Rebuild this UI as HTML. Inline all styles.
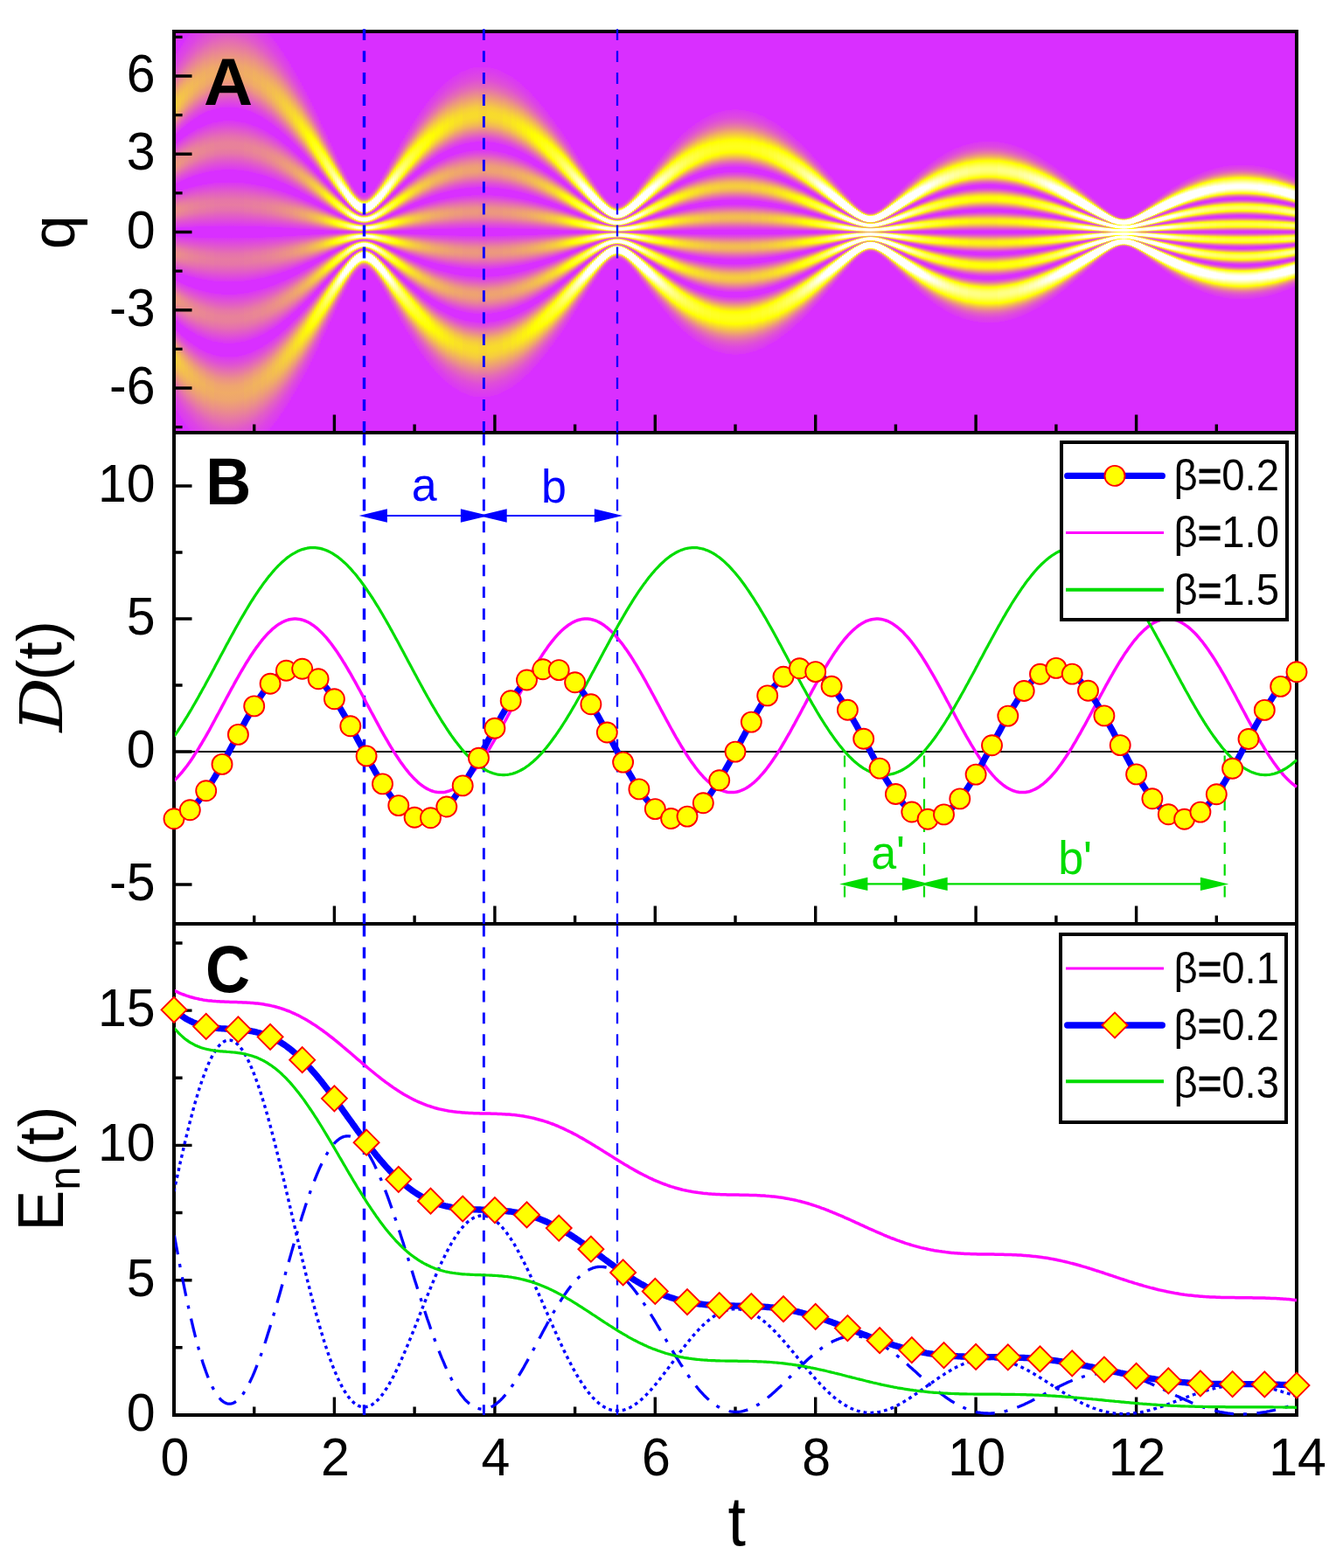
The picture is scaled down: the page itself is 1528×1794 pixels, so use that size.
<!DOCTYPE html>
<html lang="en"><head><meta charset="utf-8"><title>Damped quantum oscillator: q, D(t), En(t) versus t</title>
<style>html,body{margin:0;padding:0;background:#fff}body{width:1528px;height:1794px;overflow:hidden}svg{display:block}text{font-family:"Liberation Sans",Arial,Helvetica,sans-serif;fill:#000}.tk{font-size:59px}.ti{font-size:70px}.pl{font-size:72px;font-weight:bold}.lg{font-size:48px}.an{font-size:52px}.e{text-anchor:end}.m{text-anchor:middle}.eq{stroke:#000;stroke-width:1.1px}.sd{font-family:'DejaVu Serif','Liberation Serif',serif;font-style:italic;font-size:68px}</style></head><body>
<svg width="1528" height="1794" viewBox="0 0 1528 1794">
<defs>
<clipPath id="cA"><rect x="199" y="36" width="1284" height="459"/></clipPath>
<clipPath id="cB"><rect x="200" y="495" width="1284" height="562"/></clipPath>
<clipPath id="cC"><rect x="200" y="1057" width="1284" height="563"/></clipPath>
<linearGradient id="h0" gradientUnits="userSpaceOnUse" x1="0" y1="0" x2="0" y2="4.7" spreadMethod="reflect"><stop offset="0" stop-color="#d92fff"/><stop offset=".0218" stop-color="#d92fff"/><stop offset=".0223" stop-color="#db37f5"/><stop offset=".0516" stop-color="#e056cf"/><stop offset=".0793" stop-color="#e572ad"/><stop offset=".0989" stop-color="#e77ba2"/><stop offset=".1181" stop-color="#e676a8"/><stop offset=".142" stop-color="#e261c2"/><stop offset=".1787" stop-color="#db39f2"/><stop offset=".1809" stop-color="#db38f5"/><stop offset=".1814" stop-color="#d92fff"/><stop offset=".2266" stop-color="#d92fff"/><stop offset=".2271" stop-color="#db38f4"/><stop offset=".2553" stop-color="#e055d1"/><stop offset=".2867" stop-color="#e677a7"/><stop offset=".3074" stop-color="#e88299"/><stop offset=".3271" stop-color="#e8809c"/><stop offset=".35" stop-color="#e56fb0"/><stop offset=".3995" stop-color="#db3bf0"/><stop offset=".4048" stop-color="#db37f5"/><stop offset=".4053" stop-color="#d92fff"/><stop offset=".4543" stop-color="#d92fff"/><stop offset=".4548" stop-color="#db37f5"/><stop offset=".4814" stop-color="#df51d5"/><stop offset=".534" stop-color="#eb9088"/><stop offset=".5606" stop-color="#efa56f"/><stop offset=".5862" stop-color="#f0ab67"/><stop offset=".6144" stop-color="#eea56f"/><stop offset=".6543" stop-color="#ea8b8e"/><stop offset=".7229" stop-color="#e158cc"/><stop offset=".7713" stop-color="#dc41e9"/><stop offset=".809" stop-color="#db37f5"/><stop offset=".8096" stop-color="#d92fff"/><stop offset="1" stop-color="#d92fff"/></linearGradient>
<linearGradient id="h1" gradientUnits="userSpaceOnUse" x1="0" y1="0" x2="0" y2="4.7" spreadMethod="reflect"><stop offset="0" stop-color="#d92fff"/><stop offset=".0218" stop-color="#d92fff"/><stop offset=".0223" stop-color="#db38f4"/><stop offset=".0505" stop-color="#e056cf"/><stop offset=".0787" stop-color="#e674ab"/><stop offset=".0979" stop-color="#e77da0"/><stop offset=".1165" stop-color="#e779a4"/><stop offset=".1388" stop-color="#e366bc"/><stop offset=".1782" stop-color="#db3af2"/><stop offset=".1814" stop-color="#db37f5"/><stop offset=".1819" stop-color="#d92fff"/><stop offset=".2261" stop-color="#d92fff"/><stop offset=".2266" stop-color="#db37f5"/><stop offset=".2537" stop-color="#e054d2"/><stop offset=".2862" stop-color="#e679a5"/><stop offset=".3064" stop-color="#e98497"/><stop offset=".3261" stop-color="#e88398"/><stop offset=".3484" stop-color="#e573ac"/><stop offset=".3995" stop-color="#db3cef"/><stop offset=".4053" stop-color="#db37f5"/><stop offset=".4059" stop-color="#d92fff"/><stop offset=".4543" stop-color="#d92fff"/><stop offset=".4548" stop-color="#db38f4"/><stop offset=".4809" stop-color="#df51d5"/><stop offset=".534" stop-color="#eb9384"/><stop offset=".5601" stop-color="#efa86b"/><stop offset=".5851" stop-color="#f0af62"/><stop offset=".6128" stop-color="#efa969"/><stop offset=".6505" stop-color="#eb9187"/><stop offset=".7218" stop-color="#e15aca"/><stop offset=".7691" stop-color="#dd43e7"/><stop offset=".8106" stop-color="#db37f5"/><stop offset=".8112" stop-color="#d92fff"/><stop offset="1" stop-color="#d92fff"/></linearGradient>
<linearGradient id="h2" gradientUnits="userSpaceOnUse" x1="0" y1="0" x2="0" y2="4.7" spreadMethod="reflect"><stop offset="0" stop-color="#d92fff"/><stop offset=".0213" stop-color="#d92fff"/><stop offset=".0218" stop-color="#db37f5"/><stop offset=".0484" stop-color="#e054d1"/><stop offset=".0777" stop-color="#e675a9"/><stop offset=".0968" stop-color="#e87f9d"/><stop offset=".1149" stop-color="#e77ca1"/><stop offset=".1362" stop-color="#e46ab6"/><stop offset=".1782" stop-color="#db3af1"/><stop offset=".1814" stop-color="#db38f4"/><stop offset=".1819" stop-color="#d92fff"/><stop offset=".2255" stop-color="#d92fff"/><stop offset=".2261" stop-color="#db37f5"/><stop offset=".2521" stop-color="#e053d3"/><stop offset=".2856" stop-color="#e77aa3"/><stop offset=".3059" stop-color="#e98794"/><stop offset=".325" stop-color="#e98695"/><stop offset=".3468" stop-color="#e676a7"/><stop offset=".3995" stop-color="#db3cef"/><stop offset=".4053" stop-color="#db38f4"/><stop offset=".4059" stop-color="#d92fff"/><stop offset=".4537" stop-color="#d92fff"/><stop offset=".4543" stop-color="#db38f4"/><stop offset=".4798" stop-color="#df51d5"/><stop offset=".5335" stop-color="#ec9681"/><stop offset=".559" stop-color="#f0ab67"/><stop offset=".5835" stop-color="#f1b35d"/><stop offset=".6101" stop-color="#f0ae63"/><stop offset=".6457" stop-color="#ec987f"/><stop offset=".7207" stop-color="#e15cc8"/><stop offset=".7676" stop-color="#dd44e5"/><stop offset=".8117" stop-color="#db37f5"/><stop offset=".8122" stop-color="#d92fff"/><stop offset="1" stop-color="#d92fff"/></linearGradient>
<linearGradient id="h3" gradientUnits="userSpaceOnUse" x1="0" y1="0" x2="0" y2="4.7" spreadMethod="reflect"><stop offset="0" stop-color="#d92fff"/><stop offset=".0207" stop-color="#d92fff"/><stop offset=".0213" stop-color="#db37f5"/><stop offset=".0468" stop-color="#e053d2"/><stop offset=".0766" stop-color="#e676a7"/><stop offset=".0957" stop-color="#e8819a"/><stop offset=".1138" stop-color="#e87f9d"/><stop offset=".1346" stop-color="#e56eb2"/><stop offset=".1782" stop-color="#db3bf1"/><stop offset=".1819" stop-color="#db38f4"/><stop offset=".1824" stop-color="#d92fff"/><stop offset=".2255" stop-color="#d92fff"/><stop offset=".2261" stop-color="#db38f4"/><stop offset=".2516" stop-color="#e054d2"/><stop offset=".2851" stop-color="#e77ca0"/><stop offset=".3053" stop-color="#e98990"/><stop offset=".3245" stop-color="#e98991"/><stop offset=".3457" stop-color="#e77aa3"/><stop offset=".3995" stop-color="#db3dee"/><stop offset=".4059" stop-color="#db38f5"/><stop offset=".4064" stop-color="#d92fff"/><stop offset=".4532" stop-color="#d92fff"/><stop offset=".4537" stop-color="#db37f5"/><stop offset=".4782" stop-color="#df50d6"/><stop offset=".5335" stop-color="#ec997d"/><stop offset=".559" stop-color="#f0af62"/><stop offset=".583" stop-color="#f2b758"/><stop offset=".609" stop-color="#f1b25e"/><stop offset=".6431" stop-color="#ed9d78"/><stop offset=".7207" stop-color="#e25ec6"/><stop offset=".7665" stop-color="#dd45e4"/><stop offset=".8133" stop-color="#db37f5"/><stop offset=".8138" stop-color="#d92fff"/><stop offset="1" stop-color="#d92fff"/></linearGradient>
<linearGradient id="h4" gradientUnits="userSpaceOnUse" x1="0" y1="0" x2="0" y2="4.7" spreadMethod="reflect"><stop offset="0" stop-color="#d92fff"/><stop offset=".0207" stop-color="#d92fff"/><stop offset=".0213" stop-color="#db38f4"/><stop offset=".0463" stop-color="#e054d2"/><stop offset=".0766" stop-color="#e679a5"/><stop offset=".0952" stop-color="#e88497"/><stop offset=".1128" stop-color="#e88299"/><stop offset=".133" stop-color="#e572ad"/><stop offset=".1782" stop-color="#db3bf0"/><stop offset=".1824" stop-color="#db37f5"/><stop offset=".183" stop-color="#d92fff"/><stop offset=".225" stop-color="#d92fff"/><stop offset=".2255" stop-color="#db37f5"/><stop offset=".25" stop-color="#e053d3"/><stop offset=".2846" stop-color="#e77e9e"/><stop offset=".3043" stop-color="#ea8c8d"/><stop offset=".3229" stop-color="#ea8c8d"/><stop offset=".3431" stop-color="#e87f9d"/><stop offset=".4" stop-color="#db3dee"/><stop offset=".4064" stop-color="#db37f5"/><stop offset=".4069" stop-color="#d92fff"/><stop offset=".4527" stop-color="#d92fff"/><stop offset=".4532" stop-color="#db37f5"/><stop offset=".4771" stop-color="#df50d7"/><stop offset=".5335" stop-color="#ed9c79"/><stop offset=".5585" stop-color="#f1b35e"/><stop offset=".5824" stop-color="#f3bb53"/><stop offset=".608" stop-color="#f2b759"/><stop offset=".641" stop-color="#eea272"/><stop offset=".7202" stop-color="#e25fc4"/><stop offset=".7654" stop-color="#dd46e3"/><stop offset=".8149" stop-color="#db37f5"/><stop offset=".8154" stop-color="#d92fff"/><stop offset="1" stop-color="#d92fff"/></linearGradient>
<linearGradient id="h5" gradientUnits="userSpaceOnUse" x1="0" y1="0" x2="0" y2="4.7" spreadMethod="reflect"><stop offset="0" stop-color="#d92fff"/><stop offset=".0202" stop-color="#d92fff"/><stop offset=".0207" stop-color="#db37f5"/><stop offset=".0447" stop-color="#e053d3"/><stop offset=".0755" stop-color="#e77aa3"/><stop offset=".0941" stop-color="#e98694"/><stop offset=".1117" stop-color="#e98596"/><stop offset=".1309" stop-color="#e676a8"/><stop offset=".1782" stop-color="#db3bf0"/><stop offset=".1824" stop-color="#db38f4"/><stop offset=".183" stop-color="#d92fff"/><stop offset=".2245" stop-color="#d92fff"/><stop offset=".225" stop-color="#db37f5"/><stop offset=".2484" stop-color="#df52d5"/><stop offset=".284" stop-color="#e8809c"/><stop offset=".3037" stop-color="#ea8e8a"/><stop offset=".3218" stop-color="#eb8f89"/><stop offset=".3415" stop-color="#e88399"/><stop offset=".3734" stop-color="#e15cc8"/><stop offset=".4016" stop-color="#db3cf0"/><stop offset=".4064" stop-color="#db38f4"/><stop offset=".4069" stop-color="#d92fff"/><stop offset=".4527" stop-color="#d92fff"/><stop offset=".4532" stop-color="#db38f4"/><stop offset=".4766" stop-color="#df50d6"/><stop offset=".533" stop-color="#ed9f76"/><stop offset=".5574" stop-color="#f2b65a"/><stop offset=".5809" stop-color="#f3bf4e"/><stop offset=".6059" stop-color="#f3bc52"/><stop offset=".6372" stop-color="#efa96a"/><stop offset=".7202" stop-color="#e261c2"/><stop offset=".7649" stop-color="#dd47e2"/><stop offset=".816" stop-color="#db37f5"/><stop offset=".8165" stop-color="#d92fff"/><stop offset="1" stop-color="#d92fff"/></linearGradient>
<linearGradient id="h6" gradientUnits="userSpaceOnUse" x1="0" y1="0" x2="0" y2="4.7" spreadMethod="reflect"><stop offset="0" stop-color="#d92fff"/><stop offset=".0202" stop-color="#d92fff"/><stop offset=".0207" stop-color="#db38f4"/><stop offset=".0441" stop-color="#e053d3"/><stop offset=".0755" stop-color="#e77ca0"/><stop offset=".0936" stop-color="#e98991"/><stop offset=".1106" stop-color="#e98892"/><stop offset=".1293" stop-color="#e77aa3"/><stop offset=".1782" stop-color="#db3cef"/><stop offset=".183" stop-color="#db38f5"/><stop offset=".1835" stop-color="#d92fff"/><stop offset=".2245" stop-color="#d92fff"/><stop offset=".225" stop-color="#db38f4"/><stop offset=".2479" stop-color="#df52d4"/><stop offset=".2835" stop-color="#e88299"/><stop offset=".3027" stop-color="#eb9187"/><stop offset=".3207" stop-color="#eb9285"/><stop offset=".3399" stop-color="#e98794"/><stop offset=".3681" stop-color="#e365bd"/><stop offset=".3995" stop-color="#dc3eed"/><stop offset=".4069" stop-color="#db38f5"/><stop offset=".4074" stop-color="#d92fff"/><stop offset=".4521" stop-color="#d92fff"/><stop offset=".4527" stop-color="#db38f5"/><stop offset=".4755" stop-color="#df50d7"/><stop offset=".533" stop-color="#eea371"/><stop offset=".5574" stop-color="#f2ba54"/><stop offset=".5803" stop-color="#f4c449"/><stop offset=".6048" stop-color="#f4c04d"/><stop offset=".6351" stop-color="#f0ae63"/><stop offset=".7202" stop-color="#e263c0"/><stop offset=".7638" stop-color="#de48e0"/><stop offset=".8144" stop-color="#db38f4"/><stop offset=".8176" stop-color="#db37f5"/><stop offset=".8181" stop-color="#d92fff"/><stop offset="1" stop-color="#d92fff"/></linearGradient>
<linearGradient id="h7" gradientUnits="userSpaceOnUse" x1="0" y1="0" x2="0" y2="4.7" spreadMethod="reflect"><stop offset="0" stop-color="#d92fff"/><stop offset=".0197" stop-color="#d92fff"/><stop offset=".0202" stop-color="#db38f5"/><stop offset=".0426" stop-color="#df52d4"/><stop offset=".075" stop-color="#e77e9e"/><stop offset=".0931" stop-color="#ea8b8e"/><stop offset=".1101" stop-color="#ea8b8e"/><stop offset=".1287" stop-color="#e77d9f"/><stop offset=".1782" stop-color="#db3cef"/><stop offset=".1835" stop-color="#db37f5"/><stop offset=".184" stop-color="#d92fff"/><stop offset=".2239" stop-color="#d92fff"/><stop offset=".2245" stop-color="#db37f5"/><stop offset=".2468" stop-color="#df52d5"/><stop offset=".2835" stop-color="#e98496"/><stop offset=".3027" stop-color="#eb9483"/><stop offset=".3202" stop-color="#ec9581"/><stop offset=".3394" stop-color="#ea8a90"/><stop offset=".3665" stop-color="#e469b8"/><stop offset=".3984" stop-color="#dc40eb"/><stop offset=".4074" stop-color="#db37f5"/><stop offset=".408" stop-color="#d92fff"/><stop offset=".4516" stop-color="#d92fff"/><stop offset=".4521" stop-color="#db37f5"/><stop offset=".4745" stop-color="#df50d7"/><stop offset=".533" stop-color="#efa66d"/><stop offset=".5569" stop-color="#f3be50"/><stop offset=".5798" stop-color="#f5c843"/><stop offset=".6037" stop-color="#f4c547"/><stop offset=".633" stop-color="#f1b45c"/><stop offset=".7207" stop-color="#e364be"/><stop offset=".7638" stop-color="#de49df"/><stop offset=".8133" stop-color="#db39f3"/><stop offset=".8186" stop-color="#db37f5"/><stop offset=".8191" stop-color="#d92fff"/><stop offset="1" stop-color="#d92fff"/></linearGradient>
<linearGradient id="h8" gradientUnits="userSpaceOnUse" x1="0" y1="0" x2="0" y2="4.7" spreadMethod="reflect"><stop offset="0" stop-color="#d92fff"/><stop offset=".0191" stop-color="#d92fff"/><stop offset=".0197" stop-color="#db37f5"/><stop offset=".0415" stop-color="#df52d5"/><stop offset=".0745" stop-color="#e8809c"/><stop offset=".0926" stop-color="#ea8e8b"/><stop offset=".109" stop-color="#ea8e8a"/><stop offset=".1271" stop-color="#e8819a"/><stop offset=".1569" stop-color="#e158cc"/><stop offset=".1809" stop-color="#db3af1"/><stop offset=".1835" stop-color="#db38f4"/><stop offset=".184" stop-color="#d92fff"/><stop offset=".2239" stop-color="#d92fff"/><stop offset=".2245" stop-color="#db38f4"/><stop offset=".2463" stop-color="#df52d4"/><stop offset=".283" stop-color="#e98794"/><stop offset=".3021" stop-color="#ec9780"/><stop offset=".3197" stop-color="#ec997d"/><stop offset=".3383" stop-color="#ea8e8b"/><stop offset=".3633" stop-color="#e56fb0"/><stop offset=".3973" stop-color="#dc41e9"/><stop offset=".4074" stop-color="#db38f4"/><stop offset=".408" stop-color="#d92fff"/><stop offset=".4516" stop-color="#d92fff"/><stop offset=".4521" stop-color="#db38f4"/><stop offset=".4739" stop-color="#df50d7"/><stop offset=".5324" stop-color="#efa969"/><stop offset=".5564" stop-color="#f4c24b"/><stop offset=".5787" stop-color="#f6cd3e"/><stop offset=".6021" stop-color="#f5cb40"/><stop offset=".6303" stop-color="#f2ba55"/><stop offset=".7207" stop-color="#e365bc"/><stop offset=".7633" stop-color="#de4ade"/><stop offset=".8122" stop-color="#db39f3"/><stop offset=".8202" stop-color="#db37f5"/><stop offset=".8207" stop-color="#d92fff"/><stop offset="1" stop-color="#d92fff"/></linearGradient>
<linearGradient id="h9" gradientUnits="userSpaceOnUse" x1="0" y1="0" x2="0" y2="4.7" spreadMethod="reflect"><stop offset="0" stop-color="#d92fff"/><stop offset=".0191" stop-color="#d92fff"/><stop offset=".0197" stop-color="#db38f4"/><stop offset=".041" stop-color="#df52d4"/><stop offset=".0739" stop-color="#e8829a"/><stop offset=".0915" stop-color="#eb9088"/><stop offset=".108" stop-color="#eb9286"/><stop offset=".1255" stop-color="#e98595"/><stop offset=".1511" stop-color="#e263c0"/><stop offset=".1782" stop-color="#dc3dee"/><stop offset=".184" stop-color="#db37f5"/><stop offset=".1846" stop-color="#d92fff"/><stop offset=".2234" stop-color="#d92fff"/><stop offset=".2239" stop-color="#db38f5"/><stop offset=".2452" stop-color="#df51d5"/><stop offset=".283" stop-color="#e98990"/><stop offset=".3016" stop-color="#ec9a7c"/><stop offset=".3186" stop-color="#ed9c79"/><stop offset=".3367" stop-color="#eb9286"/><stop offset=".3601" stop-color="#e676a8"/><stop offset=".3968" stop-color="#dd42e7"/><stop offset=".408" stop-color="#db38f4"/><stop offset=".4085" stop-color="#d92fff"/><stop offset=".4511" stop-color="#d92fff"/><stop offset=".4516" stop-color="#db38f5"/><stop offset=".4729" stop-color="#df4fd7"/><stop offset=".5324" stop-color="#f0ad65"/><stop offset=".5559" stop-color="#f5c646"/><stop offset=".5777" stop-color="#f7d138"/><stop offset=".6005" stop-color="#f6d03a"/><stop offset=".6277" stop-color="#f4c04d"/><stop offset=".6803" stop-color="#ea8d8c"/><stop offset=".7277" stop-color="#e262c1"/><stop offset=".7697" stop-color="#de48e1"/><stop offset=".8191" stop-color="#db38f4"/><stop offset=".8218" stop-color="#db37f5"/><stop offset=".8223" stop-color="#d92fff"/><stop offset="1" stop-color="#d92fff"/></linearGradient>
<linearGradient id="h10" gradientUnits="userSpaceOnUse" x1="0" y1="0" x2="0" y2="4.7" spreadMethod="reflect"><stop offset="0" stop-color="#d92fff"/><stop offset=".0186" stop-color="#d92fff"/><stop offset=".0191" stop-color="#db37f5"/><stop offset=".0399" stop-color="#df51d5"/><stop offset=".0739" stop-color="#e98496"/><stop offset=".0915" stop-color="#eb9384"/><stop offset=".1074" stop-color="#ec9582"/><stop offset=".1245" stop-color="#e98991"/><stop offset=".1484" stop-color="#e468b9"/><stop offset=".1771" stop-color="#dc3fec"/><stop offset=".184" stop-color="#db38f4"/><stop offset=".1846" stop-color="#d92fff"/><stop offset=".2229" stop-color="#d92fff"/><stop offset=".2234" stop-color="#db37f5"/><stop offset=".2441" stop-color="#df51d6"/><stop offset=".2824" stop-color="#ea8b8e"/><stop offset=".3011" stop-color="#ed9d79"/><stop offset=".3181" stop-color="#eea075"/><stop offset=".3356" stop-color="#ec9681"/><stop offset=".358" stop-color="#e77ba2"/><stop offset=".3963" stop-color="#dd44e6"/><stop offset=".4085" stop-color="#db37f5"/><stop offset=".409" stop-color="#d92fff"/><stop offset=".4505" stop-color="#d92fff"/><stop offset=".4511" stop-color="#db37f5"/><stop offset=".4718" stop-color="#df4fd8"/><stop offset=".5324" stop-color="#f1b160"/><stop offset=".5553" stop-color="#f5ca41"/><stop offset=".5771" stop-color="#f8d632"/><stop offset=".6" stop-color="#f7d533"/><stop offset=".6266" stop-color="#f5c646"/><stop offset=".6734" stop-color="#ec977f"/><stop offset=".7234" stop-color="#e367bb"/><stop offset=".7649" stop-color="#de4bdd"/><stop offset=".8122" stop-color="#db3af2"/><stop offset=".8229" stop-color="#db37f5"/><stop offset=".8234" stop-color="#d92fff"/><stop offset="1" stop-color="#d92fff"/></linearGradient>
<linearGradient id="h11" gradientUnits="userSpaceOnUse" x1="0" y1="0" x2="0" y2="4.7" spreadMethod="reflect"><stop offset="0" stop-color="#d92fff"/><stop offset=".0186" stop-color="#d92fff"/><stop offset=".0191" stop-color="#db38f4"/><stop offset=".0394" stop-color="#df52d5"/><stop offset=".0734" stop-color="#e98694"/><stop offset=".091" stop-color="#ec9681"/><stop offset=".1069" stop-color="#ec987e"/><stop offset=".1234" stop-color="#ea8d8c"/><stop offset=".1457" stop-color="#e56fb1"/><stop offset=".1761" stop-color="#dc41e9"/><stop offset=".1846" stop-color="#db38f4"/><stop offset=".1851" stop-color="#d92fff"/><stop offset=".2229" stop-color="#d92fff"/><stop offset=".2234" stop-color="#db38f4"/><stop offset=".2436" stop-color="#df51d5"/><stop offset=".2824" stop-color="#ea8e8a"/><stop offset=".3005" stop-color="#eea075"/><stop offset=".317" stop-color="#eea370"/><stop offset=".3346" stop-color="#ed9a7c"/><stop offset=".3559" stop-color="#e8819b"/><stop offset=".3963" stop-color="#dd44e5"/><stop offset=".4085" stop-color="#db38f4"/><stop offset=".409" stop-color="#d92fff"/><stop offset=".4505" stop-color="#d92fff"/><stop offset=".4511" stop-color="#db38f4"/><stop offset=".4718" stop-color="#df50d7"/><stop offset=".5324" stop-color="#f1b55b"/><stop offset=".5553" stop-color="#f6cf3b"/><stop offset=".5766" stop-color="#f8db2c"/><stop offset=".5989" stop-color="#f8da2d"/><stop offset=".625" stop-color="#f6cc3f"/><stop offset=".667" stop-color="#eea173"/><stop offset=".7197" stop-color="#e46cb5"/><stop offset=".7601" stop-color="#df4ed8"/><stop offset=".8053" stop-color="#db3cef"/><stop offset=".8245" stop-color="#db37f5"/><stop offset=".825" stop-color="#d92fff"/><stop offset="1" stop-color="#d92fff"/></linearGradient>
<linearGradient id="h12" gradientUnits="userSpaceOnUse" x1="0" y1="0" x2="0" y2="4.7" spreadMethod="reflect"><stop offset="0" stop-color="#d92fff"/><stop offset=".0181" stop-color="#d92fff"/><stop offset=".0186" stop-color="#db38f5"/><stop offset=".0383" stop-color="#df51d5"/><stop offset=".0734" stop-color="#e98991"/><stop offset=".0904" stop-color="#ec997d"/><stop offset=".1059" stop-color="#ed9c7a"/><stop offset=".1223" stop-color="#eb9187"/><stop offset=".1436" stop-color="#e674aa"/><stop offset=".1755" stop-color="#dc42e8"/><stop offset=".1851" stop-color="#db37f5"/><stop offset=".1856" stop-color="#d92fff"/><stop offset=".2223" stop-color="#d92fff"/><stop offset=".2229" stop-color="#db37f5"/><stop offset=".2426" stop-color="#df50d6"/><stop offset=".2819" stop-color="#eb9088"/><stop offset=".3" stop-color="#eea371"/><stop offset=".3165" stop-color="#efa76c"/><stop offset=".3335" stop-color="#ed9e76"/><stop offset=".3543" stop-color="#e98595"/><stop offset=".3963" stop-color="#dd45e4"/><stop offset=".409" stop-color="#db38f5"/><stop offset=".4096" stop-color="#d92fff"/><stop offset=".45" stop-color="#d92fff"/><stop offset=".4505" stop-color="#db37f5"/><stop offset=".4707" stop-color="#df4fd7"/><stop offset=".5059" stop-color="#ea8c8d"/><stop offset=".5356" stop-color="#f3bd50"/><stop offset=".5574" stop-color="#f7d632"/><stop offset=".5782" stop-color="#f9e125"/><stop offset=".6" stop-color="#f9df27"/><stop offset=".6261" stop-color="#f6cf3a"/><stop offset=".6691" stop-color="#eea371"/><stop offset=".7197" stop-color="#e46db2"/><stop offset=".7596" stop-color="#df50d7"/><stop offset=".8043" stop-color="#db3dee"/><stop offset=".8255" stop-color="#db37f5"/><stop offset=".8261" stop-color="#d92fff"/><stop offset="1" stop-color="#d92fff"/></linearGradient>
<linearGradient id="h13" gradientUnits="userSpaceOnUse" x1="0" y1="0" x2="0" y2="4.7" spreadMethod="reflect"><stop offset="0" stop-color="#d92fff"/><stop offset=".0176" stop-color="#d92fff"/><stop offset=".0181" stop-color="#db37f5"/><stop offset=".0372" stop-color="#df50d6"/><stop offset=".0734" stop-color="#ea8c8d"/><stop offset=".0904" stop-color="#ed9c79"/><stop offset=".1059" stop-color="#ed9f76"/><stop offset=".1218" stop-color="#ec9583"/><stop offset=".142" stop-color="#e679a5"/><stop offset=".1755" stop-color="#dd42e7"/><stop offset=".1851" stop-color="#db38f4"/><stop offset=".1856" stop-color="#d92fff"/><stop offset=".2223" stop-color="#d92fff"/><stop offset=".2229" stop-color="#db38f4"/><stop offset=".242" stop-color="#df51d6"/><stop offset=".2819" stop-color="#eb9384"/><stop offset=".3" stop-color="#efa66d"/><stop offset=".316" stop-color="#f0ab67"/><stop offset=".3324" stop-color="#eea371"/><stop offset=".3521" stop-color="#ea8b8e"/><stop offset=".3963" stop-color="#dd46e3"/><stop offset=".4096" stop-color="#db37f5"/><stop offset=".4101" stop-color="#d92fff"/><stop offset=".45" stop-color="#d92fff"/><stop offset=".4505" stop-color="#db38f4"/><stop offset=".4702" stop-color="#df50d7"/><stop offset=".5027" stop-color="#e98991"/><stop offset=".5335" stop-color="#f3bf4f"/><stop offset=".5553" stop-color="#f8d92e"/><stop offset=".5761" stop-color="#fae61f"/><stop offset=".5973" stop-color="#fae61f"/><stop offset=".6218" stop-color="#f8d830"/><stop offset=".658" stop-color="#f1b35d"/><stop offset=".716" stop-color="#e573ac"/><stop offset=".7553" stop-color="#e053d2"/><stop offset=".7984" stop-color="#dc3feb"/><stop offset=".8271" stop-color="#db37f5"/><stop offset=".8277" stop-color="#d92fff"/><stop offset="1" stop-color="#d92fff"/></linearGradient>
<linearGradient id="h14" gradientUnits="userSpaceOnUse" x1="0" y1="0" x2="0" y2="4.7" spreadMethod="reflect"><stop offset="0" stop-color="#d92fff"/><stop offset=".0176" stop-color="#d92fff"/><stop offset=".0181" stop-color="#db38f4"/><stop offset=".0367" stop-color="#df51d6"/><stop offset=".0729" stop-color="#ea8e8b"/><stop offset=".0894" stop-color="#ed9f76"/><stop offset=".1048" stop-color="#eea371"/><stop offset=".1202" stop-color="#ec997d"/><stop offset=".1394" stop-color="#e87f9c"/><stop offset=".175" stop-color="#dd44e5"/><stop offset=".1856" stop-color="#db37f5"/><stop offset=".1862" stop-color="#d92fff"/><stop offset=".2218" stop-color="#d92fff"/><stop offset=".2223" stop-color="#db38f5"/><stop offset=".241" stop-color="#df50d7"/><stop offset=".2819" stop-color="#ec9680"/><stop offset=".2995" stop-color="#efaa69"/><stop offset=".3154" stop-color="#f0af63"/><stop offset=".3319" stop-color="#efa76c"/><stop offset=".3511" stop-color="#eb9088"/><stop offset=".3957" stop-color="#dd47e1"/><stop offset=".4096" stop-color="#db38f4"/><stop offset=".4101" stop-color="#d92fff"/><stop offset=".4495" stop-color="#d92fff"/><stop offset=".45" stop-color="#db38f4"/><stop offset=".4691" stop-color="#df4fd8"/><stop offset=".4989" stop-color="#e98496"/><stop offset=".5314" stop-color="#f3c04d"/><stop offset=".5532" stop-color="#f9dc2b"/><stop offset=".5734" stop-color="#fbea19"/><stop offset=".5941" stop-color="#fcec17"/><stop offset=".6176" stop-color="#f9e125"/><stop offset=".6495" stop-color="#f4c14c"/><stop offset=".7144" stop-color="#e677a7"/><stop offset=".7532" stop-color="#e056cf"/><stop offset=".7952" stop-color="#dc41e9"/><stop offset=".8287" stop-color="#db37f5"/><stop offset=".8293" stop-color="#d92fff"/><stop offset="1" stop-color="#d92fff"/></linearGradient>
<linearGradient id="h15" gradientUnits="userSpaceOnUse" x1="0" y1="0" x2="0" y2="4.7" spreadMethod="reflect"><stop offset="0" stop-color="#d92fff"/><stop offset=".017" stop-color="#d92fff"/><stop offset=".0176" stop-color="#db37f5"/><stop offset=".0356" stop-color="#df50d7"/><stop offset=".0729" stop-color="#eb9187"/><stop offset=".0894" stop-color="#eea272"/><stop offset=".1043" stop-color="#efa66d"/><stop offset=".1197" stop-color="#ed9d78"/><stop offset=".1383" stop-color="#e88497"/><stop offset=".175" stop-color="#dd44e5"/><stop offset=".1856" stop-color="#db38f4"/><stop offset=".1862" stop-color="#d92fff"/><stop offset=".2213" stop-color="#d92fff"/><stop offset=".2218" stop-color="#db37f5"/><stop offset=".2399" stop-color="#df4fd7"/><stop offset=".2819" stop-color="#ec9a7c"/><stop offset=".2995" stop-color="#f0ad64"/><stop offset=".3154" stop-color="#f1b35e"/><stop offset=".3314" stop-color="#f0ab67"/><stop offset=".35" stop-color="#ec9483"/><stop offset=".3957" stop-color="#de48e0"/><stop offset=".4101" stop-color="#db37f5"/><stop offset=".4106" stop-color="#d92fff"/><stop offset=".4489" stop-color="#d92fff"/><stop offset=".4495" stop-color="#db37f5"/><stop offset=".4686" stop-color="#df4fd8"/><stop offset=".4968" stop-color="#e88398"/><stop offset=".5309" stop-color="#f4c349"/><stop offset=".5527" stop-color="#fae125"/><stop offset=".5729" stop-color="#fcf012"/><stop offset=".5936" stop-color="#fdf210"/><stop offset=".6165" stop-color="#fbe71e"/><stop offset=".6473" stop-color="#f5c843"/><stop offset=".7138" stop-color="#e779a4"/><stop offset=".7521" stop-color="#e058cd"/><stop offset=".7931" stop-color="#dc42e8"/><stop offset=".8298" stop-color="#db37f5"/><stop offset=".8303" stop-color="#d92fff"/><stop offset="1" stop-color="#d92fff"/></linearGradient>
<linearGradient id="h16" gradientUnits="userSpaceOnUse" x1="0" y1="0" x2="0" y2="4.7" spreadMethod="reflect"><stop offset="0" stop-color="#d92fff"/><stop offset=".017" stop-color="#d92fff"/><stop offset=".0176" stop-color="#db38f4"/><stop offset=".0351" stop-color="#df50d7"/><stop offset=".0729" stop-color="#eb9484"/><stop offset=".0894" stop-color="#efa66d"/><stop offset=".1043" stop-color="#efaa68"/><stop offset=".1191" stop-color="#eea173"/><stop offset=".1372" stop-color="#e98892"/><stop offset=".175" stop-color="#dd45e4"/><stop offset=".1862" stop-color="#db38f5"/><stop offset=".1867" stop-color="#d92fff"/><stop offset=".2213" stop-color="#d92fff"/><stop offset=".2218" stop-color="#db38f4"/><stop offset=".2399" stop-color="#df50d6"/><stop offset=".2814" stop-color="#ed9c79"/><stop offset=".2984" stop-color="#f1b060"/><stop offset=".3138" stop-color="#f2b759"/><stop offset=".3298" stop-color="#f1b061"/><stop offset=".3479" stop-color="#ed9b7b"/><stop offset=".3963" stop-color="#de48e0"/><stop offset=".4101" stop-color="#db38f4"/><stop offset=".4106" stop-color="#d92fff"/><stop offset=".4489" stop-color="#d92fff"/><stop offset=".4495" stop-color="#db38f4"/><stop offset=".4681" stop-color="#df4fd7"/><stop offset=".4947" stop-color="#e8819a"/><stop offset=".5298" stop-color="#f5c646"/><stop offset=".5511" stop-color="#fae520"/><stop offset=".5707" stop-color="#fdf50c"/><stop offset=".591" stop-color="#fef908"/><stop offset=".6133" stop-color="#fcef14"/><stop offset=".642" stop-color="#f7d336"/><stop offset=".7144" stop-color="#e77ba2"/><stop offset=".7521" stop-color="#e159cb"/><stop offset=".7926" stop-color="#dd43e7"/><stop offset=".8314" stop-color="#db37f5"/><stop offset=".8319" stop-color="#d92fff"/><stop offset="1" stop-color="#d92fff"/></linearGradient>
<linearGradient id="h17" gradientUnits="userSpaceOnUse" x1="0" y1="0" x2="0" y2="4.7" spreadMethod="reflect"><stop offset="0" stop-color="#d92fff"/><stop offset=".0165" stop-color="#d92fff"/><stop offset=".017" stop-color="#db37f5"/><stop offset=".034" stop-color="#df4fd8"/><stop offset=".0729" stop-color="#ec9780"/><stop offset=".0888" stop-color="#efa969"/><stop offset=".1032" stop-color="#f0ae64"/><stop offset=".1181" stop-color="#efa66e"/><stop offset=".1356" stop-color="#ea8e8b"/><stop offset=".175" stop-color="#dd46e3"/><stop offset=".1862" stop-color="#db38f4"/><stop offset=".1867" stop-color="#d92fff"/><stop offset=".2207" stop-color="#d92fff"/><stop offset=".2213" stop-color="#db37f5"/><stop offset=".2388" stop-color="#df4fd7"/><stop offset=".2814" stop-color="#ee9f75"/><stop offset=".2984" stop-color="#f1b45c"/><stop offset=".3138" stop-color="#f3bb54"/><stop offset=".3293" stop-color="#f1b55b"/><stop offset=".3468" stop-color="#eea075"/><stop offset=".3963" stop-color="#de49df"/><stop offset=".4106" stop-color="#db38f4"/><stop offset=".4112" stop-color="#d92fff"/><stop offset=".4484" stop-color="#d92fff"/><stop offset=".4489" stop-color="#db38f5"/><stop offset=".467" stop-color="#df4fd8"/><stop offset=".492" stop-color="#e77e9e"/><stop offset=".5287" stop-color="#f5c942"/><stop offset=".55" stop-color="#fbe91b"/><stop offset=".5697" stop-color="#fefa06"/><stop offset=".5894" stop-color="#ff0"/><stop offset=".6112" stop-color="#fdf60b"/><stop offset=".6383" stop-color="#f9dd2a"/><stop offset=".7144" stop-color="#e77d9f"/><stop offset=".7516" stop-color="#e15bc9"/><stop offset=".791" stop-color="#dd44e5"/><stop offset=".8324" stop-color="#db37f5"/><stop offset=".833" stop-color="#d92fff"/><stop offset="1" stop-color="#d92fff"/></linearGradient>
<linearGradient id="h18" gradientUnits="userSpaceOnUse" x1="0" y1="0" x2="0" y2="4.7" spreadMethod="reflect"><stop offset="0" stop-color="#d92fff"/><stop offset=".0165" stop-color="#d92fff"/><stop offset=".017" stop-color="#db38f4"/><stop offset=".034" stop-color="#df50d6"/><stop offset=".0723" stop-color="#ec997d"/><stop offset=".0883" stop-color="#f0ad65"/><stop offset=".1027" stop-color="#f1b25f"/><stop offset=".117" stop-color="#f0aa68"/><stop offset=".1335" stop-color="#eb9483"/><stop offset=".175" stop-color="#dd47e2"/><stop offset=".1867" stop-color="#db38f4"/><stop offset=".1872" stop-color="#d92fff"/><stop offset=".2207" stop-color="#d92fff"/><stop offset=".2213" stop-color="#db38f4"/><stop offset=".2383" stop-color="#df50d7"/><stop offset=".2814" stop-color="#eea371"/><stop offset=".2979" stop-color="#f2b857"/><stop offset=".3128" stop-color="#f3bf4e"/><stop offset=".3282" stop-color="#f2b955"/><stop offset=".3452" stop-color="#efa66e"/><stop offset=".3734" stop-color="#e572ad"/><stop offset=".3979" stop-color="#dd47e1"/><stop offset=".4112" stop-color="#db37f5"/><stop offset=".4117" stop-color="#d92fff"/><stop offset=".4484" stop-color="#d92fff"/><stop offset=".4489" stop-color="#db38f4"/><stop offset=".467" stop-color="#df50d7"/><stop offset=".4915" stop-color="#e87f9d"/><stop offset=".5287" stop-color="#f6ce3d"/><stop offset=".55" stop-color="#fcef14"/><stop offset=".567" stop-color="#ff0"/><stop offset=".5872" stop-color="#ffff07"/><stop offset=".609" stop-color="#fffe02"/><stop offset=".6351" stop-color="#fae61f"/><stop offset=".7149" stop-color="#e87f9d"/><stop offset=".7516" stop-color="#e15cc7"/><stop offset=".7904" stop-color="#dd45e4"/><stop offset=".834" stop-color="#db37f5"/><stop offset=".8346" stop-color="#d92fff"/><stop offset="1" stop-color="#d92fff"/></linearGradient>
<linearGradient id="h19" gradientUnits="userSpaceOnUse" x1="0" y1="0" x2="0" y2="4.7" spreadMethod="reflect"><stop offset="0" stop-color="#d92fff"/><stop offset=".016" stop-color="#d92fff"/><stop offset=".0165" stop-color="#db37f5"/><stop offset=".033" stop-color="#df4fd7"/><stop offset=".0723" stop-color="#ed9c79"/><stop offset=".0878" stop-color="#f1b061"/><stop offset=".1021" stop-color="#f2b65a"/><stop offset=".1165" stop-color="#f0af63"/><stop offset=".133" stop-color="#ec987e"/><stop offset=".175" stop-color="#dd47e1"/><stop offset=".1872" stop-color="#db37f5"/><stop offset=".1878" stop-color="#d92fff"/><stop offset=".2202" stop-color="#d92fff"/><stop offset=".2207" stop-color="#db37f5"/><stop offset=".2372" stop-color="#df4fd8"/><stop offset=".2814" stop-color="#efa76c"/><stop offset=".2979" stop-color="#f3bc52"/><stop offset=".3128" stop-color="#f4c449"/><stop offset=".3277" stop-color="#f3be50"/><stop offset=".3441" stop-color="#f0ab67"/><stop offset=".3697" stop-color="#e77ca1"/><stop offset=".3963" stop-color="#de4add"/><stop offset=".4112" stop-color="#db38f4"/><stop offset=".4117" stop-color="#d92fff"/><stop offset=".4479" stop-color="#d92fff"/><stop offset=".4484" stop-color="#db38f4"/><stop offset=".466" stop-color="#df4fd8"/><stop offset=".4894" stop-color="#e77d9f"/><stop offset=".5282" stop-color="#f7d138"/><stop offset=".5489" stop-color="#fdf30e"/><stop offset=".5596" stop-color="#ff0"/><stop offset=".5793" stop-color="#ffff0e"/><stop offset=".6" stop-color="#ffff0b"/><stop offset=".617" stop-color="#fffe01"/><stop offset=".6457" stop-color="#f9de28"/><stop offset=".7122" stop-color="#e98596"/><stop offset=".7484" stop-color="#e260c3"/><stop offset=".7862" stop-color="#de48e1"/><stop offset=".833" stop-color="#db38f4"/><stop offset=".8351" stop-color="#db37f5"/><stop offset=".8356" stop-color="#d92fff"/><stop offset="1" stop-color="#d92fff"/></linearGradient>
<linearGradient id="h20" gradientUnits="userSpaceOnUse" x1="0" y1="0" x2="0" y2="4.7" spreadMethod="reflect"><stop offset="0" stop-color="#d92fff"/><stop offset=".016" stop-color="#d92fff"/><stop offset=".0165" stop-color="#db38f4"/><stop offset=".033" stop-color="#df50d6"/><stop offset=".0723" stop-color="#eea075"/><stop offset=".0878" stop-color="#f1b45c"/><stop offset=".1016" stop-color="#f2ba55"/><stop offset=".1154" stop-color="#f1b35d"/><stop offset=".1314" stop-color="#ed9e77"/><stop offset=".175" stop-color="#de48e0"/><stop offset=".1872" stop-color="#db38f4"/><stop offset=".1878" stop-color="#d92fff"/><stop offset=".2202" stop-color="#d92fff"/><stop offset=".2207" stop-color="#db38f4"/><stop offset=".2372" stop-color="#df50d7"/><stop offset=".2814" stop-color="#f0aa68"/><stop offset=".2979" stop-color="#f4c04d"/><stop offset=".3128" stop-color="#f5c843"/><stop offset=".3277" stop-color="#f4c34a"/><stop offset=".3441" stop-color="#f0af62"/><stop offset=".3686" stop-color="#e8809b"/><stop offset=".3957" stop-color="#de4cdb"/><stop offset=".4117" stop-color="#db37f5"/><stop offset=".4122" stop-color="#d92fff"/><stop offset=".4473" stop-color="#d92fff"/><stop offset=".4479" stop-color="#db37f5"/><stop offset=".4649" stop-color="#df4ed9"/><stop offset=".4872" stop-color="#e77ba2"/><stop offset=".5277" stop-color="#f7d533"/><stop offset=".5484" stop-color="#fef908"/><stop offset=".5537" stop-color="#ffff01"/><stop offset=".5729" stop-color="#ffff13"/><stop offset=".5926" stop-color="#ffff16"/><stop offset=".6149" stop-color="#ffff08"/><stop offset=".6234" stop-color="#fffe01"/><stop offset=".6559" stop-color="#f7d533"/><stop offset=".7117" stop-color="#e98892"/><stop offset=".7473" stop-color="#e263c0"/><stop offset=".7846" stop-color="#de49df"/><stop offset=".8298" stop-color="#db39f3"/><stop offset=".8367" stop-color="#db37f5"/><stop offset=".8372" stop-color="#d92fff"/><stop offset="1" stop-color="#d92fff"/></linearGradient>
<linearGradient id="h21" gradientUnits="userSpaceOnUse" x1="0" y1="0" x2="0" y2="4.7" spreadMethod="reflect"><stop offset="0" stop-color="#d92fff"/><stop offset=".0154" stop-color="#d92fff"/><stop offset=".016" stop-color="#db38f5"/><stop offset=".0319" stop-color="#df4fd7"/><stop offset=".0723" stop-color="#eea370"/><stop offset=".0878" stop-color="#f2b857"/><stop offset=".1016" stop-color="#f3be50"/><stop offset=".1154" stop-color="#f2b758"/><stop offset=".1309" stop-color="#eea371"/><stop offset=".1606" stop-color="#e365bd"/><stop offset=".1798" stop-color="#dc41e8"/><stop offset=".1878" stop-color="#db37f5"/><stop offset=".1883" stop-color="#d92fff"/><stop offset=".2197" stop-color="#d92fff"/><stop offset=".2202" stop-color="#db37f5"/><stop offset=".2362" stop-color="#df4fd8"/><stop offset=".2814" stop-color="#f0ae63"/><stop offset=".2973" stop-color="#f4c448"/><stop offset=".3117" stop-color="#f6cd3e"/><stop offset=".3261" stop-color="#f5c843"/><stop offset=".342" stop-color="#f2b65a"/><stop offset=".3638" stop-color="#ea8d8c"/><stop offset=".3941" stop-color="#df50d7"/><stop offset=".4112" stop-color="#db38f4"/><stop offset=".4117" stop-color="#db38f4"/><stop offset=".4122" stop-color="#d92fff"/><stop offset=".4473" stop-color="#d92fff"/><stop offset=".4479" stop-color="#db38f4"/><stop offset=".4649" stop-color="#df4fd8"/><stop offset=".4867" stop-color="#e77ca1"/><stop offset=".5271" stop-color="#f8d92e"/><stop offset=".5473" stop-color="#fffd02"/><stop offset=".55" stop-color="#ffff02"/><stop offset=".5691" stop-color="#ffff18"/><stop offset=".5883" stop-color="#ffff1e"/><stop offset=".6096" stop-color="#ffff14"/><stop offset=".6293" stop-color="#fffe01"/><stop offset=".6681" stop-color="#f5c843"/><stop offset=".7144" stop-color="#e98892"/><stop offset=".7495" stop-color="#e263c0"/><stop offset=".7862" stop-color="#de49df"/><stop offset=".8314" stop-color="#db39f3"/><stop offset=".8378" stop-color="#db37f5"/><stop offset=".8383" stop-color="#d92fff"/><stop offset="1" stop-color="#d92fff"/></linearGradient>
<linearGradient id="h22" gradientUnits="userSpaceOnUse" x1="0" y1="0" x2="0" y2="4.7" spreadMethod="reflect"><stop offset="0" stop-color="#d92fff"/><stop offset=".0154" stop-color="#d92fff"/><stop offset=".016" stop-color="#db38f4"/><stop offset=".0314" stop-color="#df4fd7"/><stop offset=".0723" stop-color="#efa76c"/><stop offset=".0872" stop-color="#f3bc53"/><stop offset=".1005" stop-color="#f4c24a"/><stop offset=".1138" stop-color="#f3bd51"/><stop offset=".1287" stop-color="#efaa68"/><stop offset=".1511" stop-color="#e77ca1"/><stop offset=".175" stop-color="#de4ade"/><stop offset=".1878" stop-color="#db38f4"/><stop offset=".1883" stop-color="#d92fff"/><stop offset=".2197" stop-color="#d92fff"/><stop offset=".2202" stop-color="#db38f4"/><stop offset=".2356" stop-color="#df4fd8"/><stop offset=".2628" stop-color="#ea8a8f"/><stop offset=".284" stop-color="#f2b759"/><stop offset=".2995" stop-color="#f6cb40"/><stop offset=".3138" stop-color="#f7d238"/><stop offset=".3282" stop-color="#f6cb3f"/><stop offset=".3441" stop-color="#f2b759"/><stop offset=".3676" stop-color="#e98892"/><stop offset=".3947" stop-color="#df50d7"/><stop offset=".4117" stop-color="#db38f4"/><stop offset=".4122" stop-color="#db38f5"/><stop offset=".4128" stop-color="#d92fff"/><stop offset=".4468" stop-color="#d92fff"/><stop offset=".4473" stop-color="#db37f5"/><stop offset=".4638" stop-color="#df4ed9"/><stop offset=".4846" stop-color="#e779a4"/><stop offset=".5271" stop-color="#f9df28"/><stop offset=".5441" stop-color="#ff0"/><stop offset=".5649" stop-color="#ffff1c"/><stop offset=".584" stop-color="#ffff26"/><stop offset=".6043" stop-color="#ffff20"/><stop offset=".6282" stop-color="#ffff08"/><stop offset=".634" stop-color="#ff0"/><stop offset=".7138" stop-color="#ea8b8e"/><stop offset=".7484" stop-color="#e365bd"/><stop offset=".7846" stop-color="#de4bdd"/><stop offset=".8282" stop-color="#db3af2"/><stop offset=".8394" stop-color="#db37f5"/><stop offset=".8399" stop-color="#d92fff"/><stop offset="1" stop-color="#d92fff"/></linearGradient>
<linearGradient id="h23" gradientUnits="userSpaceOnUse" x1="0" y1="0" x2="0" y2="4.7" spreadMethod="reflect"><stop offset="0" stop-color="#d92fff"/><stop offset=".0149" stop-color="#d92fff"/><stop offset=".0154" stop-color="#db38f5"/><stop offset=".0303" stop-color="#df4ed9"/><stop offset=".0723" stop-color="#f0aa68"/><stop offset=".0872" stop-color="#f3c04d"/><stop offset=".1005" stop-color="#f5c745"/><stop offset=".1138" stop-color="#f4c14b"/><stop offset=".1287" stop-color="#f0ae64"/><stop offset=".1505" stop-color="#e87f9c"/><stop offset=".1745" stop-color="#de4cdc"/><stop offset=".1883" stop-color="#db37f5"/><stop offset=".1888" stop-color="#d92fff"/><stop offset=".2191" stop-color="#d92fff"/><stop offset=".2197" stop-color="#db38f5"/><stop offset=".2351" stop-color="#df4fd8"/><stop offset=".2601" stop-color="#e98793"/><stop offset=".2824" stop-color="#f2b857"/><stop offset=".2979" stop-color="#f6ce3c"/><stop offset=".3117" stop-color="#f8d632"/><stop offset=".3255" stop-color="#f7d237"/><stop offset=".341" stop-color="#f4c04d"/><stop offset=".3612" stop-color="#ec997d"/><stop offset=".3931" stop-color="#e054d2"/><stop offset=".4101" stop-color="#db3af1"/><stop offset=".4122" stop-color="#db38f4"/><stop offset=".4128" stop-color="#d92fff"/><stop offset=".4468" stop-color="#d92fff"/><stop offset=".4473" stop-color="#db38f4"/><stop offset=".4638" stop-color="#df4fd8"/><stop offset=".4846" stop-color="#e77ba1"/><stop offset=".5271" stop-color="#fae421"/><stop offset=".541" stop-color="#ffff01"/><stop offset=".5601" stop-color="#ffff1f"/><stop offset=".5787" stop-color="#ffff2d"/><stop offset=".5979" stop-color="#ffff2c"/><stop offset=".6197" stop-color="#ffff1a"/><stop offset=".6388" stop-color="#ffff01"/><stop offset=".7122" stop-color="#eb9088"/><stop offset=".7463" stop-color="#e469b8"/><stop offset=".7814" stop-color="#df4ed9"/><stop offset=".8234" stop-color="#db3cf0"/><stop offset=".8404" stop-color="#db37f5"/><stop offset=".841" stop-color="#d92fff"/><stop offset="1" stop-color="#d92fff"/></linearGradient>
<linearGradient id="h24" gradientUnits="userSpaceOnUse" x1="0" y1="0" x2="0" y2="4.7" spreadMethod="reflect"><stop offset="0" stop-color="#d92fff"/><stop offset=".0149" stop-color="#d92fff"/><stop offset=".0154" stop-color="#db38f4"/><stop offset=".0303" stop-color="#df4fd7"/><stop offset=".0723" stop-color="#f0ae63"/><stop offset=".0867" stop-color="#f4c449"/><stop offset=".1" stop-color="#f6cc3f"/><stop offset=".1133" stop-color="#f5c645"/><stop offset=".1277" stop-color="#f1b35d"/><stop offset=".1479" stop-color="#e98892"/><stop offset=".1734" stop-color="#df4fd8"/><stop offset=".1883" stop-color="#db38f4"/><stop offset=".1888" stop-color="#d92fff"/><stop offset=".2191" stop-color="#d92fff"/><stop offset=".2197" stop-color="#db38f4"/><stop offset=".2346" stop-color="#df4fd8"/><stop offset=".2574" stop-color="#e88398"/><stop offset=".2809" stop-color="#f2b956"/><stop offset=".2963" stop-color="#f7d138"/><stop offset=".3101" stop-color="#f8db2c"/><stop offset=".3239" stop-color="#f8d82f"/><stop offset=".3388" stop-color="#f5c844"/><stop offset=".3574" stop-color="#eea46f"/><stop offset=".3931" stop-color="#e055d0"/><stop offset=".4096" stop-color="#db3bf0"/><stop offset=".4128" stop-color="#db38f4"/><stop offset=".4133" stop-color="#d92fff"/><stop offset=".4463" stop-color="#d92fff"/><stop offset=".4468" stop-color="#db38f5"/><stop offset=".4628" stop-color="#df4ed9"/><stop offset=".4824" stop-color="#e679a5"/><stop offset=".5271" stop-color="#fbea1a"/><stop offset=".5372" stop-color="#ff0"/><stop offset=".5564" stop-color="#ffff23"/><stop offset=".5745" stop-color="#ffff34"/><stop offset=".5931" stop-color="#ffff36"/><stop offset=".6138" stop-color="#ffff28"/><stop offset=".6399" stop-color="#ffff05"/><stop offset=".6436" stop-color="#fffe01"/><stop offset=".7106" stop-color="#ec9582"/><stop offset=".7441" stop-color="#e46db3"/><stop offset=".7787" stop-color="#df50d6"/><stop offset=".8191" stop-color="#dc3ded"/><stop offset=".8415" stop-color="#db37f5"/><stop offset=".842" stop-color="#d92fff"/><stop offset="1" stop-color="#d92fff"/></linearGradient>
<linearGradient id="h25" gradientUnits="userSpaceOnUse" x1="0" y1="0" x2="0" y2="4.7" spreadMethod="reflect"><stop offset="0" stop-color="#d92fff"/><stop offset=".0144" stop-color="#d92fff"/><stop offset=".0149" stop-color="#db38f4"/><stop offset=".0293" stop-color="#df4ed9"/><stop offset=".0532" stop-color="#e98694"/><stop offset=".0734" stop-color="#f1b45c"/><stop offset=".0878" stop-color="#f5c942"/><stop offset=".1005" stop-color="#f6d039"/><stop offset=".1133" stop-color="#f6cb40"/><stop offset=".1277" stop-color="#f2b758"/><stop offset=".1473" stop-color="#ea8c8d"/><stop offset=".1729" stop-color="#df51d6"/><stop offset=".1878" stop-color="#db39f3"/><stop offset=".1888" stop-color="#db37f5"/><stop offset=".1894" stop-color="#d92fff"/><stop offset=".2186" stop-color="#d92fff"/><stop offset=".2191" stop-color="#db38f5"/><stop offset=".234" stop-color="#df4fd8"/><stop offset=".2559" stop-color="#e8829a"/><stop offset=".2803" stop-color="#f3bc52"/><stop offset=".2957" stop-color="#f7d633"/><stop offset=".3096" stop-color="#f9e026"/><stop offset=".3229" stop-color="#f9de28"/><stop offset=".3372" stop-color="#f6cf3b"/><stop offset=".3548" stop-color="#f0ae63"/><stop offset=".3931" stop-color="#e056cf"/><stop offset=".4096" stop-color="#db3cf0"/><stop offset=".4133" stop-color="#db37f5"/><stop offset=".4138" stop-color="#d92fff"/><stop offset=".4463" stop-color="#d92fff"/><stop offset=".4468" stop-color="#db38f4"/><stop offset=".4622" stop-color="#df4ed9"/><stop offset=".4814" stop-color="#e678a5"/><stop offset=".5266" stop-color="#fcee15"/><stop offset=".5346" stop-color="#ffff01"/><stop offset=".5537" stop-color="#ffff27"/><stop offset=".5718" stop-color="#ffff3b"/><stop offset=".5899" stop-color="#ffff40"/><stop offset=".6101" stop-color="#ffff35"/><stop offset=".6346" stop-color="#ffff15"/><stop offset=".6473" stop-color="#fffe01"/><stop offset=".7096" stop-color="#ed9a7c"/><stop offset=".7426" stop-color="#e570af"/><stop offset=".7761" stop-color="#e053d3"/><stop offset=".8154" stop-color="#dc3feb"/><stop offset=".8431" stop-color="#db37f5"/><stop offset=".8436" stop-color="#d92fff"/><stop offset="1" stop-color="#d92fff"/></linearGradient>
<linearGradient id="h26" gradientUnits="userSpaceOnUse" x1="0" y1="0" x2="0" y2="4.7" spreadMethod="reflect"><stop offset="0" stop-color="#d92fff"/><stop offset=".0144" stop-color="#d92fff"/><stop offset=".0149" stop-color="#db38f4"/><stop offset=".0293" stop-color="#df4fd8"/><stop offset=".0521" stop-color="#e98694"/><stop offset=".0729" stop-color="#f2b758"/><stop offset=".0872" stop-color="#f6ce3c"/><stop offset=".1" stop-color="#f7d533"/><stop offset=".1128" stop-color="#f6d039"/><stop offset=".1266" stop-color="#f3bd50"/><stop offset=".1447" stop-color="#ec9681"/><stop offset=".1723" stop-color="#e053d3"/><stop offset=".1872" stop-color="#db3af2"/><stop offset=".1888" stop-color="#db38f4"/><stop offset=".1894" stop-color="#d92fff"/><stop offset=".2186" stop-color="#d92fff"/><stop offset=".2191" stop-color="#db38f4"/><stop offset=".2335" stop-color="#df4fd8"/><stop offset=".2543" stop-color="#e8809c"/><stop offset=".2798" stop-color="#f3bf4e"/><stop offset=".2952" stop-color="#f8da2d"/><stop offset=".3085" stop-color="#fae51f"/><stop offset=".3218" stop-color="#fae421"/><stop offset=".3356" stop-color="#f8d632"/><stop offset=".3521" stop-color="#f2b857"/><stop offset=".3931" stop-color="#e057cd"/><stop offset=".4096" stop-color="#db3cef"/><stop offset=".4133" stop-color="#db38f4"/><stop offset=".4138" stop-color="#d92fff"/><stop offset=".4457" stop-color="#d92fff"/><stop offset=".4463" stop-color="#db38f4"/><stop offset=".4617" stop-color="#df4ed9"/><stop offset=".4803" stop-color="#e678a6"/><stop offset=".5266" stop-color="#fdf40d"/><stop offset=".5314" stop-color="#ff0"/><stop offset=".5505" stop-color="#ffff2a"/><stop offset=".5681" stop-color="#ffff41"/><stop offset=".5862" stop-color="#ffff49"/><stop offset=".6053" stop-color="#ffff42"/><stop offset=".6277" stop-color="#ffff28"/><stop offset=".6511" stop-color="#ff0"/><stop offset=".709" stop-color="#ed9e77"/><stop offset=".742" stop-color="#e573ac"/><stop offset=".775" stop-color="#e055d0"/><stop offset=".8133" stop-color="#dc40ea"/><stop offset=".8441" stop-color="#db37f5"/><stop offset=".8447" stop-color="#d92fff"/><stop offset="1" stop-color="#d92fff"/></linearGradient>
<linearGradient id="h27" gradientUnits="userSpaceOnUse" x1="0" y1="0" x2="0" y2="4.7" spreadMethod="reflect"><stop offset="0" stop-color="#d92fff"/><stop offset=".0138" stop-color="#d92fff"/><stop offset=".0144" stop-color="#db38f4"/><stop offset=".0282" stop-color="#df4ed9"/><stop offset=".0489" stop-color="#e8809b"/><stop offset=".0713" stop-color="#f2b857"/><stop offset=".0856" stop-color="#f7d139"/><stop offset=".0984" stop-color="#f8da2d"/><stop offset=".1106" stop-color="#f8d731"/><stop offset=".1239" stop-color="#f5c745"/><stop offset=".1404" stop-color="#eea470"/><stop offset=".1723" stop-color="#e054d2"/><stop offset=".1867" stop-color="#db3bf1"/><stop offset=".1894" stop-color="#db37f5"/><stop offset=".1899" stop-color="#d92fff"/><stop offset=".2181" stop-color="#d92fff"/><stop offset=".2186" stop-color="#db38f4"/><stop offset=".233" stop-color="#df4fd8"/><stop offset=".2527" stop-color="#e77e9e"/><stop offset=".2793" stop-color="#f4c34a"/><stop offset=".2941" stop-color="#f9de29"/><stop offset=".3074" stop-color="#fbeb19"/><stop offset=".3207" stop-color="#fbea19"/><stop offset=".3346" stop-color="#f9dd2a"/><stop offset=".3505" stop-color="#f3c04e"/><stop offset=".3931" stop-color="#e159cc"/><stop offset=".409" stop-color="#dc3dee"/><stop offset=".4138" stop-color="#db37f5"/><stop offset=".4144" stop-color="#d92fff"/><stop offset=".4452" stop-color="#d92fff"/><stop offset=".4457" stop-color="#db37f5"/><stop offset=".4606" stop-color="#df4dda"/><stop offset=".4787" stop-color="#e676a8"/><stop offset=".5266" stop-color="#fefa06"/><stop offset=".5287" stop-color="#ff0"/><stop offset=".5479" stop-color="#ffff2d"/><stop offset=".5654" stop-color="#ffff48"/><stop offset=".583" stop-color="#ffff52"/><stop offset=".6016" stop-color="#ffff4e"/><stop offset=".6229" stop-color="#ffff37"/><stop offset=".6521" stop-color="#ffff05"/><stop offset=".6553" stop-color="#fffe02"/><stop offset=".7085" stop-color="#eea272"/><stop offset=".741" stop-color="#e676a8"/><stop offset=".7734" stop-color="#e057cd"/><stop offset=".8106" stop-color="#dc42e8"/><stop offset=".8457" stop-color="#db37f5"/><stop offset=".8463" stop-color="#d92fff"/><stop offset="1" stop-color="#d92fff"/></linearGradient>
<linearGradient id="h28" gradientUnits="userSpaceOnUse" x1="0" y1="0" x2="0" y2="4.7" spreadMethod="reflect"><stop offset="0" stop-color="#d92fff"/><stop offset=".0138" stop-color="#d92fff"/><stop offset=".0144" stop-color="#db38f4"/><stop offset=".0282" stop-color="#df4fd8"/><stop offset=".0484" stop-color="#e8829a"/><stop offset=".0713" stop-color="#f3bc52"/><stop offset=".0851" stop-color="#f7d534"/><stop offset=".0973" stop-color="#f9df27"/><stop offset=".1096" stop-color="#f9dd2a"/><stop offset=".1223" stop-color="#f6ce3c"/><stop offset=".1378" stop-color="#f0ae63"/><stop offset=".1723" stop-color="#e055d0"/><stop offset=".1867" stop-color="#db3bf0"/><stop offset=".1894" stop-color="#db38f4"/><stop offset=".1899" stop-color="#d92fff"/><stop offset=".2181" stop-color="#d92fff"/><stop offset=".2186" stop-color="#db38f4"/><stop offset=".2324" stop-color="#df4ed8"/><stop offset=".2511" stop-color="#e77ca0"/><stop offset=".2787" stop-color="#f5c646"/><stop offset=".2936" stop-color="#fae323"/><stop offset=".3069" stop-color="#fcf012"/><stop offset=".3197" stop-color="#fcf112"/><stop offset=".333" stop-color="#fae421"/><stop offset=".3484" stop-color="#f5c942"/><stop offset=".3771" stop-color="#e8819b"/><stop offset=".3973" stop-color="#df51d5"/><stop offset=".4122" stop-color="#db3af2"/><stop offset=".4138" stop-color="#db38f4"/><stop offset=".4144" stop-color="#d92fff"/><stop offset=".4452" stop-color="#d92fff"/><stop offset=".4457" stop-color="#db38f4"/><stop offset=".4606" stop-color="#df4ed9"/><stop offset=".4782" stop-color="#e677a7"/><stop offset=".5261" stop-color="#ff0"/><stop offset=".5457" stop-color="#ffff32"/><stop offset=".5633" stop-color="#ffff4f"/><stop offset=".5803" stop-color="#ffff5c"/><stop offset=".5984" stop-color="#ffff59"/><stop offset=".6186" stop-color="#ffff46"/><stop offset=".6452" stop-color="#ffff1a"/><stop offset=".6585" stop-color="#fffe01"/><stop offset=".7085" stop-color="#efa66d"/><stop offset=".7404" stop-color="#e779a4"/><stop offset=".7723" stop-color="#e15acb"/><stop offset=".809" stop-color="#dd43e6"/><stop offset=".8468" stop-color="#db37f5"/><stop offset=".8473" stop-color="#d92fff"/><stop offset="1" stop-color="#d92fff"/></linearGradient>
<linearGradient id="h29" gradientUnits="userSpaceOnUse" x1="0" y1="0" x2="0" y2="4.7" spreadMethod="reflect"><stop offset="0" stop-color="#d92fff"/><stop offset=".0133" stop-color="#d92fff"/><stop offset=".0138" stop-color="#db38f4"/><stop offset=".0271" stop-color="#df4ed9"/><stop offset=".0457" stop-color="#e77da0"/><stop offset=".0702" stop-color="#f3be4f"/><stop offset=".084" stop-color="#f8d82f"/><stop offset=".0963" stop-color="#fae421"/><stop offset=".1085" stop-color="#fae322"/><stop offset=".1213" stop-color="#f7d434"/><stop offset=".1362" stop-color="#f2b65a"/><stop offset=".1723" stop-color="#e056cf"/><stop offset=".1867" stop-color="#db3cf0"/><stop offset=".1899" stop-color="#db38f5"/><stop offset=".1904" stop-color="#d92fff"/><stop offset=".2176" stop-color="#d92fff"/><stop offset=".2181" stop-color="#db38f4"/><stop offset=".2319" stop-color="#df4ed9"/><stop offset=".25" stop-color="#e77ca1"/><stop offset=".2782" stop-color="#f5c942"/><stop offset=".2931" stop-color="#fbe71d"/><stop offset=".3064" stop-color="#fdf60c"/><stop offset=".3191" stop-color="#fdf70a"/><stop offset=".3324" stop-color="#fbeb19"/><stop offset=".3473" stop-color="#f6d03a"/><stop offset=".3713" stop-color="#eb9385"/><stop offset=".3941" stop-color="#e159cb"/><stop offset=".4096" stop-color="#dc3ded"/><stop offset=".4144" stop-color="#db37f5"/><stop offset=".4149" stop-color="#d92fff"/><stop offset=".4447" stop-color="#d92fff"/><stop offset=".4452" stop-color="#db37f5"/><stop offset=".4596" stop-color="#de4dda"/><stop offset=".4766" stop-color="#e675aa"/><stop offset=".5234" stop-color="#fffe01"/><stop offset=".5468" stop-color="#ffff3d"/><stop offset=".5638" stop-color="#ffff59"/><stop offset=".5809" stop-color="#ff6"/><stop offset=".5984" stop-color="#ffff63"/><stop offset=".6186" stop-color="#ffff4f"/><stop offset=".6447" stop-color="#ffff23"/><stop offset=".6617" stop-color="#ff0"/><stop offset=".7085" stop-color="#efa969"/><stop offset=".7399" stop-color="#e77ca1"/><stop offset=".7713" stop-color="#e15cc8"/><stop offset=".8069" stop-color="#dd45e4"/><stop offset=".8484" stop-color="#db37f5"/><stop offset=".8489" stop-color="#d92fff"/><stop offset="1" stop-color="#d92fff"/></linearGradient>
<linearGradient id="h30" gradientUnits="userSpaceOnUse" x1="0" y1="0" x2="0" y2="4.7" spreadMethod="reflect"><stop offset="0" stop-color="#d92fff"/><stop offset=".0128" stop-color="#d92fff"/><stop offset=".0133" stop-color="#db37f5"/><stop offset=".0266" stop-color="#df4ed9"/><stop offset=".0441" stop-color="#e77ba2"/><stop offset=".0697" stop-color="#f4c14c"/><stop offset=".0835" stop-color="#f9dd2a"/><stop offset=".0957" stop-color="#fbe91b"/><stop offset=".1074" stop-color="#fbe91b"/><stop offset=".1197" stop-color="#f9dc2b"/><stop offset=".134" stop-color="#f3bf4e"/><stop offset=".1729" stop-color="#e056cf"/><stop offset=".1867" stop-color="#db3cef"/><stop offset=".1899" stop-color="#db38f4"/><stop offset=".1904" stop-color="#d92fff"/><stop offset=".2176" stop-color="#d92fff"/><stop offset=".2181" stop-color="#db38f4"/><stop offset=".2314" stop-color="#df4ed9"/><stop offset=".2489" stop-color="#e77ba2"/><stop offset=".2782" stop-color="#f6ce3c"/><stop offset=".2931" stop-color="#fced16"/><stop offset=".3059" stop-color="#fefb05"/><stop offset=".3181" stop-color="#fffd02"/><stop offset=".3309" stop-color="#fdf30f"/><stop offset=".3452" stop-color="#f8d92e"/><stop offset=".366" stop-color="#efa56f"/><stop offset=".392" stop-color="#e25fc4"/><stop offset=".4074" stop-color="#dc41e9"/><stop offset=".4144" stop-color="#db38f4"/><stop offset=".4149" stop-color="#d92fff"/><stop offset=".4447" stop-color="#d92fff"/><stop offset=".4452" stop-color="#db38f4"/><stop offset=".4596" stop-color="#df4ed9"/><stop offset=".4761" stop-color="#e675a9"/><stop offset=".5069" stop-color="#f7d336"/><stop offset=".5213" stop-color="#fffe01"/><stop offset=".5436" stop-color="#ffff3e"/><stop offset=".5606" stop-color="#ffff5f"/><stop offset=".5771" stop-color="#ffff6f"/><stop offset=".5941" stop-color="#ffff6f"/><stop offset=".6133" stop-color="#ffff60"/><stop offset=".6367" stop-color="#ffff3b"/><stop offset=".6649" stop-color="#ff0"/><stop offset=".709" stop-color="#f0ac65"/><stop offset=".7399" stop-color="#e87e9e"/><stop offset=".7707" stop-color="#e25ec6"/><stop offset=".8059" stop-color="#dd46e3"/><stop offset=".8495" stop-color="#db37f5"/><stop offset=".85" stop-color="#d92fff"/><stop offset="1" stop-color="#d92fff"/></linearGradient>
<linearGradient id="h31" gradientUnits="userSpaceOnUse" x1="0" y1="0" x2="0" y2="4.7" spreadMethod="reflect"><stop offset="0" stop-color="#d92fff"/><stop offset=".0128" stop-color="#d92fff"/><stop offset=".0133" stop-color="#db38f4"/><stop offset=".0261" stop-color="#df4dda"/><stop offset=".0431" stop-color="#e77aa3"/><stop offset=".0691" stop-color="#f4c448"/><stop offset=".083" stop-color="#fae124"/><stop offset=".0952" stop-color="#fcef14"/><stop offset=".1069" stop-color="#fcef14"/><stop offset=".1191" stop-color="#fae223"/><stop offset=".133" stop-color="#f5c646"/><stop offset=".1729" stop-color="#e058cd"/><stop offset=".1867" stop-color="#db3cee"/><stop offset=".1904" stop-color="#db38f5"/><stop offset=".191" stop-color="#d92fff"/><stop offset=".217" stop-color="#d92fff"/><stop offset=".2176" stop-color="#db38f4"/><stop offset=".2309" stop-color="#df4ed9"/><stop offset=".2473" stop-color="#e679a5"/><stop offset=".2777" stop-color="#f7d138"/><stop offset=".292" stop-color="#fcf111"/><stop offset=".3027" stop-color="#ff0"/><stop offset=".3154" stop-color="#ffff06"/><stop offset=".3261" stop-color="#fffe01"/><stop offset=".3394" stop-color="#fbeb19"/><stop offset=".3559" stop-color="#f4c448"/><stop offset=".3915" stop-color="#e262c0"/><stop offset=".4069" stop-color="#dd42e7"/><stop offset=".4149" stop-color="#db38f4"/><stop offset=".4154" stop-color="#d92fff"/><stop offset=".4441" stop-color="#d92fff"/><stop offset=".4447" stop-color="#db37f5"/><stop offset=".4585" stop-color="#de4dda"/><stop offset=".4745" stop-color="#e573ac"/><stop offset=".5" stop-color="#f4c24b"/><stop offset=".5191" stop-color="#fffe01"/><stop offset=".5415" stop-color="#ffff42"/><stop offset=".5585" stop-color="#ffff65"/><stop offset=".575" stop-color="#ffff78"/><stop offset=".592" stop-color="#ffff7b"/><stop offset=".6106" stop-color="#ffff6d"/><stop offset=".6324" stop-color="#ffff4c"/><stop offset=".6681" stop-color="#ff0"/><stop offset=".7101" stop-color="#f0ae63"/><stop offset=".7404" stop-color="#e8809b"/><stop offset=".7707" stop-color="#e25fc4"/><stop offset=".8053" stop-color="#dd47e1"/><stop offset=".8495" stop-color="#db38f4"/><stop offset=".8505" stop-color="#db37f5"/><stop offset=".8511" stop-color="#d92fff"/><stop offset="1" stop-color="#d92fff"/></linearGradient>
<linearGradient id="h32" gradientUnits="userSpaceOnUse" x1="0" y1="0" x2="0" y2="4.7" spreadMethod="reflect"><stop offset="0" stop-color="#d92fff"/><stop offset=".0122" stop-color="#d92fff"/><stop offset=".0128" stop-color="#db37f5"/><stop offset=".0255" stop-color="#df4dda"/><stop offset=".042" stop-color="#e779a4"/><stop offset=".0691" stop-color="#f5c942"/><stop offset=".083" stop-color="#fbe71e"/><stop offset=".0947" stop-color="#fdf40d"/><stop offset=".1064" stop-color="#fdf50c"/><stop offset=".1181" stop-color="#fbe91b"/><stop offset=".1314" stop-color="#f6cf3b"/><stop offset=".1521" stop-color="#eb9483"/><stop offset=".1729" stop-color="#e159cc"/><stop offset=".1862" stop-color="#dc3eed"/><stop offset=".1904" stop-color="#db38f4"/><stop offset=".191" stop-color="#d92fff"/><stop offset=".2165" stop-color="#d92fff"/><stop offset=".217" stop-color="#db37f5"/><stop offset=".2298" stop-color="#de4dda"/><stop offset=".2457" stop-color="#e676a8"/><stop offset=".2777" stop-color="#f8d632"/><stop offset=".292" stop-color="#fdf70a"/><stop offset=".2979" stop-color="#ffff01"/><stop offset=".3106" stop-color="#ffff0d"/><stop offset=".3234" stop-color="#ffff09"/><stop offset=".3314" stop-color="#fffe01"/><stop offset=".3452" stop-color="#fae421"/><stop offset=".3649" stop-color="#f0af62"/><stop offset=".3915" stop-color="#e364be"/><stop offset=".4069" stop-color="#dd43e6"/><stop offset=".4149" stop-color="#db38f4"/><stop offset=".4154" stop-color="#d92fff"/><stop offset=".4441" stop-color="#d92fff"/><stop offset=".4447" stop-color="#db38f4"/><stop offset=".4585" stop-color="#df4ed9"/><stop offset=".4745" stop-color="#e675a9"/><stop offset=".4995" stop-color="#f4c448"/><stop offset=".517" stop-color="#fffe01"/><stop offset=".541" stop-color="#ffff4a"/><stop offset=".5574" stop-color="#ffff6e"/><stop offset=".5734" stop-color="#ffff82"/><stop offset=".5899" stop-color="#ffff86"/><stop offset=".608" stop-color="#ffff7b"/><stop offset=".6287" stop-color="#ffff5c"/><stop offset=".6596" stop-color="#ffff1b"/><stop offset=".6713" stop-color="#ff0"/><stop offset=".7106" stop-color="#f1b15f"/><stop offset=".7404" stop-color="#e88398"/><stop offset=".7702" stop-color="#e261c2"/><stop offset=".8037" stop-color="#de49df"/><stop offset=".8463" stop-color="#db39f3"/><stop offset=".8521" stop-color="#db37f5"/><stop offset=".8527" stop-color="#d92fff"/><stop offset="1" stop-color="#d92fff"/></linearGradient>
<linearGradient id="h33" gradientUnits="userSpaceOnUse" x1="0" y1="0" x2="0" y2="4.7" spreadMethod="reflect"><stop offset="0" stop-color="#d92fff"/><stop offset=".0122" stop-color="#d92fff"/><stop offset=".0128" stop-color="#db38f4"/><stop offset=".025" stop-color="#de4dda"/><stop offset=".041" stop-color="#e678a6"/><stop offset=".0691" stop-color="#f6ce3c"/><stop offset=".0824" stop-color="#fbeb18"/><stop offset=".0941" stop-color="#fefa06"/><stop offset=".1053" stop-color="#fefc04"/><stop offset=".117" stop-color="#fcf112"/><stop offset=".1298" stop-color="#f8d830"/><stop offset=".1479" stop-color="#eea46f"/><stop offset=".1713" stop-color="#e25ec5"/><stop offset=".1851" stop-color="#dc40ea"/><stop offset=".191" stop-color="#db38f4"/><stop offset=".1915" stop-color="#d92fff"/><stop offset=".2165" stop-color="#d92fff"/><stop offset=".217" stop-color="#db38f4"/><stop offset=".2298" stop-color="#df4ed9"/><stop offset=".2452" stop-color="#e677a7"/><stop offset=".2777" stop-color="#f9dc2b"/><stop offset=".292" stop-color="#fffd03"/><stop offset=".2941" stop-color="#ffff02"/><stop offset=".3069" stop-color="#ffff12"/><stop offset=".3191" stop-color="#ffff13"/><stop offset=".3319" stop-color="#ffff05"/><stop offset=".3351" stop-color="#fffe01"/><stop offset=".35" stop-color="#f9de29"/><stop offset=".3926" stop-color="#e263c0"/><stop offset=".4074" stop-color="#dd43e7"/><stop offset=".4154" stop-color="#db38f4"/><stop offset=".416" stop-color="#d92fff"/><stop offset=".4436" stop-color="#d92fff"/><stop offset=".4441" stop-color="#db38f5"/><stop offset=".4574" stop-color="#de4ddb"/><stop offset=".4729" stop-color="#e573ac"/><stop offset=".4952" stop-color="#f2ba54"/><stop offset=".5154" stop-color="#ff0"/><stop offset=".5356" stop-color="#ff4"/><stop offset=".5527" stop-color="#ffff6f"/><stop offset=".5686" stop-color="#ff8"/><stop offset=".5846" stop-color="#ffff92"/><stop offset=".6016" stop-color="#ffff8c"/><stop offset=".6207" stop-color="#ffff74"/><stop offset=".6457" stop-color="#ffff43"/><stop offset=".6745" stop-color="#fffe01"/><stop offset=".7122" stop-color="#f1b25e"/><stop offset=".7415" stop-color="#e88497"/><stop offset=".7713" stop-color="#e262c1"/><stop offset=".8048" stop-color="#de49df"/><stop offset=".8468" stop-color="#db39f3"/><stop offset=".8532" stop-color="#db37f5"/><stop offset=".8537" stop-color="#d92fff"/><stop offset="1" stop-color="#d92fff"/></linearGradient>
<linearGradient id="h34" gradientUnits="userSpaceOnUse" x1="0" y1="0" x2="0" y2="4.7" spreadMethod="reflect"><stop offset="0" stop-color="#d92fff"/><stop offset=".0117" stop-color="#d92fff"/><stop offset=".0122" stop-color="#db37f5"/><stop offset=".0245" stop-color="#de4dda"/><stop offset=".0399" stop-color="#e677a7"/><stop offset=".0686" stop-color="#f7d138"/><stop offset=".0819" stop-color="#fcf012"/><stop offset=".0931" stop-color="#ff0"/><stop offset=".1048" stop-color="#ffff03"/><stop offset=".1112" stop-color="#fffe02"/><stop offset=".1229" stop-color="#fcec17"/><stop offset=".1372" stop-color="#f5c943"/><stop offset=".1713" stop-color="#e260c3"/><stop offset=".1846" stop-color="#dc42e8"/><stop offset=".191" stop-color="#db38f4"/><stop offset=".1915" stop-color="#d92fff"/><stop offset=".216" stop-color="#d92fff"/><stop offset=".2165" stop-color="#db37f5"/><stop offset=".2287" stop-color="#de4cdb"/><stop offset=".2436" stop-color="#e674aa"/><stop offset=".2777" stop-color="#f9e125"/><stop offset=".2899" stop-color="#ff0"/><stop offset=".3032" stop-color="#ffff17"/><stop offset=".3154" stop-color="#ffff1c"/><stop offset=".3277" stop-color="#ffff13"/><stop offset=".3383" stop-color="#ff0"/><stop offset=".3537" stop-color="#f8d92f"/><stop offset=".3915" stop-color="#e367ba"/><stop offset=".4064" stop-color="#dd45e4"/><stop offset=".416" stop-color="#db37f5"/><stop offset=".4165" stop-color="#d92fff"/><stop offset=".4436" stop-color="#d92fff"/><stop offset=".4441" stop-color="#db38f4"/><stop offset=".4574" stop-color="#df4ed9"/><stop offset=".4723" stop-color="#e573ab"/><stop offset=".4936" stop-color="#f2b956"/><stop offset=".5133" stop-color="#fffe01"/><stop offset=".5367" stop-color="#ffff51"/><stop offset=".5532" stop-color="#ffff7b"/><stop offset=".5691" stop-color="#ffff94"/><stop offset=".5851" stop-color="#ffff9d"/><stop offset=".6021" stop-color="#ffff97"/><stop offset=".6213" stop-color="#ffff7e"/><stop offset=".6463" stop-color="#ffff4b"/><stop offset=".6771" stop-color="#ff0"/><stop offset=".7128" stop-color="#f2b55a"/><stop offset=".7415" stop-color="#e98694"/><stop offset=".7707" stop-color="#e364be"/><stop offset=".8032" stop-color="#de4bdd"/><stop offset=".8441" stop-color="#db3af2"/><stop offset=".8548" stop-color="#db37f5"/><stop offset=".8553" stop-color="#d92fff"/><stop offset="1" stop-color="#d92fff"/></linearGradient>
<linearGradient id="h35" gradientUnits="userSpaceOnUse" x1="0" y1="0" x2="0" y2="4.7" spreadMethod="reflect"><stop offset="0" stop-color="#d92fff"/><stop offset=".0117" stop-color="#d92fff"/><stop offset=".0122" stop-color="#db38f4"/><stop offset=".0239" stop-color="#de4ddb"/><stop offset=".0388" stop-color="#e676a8"/><stop offset=".0686" stop-color="#f8d632"/><stop offset=".0819" stop-color="#fdf60b"/><stop offset=".0878" stop-color="#ffff01"/><stop offset=".0995" stop-color="#ffff0b"/><stop offset=".1112" stop-color="#ffff06"/><stop offset=".116" stop-color="#fffe01"/><stop offset=".1282" stop-color="#fae61f"/><stop offset=".1447" stop-color="#f2b659"/><stop offset=".1707" stop-color="#e263bf"/><stop offset=".184" stop-color="#dd43e6"/><stop offset=".1915" stop-color="#db38f4"/><stop offset=".192" stop-color="#d92fff"/><stop offset=".216" stop-color="#d92fff"/><stop offset=".2165" stop-color="#db38f4"/><stop offset=".2287" stop-color="#df4dda"/><stop offset=".2436" stop-color="#e676a7"/><stop offset=".2771" stop-color="#fae520"/><stop offset=".2872" stop-color="#ff0"/><stop offset=".3" stop-color="#ffff1a"/><stop offset=".3122" stop-color="#ffff24"/><stop offset=".3245" stop-color="#ffff1f"/><stop offset=".3372" stop-color="#ffff09"/><stop offset=".3415" stop-color="#fffe01"/><stop offset=".358" stop-color="#f7d138"/><stop offset=".3904" stop-color="#e46cb4"/><stop offset=".4053" stop-color="#de48e0"/><stop offset=".416" stop-color="#db38f4"/><stop offset=".4165" stop-color="#d92fff"/><stop offset=".4431" stop-color="#d92fff"/><stop offset=".4436" stop-color="#db38f4"/><stop offset=".4564" stop-color="#de4cdb"/><stop offset=".4713" stop-color="#e572ac"/><stop offset=".4915" stop-color="#f2b65a"/><stop offset=".5117" stop-color="#ff0"/><stop offset=".533" stop-color="#ffff4f"/><stop offset=".5495" stop-color="#ffff7e"/><stop offset=".5649" stop-color="#ffff9b"/><stop offset=".5803" stop-color="#ffffa8"/><stop offset=".5963" stop-color="#ffffa7"/><stop offset=".6138" stop-color="#ffff95"/><stop offset=".6351" stop-color="#ffff6e"/><stop offset=".6734" stop-color="#ffff10"/><stop offset=".6798" stop-color="#ff0"/><stop offset=".7149" stop-color="#f2b65a"/><stop offset=".7431" stop-color="#e98793"/><stop offset=".7718" stop-color="#e364be"/><stop offset=".8043" stop-color="#de4bdd"/><stop offset=".8447" stop-color="#db3af1"/><stop offset=".8559" stop-color="#db37f5"/><stop offset=".8564" stop-color="#d92fff"/><stop offset="1" stop-color="#d92fff"/></linearGradient>
<linearGradient id="h36" gradientUnits="userSpaceOnUse" x1="0" y1="0" x2="0" y2="4.7" spreadMethod="reflect"><stop offset="0" stop-color="#d92fff"/><stop offset=".0112" stop-color="#d92fff"/><stop offset=".0117" stop-color="#db37f5"/><stop offset=".0234" stop-color="#de4cdb"/><stop offset=".0378" stop-color="#e675aa"/><stop offset=".0686" stop-color="#f8db2c"/><stop offset=".0814" stop-color="#fefb05"/><stop offset=".084" stop-color="#ffff01"/><stop offset=".0957" stop-color="#ff1"/><stop offset=".1069" stop-color="#ff1"/><stop offset=".1197" stop-color="#fffe01"/><stop offset=".1324" stop-color="#f9e026"/><stop offset=".1527" stop-color="#ed9f76"/><stop offset=".1723" stop-color="#e260c3"/><stop offset=".1851" stop-color="#dc42e8"/><stop offset=".192" stop-color="#db37f5"/><stop offset=".1926" stop-color="#d92fff"/><stop offset=".2154" stop-color="#d92fff"/><stop offset=".216" stop-color="#db37f5"/><stop offset=".2277" stop-color="#de4cdb"/><stop offset=".2415" stop-color="#e572ad"/><stop offset=".2777" stop-color="#fbec18"/><stop offset=".2846" stop-color="#ff0"/><stop offset=".2979" stop-color="#ffff1f"/><stop offset=".3101" stop-color="#ffff2c"/><stop offset=".3218" stop-color="#ffff29"/><stop offset=".3346" stop-color="#ffff16"/><stop offset=".3436" stop-color="#ff0"/><stop offset=".359" stop-color="#f7d336"/><stop offset=".3904" stop-color="#e46eb2"/><stop offset=".4048" stop-color="#de4ade"/><stop offset=".4165" stop-color="#db37f5"/><stop offset=".417" stop-color="#d92fff"/><stop offset=".4426" stop-color="#d92fff"/><stop offset=".4431" stop-color="#db37f5"/><stop offset=".4559" stop-color="#de4cdb"/><stop offset=".4702" stop-color="#e571ae"/><stop offset=".4894" stop-color="#f1b25e"/><stop offset=".5101" stop-color="#ffff01"/><stop offset=".5314" stop-color="#ffff53"/><stop offset=".5479" stop-color="#ffff85"/><stop offset=".5633" stop-color="#ffffa4"/><stop offset=".5787" stop-color="#ffffb4"/><stop offset=".5947" stop-color="#ffffb4"/><stop offset=".6117" stop-color="#ffffa4"/><stop offset=".6324" stop-color="#ffff7e"/><stop offset=".6644" stop-color="#ffff30"/><stop offset=".683" stop-color="#fffe01"/><stop offset=".716" stop-color="#f2b857"/><stop offset=".7436" stop-color="#e98991"/><stop offset=".7718" stop-color="#e366bc"/><stop offset=".8037" stop-color="#de4cdb"/><stop offset=".8436" stop-color="#db3bf1"/><stop offset=".8569" stop-color="#db37f5"/><stop offset=".8574" stop-color="#d92fff"/><stop offset="1" stop-color="#d92fff"/></linearGradient>
<linearGradient id="h37" gradientUnits="userSpaceOnUse" x1="0" y1="0" x2="0" y2="4.7" spreadMethod="reflect"><stop offset="0" stop-color="#d92fff"/><stop offset=".0112" stop-color="#d92fff"/><stop offset=".0117" stop-color="#db38f4"/><stop offset=".0234" stop-color="#df4dda"/><stop offset=".0372" stop-color="#e675a9"/><stop offset=".0686" stop-color="#f9e026"/><stop offset=".0803" stop-color="#ff0"/><stop offset=".092" stop-color="#ffff15"/><stop offset=".1032" stop-color="#ffff1a"/><stop offset=".1144" stop-color="#ffff10"/><stop offset=".1223" stop-color="#ff0"/><stop offset=".1351" stop-color="#f9de29"/><stop offset=".1713" stop-color="#e365bd"/><stop offset=".184" stop-color="#dd45e4"/><stop offset=".192" stop-color="#db38f4"/><stop offset=".1926" stop-color="#d92fff"/><stop offset=".2154" stop-color="#d92fff"/><stop offset=".216" stop-color="#db38f4"/><stop offset=".2277" stop-color="#de4dda"/><stop offset=".2415" stop-color="#e674aa"/><stop offset=".2771" stop-color="#fcf012"/><stop offset=".2824" stop-color="#ffff01"/><stop offset=".2957" stop-color="#ffff23"/><stop offset=".308" stop-color="#ff3"/><stop offset=".3197" stop-color="#ff3"/><stop offset=".3319" stop-color="#ffff24"/><stop offset=".3463" stop-color="#ffff01"/><stop offset=".3649" stop-color="#f4c448"/><stop offset=".3904" stop-color="#e570b0"/><stop offset=".4048" stop-color="#de4bdd"/><stop offset=".4165" stop-color="#db38f4"/><stop offset=".417" stop-color="#d92fff"/><stop offset=".4426" stop-color="#d92fff"/><stop offset=".4431" stop-color="#db38f4"/><stop offset=".4559" stop-color="#df4dda"/><stop offset=".4702" stop-color="#e573ab"/><stop offset=".4888" stop-color="#f1b45c"/><stop offset=".508" stop-color="#fffe01"/><stop offset=".5101" stop-color="#ffff08"/><stop offset=".5314" stop-color="#ffff5d"/><stop offset=".5479" stop-color="#ffff90"/><stop offset=".5633" stop-color="#ffffb0"/><stop offset=".5782" stop-color="#ffffc0"/><stop offset=".5936" stop-color="#ffffc1"/><stop offset=".6106" stop-color="#ffffb1"/><stop offset=".6303" stop-color="#ffff8e"/><stop offset=".6596" stop-color="#ffff46"/><stop offset=".6856" stop-color="#fffe01"/><stop offset=".7176" stop-color="#f2b956"/><stop offset=".7452" stop-color="#e98990"/><stop offset=".7734" stop-color="#e366bc"/><stop offset=".8048" stop-color="#de4cdb"/><stop offset=".8441" stop-color="#db3bf0"/><stop offset=".8585" stop-color="#db37f5"/><stop offset=".859" stop-color="#d92fff"/><stop offset="1" stop-color="#d92fff"/></linearGradient>
<linearGradient id="h38" gradientUnits="userSpaceOnUse" x1="0" y1="0" x2="0" y2="4.7" spreadMethod="reflect"><stop offset="0" stop-color="#d92fff"/><stop offset=".0106" stop-color="#d92fff"/><stop offset=".0112" stop-color="#db38f4"/><stop offset=".0223" stop-color="#de4cdc"/><stop offset=".0356" stop-color="#e572ad"/><stop offset=".0686" stop-color="#fae61f"/><stop offset=".0777" stop-color="#ff0"/><stop offset=".0894" stop-color="#ffff19"/><stop offset=".1005" stop-color="#ff2"/><stop offset=".1117" stop-color="#ffff1b"/><stop offset=".1234" stop-color="#ffff05"/><stop offset=".1255" stop-color="#fffe01"/><stop offset=".1399" stop-color="#f7d335"/><stop offset=".1702" stop-color="#e46ab7"/><stop offset=".183" stop-color="#de48e1"/><stop offset=".1926" stop-color="#db37f5"/><stop offset=".1931" stop-color="#d92fff"/><stop offset=".2149" stop-color="#d92fff"/><stop offset=".2154" stop-color="#db38f4"/><stop offset=".2266" stop-color="#de4cdc"/><stop offset=".2399" stop-color="#e571ae"/><stop offset=".2777" stop-color="#fef809"/><stop offset=".2803" stop-color="#ffff01"/><stop offset=".2936" stop-color="#ffff27"/><stop offset=".3053" stop-color="#ffff3a"/><stop offset=".317" stop-color="#ffff3d"/><stop offset=".3287" stop-color="#ffff32"/><stop offset=".3415" stop-color="#ffff15"/><stop offset=".3484" stop-color="#ff0"/><stop offset=".3686" stop-color="#f3bc53"/><stop offset=".391" stop-color="#e570af"/><stop offset=".4053" stop-color="#de4bdd"/><stop offset=".417" stop-color="#db38f4"/><stop offset=".4176" stop-color="#d92fff"/><stop offset=".442" stop-color="#d92fff"/><stop offset=".4426" stop-color="#db37f5"/><stop offset=".4548" stop-color="#de4cdc"/><stop offset=".4686" stop-color="#e571af"/><stop offset=".4862" stop-color="#f0ae63"/><stop offset=".5064" stop-color="#fffe01"/><stop offset=".509" stop-color="#ffff0b"/><stop offset=".5303" stop-color="#ffff63"/><stop offset=".5468" stop-color="#ff9"/><stop offset=".5617" stop-color="#ffffba"/><stop offset=".5766" stop-color="#ffc"/><stop offset=".592" stop-color="#ffffcf"/><stop offset=".6085" stop-color="#ffffc1"/><stop offset=".6277" stop-color="#ffff9f"/><stop offset=".6543" stop-color="#ffff5e"/><stop offset=".6883" stop-color="#fffe01"/><stop offset=".7191" stop-color="#f2ba55"/><stop offset=".7463" stop-color="#ea8a8f"/><stop offset=".7739" stop-color="#e367ba"/><stop offset=".8053" stop-color="#de4dda"/><stop offset=".8441" stop-color="#db3bf0"/><stop offset=".8596" stop-color="#db37f5"/><stop offset=".8601" stop-color="#d92fff"/><stop offset="1" stop-color="#d92fff"/></linearGradient>
<linearGradient id="h39" gradientUnits="userSpaceOnUse" x1="0" y1="0" x2="0" y2="4.7" spreadMethod="reflect"><stop offset="0" stop-color="#d92fff"/><stop offset=".0106" stop-color="#d92fff"/><stop offset=".0112" stop-color="#db38f4"/><stop offset=".0223" stop-color="#de4dda"/><stop offset=".0356" stop-color="#e674aa"/><stop offset=".0686" stop-color="#fbeb18"/><stop offset=".0755" stop-color="#ffff01"/><stop offset=".0872" stop-color="#ffff1e"/><stop offset=".0984" stop-color="#ffff2a"/><stop offset=".109" stop-color="#ffff26"/><stop offset=".1202" stop-color="#ffff14"/><stop offset=".1277" stop-color="#ff0"/><stop offset=".1426" stop-color="#f6cf3b"/><stop offset=".1697" stop-color="#e46db3"/><stop offset=".1824" stop-color="#de4ade"/><stop offset=".1926" stop-color="#db38f4"/><stop offset=".1931" stop-color="#d92fff"/><stop offset=".2149" stop-color="#d92fff"/><stop offset=".2154" stop-color="#db38f4"/><stop offset=".2266" stop-color="#de4ddb"/><stop offset=".2399" stop-color="#e573ac"/><stop offset=".2777" stop-color="#fffe02"/><stop offset=".2787" stop-color="#ffff02"/><stop offset=".292" stop-color="#ffff2b"/><stop offset=".3037" stop-color="#ffff41"/><stop offset=".3149" stop-color="#ffff47"/><stop offset=".3266" stop-color="#ffff3e"/><stop offset=".3388" stop-color="#ffff24"/><stop offset=".3505" stop-color="#ffff01"/><stop offset=".3755" stop-color="#efa76c"/><stop offset=".3941" stop-color="#e469b8"/><stop offset=".4074" stop-color="#dd47e1"/><stop offset=".4176" stop-color="#db37f5"/><stop offset=".4181" stop-color="#d92fff"/><stop offset=".442" stop-color="#d92fff"/><stop offset=".4426" stop-color="#db38f4"/><stop offset=".4548" stop-color="#de4dda"/><stop offset=".4681" stop-color="#e571ae"/><stop offset=".4851" stop-color="#f0ae64"/><stop offset=".5048" stop-color="#fffe02"/><stop offset=".5064" stop-color="#ffff06"/><stop offset=".5287" stop-color="#ffff67"/><stop offset=".5452" stop-color="#ffffa0"/><stop offset=".5601" stop-color="#ffffc4"/><stop offset=".5745" stop-color="#ffffd8"/><stop offset=".5894" stop-color="#ffd"/><stop offset=".6053" stop-color="#ffffd2"/><stop offset=".6234" stop-color="#ffffb4"/><stop offset=".6468" stop-color="#ffff7c"/><stop offset=".6904" stop-color="#ff0"/><stop offset=".7223" stop-color="#f2b857"/><stop offset=".7489" stop-color="#e98990"/><stop offset=".7766" stop-color="#e366bb"/><stop offset=".8074" stop-color="#de4ddb"/><stop offset=".8463" stop-color="#db3bf0"/><stop offset=".8612" stop-color="#db37f5"/><stop offset=".8617" stop-color="#d92fff"/><stop offset="1" stop-color="#d92fff"/></linearGradient>
<linearGradient id="h40" gradientUnits="userSpaceOnUse" x1="0" y1="0" x2="0" y2="4.7" spreadMethod="reflect"><stop offset="0" stop-color="#d92fff"/><stop offset=".0101" stop-color="#d92fff"/><stop offset=".0106" stop-color="#db38f4"/><stop offset=".0213" stop-color="#de4bdc"/><stop offset=".034" stop-color="#e571ae"/><stop offset=".0686" stop-color="#fcf111"/><stop offset=".0729" stop-color="#fffe01"/><stop offset=".0867" stop-color="#ffff24"/><stop offset=".0973" stop-color="#ffff32"/><stop offset=".108" stop-color="#ffff30"/><stop offset=".1191" stop-color="#ffff1e"/><stop offset=".1298" stop-color="#ff0"/><stop offset=".1457" stop-color="#f5c843"/><stop offset=".1697" stop-color="#e56fb0"/><stop offset=".1824" stop-color="#de4bdd"/><stop offset=".1931" stop-color="#db38f4"/><stop offset=".1936" stop-color="#d92fff"/><stop offset=".2144" stop-color="#d92fff"/><stop offset=".2149" stop-color="#db38f4"/><stop offset=".2261" stop-color="#de4cdb"/><stop offset=".2388" stop-color="#e572ad"/><stop offset=".2601" stop-color="#f4c24a"/><stop offset=".2761" stop-color="#fffe01"/><stop offset=".2915" stop-color="#ffff32"/><stop offset=".3032" stop-color="#ffff49"/><stop offset=".3144" stop-color="#ffff50"/><stop offset=".3255" stop-color="#ffff48"/><stop offset=".3378" stop-color="#ffff2f"/><stop offset=".3521" stop-color="#ffff01"/><stop offset=".366" stop-color="#f6ce3c"/><stop offset=".3899" stop-color="#e678a6"/><stop offset=".4037" stop-color="#df51d6"/><stop offset=".416" stop-color="#db3af2"/><stop offset=".4176" stop-color="#db38f4"/><stop offset=".4181" stop-color="#d92fff"/><stop offset=".4415" stop-color="#d92fff"/><stop offset=".442" stop-color="#db38f4"/><stop offset=".4537" stop-color="#de4cdc"/><stop offset=".467" stop-color="#e570b0"/><stop offset=".483" stop-color="#efa969"/><stop offset=".5037" stop-color="#ffff01"/><stop offset=".5266" stop-color="#ffff68"/><stop offset=".5431" stop-color="#ffffa5"/><stop offset=".558" stop-color="#ffffcd"/><stop offset=".5723" stop-color="#ffffe4"/><stop offset=".5867" stop-color="#ffffeb"/><stop offset=".6021" stop-color="#ffffe3"/><stop offset=".6191" stop-color="#ffffca"/><stop offset=".6404" stop-color="#ffff98"/><stop offset=".6931" stop-color="#ff0"/><stop offset=".7223" stop-color="#f3bc52"/><stop offset=".7484" stop-color="#ea8d8c"/><stop offset=".7755" stop-color="#e469b8"/><stop offset=".8059" stop-color="#df4fd8"/><stop offset=".8436" stop-color="#db3cef"/><stop offset=".8622" stop-color="#db37f5"/><stop offset=".8628" stop-color="#d92fff"/><stop offset="1" stop-color="#d92fff"/></linearGradient>
<linearGradient id="h41" gradientUnits="userSpaceOnUse" x1="0" y1="0" x2="0" y2="4.7" spreadMethod="reflect"><stop offset="0" stop-color="#d92fff"/><stop offset=".0096" stop-color="#d92fff"/><stop offset=".0101" stop-color="#db37f5"/><stop offset=".0207" stop-color="#de4bdd"/><stop offset=".033" stop-color="#e56fb0"/><stop offset=".0686" stop-color="#fef70a"/><stop offset=".0713" stop-color="#ffff01"/><stop offset=".0835" stop-color="#ffff26"/><stop offset=".0941" stop-color="#ffff38"/><stop offset=".1048" stop-color="#ffff3a"/><stop offset=".1154" stop-color="#ffff2e"/><stop offset=".1271" stop-color="#ffff10"/><stop offset=".1319" stop-color="#fffe01"/><stop offset=".1489" stop-color="#f4c04d"/><stop offset=".1702" stop-color="#e570b0"/><stop offset=".1824" stop-color="#de4cdc"/><stop offset=".1931" stop-color="#db38f4"/><stop offset=".1936" stop-color="#db37f5"/><stop offset=".1941" stop-color="#d92fff"/><stop offset=".2138" stop-color="#d92fff"/><stop offset=".2144" stop-color="#db37f5"/><stop offset=".225" stop-color="#de4bdd"/><stop offset=".2372" stop-color="#e56eb1"/><stop offset=".2553" stop-color="#f1b35d"/><stop offset=".2745" stop-color="#ff0"/><stop offset=".2883" stop-color="#ffff32"/><stop offset=".3" stop-color="#ffff4e"/><stop offset=".3112" stop-color="#ffff59"/><stop offset=".3223" stop-color="#ff5"/><stop offset=".334" stop-color="#ffff41"/><stop offset=".3473" stop-color="#ffff1a"/><stop offset=".3543" stop-color="#ff0"/><stop offset=".3899" stop-color="#e77aa3"/><stop offset=".4037" stop-color="#df52d5"/><stop offset=".4154" stop-color="#db3bf0"/><stop offset=".4181" stop-color="#db37f5"/><stop offset=".4186" stop-color="#d92fff"/><stop offset=".441" stop-color="#d92fff"/><stop offset=".4415" stop-color="#db37f5"/><stop offset=".4532" stop-color="#de4bdc"/><stop offset=".466" stop-color="#e56eb1"/><stop offset=".4814" stop-color="#efa76c"/><stop offset=".5021" stop-color="#ff0"/><stop offset=".5261" stop-color="#ffff70"/><stop offset=".5426" stop-color="#ffffb0"/><stop offset=".5569" stop-color="#ffffd8"/><stop offset=".5707" stop-color="#fffff0"/><stop offset=".5851" stop-color="#fffff9"/><stop offset=".6" stop-color="#fffff3"/><stop offset=".6165" stop-color="#ffffdc"/><stop offset=".6367" stop-color="#ffffae"/><stop offset=".6713" stop-color="#ffff49"/><stop offset=".6957" stop-color="#ff0"/><stop offset=".7234" stop-color="#f3be50"/><stop offset=".7489" stop-color="#eb8f89"/><stop offset=".7755" stop-color="#e46bb6"/><stop offset=".8053" stop-color="#df50d7"/><stop offset=".842" stop-color="#dc3ded"/><stop offset=".8633" stop-color="#db37f5"/><stop offset=".8638" stop-color="#d92fff"/><stop offset="1" stop-color="#d92fff"/></linearGradient>
<linearGradient id="h42" gradientUnits="userSpaceOnUse" x1="0" y1="0" x2="0" y2="4.7" spreadMethod="reflect"><stop offset="0" stop-color="#d92fff"/><stop offset=".0096" stop-color="#d92fff"/><stop offset=".0101" stop-color="#db38f4"/><stop offset=".0207" stop-color="#de4cdb"/><stop offset=".033" stop-color="#e571ae"/><stop offset=".0686" stop-color="#fffd02"/><stop offset=".0697" stop-color="#ffff02"/><stop offset=".0819" stop-color="#ffff2a"/><stop offset=".0926" stop-color="#ffff3f"/><stop offset=".1027" stop-color="#ff4"/><stop offset=".1133" stop-color="#ffff3a"/><stop offset=".1245" stop-color="#ffff20"/><stop offset=".1335" stop-color="#ff0"/><stop offset=".1479" stop-color="#f5c942"/><stop offset=".1697" stop-color="#e673ab"/><stop offset=".1819" stop-color="#df4ed9"/><stop offset=".1926" stop-color="#db39f2"/><stop offset=".1936" stop-color="#db38f4"/><stop offset=".1941" stop-color="#d92fff"/><stop offset=".2138" stop-color="#d92fff"/><stop offset=".2144" stop-color="#db38f4"/><stop offset=".225" stop-color="#de4cdc"/><stop offset=".2372" stop-color="#e570af"/><stop offset=".2548" stop-color="#f1b55b"/><stop offset=".2729" stop-color="#ff0"/><stop offset=".2867" stop-color="#ffff35"/><stop offset=".2984" stop-color="#ffff54"/><stop offset=".3096" stop-color="#ffff62"/><stop offset=".3202" stop-color="#ffff61"/><stop offset=".3314" stop-color="#ffff50"/><stop offset=".3441" stop-color="#ffff2d"/><stop offset=".3559" stop-color="#ff0"/><stop offset=".3899" stop-color="#e77da0"/><stop offset=".4032" stop-color="#e054d1"/><stop offset=".4149" stop-color="#db3cef"/><stop offset=".4181" stop-color="#db38f4"/><stop offset=".4186" stop-color="#d92fff"/><stop offset=".441" stop-color="#d92fff"/><stop offset=".4415" stop-color="#db38f4"/><stop offset=".4532" stop-color="#de4cdb"/><stop offset=".466" stop-color="#e570af"/><stop offset=".4814" stop-color="#f0aa68"/><stop offset=".5005" stop-color="#fffe01"/><stop offset=".5277" stop-color="#ffff82"/><stop offset=".5436" stop-color="#ffffc0"/><stop offset=".558" stop-color="#ffffe8"/><stop offset=".5713" stop-color="#fff"/><stop offset=".6043" stop-color="#fffffd"/><stop offset=".6213" stop-color="#ffffe0"/><stop offset=".6426" stop-color="#ffffab"/><stop offset=".6979" stop-color="#ffff01"/><stop offset=".7287" stop-color="#f2b758"/><stop offset=".7543" stop-color="#ea8990"/><stop offset=".7809" stop-color="#e367bb"/><stop offset=".8112" stop-color="#de4dda"/><stop offset=".8495" stop-color="#db3bf0"/><stop offset=".8649" stop-color="#db37f5"/><stop offset=".8654" stop-color="#d92fff"/><stop offset="1" stop-color="#d92fff"/></linearGradient>
<linearGradient id="h43" gradientUnits="userSpaceOnUse" x1="0" y1="0" x2="0" y2="4.7" spreadMethod="reflect"><stop offset="0" stop-color="#d92fff"/><stop offset=".009" stop-color="#d92fff"/><stop offset=".0096" stop-color="#db38f4"/><stop offset=".0197" stop-color="#de4add"/><stop offset=".0314" stop-color="#e46eb2"/><stop offset=".0489" stop-color="#f1b45c"/><stop offset=".067" stop-color="#fffd02"/><stop offset=".0681" stop-color="#ffff03"/><stop offset=".0803" stop-color="#ffff2e"/><stop offset=".091" stop-color="#ffff45"/><stop offset=".1011" stop-color="#ffff4d"/><stop offset=".1112" stop-color="#ffff46"/><stop offset=".1218" stop-color="#ffff30"/><stop offset=".1356" stop-color="#fffe01"/><stop offset=".1702" stop-color="#e674ab"/><stop offset=".1824" stop-color="#df4ed9"/><stop offset=".1931" stop-color="#db39f3"/><stop offset=".1941" stop-color="#db38f4"/><stop offset=".1947" stop-color="#d92fff"/><stop offset=".2133" stop-color="#d92fff"/><stop offset=".2138" stop-color="#db38f4"/><stop offset=".2245" stop-color="#de4bdc"/><stop offset=".2362" stop-color="#e56fb1"/><stop offset=".2527" stop-color="#f1b061"/><stop offset=".2713" stop-color="#ff0"/><stop offset=".2856" stop-color="#ffff3a"/><stop offset=".2973" stop-color="#ffff5b"/><stop offset=".308" stop-color="#ffff6b"/><stop offset=".3186" stop-color="#ffff6c"/><stop offset=".3298" stop-color="#ffff5d"/><stop offset=".342" stop-color="#ffff3c"/><stop offset=".3569" stop-color="#ffff03"/><stop offset=".358" stop-color="#fffd02"/><stop offset=".3894" stop-color="#e8819b"/><stop offset=".4027" stop-color="#e057ce"/><stop offset=".4144" stop-color="#dc3eed"/><stop offset=".4186" stop-color="#db38f4"/><stop offset=".4191" stop-color="#d92fff"/><stop offset=".4404" stop-color="#d92fff"/><stop offset=".441" stop-color="#db38f4"/><stop offset=".4521" stop-color="#de4bdd"/><stop offset=".4644" stop-color="#e46db3"/><stop offset=".4787" stop-color="#eea371"/><stop offset=".4995" stop-color="#ffff01"/><stop offset=".5245" stop-color="#ffff7f"/><stop offset=".5404" stop-color="#ffffc1"/><stop offset=".5548" stop-color="#ffe"/><stop offset=".5628" stop-color="#fff"/><stop offset=".6138" stop-color="#fffffd"/><stop offset=".6324" stop-color="#ffffd3"/><stop offset=".6596" stop-color="#ffff82"/><stop offset=".7005" stop-color="#ff0"/><stop offset=".7271" stop-color="#f3bf4e"/><stop offset=".7521" stop-color="#eb9089"/><stop offset=".7782" stop-color="#e46bb5"/><stop offset=".8074" stop-color="#df51d6"/><stop offset=".8436" stop-color="#dc3eed"/><stop offset=".866" stop-color="#db37f5"/><stop offset=".8665" stop-color="#d92fff"/><stop offset="1" stop-color="#d92fff"/></linearGradient>
<linearGradient id="h44" gradientUnits="userSpaceOnUse" x1="0" y1="0" x2="0" y2="4.7" spreadMethod="reflect"><stop offset="0" stop-color="#d92fff"/><stop offset=".0085" stop-color="#d92fff"/><stop offset=".009" stop-color="#db38f5"/><stop offset=".0191" stop-color="#de4ade"/><stop offset=".0303" stop-color="#e46cb4"/><stop offset=".0463" stop-color="#f0ac66"/><stop offset=".0654" stop-color="#fffe02"/><stop offset=".0665" stop-color="#ffff03"/><stop offset=".0793" stop-color="#ff3"/><stop offset=".0899" stop-color="#ffff4d"/><stop offset=".1" stop-color="#ffff56"/><stop offset=".1101" stop-color="#ffff51"/><stop offset=".1207" stop-color="#ffff3b"/><stop offset=".133" stop-color="#ff1"/><stop offset=".1372" stop-color="#fffe01"/><stop offset=".1697" stop-color="#e678a6"/><stop offset=".1819" stop-color="#df50d6"/><stop offset=".1926" stop-color="#db3af1"/><stop offset=".1947" stop-color="#db37f5"/><stop offset=".1952" stop-color="#d92fff"/><stop offset=".2128" stop-color="#d92fff"/><stop offset=".2133" stop-color="#db38f5"/><stop offset=".2234" stop-color="#de4ade"/><stop offset=".2346" stop-color="#e46bb5"/><stop offset=".2495" stop-color="#efa66d"/><stop offset=".2697" stop-color="#ff0"/><stop offset=".2846" stop-color="#ffff3f"/><stop offset=".2963" stop-color="#ffff63"/><stop offset=".3069" stop-color="#ffff75"/><stop offset=".3176" stop-color="#ff7"/><stop offset=".3282" stop-color="#ffff6a"/><stop offset=".3399" stop-color="#ffff4c"/><stop offset=".3537" stop-color="#ffff18"/><stop offset=".359" stop-color="#ff0"/><stop offset=".3899" stop-color="#e8829a"/><stop offset=".4032" stop-color="#e057ce"/><stop offset=".4149" stop-color="#dc3ded"/><stop offset=".4191" stop-color="#db38f5"/><stop offset=".4197" stop-color="#d92fff"/><stop offset=".4399" stop-color="#d92fff"/><stop offset=".4404" stop-color="#db37f5"/><stop offset=".4516" stop-color="#de4bdd"/><stop offset=".4638" stop-color="#e46db2"/><stop offset=".4782" stop-color="#eea46f"/><stop offset=".4979" stop-color="#ffff01"/><stop offset=".5255" stop-color="#ffff8f"/><stop offset=".541" stop-color="#ffffd0"/><stop offset=".5548" stop-color="#fffffd"/><stop offset=".5676" stop-color="#fff"/><stop offset=".6207" stop-color="#fffffe"/><stop offset=".641" stop-color="#ffffc9"/><stop offset=".7027" stop-color="#ffff01"/><stop offset=".7324" stop-color="#f2b857"/><stop offset=".7569" stop-color="#ea8b8e"/><stop offset=".783" stop-color="#e368b9"/><stop offset=".8128" stop-color="#df4ed9"/><stop offset=".85" stop-color="#db3cef"/><stop offset=".867" stop-color="#db37f5"/><stop offset=".8676" stop-color="#d92fff"/><stop offset="1" stop-color="#d92fff"/></linearGradient>
<linearGradient id="h45" gradientUnits="userSpaceOnUse" x1="0" y1="0" x2="0" y2="4.7" spreadMethod="reflect"><stop offset="0" stop-color="#d92fff"/><stop offset=".008" stop-color="#d92fff"/><stop offset=".0085" stop-color="#db37f5"/><stop offset=".0186" stop-color="#de4ade"/><stop offset=".0298" stop-color="#e46cb4"/><stop offset=".0447" stop-color="#efa969"/><stop offset=".0644" stop-color="#ffff01"/><stop offset=".0771" stop-color="#ffff35"/><stop offset=".0878" stop-color="#ffff52"/><stop offset=".0979" stop-color="#ffff5f"/><stop offset=".108" stop-color="#ffff5d"/><stop offset=".1181" stop-color="#ffff4b"/><stop offset=".1293" stop-color="#ffff27"/><stop offset=".1388" stop-color="#fffe01"/><stop offset=".1691" stop-color="#e77ca0"/><stop offset=".1814" stop-color="#e053d3"/><stop offset=".1915" stop-color="#db3cee"/><stop offset=".1947" stop-color="#db38f4"/><stop offset=".1952" stop-color="#d92fff"/><stop offset=".2122" stop-color="#d92fff"/><stop offset=".2128" stop-color="#db37f5"/><stop offset=".2229" stop-color="#de4ade"/><stop offset=".234" stop-color="#e46bb5"/><stop offset=".2484" stop-color="#efa56e"/><stop offset=".2681" stop-color="#fffe01"/><stop offset=".2851" stop-color="#ffff4a"/><stop offset=".2968" stop-color="#ffff6e"/><stop offset=".3074" stop-color="#ffff80"/><stop offset=".3181" stop-color="#ffff81"/><stop offset=".3287" stop-color="#ffff74"/><stop offset=".3404" stop-color="#ffff54"/><stop offset=".3543" stop-color="#ffff1d"/><stop offset=".3606" stop-color="#ff0"/><stop offset=".3888" stop-color="#e98892"/><stop offset=".4021" stop-color="#e15bc9"/><stop offset=".4133" stop-color="#dc41e9"/><stop offset=".4197" stop-color="#db37f5"/><stop offset=".4202" stop-color="#d92fff"/><stop offset=".4399" stop-color="#d92fff"/><stop offset=".4404" stop-color="#db38f4"/><stop offset=".4516" stop-color="#de4cdc"/><stop offset=".4633" stop-color="#e46eb2"/><stop offset=".4771" stop-color="#eea370"/><stop offset=".4968" stop-color="#ffff01"/><stop offset=".5229" stop-color="#ffff8d"/><stop offset=".5388" stop-color="#ffffd5"/><stop offset=".5505" stop-color="#fff"/><stop offset=".6271" stop-color="#fffffd"/><stop offset=".65" stop-color="#ffffb9"/><stop offset=".7032" stop-color="#ffff06"/><stop offset=".7053" stop-color="#ff0"/><stop offset=".7303" stop-color="#f4c14c"/><stop offset=".7543" stop-color="#eb9286"/><stop offset=".7798" stop-color="#e46db3"/><stop offset=".8085" stop-color="#df52d4"/><stop offset=".8436" stop-color="#dc3fec"/><stop offset=".8686" stop-color="#db37f5"/><stop offset=".8691" stop-color="#d92fff"/><stop offset="1" stop-color="#d92fff"/></linearGradient>
<linearGradient id="h46" gradientUnits="userSpaceOnUse" x1="0" y1="0" x2="0" y2="4.7" spreadMethod="reflect"><stop offset="0" stop-color="#d92fff"/><stop offset=".008" stop-color="#d92fff"/><stop offset=".0085" stop-color="#db38f4"/><stop offset=".0181" stop-color="#de4ade"/><stop offset=".0287" stop-color="#e46ab6"/><stop offset=".0431" stop-color="#efa66e"/><stop offset=".0628" stop-color="#ff0"/><stop offset=".0761" stop-color="#ffff39"/><stop offset=".0867" stop-color="#ffff59"/><stop offset=".0968" stop-color="#ffff68"/><stop offset=".1064" stop-color="#ffff68"/><stop offset=".1165" stop-color="#ffff58"/><stop offset=".1277" stop-color="#ffff36"/><stop offset=".1399" stop-color="#ffff01"/><stop offset=".1447" stop-color="#fbeb18"/><stop offset=".1686" stop-color="#e8819a"/><stop offset=".1803" stop-color="#e058cd"/><stop offset=".1904" stop-color="#dc3feb"/><stop offset=".1952" stop-color="#db38f4"/><stop offset=".1957" stop-color="#d92fff"/><stop offset=".2122" stop-color="#d92fff"/><stop offset=".2128" stop-color="#db38f4"/><stop offset=".2229" stop-color="#de4bdd"/><stop offset=".234" stop-color="#e46db3"/><stop offset=".2479" stop-color="#efa66d"/><stop offset=".267" stop-color="#ffff01"/><stop offset=".2819" stop-color="#ffff47"/><stop offset=".2936" stop-color="#ffff70"/><stop offset=".3043" stop-color="#ffff87"/><stop offset=".3144" stop-color="#ffff8e"/><stop offset=".3245" stop-color="#ffff86"/><stop offset=".3356" stop-color="#ffff6d"/><stop offset=".3484" stop-color="#ffff3f"/><stop offset=".3622" stop-color="#ffff01"/><stop offset=".3883" stop-color="#ea8d8c"/><stop offset=".4016" stop-color="#e25ec5"/><stop offset=".4128" stop-color="#dd43e7"/><stop offset=".4197" stop-color="#db38f4"/><stop offset=".4202" stop-color="#d92fff"/><stop offset=".4394" stop-color="#d92fff"/><stop offset=".4399" stop-color="#db38f4"/><stop offset=".4505" stop-color="#de4ade"/><stop offset=".4622" stop-color="#e46cb4"/><stop offset=".4755" stop-color="#eea074"/><stop offset=".4941" stop-color="#fef908"/><stop offset=".4952" stop-color="#fffe01"/><stop offset=".5005" stop-color="#ffff1d"/><stop offset=".5239" stop-color="#ffff9e"/><stop offset=".5394" stop-color="#ffffe5"/><stop offset=".5463" stop-color="#fff"/><stop offset=".6324" stop-color="#fffffd"/><stop offset=".658" stop-color="#ffa"/><stop offset=".7027" stop-color="#ffff0f"/><stop offset=".7074" stop-color="#ff0"/><stop offset=".734" stop-color="#f3bd51"/><stop offset=".758" stop-color="#eb8f8a"/><stop offset=".7835" stop-color="#e46bb6"/><stop offset=".8122" stop-color="#df50d6"/><stop offset=".8479" stop-color="#dc3eed"/><stop offset=".8697" stop-color="#db37f5"/><stop offset=".8702" stop-color="#d92fff"/><stop offset="1" stop-color="#d92fff"/></linearGradient>
<linearGradient id="h47" gradientUnits="userSpaceOnUse" x1="0" y1="0" x2="0" y2="4.7" spreadMethod="reflect"><stop offset="0" stop-color="#d92fff"/><stop offset=".0074" stop-color="#d92fff"/><stop offset=".008" stop-color="#db38f4"/><stop offset=".0176" stop-color="#de49df"/><stop offset=".0282" stop-color="#e46ab6"/><stop offset=".042" stop-color="#eea46f"/><stop offset=".0612" stop-color="#fffe01"/><stop offset=".0766" stop-color="#ff4"/><stop offset=".0872" stop-color="#ffff64"/><stop offset=".0968" stop-color="#ffff73"/><stop offset=".1064" stop-color="#ffff72"/><stop offset=".1165" stop-color="#ffff62"/><stop offset=".1271" stop-color="#ffff41"/><stop offset=".1404" stop-color="#ffff06"/><stop offset=".1415" stop-color="#ff0"/><stop offset=".1691" stop-color="#e8829a"/><stop offset=".1809" stop-color="#e057ce"/><stop offset=".191" stop-color="#dc3fec"/><stop offset=".1957" stop-color="#db38f4"/><stop offset=".1963" stop-color="#d92fff"/><stop offset=".2117" stop-color="#d92fff"/><stop offset=".2122" stop-color="#db38f4"/><stop offset=".2218" stop-color="#de49df"/><stop offset=".2324" stop-color="#e469b7"/><stop offset=".2457" stop-color="#eea074"/><stop offset=".2654" stop-color="#ff0"/><stop offset=".2819" stop-color="#ffff50"/><stop offset=".2936" stop-color="#ffff7b"/><stop offset=".3043" stop-color="#ffff92"/><stop offset=".3144" stop-color="#ff9"/><stop offset=".3245" stop-color="#ffff91"/><stop offset=".3351" stop-color="#ffff79"/><stop offset=".3473" stop-color="#ffff4d"/><stop offset=".3633" stop-color="#ffff01"/><stop offset=".3654" stop-color="#fdf60b"/><stop offset=".3888" stop-color="#ea8e8a"/><stop offset=".4016" stop-color="#e260c3"/><stop offset=".4128" stop-color="#dd43e6"/><stop offset=".4202" stop-color="#db38f4"/><stop offset=".4207" stop-color="#d92fff"/><stop offset=".4388" stop-color="#d92fff"/><stop offset=".4394" stop-color="#db38f4"/><stop offset=".45" stop-color="#de4ade"/><stop offset=".4612" stop-color="#e46ab6"/><stop offset=".4739" stop-color="#ed9d79"/><stop offset=".4915" stop-color="#fcf111"/><stop offset=".4941" stop-color="#ff0"/><stop offset=".5223" stop-color="#ffffa2"/><stop offset=".5378" stop-color="#ffffed"/><stop offset=".5426" stop-color="#fff"/><stop offset=".6372" stop-color="#fffffe"/><stop offset=".6676" stop-color="#ffff94"/><stop offset=".7043" stop-color="#ffff12"/><stop offset=".7101" stop-color="#fffe01"/><stop offset=".734" stop-color="#f4c14b"/><stop offset=".7574" stop-color="#eb9385"/><stop offset=".7824" stop-color="#e56eb2"/><stop offset=".8106" stop-color="#df53d3"/><stop offset=".8452" stop-color="#dc3feb"/><stop offset=".8707" stop-color="#db37f5"/><stop offset=".8713" stop-color="#d92fff"/><stop offset="1" stop-color="#d92fff"/></linearGradient>
<linearGradient id="h48" gradientUnits="userSpaceOnUse" x1="0" y1="0" x2="0" y2="4.7" spreadMethod="reflect"><stop offset="0" stop-color="#d92fff"/><stop offset=".0069" stop-color="#d92fff"/><stop offset=".0074" stop-color="#db38f4"/><stop offset=".017" stop-color="#de49df"/><stop offset=".0271" stop-color="#e368b9"/><stop offset=".0399" stop-color="#ed9e77"/><stop offset=".0601" stop-color="#ffff01"/><stop offset=".0734" stop-color="#ffff40"/><stop offset=".084" stop-color="#ff6"/><stop offset=".0936" stop-color="#ffff7a"/><stop offset=".1032" stop-color="#ffff7e"/><stop offset=".1128" stop-color="#ffff74"/><stop offset=".1229" stop-color="#ffff59"/><stop offset=".1346" stop-color="#ffff29"/><stop offset=".1431" stop-color="#fffe01"/><stop offset=".1686" stop-color="#e98694"/><stop offset=".1803" stop-color="#e15bca"/><stop offset=".1904" stop-color="#dc41ea"/><stop offset=".1963" stop-color="#db38f4"/><stop offset=".1968" stop-color="#d92fff"/><stop offset=".2112" stop-color="#d92fff"/><stop offset=".2117" stop-color="#db38f4"/><stop offset=".2213" stop-color="#de49df"/><stop offset=".2319" stop-color="#e469b7"/><stop offset=".2447" stop-color="#ed9f76"/><stop offset=".2644" stop-color="#ffff01"/><stop offset=".2798" stop-color="#ffff50"/><stop offset=".2915" stop-color="#ffff7f"/><stop offset=".3021" stop-color="#ffff9a"/><stop offset=".3122" stop-color="#ffffa4"/><stop offset=".3223" stop-color="#ffff9f"/><stop offset=".333" stop-color="#ffff8a"/><stop offset=".3447" stop-color="#ffff61"/><stop offset=".3596" stop-color="#ffff1c"/><stop offset=".3649" stop-color="#ff0"/><stop offset=".3883" stop-color="#eb9384"/><stop offset=".4011" stop-color="#e363bf"/><stop offset=".4122" stop-color="#dd45e4"/><stop offset=".4207" stop-color="#db38f4"/><stop offset=".4213" stop-color="#d92fff"/><stop offset=".4383" stop-color="#d92fff"/><stop offset=".4388" stop-color="#db38f5"/><stop offset=".4489" stop-color="#de49e0"/><stop offset=".4601" stop-color="#e469b8"/><stop offset=".4723" stop-color="#ec997d"/><stop offset=".4883" stop-color="#fbe71e"/><stop offset=".4931" stop-color="#ffff01"/><stop offset=".5218" stop-color="#ffffab"/><stop offset=".5372" stop-color="#fffff8"/><stop offset=".5394" stop-color="#fff"/><stop offset=".6415" stop-color="#fffffe"/><stop offset=".7043" stop-color="#ffff1a"/><stop offset=".7122" stop-color="#ffff01"/><stop offset=".7356" stop-color="#f4c24a"/><stop offset=".759" stop-color="#eb9384"/><stop offset=".7835" stop-color="#e56fb1"/><stop offset=".8112" stop-color="#e053d3"/><stop offset=".8452" stop-color="#dc40eb"/><stop offset=".8723" stop-color="#db37f5"/><stop offset=".8729" stop-color="#d92fff"/><stop offset="1" stop-color="#d92fff"/></linearGradient>
<linearGradient id="h49" gradientUnits="userSpaceOnUse" x1="0" y1="0" x2="0" y2="4.7" spreadMethod="reflect"><stop offset="0" stop-color="#d92fff"/><stop offset=".0064" stop-color="#d92fff"/><stop offset=".0069" stop-color="#db38f4"/><stop offset=".016" stop-color="#dd48e1"/><stop offset=".0261" stop-color="#e366bb"/><stop offset=".0383" stop-color="#ed9a7c"/><stop offset=".0585" stop-color="#fffe01"/><stop offset=".075" stop-color="#ffff50"/><stop offset=".0856" stop-color="#ffff74"/><stop offset=".0952" stop-color="#ffff86"/><stop offset=".1048" stop-color="#ff8"/><stop offset=".1144" stop-color="#ffff7b"/><stop offset=".1245" stop-color="#ffff5d"/><stop offset=".1367" stop-color="#ffff27"/><stop offset=".1441" stop-color="#ff0"/><stop offset=".1691" stop-color="#e98793"/><stop offset=".1803" stop-color="#e15cc8"/><stop offset=".1904" stop-color="#dc41e9"/><stop offset=".1968" stop-color="#db38f4"/><stop offset=".1973" stop-color="#d92fff"/><stop offset=".2106" stop-color="#d92fff"/><stop offset=".2112" stop-color="#db38f4"/><stop offset=".2207" stop-color="#de49e0"/><stop offset=".2309" stop-color="#e368ba"/><stop offset=".2431" stop-color="#ed9b7b"/><stop offset=".2628" stop-color="#fffe01"/><stop offset=".2654" stop-color="#ffff0e"/><stop offset=".2803" stop-color="#ffff5c"/><stop offset=".2915" stop-color="#ffff89"/><stop offset=".3016" stop-color="#ffffa4"/><stop offset=".3117" stop-color="#ffffb0"/><stop offset=".3218" stop-color="#ffffac"/><stop offset=".3319" stop-color="#ffff98"/><stop offset=".3431" stop-color="#ffff72"/><stop offset=".3569" stop-color="#ffff32"/><stop offset=".366" stop-color="#ffff01"/><stop offset=".3676" stop-color="#fef808"/><stop offset=".3888" stop-color="#eb9483"/><stop offset=".4016" stop-color="#e363bf"/><stop offset=".4122" stop-color="#dd46e3"/><stop offset=".4213" stop-color="#db38f5"/><stop offset=".4218" stop-color="#d92fff"/><stop offset=".4378" stop-color="#d92fff"/><stop offset=".4383" stop-color="#db37f5"/><stop offset=".4484" stop-color="#de48e0"/><stop offset=".459" stop-color="#e367ba"/><stop offset=".4713" stop-color="#ec987f"/><stop offset=".4867" stop-color="#fae421"/><stop offset=".4915" stop-color="#fffd02"/><stop offset=".4926" stop-color="#ffff05"/><stop offset=".5213" stop-color="#ffffb4"/><stop offset=".5351" stop-color="#fffffd"/><stop offset=".6457" stop-color="#fffffe"/><stop offset=".7027" stop-color="#ffff27"/><stop offset=".7144" stop-color="#ff0"/><stop offset=".7372" stop-color="#f4c349"/><stop offset=".7601" stop-color="#ec9483"/><stop offset=".7846" stop-color="#e56fb0"/><stop offset=".8122" stop-color="#e054d2"/><stop offset=".8463" stop-color="#dc40ea"/><stop offset=".8734" stop-color="#db37f5"/><stop offset=".8739" stop-color="#d92fff"/><stop offset="1" stop-color="#d92fff"/></linearGradient>
<linearGradient id="h50" gradientUnits="userSpaceOnUse" x1="0" y1="0" x2="0" y2="4.7" spreadMethod="reflect"><stop offset="0" stop-color="#d92fff"/><stop offset=".0059" stop-color="#d92fff"/><stop offset=".0064" stop-color="#db38f4"/><stop offset=".0154" stop-color="#dd47e1"/><stop offset=".025" stop-color="#e364bd"/><stop offset=".0367" stop-color="#ec9681"/><stop offset=".0574" stop-color="#ff0"/><stop offset=".0718" stop-color="#ffff4b"/><stop offset=".0824" stop-color="#ffff75"/><stop offset=".092" stop-color="#ffff8d"/><stop offset=".1011" stop-color="#ffff95"/><stop offset=".1101" stop-color="#ffff8e"/><stop offset=".1197" stop-color="#ff7"/><stop offset=".1303" stop-color="#ffff4e"/><stop offset=".1441" stop-color="#ffff08"/><stop offset=".1452" stop-color="#ffff02"/><stop offset=".1463" stop-color="#fefb05"/><stop offset=".1681" stop-color="#ea8f8a"/><stop offset=".1798" stop-color="#e260c3"/><stop offset=".1894" stop-color="#dd44e5"/><stop offset=".1973" stop-color="#db38f4"/><stop offset=".1979" stop-color="#d92fff"/><stop offset=".2101" stop-color="#d92fff"/><stop offset=".2106" stop-color="#db38f4"/><stop offset=".2197" stop-color="#dd47e1"/><stop offset=".2298" stop-color="#e366bc"/><stop offset=".2415" stop-color="#ec9780"/><stop offset=".2617" stop-color="#ff0"/><stop offset=".2793" stop-color="#ffff61"/><stop offset=".2904" stop-color="#ffff91"/><stop offset=".3005" stop-color="#ffffae"/><stop offset=".3101" stop-color="#ffffbc"/><stop offset=".3197" stop-color="#ffffba"/><stop offset=".3298" stop-color="#ffffa9"/><stop offset=".3404" stop-color="#ffff87"/><stop offset=".3532" stop-color="#ffff4d"/><stop offset=".3676" stop-color="#ff0"/><stop offset=".3883" stop-color="#ed9a7c"/><stop offset=".4005" stop-color="#e469b8"/><stop offset=".4112" stop-color="#de4ade"/><stop offset=".4213" stop-color="#db38f4"/><stop offset=".4218" stop-color="#db38f5"/><stop offset=".4223" stop-color="#d92fff"/><stop offset=".4372" stop-color="#d92fff"/><stop offset=".4378" stop-color="#db37f5"/><stop offset=".4479" stop-color="#de48e0"/><stop offset=".4585" stop-color="#e367ba"/><stop offset=".4702" stop-color="#ec9681"/><stop offset=".4846" stop-color="#f9de29"/><stop offset=".4904" stop-color="#fffe01"/><stop offset=".4926" stop-color="#ffff0c"/><stop offset=".5213" stop-color="#ffffc1"/><stop offset=".5324" stop-color="#fffffe"/><stop offset=".65" stop-color="#fffffd"/><stop offset=".7016" stop-color="#ffff34"/><stop offset=".7165" stop-color="#ff0"/><stop offset=".7394" stop-color="#f4c34a"/><stop offset=".7622" stop-color="#eb9484"/><stop offset=".7867" stop-color="#e56fb1"/><stop offset=".8144" stop-color="#e053d3"/><stop offset=".8484" stop-color="#dc3feb"/><stop offset=".8745" stop-color="#db37f5"/><stop offset=".875" stop-color="#d92fff"/><stop offset="1" stop-color="#d92fff"/></linearGradient>
<linearGradient id="h51" gradientUnits="userSpaceOnUse" x1="0" y1="0" x2="0" y2="4.7" spreadMethod="reflect"><stop offset="0" stop-color="#d92fff"/><stop offset=".0048" stop-color="#d92fff"/><stop offset=".0053" stop-color="#db37f5"/><stop offset=".0144" stop-color="#dd46e3"/><stop offset=".0239" stop-color="#e262c0"/><stop offset=".0351" stop-color="#eb9286"/><stop offset=".0564" stop-color="#ffff01"/><stop offset=".0707" stop-color="#ffff4f"/><stop offset=".0814" stop-color="#ffff7c"/><stop offset=".091" stop-color="#ffff96"/><stop offset=".1" stop-color="#ffffa0"/><stop offset=".109" stop-color="#ffff9a"/><stop offset=".1186" stop-color="#ffff85"/><stop offset=".1293" stop-color="#ffff5d"/><stop offset=".1426" stop-color="#ffff18"/><stop offset=".1468" stop-color="#fffe01"/><stop offset=".1681" stop-color="#eb9286"/><stop offset=".1793" stop-color="#e363bf"/><stop offset=".1888" stop-color="#dd47e2"/><stop offset=".1979" stop-color="#db38f4"/><stop offset=".1984" stop-color="#d92fff"/><stop offset=".2096" stop-color="#d92fff"/><stop offset=".2101" stop-color="#db38f4"/><stop offset=".2191" stop-color="#dd47e2"/><stop offset=".2287" stop-color="#e364be"/><stop offset=".2399" stop-color="#eb9385"/><stop offset=".2569" stop-color="#fbeb19"/><stop offset=".2606" stop-color="#ff0"/><stop offset=".2771" stop-color="#ffff60"/><stop offset=".2888" stop-color="#ffff96"/><stop offset=".2989" stop-color="#ffffb7"/><stop offset=".3085" stop-color="#ffffc7"/><stop offset=".3181" stop-color="#ffffc8"/><stop offset=".3277" stop-color="#ffffba"/><stop offset=".3383" stop-color="#ffff9a"/><stop offset=".3505" stop-color="#ffff64"/><stop offset=".3686" stop-color="#ffff01"/><stop offset=".3899" stop-color="#ec9681"/><stop offset=".4021" stop-color="#e365bc"/><stop offset=".4128" stop-color="#dd47e2"/><stop offset=".4223" stop-color="#db38f5"/><stop offset=".4229" stop-color="#d92fff"/><stop offset=".4367" stop-color="#d92fff"/><stop offset=".4372" stop-color="#db37f5"/><stop offset=".4468" stop-color="#dd47e2"/><stop offset=".4569" stop-color="#e364bf"/><stop offset=".4681" stop-color="#eb9088"/><stop offset=".4819" stop-color="#f7d534"/><stop offset=".4894" stop-color="#fffe01"/><stop offset=".5229" stop-color="#ffffd7"/><stop offset=".5298" stop-color="#fff"/><stop offset=".6537" stop-color="#fffffe"/><stop offset=".7011" stop-color="#ffff3f"/><stop offset=".7186" stop-color="#ff0"/><stop offset=".7415" stop-color="#f4c24a"/><stop offset=".7638" stop-color="#eb9483"/><stop offset=".7878" stop-color="#e56fb0"/><stop offset=".8149" stop-color="#e054d2"/><stop offset=".8484" stop-color="#dc40ea"/><stop offset=".8761" stop-color="#db37f5"/><stop offset=".8766" stop-color="#d92fff"/><stop offset="1" stop-color="#d92fff"/></linearGradient>
<linearGradient id="h52" gradientUnits="userSpaceOnUse" x1="0" y1="0" x2="0" y2="4.7" spreadMethod="reflect"><stop offset="0" stop-color="#d92fff"/><stop offset=".0043" stop-color="#d92fff"/><stop offset=".0048" stop-color="#db38f4"/><stop offset=".0133" stop-color="#dd45e5"/><stop offset=".0223" stop-color="#e25fc5"/><stop offset=".033" stop-color="#ea8b8f"/><stop offset=".0489" stop-color="#f9dd29"/><stop offset=".0548" stop-color="#fffd02"/><stop offset=".0559" stop-color="#ffff05"/><stop offset=".0702" stop-color="#ffff56"/><stop offset=".0809" stop-color="#ffff85"/><stop offset=".0904" stop-color="#ffffa0"/><stop offset=".0995" stop-color="#ffffab"/><stop offset=".1085" stop-color="#ffffa7"/><stop offset=".1176" stop-color="#ffff93"/><stop offset=".1277" stop-color="#ffff6e"/><stop offset=".1399" stop-color="#ffff2f"/><stop offset=".1479" stop-color="#ff0"/><stop offset=".1686" stop-color="#eb9285"/><stop offset=".1798" stop-color="#e363bf"/><stop offset=".1894" stop-color="#dd47e2"/><stop offset=".1984" stop-color="#db38f4"/><stop offset=".1989" stop-color="#db37f5"/><stop offset=".1995" stop-color="#d92fff"/><stop offset=".2085" stop-color="#d92fff"/><stop offset=".209" stop-color="#db38f5"/><stop offset=".2181" stop-color="#dd46e3"/><stop offset=".2277" stop-color="#e262c1"/><stop offset=".2383" stop-color="#ea8e8a"/><stop offset=".2532" stop-color="#f9dc2b"/><stop offset=".2596" stop-color="#ffff01"/><stop offset=".2766" stop-color="#ffff67"/><stop offset=".2883" stop-color="#ffff9f"/><stop offset=".2984" stop-color="#ffffc2"/><stop offset=".308" stop-color="#ffffd3"/><stop offset=".3176" stop-color="#ffffd5"/><stop offset=".3271" stop-color="#ffffc8"/><stop offset=".3372" stop-color="#ffa"/><stop offset=".3489" stop-color="#ff7"/><stop offset=".3654" stop-color="#ffff1b"/><stop offset=".3697" stop-color="#ffff01"/><stop offset=".3713" stop-color="#fef809"/><stop offset=".3894" stop-color="#ed9c7a"/><stop offset=".4011" stop-color="#e46bb5"/><stop offset=".4117" stop-color="#de4bdd"/><stop offset=".4213" stop-color="#db39f2"/><stop offset=".4229" stop-color="#db38f4"/><stop offset=".4234" stop-color="#d92fff"/><stop offset=".4362" stop-color="#d92fff"/><stop offset=".4367" stop-color="#db38f5"/><stop offset=".4463" stop-color="#dd47e2"/><stop offset=".4564" stop-color="#e364bf"/><stop offset=".4676" stop-color="#eb9187"/><stop offset=".4809" stop-color="#f7d435"/><stop offset=".4883" stop-color="#fffe01"/><stop offset=".5218" stop-color="#ffffde"/><stop offset=".5271" stop-color="#fffffe"/><stop offset=".6574" stop-color="#fffffd"/><stop offset=".7011" stop-color="#ffff48"/><stop offset=".7207" stop-color="#ff0"/><stop offset=".7436" stop-color="#f4c24b"/><stop offset=".766" stop-color="#eb9384"/><stop offset=".7899" stop-color="#e56fb1"/><stop offset=".817" stop-color="#e053d3"/><stop offset=".8505" stop-color="#dc40eb"/><stop offset=".8771" stop-color="#db37f5"/><stop offset=".8777" stop-color="#d92fff"/><stop offset="1" stop-color="#d92fff"/></linearGradient>
<linearGradient id="h53" gradientUnits="userSpaceOnUse" x1="0" y1="0" x2="0" y2="4.7" spreadMethod="reflect"><stop offset="0" stop-color="#d92fff"/><stop offset=".0032" stop-color="#d92fff"/><stop offset=".0037" stop-color="#db38f4"/><stop offset=".0122" stop-color="#dd43e6"/><stop offset=".0213" stop-color="#e15dc7"/><stop offset=".0314" stop-color="#e98694"/><stop offset=".0452" stop-color="#f6ce3c"/><stop offset=".0537" stop-color="#fffe01"/><stop offset=".0553" stop-color="#ffff09"/><stop offset=".0697" stop-color="#ffff5d"/><stop offset=".0803" stop-color="#ffff8e"/><stop offset=".0899" stop-color="#ffffab"/><stop offset=".0989" stop-color="#ffffb7"/><stop offset=".108" stop-color="#ffffb3"/><stop offset=".117" stop-color="#ffffa0"/><stop offset=".1271" stop-color="#ffff7a"/><stop offset=".1394" stop-color="#ffff3b"/><stop offset=".1489" stop-color="#ffff01"/><stop offset=".1697" stop-color="#eb9187"/><stop offset=".1803" stop-color="#e363bf"/><stop offset=".1899" stop-color="#dd46e2"/><stop offset=".1984" stop-color="#db39f3"/><stop offset=".2" stop-color="#db37f5"/><stop offset=".2005" stop-color="#d92fff"/><stop offset=".2074" stop-color="#d92fff"/><stop offset=".208" stop-color="#db37f5"/><stop offset=".2165" stop-color="#dd43e6"/><stop offset=".2255" stop-color="#e15cc8"/><stop offset=".2356" stop-color="#e98596"/><stop offset=".2489" stop-color="#f5c942"/><stop offset=".258" stop-color="#fffd03"/><stop offset=".2585" stop-color="#ffff01"/><stop offset=".2761" stop-color="#ffff6e"/><stop offset=".2878" stop-color="#ffffa9"/><stop offset=".2979" stop-color="#ffffcd"/><stop offset=".3074" stop-color="#ffffe0"/><stop offset=".3165" stop-color="#ffffe3"/><stop offset=".3261" stop-color="#ffffd7"/><stop offset=".3362" stop-color="#ffffba"/><stop offset=".3473" stop-color="#ffff89"/><stop offset=".3622" stop-color="#ffff36"/><stop offset=".3707" stop-color="#ffff02"/><stop offset=".3713" stop-color="#fffe01"/><stop offset=".3894" stop-color="#ee9f75"/><stop offset=".4011" stop-color="#e46db3"/><stop offset=".4112" stop-color="#df4dda"/><stop offset=".4207" stop-color="#db3bf1"/><stop offset=".4234" stop-color="#db38f4"/><stop offset=".4239" stop-color="#d92fff"/><stop offset=".4356" stop-color="#d92fff"/><stop offset=".4362" stop-color="#db38f4"/><stop offset=".4457" stop-color="#dd47e2"/><stop offset=".4559" stop-color="#e364be"/><stop offset=".4665" stop-color="#eb8f89"/><stop offset=".4793" stop-color="#f6d039"/><stop offset=".4872" stop-color="#ff0"/><stop offset=".5218" stop-color="#ffffec"/><stop offset=".525" stop-color="#fff"/><stop offset=".6606" stop-color="#fffffe"/><stop offset=".7005" stop-color="#ffff53"/><stop offset=".7229" stop-color="#ff0"/><stop offset=".7452" stop-color="#f4c24a"/><stop offset=".767" stop-color="#ec9483"/><stop offset=".7904" stop-color="#e570af"/><stop offset=".817" stop-color="#e054d1"/><stop offset=".85" stop-color="#dc40ea"/><stop offset=".8782" stop-color="#db37f5"/><stop offset=".8787" stop-color="#d92fff"/><stop offset="1" stop-color="#d92fff"/></linearGradient>
<linearGradient id="h54" gradientUnits="userSpaceOnUse" x1="0" y1="0" x2="0" y2="4.7" spreadMethod="reflect"><stop offset="0" stop-color="#d92fff"/><stop offset=".0011" stop-color="#d92fff"/><stop offset=".0016" stop-color="#db37f5"/><stop offset=".0101" stop-color="#dc40ea"/><stop offset=".0186" stop-color="#e055d0"/><stop offset=".0282" stop-color="#e77aa3"/><stop offset=".0404" stop-color="#f2b857"/><stop offset=".0527" stop-color="#fffe01"/><stop offset=".0553" stop-color="#ffff10"/><stop offset=".0697" stop-color="#ffff67"/><stop offset=".0803" stop-color="#ff9"/><stop offset=".0894" stop-color="#ffffb6"/><stop offset=".0984" stop-color="#ffffc3"/><stop offset=".1069" stop-color="#ffffc1"/><stop offset=".116" stop-color="#ffffaf"/><stop offset=".1255" stop-color="#ffff8c"/><stop offset=".1367" stop-color="#ffff53"/><stop offset=".15" stop-color="#ffff01"/><stop offset=".1702" stop-color="#eb9187"/><stop offset=".1809" stop-color="#e363bf"/><stop offset=".1899" stop-color="#de48e1"/><stop offset=".1984" stop-color="#db39f2"/><stop offset=".2011" stop-color="#db37f5"/><stop offset=".2016" stop-color="#d92fff"/><stop offset=".2064" stop-color="#d92fff"/><stop offset=".2069" stop-color="#db38f5"/><stop offset=".2154" stop-color="#dc42e8"/><stop offset=".2245" stop-color="#e15aca"/><stop offset=".2346" stop-color="#e88398"/><stop offset=".2468" stop-color="#f4c24b"/><stop offset=".2569" stop-color="#fffd03"/><stop offset=".2574" stop-color="#ffff01"/><stop offset=".2755" stop-color="#ffff75"/><stop offset=".2872" stop-color="#ffffb2"/><stop offset=".2973" stop-color="#ffffd8"/><stop offset=".3064" stop-color="#ffffec"/><stop offset=".3154" stop-color="#fffff1"/><stop offset=".3245" stop-color="#ffffe7"/><stop offset=".334" stop-color="#ffffce"/><stop offset=".3447" stop-color="#ffffa2"/><stop offset=".358" stop-color="#ffff59"/><stop offset=".3723" stop-color="#fffe01"/><stop offset=".3894" stop-color="#eea371"/><stop offset=".4011" stop-color="#e56fb0"/><stop offset=".4112" stop-color="#df4ed8"/><stop offset=".4207" stop-color="#db3bf0"/><stop offset=".4245" stop-color="#db38f5"/><stop offset=".425" stop-color="#d92fff"/><stop offset=".4346" stop-color="#d92fff"/><stop offset=".4351" stop-color="#db37f5"/><stop offset=".4441" stop-color="#dd44e5"/><stop offset=".4537" stop-color="#e25ec5"/><stop offset=".4644" stop-color="#e98892"/><stop offset=".4766" stop-color="#f5c645"/><stop offset=".4862" stop-color="#ffff01"/><stop offset=".5218" stop-color="#fffffb"/><stop offset=".5234" stop-color="#fff"/><stop offset=".6638" stop-color="#fff"/><stop offset=".7011" stop-color="#ffff5b"/><stop offset=".7245" stop-color="#ffff02"/><stop offset=".7255" stop-color="#fffd02"/><stop offset=".7468" stop-color="#f4c349"/><stop offset=".7686" stop-color="#ec9582"/><stop offset=".792" stop-color="#e570af"/><stop offset=".8186" stop-color="#e054d1"/><stop offset=".8516" stop-color="#dc40ea"/><stop offset=".8798" stop-color="#db37f5"/><stop offset=".8803" stop-color="#d92fff"/><stop offset="1" stop-color="#d92fff"/></linearGradient>
<linearGradient id="h55" gradientUnits="userSpaceOnUse" x1="0" y1="0" x2="0" y2="4.7" spreadMethod="reflect"><stop offset="0" stop-color="#db38f4"/><stop offset=".008" stop-color="#dc3eed"/><stop offset=".0165" stop-color="#df51d6"/><stop offset=".0255" stop-color="#e571ae"/><stop offset=".0362" stop-color="#efa56e"/><stop offset=".0516" stop-color="#fffe01"/><stop offset=".0543" stop-color="#ff1"/><stop offset=".0691" stop-color="#ffff6e"/><stop offset=".0798" stop-color="#ffffa2"/><stop offset=".0888" stop-color="#ffffc0"/><stop offset=".0973" stop-color="#ffffcf"/><stop offset=".1059" stop-color="#ffffce"/><stop offset=".1144" stop-color="#ffffbf"/><stop offset=".1239" stop-color="#ffff9e"/><stop offset=".1346" stop-color="#ffff69"/><stop offset=".1505" stop-color="#ffff05"/><stop offset=".1511" stop-color="#ffff01"/><stop offset=".1543" stop-color="#fced16"/><stop offset=".1697" stop-color="#ec977f"/><stop offset=".1803" stop-color="#e367ba"/><stop offset=".1894" stop-color="#de4ade"/><stop offset=".1979" stop-color="#db3bf1"/><stop offset=".2064" stop-color="#db38f4"/><stop offset=".2149" stop-color="#dc42e8"/><stop offset=".2234" stop-color="#e158cc"/><stop offset=".233" stop-color="#e77e9e"/><stop offset=".2447" stop-color="#f3bb54"/><stop offset=".2559" stop-color="#fffd03"/><stop offset=".2564" stop-color="#ffff01"/><stop offset=".275" stop-color="#ffff7d"/><stop offset=".2862" stop-color="#ffffba"/><stop offset=".2963" stop-color="#ffffe2"/><stop offset=".3053" stop-color="#fffff8"/><stop offset=".3138" stop-color="#fff"/><stop offset=".3223" stop-color="#fffff9"/><stop offset=".3319" stop-color="#ffffe2"/><stop offset=".342" stop-color="#ffffba"/><stop offset=".3543" stop-color="#ffff79"/><stop offset=".3734" stop-color="#ff0"/><stop offset=".3899" stop-color="#eea46f"/><stop offset=".4011" stop-color="#e572ad"/><stop offset=".4112" stop-color="#df50d7"/><stop offset=".4207" stop-color="#db3cef"/><stop offset=".4255" stop-color="#db37f5"/><stop offset=".4261" stop-color="#d92fff"/><stop offset=".4335" stop-color="#d92fff"/><stop offset=".434" stop-color="#db37f5"/><stop offset=".4431" stop-color="#dd43e6"/><stop offset=".4527" stop-color="#e15dc7"/><stop offset=".4628" stop-color="#e98497"/><stop offset=".4745" stop-color="#f3bf4e"/><stop offset=".4851" stop-color="#fffe01"/><stop offset=".5202" stop-color="#fffffe"/><stop offset=".667" stop-color="#fff"/><stop offset=".7016" stop-color="#ffff63"/><stop offset=".725" stop-color="#ffff07"/><stop offset=".7271" stop-color="#ff0"/><stop offset=".7479" stop-color="#f4c547"/><stop offset=".7691" stop-color="#ec9780"/><stop offset=".792" stop-color="#e572ad"/><stop offset=".8181" stop-color="#e056cf"/><stop offset=".8505" stop-color="#dc41e8"/><stop offset=".8809" stop-color="#db37f5"/><stop offset=".8814" stop-color="#d92fff"/><stop offset="1" stop-color="#d92fff"/></linearGradient>
<linearGradient id="h56" gradientUnits="userSpaceOnUse" x1="0" y1="0" x2="0" y2="4.7" spreadMethod="reflect"><stop offset="0" stop-color="#db39f3"/><stop offset=".008" stop-color="#dc3fec"/><stop offset=".0165" stop-color="#df52d4"/><stop offset=".0255" stop-color="#e674ab"/><stop offset=".0362" stop-color="#efa96a"/><stop offset=".0505" stop-color="#fffe01"/><stop offset=".0521" stop-color="#ffff0a"/><stop offset=".0676" stop-color="#ffff6f"/><stop offset=".0782" stop-color="#ffffa7"/><stop offset=".0872" stop-color="#ffffc9"/><stop offset=".0957" stop-color="#ffffda"/><stop offset=".1043" stop-color="#ffffdc"/><stop offset=".1128" stop-color="#ffffd0"/><stop offset=".1218" stop-color="#ffffb3"/><stop offset=".1319" stop-color="#ffff82"/><stop offset=".1452" stop-color="#ffff30"/><stop offset=".1521" stop-color="#ffff01"/><stop offset=".1553" stop-color="#fced16"/><stop offset=".1702" stop-color="#ec987e"/><stop offset=".1803" stop-color="#e469b7"/><stop offset=".1894" stop-color="#de4cdc"/><stop offset=".1979" stop-color="#db3cef"/><stop offset=".2059" stop-color="#db39f3"/><stop offset=".2144" stop-color="#dd42e7"/><stop offset=".2229" stop-color="#e158cc"/><stop offset=".2324" stop-color="#e87f9d"/><stop offset=".2436" stop-color="#f2b956"/><stop offset=".2553" stop-color="#ffff01"/><stop offset=".2745" stop-color="#ffff84"/><stop offset=".2856" stop-color="#ffffc4"/><stop offset=".2952" stop-color="#ffffec"/><stop offset=".3021" stop-color="#fff"/><stop offset=".3271" stop-color="#fffffd"/><stop offset=".3367" stop-color="#ffffde"/><stop offset=".3473" stop-color="#ffffac"/><stop offset=".3617" stop-color="#ff5"/><stop offset=".3745" stop-color="#ff0"/><stop offset=".3904" stop-color="#efa56e"/><stop offset=".4016" stop-color="#e572ad"/><stop offset=".4112" stop-color="#df51d5"/><stop offset=".4202" stop-color="#dc3eed"/><stop offset=".4271" stop-color="#db37f5"/><stop offset=".4277" stop-color="#d92fff"/><stop offset=".4319" stop-color="#d92fff"/><stop offset=".4324" stop-color="#db37f5"/><stop offset=".4415" stop-color="#dc41e9"/><stop offset=".4505" stop-color="#e057cd"/><stop offset=".4606" stop-color="#e77d9f"/><stop offset=".4718" stop-color="#f1b55b"/><stop offset=".484" stop-color="#fffe01"/><stop offset=".4931" stop-color="#ffff42"/><stop offset=".5181" stop-color="#fffffe"/><stop offset=".6702" stop-color="#fff"/><stop offset=".7027" stop-color="#ffff68"/><stop offset=".7255" stop-color="#ffff0d"/><stop offset=".7293" stop-color="#ff0"/><stop offset=".75" stop-color="#f4c448"/><stop offset=".7713" stop-color="#ec9681"/><stop offset=".7941" stop-color="#e571ae"/><stop offset=".8202" stop-color="#e055d0"/><stop offset=".8527" stop-color="#dc41e9"/><stop offset=".8819" stop-color="#db37f5"/><stop offset=".8824" stop-color="#d92fff"/><stop offset="1" stop-color="#d92fff"/></linearGradient>
<linearGradient id="h57" gradientUnits="userSpaceOnUse" x1="0" y1="0" x2="0" y2="4.7" spreadMethod="reflect"><stop offset="0" stop-color="#db3af2"/><stop offset=".008" stop-color="#dc40ea"/><stop offset=".016" stop-color="#df52d4"/><stop offset=".025" stop-color="#e674ab"/><stop offset=".0356" stop-color="#efaa68"/><stop offset=".0495" stop-color="#fffd02"/><stop offset=".0505" stop-color="#ffff06"/><stop offset=".067" stop-color="#ffff76"/><stop offset=".0777" stop-color="#ffffb0"/><stop offset=".0867" stop-color="#ffffd4"/><stop offset=".0952" stop-color="#ffffe7"/><stop offset=".1037" stop-color="#ffffea"/><stop offset=".1122" stop-color="#ffffde"/><stop offset=".1213" stop-color="#ffffc1"/><stop offset=".1314" stop-color="#ffff90"/><stop offset=".1441" stop-color="#ffff40"/><stop offset=".1532" stop-color="#ffff01"/><stop offset=".1707" stop-color="#ec997d"/><stop offset=".1809" stop-color="#e46ab7"/><stop offset=".1899" stop-color="#de4cdc"/><stop offset=".1984" stop-color="#db3cef"/><stop offset=".2064" stop-color="#db3af2"/><stop offset=".2144" stop-color="#dd43e6"/><stop offset=".2229" stop-color="#e15aca"/><stop offset=".2319" stop-color="#e87f9d"/><stop offset=".2431" stop-color="#f2ba54"/><stop offset=".2543" stop-color="#ffff01"/><stop offset=".2739" stop-color="#ffff8b"/><stop offset=".2851" stop-color="#ffffce"/><stop offset=".2947" stop-color="#fffff8"/><stop offset=".2973" stop-color="#fff"/><stop offset=".3319" stop-color="#fffffe"/><stop offset=".342" stop-color="#ffffd4"/><stop offset=".3537" stop-color="#ffff92"/><stop offset=".3755" stop-color="#ff0"/><stop offset=".3904" stop-color="#efa969"/><stop offset=".4016" stop-color="#e674aa"/><stop offset=".4112" stop-color="#e053d3"/><stop offset=".4202" stop-color="#dc3feb"/><stop offset=".4293" stop-color="#db38f4"/><stop offset=".4383" stop-color="#dc3ded"/><stop offset=".4473" stop-color="#df50d7"/><stop offset=".4569" stop-color="#e570af"/><stop offset=".467" stop-color="#ee9f75"/><stop offset=".4793" stop-color="#fae61f"/><stop offset=".483" stop-color="#fffe02"/><stop offset=".4846" stop-color="#ffff0a"/><stop offset=".516" stop-color="#fffffd"/><stop offset=".6734" stop-color="#fffffe"/><stop offset=".7037" stop-color="#ffff6e"/><stop offset=".7261" stop-color="#ffff13"/><stop offset=".7314" stop-color="#fffe01"/><stop offset=".7516" stop-color="#f4c547"/><stop offset=".7723" stop-color="#ec977f"/><stop offset=".7952" stop-color="#e572ad"/><stop offset=".8213" stop-color="#e056d0"/><stop offset=".8532" stop-color="#dc41e8"/><stop offset=".8835" stop-color="#db37f5"/><stop offset=".884" stop-color="#d92fff"/><stop offset="1" stop-color="#d92fff"/></linearGradient>
<linearGradient id="h58" gradientUnits="userSpaceOnUse" x1="0" y1="0" x2="0" y2="4.7" spreadMethod="reflect"><stop offset="0" stop-color="#db3bf1"/><stop offset=".008" stop-color="#dc41e9"/><stop offset=".016" stop-color="#e054d2"/><stop offset=".0245" stop-color="#e674aa"/><stop offset=".0346" stop-color="#efa86b"/><stop offset=".0484" stop-color="#fffd02"/><stop offset=".0489" stop-color="#ffff02"/><stop offset=".0665" stop-color="#ffff7d"/><stop offset=".0771" stop-color="#ffffba"/><stop offset=".0862" stop-color="#ffffdf"/><stop offset=".0947" stop-color="#fffff3"/><stop offset=".1027" stop-color="#fffff8"/><stop offset=".1112" stop-color="#ffe"/><stop offset=".1197" stop-color="#ffffd4"/><stop offset=".1293" stop-color="#ffffa7"/><stop offset=".141" stop-color="#ffff5f"/><stop offset=".1543" stop-color="#ffff01"/><stop offset=".1702" stop-color="#ee9f75"/><stop offset=".1803" stop-color="#e56eb2"/><stop offset=".1888" stop-color="#df50d6"/><stop offset=".1968" stop-color="#dc3feb"/><stop offset=".2048" stop-color="#db3af1"/><stop offset=".2128" stop-color="#dc42e8"/><stop offset=".2213" stop-color="#e057ce"/><stop offset=".2303" stop-color="#e77aa3"/><stop offset=".2404" stop-color="#f0af62"/><stop offset=".2532" stop-color="#ff0"/><stop offset=".2739" stop-color="#ffff97"/><stop offset=".2851" stop-color="#ffffdb"/><stop offset=".2926" stop-color="#fffffe"/><stop offset=".3356" stop-color="#fffffe"/><stop offset=".3457" stop-color="#ffffcd"/><stop offset=".3585" stop-color="#ffff7e"/><stop offset=".3766" stop-color="#ff0"/><stop offset=".391" stop-color="#f0aa68"/><stop offset=".4016" stop-color="#e677a7"/><stop offset=".4112" stop-color="#e054d1"/><stop offset=".4202" stop-color="#dc40ea"/><stop offset=".4287" stop-color="#db39f3"/><stop offset=".4372" stop-color="#dc3dee"/><stop offset=".4463" stop-color="#df4ed8"/><stop offset=".4553" stop-color="#e46cb4"/><stop offset=".4654" stop-color="#ed9b7b"/><stop offset=".4771" stop-color="#f9de28"/><stop offset=".4819" stop-color="#fffd02"/><stop offset=".4824" stop-color="#ffff02"/><stop offset=".5144" stop-color="#fff"/><stop offset=".6761" stop-color="#fff"/><stop offset=".7059" stop-color="#ffff6f"/><stop offset=".7277" stop-color="#ffff15"/><stop offset=".7335" stop-color="#fffe01"/><stop offset=".7532" stop-color="#f5c646"/><stop offset=".7739" stop-color="#ec977f"/><stop offset=".7963" stop-color="#e573ac"/><stop offset=".8218" stop-color="#e056cf"/><stop offset=".8532" stop-color="#dc42e8"/><stop offset=".8846" stop-color="#db37f5"/><stop offset=".8851" stop-color="#d92fff"/><stop offset="1" stop-color="#d92fff"/></linearGradient>
<linearGradient id="h59" gradientUnits="userSpaceOnUse" x1="0" y1="0" x2="0" y2="4.7" spreadMethod="reflect"><stop offset="0" stop-color="#db3cef"/><stop offset=".008" stop-color="#dd42e7"/><stop offset=".016" stop-color="#e056d0"/><stop offset=".0245" stop-color="#e677a7"/><stop offset=".0346" stop-color="#f0ac66"/><stop offset=".0479" stop-color="#ffff01"/><stop offset=".066" stop-color="#ffff84"/><stop offset=".0766" stop-color="#ffffc3"/><stop offset=".0856" stop-color="#ffffea"/><stop offset=".0936" stop-color="#fff"/><stop offset=".1101" stop-color="#fffffe"/><stop offset=".1186" stop-color="#ffffe5"/><stop offset=".1277" stop-color="#ffb"/><stop offset=".1388" stop-color="#ff7"/><stop offset=".1553" stop-color="#ff0"/><stop offset=".1697" stop-color="#efa66d"/><stop offset=".1798" stop-color="#e573ac"/><stop offset=".1883" stop-color="#e053d2"/><stop offset=".1963" stop-color="#dc41e9"/><stop offset=".2043" stop-color="#db3bf0"/><stop offset=".2122" stop-color="#dd42e7"/><stop offset=".2202" stop-color="#e055d0"/><stop offset=".2287" stop-color="#e676a8"/><stop offset=".2388" stop-color="#f0aa68"/><stop offset=".2521" stop-color="#fffe01"/><stop offset=".275" stop-color="#ffffa9"/><stop offset=".2856" stop-color="#ffffeb"/><stop offset=".2899" stop-color="#fff"/><stop offset=".3388" stop-color="#fffffe"/><stop offset=".3495" stop-color="#ffffc4"/><stop offset=".3638" stop-color="#ffff63"/><stop offset=".3777" stop-color="#fffe01"/><stop offset=".3915" stop-color="#f0ac66"/><stop offset=".4021" stop-color="#e677a6"/><stop offset=".4117" stop-color="#e055d1"/><stop offset=".4207" stop-color="#dc40ea"/><stop offset=".4293" stop-color="#db39f2"/><stop offset=".4378" stop-color="#dc3fec"/><stop offset=".4463" stop-color="#df50d7"/><stop offset=".4553" stop-color="#e56fb1"/><stop offset=".4654" stop-color="#ed9e76"/><stop offset=".4766" stop-color="#f9e125"/><stop offset=".4809" stop-color="#fffd03"/><stop offset=".4814" stop-color="#ffff01"/><stop offset=".5032" stop-color="#ffffb3"/><stop offset=".5122" stop-color="#fffffd"/><stop offset=".6793" stop-color="#fffffe"/><stop offset=".7064" stop-color="#ffff78"/><stop offset=".7277" stop-color="#ffff1d"/><stop offset=".7351" stop-color="#ff0"/><stop offset=".7569" stop-color="#f4c14c"/><stop offset=".7777" stop-color="#eb9484"/><stop offset=".8" stop-color="#e570b0"/><stop offset=".8261" stop-color="#e054d2"/><stop offset=".8585" stop-color="#dc40ea"/><stop offset=".8856" stop-color="#db37f5"/><stop offset=".8862" stop-color="#d92fff"/><stop offset="1" stop-color="#d92fff"/></linearGradient>
<linearGradient id="h60" gradientUnits="userSpaceOnUse" x1="0" y1="0" x2="0" y2="4.7" spreadMethod="reflect"><stop offset="0" stop-color="#dc3dee"/><stop offset=".0074" stop-color="#dd43e6"/><stop offset=".0154" stop-color="#e056cf"/><stop offset=".0239" stop-color="#e677a7"/><stop offset=".0335" stop-color="#efaa68"/><stop offset=".0468" stop-color="#ff0"/><stop offset=".0654" stop-color="#ffff8b"/><stop offset=".0761" stop-color="#ffffcd"/><stop offset=".0851" stop-color="#fffff6"/><stop offset=".0883" stop-color="#fff"/><stop offset=".1154" stop-color="#fffffe"/><stop offset=".1239" stop-color="#ffffdb"/><stop offset=".134" stop-color="#ffffa2"/><stop offset=".1479" stop-color="#ffff40"/><stop offset=".1564" stop-color="#fffe01"/><stop offset=".1702" stop-color="#efa76c"/><stop offset=".1798" stop-color="#e676a8"/><stop offset=".1883" stop-color="#e055d0"/><stop offset=".1963" stop-color="#dd43e7"/><stop offset=".2043" stop-color="#db3dee"/><stop offset=".2122" stop-color="#dd44e6"/><stop offset=".2202" stop-color="#e057ce"/><stop offset=".2287" stop-color="#e679a5"/><stop offset=".2383" stop-color="#f0ab67"/><stop offset=".2511" stop-color="#fffe02"/><stop offset=".2521" stop-color="#ffff07"/><stop offset=".2734" stop-color="#ffa"/><stop offset=".2846" stop-color="#fffff3"/><stop offset=".2872" stop-color="#fff"/><stop offset=".3415" stop-color="#fff"/><stop offset=".3521" stop-color="#ffffc0"/><stop offset=".3691" stop-color="#ffff46"/><stop offset=".3782" stop-color="#ffff03"/><stop offset=".3787" stop-color="#fffe01"/><stop offset=".392" stop-color="#f0ad65"/><stop offset=".4021" stop-color="#e77aa3"/><stop offset=".4112" stop-color="#e058cd"/><stop offset=".4197" stop-color="#dd43e6"/><stop offset=".4282" stop-color="#db3bf1"/><stop offset=".4367" stop-color="#dc3fec"/><stop offset=".4452" stop-color="#df4fd8"/><stop offset=".4543" stop-color="#e46db3"/><stop offset=".4638" stop-color="#ec9a7c"/><stop offset=".4745" stop-color="#f8d82f"/><stop offset=".4803" stop-color="#ffff01"/><stop offset=".4995" stop-color="#ffff9f"/><stop offset=".5106" stop-color="#fff"/><stop offset=".6819" stop-color="#fff"/><stop offset=".7074" stop-color="#ffff7e"/><stop offset=".7287" stop-color="#ffff21"/><stop offset=".7372" stop-color="#ff0"/><stop offset=".7564" stop-color="#f5c745"/><stop offset=".7766" stop-color="#ec997d"/><stop offset=".7984" stop-color="#e674aa"/><stop offset=".8234" stop-color="#e058cd"/><stop offset=".8543" stop-color="#dd43e7"/><stop offset=".8872" stop-color="#db37f5"/><stop offset=".8878" stop-color="#d92fff"/><stop offset="1" stop-color="#d92fff"/></linearGradient>
<linearGradient id="h61" gradientUnits="userSpaceOnUse" x1="0" y1="0" x2="0" y2="4.7" spreadMethod="reflect"><stop offset="0" stop-color="#dc3fec"/><stop offset=".0074" stop-color="#dd45e5"/><stop offset=".0154" stop-color="#e058cd"/><stop offset=".0239" stop-color="#e77aa3"/><stop offset=".0335" stop-color="#f0ae63"/><stop offset=".0457" stop-color="#fffe01"/><stop offset=".0665" stop-color="#ffff9d"/><stop offset=".0766" stop-color="#ffffdc"/><stop offset=".084" stop-color="#fff"/><stop offset=".1191" stop-color="#fffffe"/><stop offset=".1282" stop-color="#ffffd1"/><stop offset=".1388" stop-color="#ffff8c"/><stop offset=".1569" stop-color="#ffff02"/><stop offset=".1574" stop-color="#fffe02"/><stop offset=".1702" stop-color="#f0ab67"/><stop offset=".1798" stop-color="#e678a5"/><stop offset=".1883" stop-color="#e057ce"/><stop offset=".1963" stop-color="#dd44e5"/><stop offset=".2037" stop-color="#dc3eed"/><stop offset=".2112" stop-color="#dd43e6"/><stop offset=".2191" stop-color="#e056cf"/><stop offset=".2277" stop-color="#e677a7"/><stop offset=".2372" stop-color="#efa969"/><stop offset=".2495" stop-color="#fef907"/><stop offset=".2505" stop-color="#ffff01"/><stop offset=".2734" stop-color="#ffffb6"/><stop offset=".284" stop-color="#fffffd"/><stop offset=".3441" stop-color="#fff"/><stop offset=".3559" stop-color="#ffffb3"/><stop offset=".3793" stop-color="#ffff02"/><stop offset=".3798" stop-color="#fffd02"/><stop offset=".3926" stop-color="#f0ae63"/><stop offset=".4027" stop-color="#e77ba2"/><stop offset=".4117" stop-color="#e158cc"/><stop offset=".4202" stop-color="#dd44e6"/><stop offset=".4287" stop-color="#db3cf0"/><stop offset=".4372" stop-color="#dc40ea"/><stop offset=".4457" stop-color="#df52d4"/><stop offset=".4548" stop-color="#e572ad"/><stop offset=".4644" stop-color="#eea074"/><stop offset=".475" stop-color="#fae224"/><stop offset=".4793" stop-color="#ff0"/><stop offset=".4947" stop-color="#ffff81"/><stop offset=".509" stop-color="#fff"/><stop offset=".6846" stop-color="#fff"/><stop offset=".7101" stop-color="#ffff7c"/><stop offset=".7309" stop-color="#ffff20"/><stop offset=".7394" stop-color="#fffe01"/><stop offset=".7585" stop-color="#f5c646"/><stop offset=".7787" stop-color="#ec987e"/><stop offset=".8005" stop-color="#e573ab"/><stop offset=".8255" stop-color="#e057ce"/><stop offset=".8564" stop-color="#dd42e7"/><stop offset=".8883" stop-color="#db37f5"/><stop offset=".8888" stop-color="#d92fff"/><stop offset="1" stop-color="#d92fff"/></linearGradient>
<linearGradient id="h62" gradientUnits="userSpaceOnUse" x1="0" y1="0" x2="0" y2="4.7" spreadMethod="reflect"><stop offset="0" stop-color="#dc40ea"/><stop offset=".0074" stop-color="#dd46e3"/><stop offset=".0149" stop-color="#e158cc"/><stop offset=".0229" stop-color="#e678a5"/><stop offset=".0319" stop-color="#efa96a"/><stop offset=".0441" stop-color="#fefa07"/><stop offset=".0447" stop-color="#fffd02"/><stop offset=".0452" stop-color="#ffff02"/><stop offset=".0649" stop-color="#ffff9d"/><stop offset=".075" stop-color="#ffffe1"/><stop offset=".0809" stop-color="#fff"/><stop offset=".1223" stop-color="#fffffe"/><stop offset=".1319" stop-color="#ffffc7"/><stop offset=".1441" stop-color="#ffff6f"/><stop offset=".158" stop-color="#ffff02"/><stop offset=".159" stop-color="#fef907"/><stop offset=".1713" stop-color="#efa969"/><stop offset=".1803" stop-color="#e779a4"/><stop offset=".1888" stop-color="#e058cd"/><stop offset=".1968" stop-color="#dd45e4"/><stop offset=".2043" stop-color="#dc3feb"/><stop offset=".2117" stop-color="#dd46e3"/><stop offset=".2197" stop-color="#e15acb"/><stop offset=".2282" stop-color="#e77ca1"/><stop offset=".2378" stop-color="#f1b160"/><stop offset=".2495" stop-color="#ff0"/><stop offset=".2729" stop-color="#ffffbf"/><stop offset=".2819" stop-color="#fffffe"/><stop offset=".3463" stop-color="#fff"/><stop offset=".3559" stop-color="#ffffbf"/><stop offset=".3803" stop-color="#ffff02"/><stop offset=".3814" stop-color="#fef907"/><stop offset=".3936" stop-color="#f0ac65"/><stop offset=".4037" stop-color="#e679a4"/><stop offset=".4128" stop-color="#e057ce"/><stop offset=".4213" stop-color="#dd43e6"/><stop offset=".4293" stop-color="#dc3dee"/><stop offset=".4372" stop-color="#dc42e8"/><stop offset=".4457" stop-color="#e054d2"/><stop offset=".4543" stop-color="#e572ad"/><stop offset=".4638" stop-color="#eea273"/><stop offset=".4745" stop-color="#fae421"/><stop offset=".4782" stop-color="#fffe01"/><stop offset=".4798" stop-color="#ffff0c"/><stop offset=".4973" stop-color="#ffffa5"/><stop offset=".5074" stop-color="#fff"/><stop offset=".6872" stop-color="#fff"/><stop offset=".7128" stop-color="#ffff7a"/><stop offset=".733" stop-color="#ffff20"/><stop offset=".741" stop-color="#ffff01"/><stop offset=".7633" stop-color="#f3be4f"/><stop offset=".7835" stop-color="#eb9286"/><stop offset=".8059" stop-color="#e56eb1"/><stop offset=".8314" stop-color="#e053d3"/><stop offset=".8633" stop-color="#dc40ea"/><stop offset=".8894" stop-color="#db37f5"/><stop offset=".8899" stop-color="#d92fff"/><stop offset="1" stop-color="#d92fff"/></linearGradient>
<linearGradient id="h63" gradientUnits="userSpaceOnUse" x1="0" y1="0" x2="0" y2="4.7" spreadMethod="reflect"><stop offset="0" stop-color="#dc42e8"/><stop offset=".0074" stop-color="#de48e0"/><stop offset=".0149" stop-color="#e15bc9"/><stop offset=".0229" stop-color="#e77ba2"/><stop offset=".0319" stop-color="#f0ad64"/><stop offset=".0441" stop-color="#ffff01"/><stop offset=".0649" stop-color="#ffffa9"/><stop offset=".075" stop-color="#ffe"/><stop offset=".0782" stop-color="#fff"/><stop offset=".125" stop-color="#fffffe"/><stop offset=".1346" stop-color="#ffffc2"/><stop offset=".1484" stop-color="#ffff57"/><stop offset=".159" stop-color="#ff0"/><stop offset=".1718" stop-color="#f0aa68"/><stop offset=".1809" stop-color="#e77aa4"/><stop offset=".1888" stop-color="#e15acb"/><stop offset=".1963" stop-color="#dd47e1"/><stop offset=".2037" stop-color="#dc41e9"/><stop offset=".2112" stop-color="#dd47e2"/><stop offset=".2186" stop-color="#e158cc"/><stop offset=".2266" stop-color="#e678a6"/><stop offset=".2356" stop-color="#efa86a"/><stop offset=".2468" stop-color="#fdf30f"/><stop offset=".2484" stop-color="#fffe01"/><stop offset=".2745" stop-color="#ffffd7"/><stop offset=".2798" stop-color="#fffffe"/><stop offset=".3489" stop-color="#fffffd"/><stop offset=".3622" stop-color="#ffff9a"/><stop offset=".3814" stop-color="#ffff01"/><stop offset=".3952" stop-color="#efa86b"/><stop offset=".4048" stop-color="#e677a7"/><stop offset=".4133" stop-color="#e057cd"/><stop offset=".4218" stop-color="#dd44e5"/><stop offset=".4298" stop-color="#dc3eed"/><stop offset=".4378" stop-color="#dd44e5"/><stop offset=".4457" stop-color="#e056cf"/><stop offset=".4543" stop-color="#e675a9"/><stop offset=".4633" stop-color="#eea371"/><stop offset=".4734" stop-color="#fae323"/><stop offset=".4771" stop-color="#fffd03"/><stop offset=".4777" stop-color="#ffff02"/><stop offset=".4931" stop-color="#ffff8a"/><stop offset=".5059" stop-color="#fff"/><stop offset=".6899" stop-color="#fff"/><stop offset=".7144" stop-color="#ffff7d"/><stop offset=".734" stop-color="#ffff24"/><stop offset=".7431" stop-color="#ff0"/><stop offset=".7622" stop-color="#f5c646"/><stop offset=".7819" stop-color="#ec987e"/><stop offset=".8037" stop-color="#e573ab"/><stop offset=".8287" stop-color="#e057ce"/><stop offset=".8596" stop-color="#dc42e8"/><stop offset=".891" stop-color="#db37f5"/><stop offset=".8915" stop-color="#d92fff"/><stop offset="1" stop-color="#d92fff"/></linearGradient>
<linearGradient id="h64" gradientUnits="userSpaceOnUse" x1="0" y1="0" x2="0" y2="4.7" spreadMethod="reflect"><stop offset="0" stop-color="#dd43e6"/><stop offset=".0074" stop-color="#de4ade"/><stop offset=".0149" stop-color="#e15dc7"/><stop offset=".0229" stop-color="#e87e9e"/><stop offset=".0319" stop-color="#f1b25f"/><stop offset=".0431" stop-color="#ff0"/><stop offset=".0649" stop-color="#ffffb5"/><stop offset=".075" stop-color="#fffffb"/><stop offset=".0761" stop-color="#fff"/><stop offset=".1271" stop-color="#fff"/><stop offset=".1362" stop-color="#ffffc2"/><stop offset=".1516" stop-color="#ffff46"/><stop offset=".1601" stop-color="#fffe01"/><stop offset=".1718" stop-color="#f0af62"/><stop offset=".1809" stop-color="#e77da0"/><stop offset=".1888" stop-color="#e15cc8"/><stop offset=".1963" stop-color="#de49df"/><stop offset=".2037" stop-color="#dd43e7"/><stop offset=".2112" stop-color="#de49e0"/><stop offset=".2186" stop-color="#e15bc9"/><stop offset=".2266" stop-color="#e77ba2"/><stop offset=".2356" stop-color="#f0ad65"/><stop offset=".2463" stop-color="#fdf50c"/><stop offset=".2473" stop-color="#fffd02"/><stop offset=".2479" stop-color="#ffff02"/><stop offset=".2729" stop-color="#ffffd8"/><stop offset=".2782" stop-color="#fff"/><stop offset=".3505" stop-color="#fff"/><stop offset=".3612" stop-color="#ffffaf"/><stop offset=".3824" stop-color="#ff0"/><stop offset=".3941" stop-color="#f1b25e"/><stop offset=".4037" stop-color="#e87f9d"/><stop offset=".4122" stop-color="#e15dc7"/><stop offset=".4202" stop-color="#de48e0"/><stop offset=".4282" stop-color="#dc40ea"/><stop offset=".4362" stop-color="#dd43e6"/><stop offset=".4441" stop-color="#e053d2"/><stop offset=".4527" stop-color="#e571ae"/><stop offset=".4617" stop-color="#ed9e77"/><stop offset=".4718" stop-color="#f9dd29"/><stop offset=".4766" stop-color="#ffff01"/><stop offset=".491" stop-color="#ffff81"/><stop offset=".5043" stop-color="#fff"/><stop offset=".6926" stop-color="#fff"/><stop offset=".7154" stop-color="#ffff83"/><stop offset=".7346" stop-color="#ffff2a"/><stop offset=".7452" stop-color="#fffe01"/><stop offset=".7638" stop-color="#f5c645"/><stop offset=".7835" stop-color="#ec987e"/><stop offset=".8048" stop-color="#e674aa"/><stop offset=".8293" stop-color="#e058cd"/><stop offset=".8596" stop-color="#dd43e7"/><stop offset=".892" stop-color="#db37f5"/><stop offset=".8926" stop-color="#d92fff"/><stop offset="1" stop-color="#d92fff"/></linearGradient>
<linearGradient id="h65" gradientUnits="userSpaceOnUse" x1="0" y1="0" x2="0" y2="4.7" spreadMethod="reflect"><stop offset="0" stop-color="#dd45e4"/><stop offset=".0069" stop-color="#de4bdc"/><stop offset=".0144" stop-color="#e25ec6"/><stop offset=".0223" stop-color="#e87f9d"/><stop offset=".0309" stop-color="#f0b061"/><stop offset=".042" stop-color="#fffd02"/><stop offset=".0431" stop-color="#ffff07"/><stop offset=".0644" stop-color="#ffffbd"/><stop offset=".0734" stop-color="#fff"/><stop offset=".1293" stop-color="#fff"/><stop offset=".1378" stop-color="#ffffc3"/><stop offset=".1569" stop-color="#ff2"/><stop offset=".1606" stop-color="#ffff02"/><stop offset=".1612" stop-color="#fffd02"/><stop offset=".1723" stop-color="#f1b061"/><stop offset=".1814" stop-color="#e77d9f"/><stop offset=".1894" stop-color="#e15dc7"/><stop offset=".1968" stop-color="#de4add"/><stop offset=".2043" stop-color="#dd45e5"/><stop offset=".2117" stop-color="#de4cdc"/><stop offset=".2191" stop-color="#e25fc4"/><stop offset=".2271" stop-color="#e8819b"/><stop offset=".2356" stop-color="#f1b15f"/><stop offset=".2468" stop-color="#ffff01"/><stop offset=".2729" stop-color="#ffffe5"/><stop offset=".2761" stop-color="#fff"/><stop offset=".3527" stop-color="#fff"/><stop offset=".3681" stop-color="#ffff81"/><stop offset=".383" stop-color="#ffff03"/><stop offset=".3835" stop-color="#fffe01"/><stop offset=".3947" stop-color="#f1b45c"/><stop offset=".4043" stop-color="#e8809c"/><stop offset=".4128" stop-color="#e25ec6"/><stop offset=".4207" stop-color="#de49df"/><stop offset=".4287" stop-color="#dc41e9"/><stop offset=".4367" stop-color="#dd46e3"/><stop offset=".4447" stop-color="#e057ce"/><stop offset=".4532" stop-color="#e676a8"/><stop offset=".4622" stop-color="#efa56e"/><stop offset=".4718" stop-color="#fae322"/><stop offset=".4755" stop-color="#ff0"/><stop offset=".4867" stop-color="#ffff64"/><stop offset=".5027" stop-color="#fff"/><stop offset=".6952" stop-color="#fff"/><stop offset=".7165" stop-color="#ffff89"/><stop offset=".7356" stop-color="#ffff2e"/><stop offset=".7468" stop-color="#ffff01"/><stop offset=".7681" stop-color="#f3c04d"/><stop offset=".7878" stop-color="#eb9384"/><stop offset=".8096" stop-color="#e56fb0"/><stop offset=".8346" stop-color="#e054d1"/><stop offset=".866" stop-color="#dc40ea"/><stop offset=".8936" stop-color="#db37f5"/><stop offset=".8941" stop-color="#d92fff"/><stop offset="1" stop-color="#d92fff"/></linearGradient>
<linearGradient id="h66" gradientUnits="userSpaceOnUse" x1="0" y1="0" x2="0" y2="4.7" spreadMethod="reflect"><stop offset="0" stop-color="#dd48e1"/><stop offset=".0069" stop-color="#df4dda"/><stop offset=".0144" stop-color="#e261c2"/><stop offset=".0218" stop-color="#e8809c"/><stop offset=".0303" stop-color="#f1b160"/><stop offset=".041" stop-color="#fefc04"/><stop offset=".0415" stop-color="#ffff01"/><stop offset=".0644" stop-color="#ffffc9"/><stop offset=".0713" stop-color="#fffffe"/><stop offset=".1314" stop-color="#fff"/><stop offset=".1415" stop-color="#ffffb1"/><stop offset=".1617" stop-color="#ffff01"/><stop offset=".1739" stop-color="#f0ab67"/><stop offset=".1824" stop-color="#e77ca1"/><stop offset=".1904" stop-color="#e15cc8"/><stop offset=".1979" stop-color="#de4bdd"/><stop offset=".2048" stop-color="#dd47e2"/><stop offset=".2117" stop-color="#df4ed9"/><stop offset=".2191" stop-color="#e262c1"/><stop offset=".2271" stop-color="#e98496"/><stop offset=".2356" stop-color="#f2b659"/><stop offset=".2457" stop-color="#fffe01"/><stop offset=".2585" stop-color="#ffff73"/><stop offset=".2739" stop-color="#fffffc"/><stop offset=".275" stop-color="#fff"/><stop offset=".3543" stop-color="#fff"/><stop offset=".3644" stop-color="#ffffac"/><stop offset=".384" stop-color="#ffff02"/><stop offset=".3846" stop-color="#fffd02"/><stop offset=".3957" stop-color="#f1b25e"/><stop offset=".4048" stop-color="#e8819b"/><stop offset=".4133" stop-color="#e25ec5"/><stop offset=".4213" stop-color="#de4ade"/><stop offset=".4293" stop-color="#dd43e7"/><stop offset=".4372" stop-color="#de49e0"/><stop offset=".4452" stop-color="#e15bc9"/><stop offset=".4532" stop-color="#e77aa4"/><stop offset=".4617" stop-color="#efa66d"/><stop offset=".4713" stop-color="#fae61f"/><stop offset=".4745" stop-color="#fffd02"/><stop offset=".4755" stop-color="#ffff07"/><stop offset=".4888" stop-color="#ffff83"/><stop offset=".5011" stop-color="#fffffe"/><stop offset=".6979" stop-color="#fffffe"/><stop offset=".7186" stop-color="#ffff8a"/><stop offset=".7372" stop-color="#ffff30"/><stop offset=".7489" stop-color="#ff0"/><stop offset=".767" stop-color="#f5c744"/><stop offset=".7862" stop-color="#ed9a7c"/><stop offset=".8074" stop-color="#e675aa"/><stop offset=".8319" stop-color="#e058cd"/><stop offset=".8622" stop-color="#dd43e7"/><stop offset=".8947" stop-color="#db37f5"/><stop offset=".8952" stop-color="#d92fff"/><stop offset="1" stop-color="#d92fff"/></linearGradient>
<linearGradient id="h67" gradientUnits="userSpaceOnUse" x1="0" y1="0" x2="0" y2="4.7" spreadMethod="reflect"><stop offset="0" stop-color="#de4ade"/><stop offset=".0069" stop-color="#df50d7"/><stop offset=".0138" stop-color="#e262c1"/><stop offset=".0213" stop-color="#e8819a"/><stop offset=".0298" stop-color="#f1b25e"/><stop offset=".0399" stop-color="#fefb05"/><stop offset=".0404" stop-color="#ff0"/><stop offset=".0649" stop-color="#ffffda"/><stop offset=".0697" stop-color="#fff"/><stop offset=".1335" stop-color="#fffffe"/><stop offset=".1457" stop-color="#ffff98"/><stop offset=".1628" stop-color="#fffe01"/><stop offset=".1734" stop-color="#f1b35d"/><stop offset=".1819" stop-color="#e88299"/><stop offset=".1894" stop-color="#e262c0"/><stop offset=".1968" stop-color="#df4fd8"/><stop offset=".2037" stop-color="#de49df"/><stop offset=".2106" stop-color="#df4ed9"/><stop offset=".2181" stop-color="#e261c2"/><stop offset=".2255" stop-color="#e8809c"/><stop offset=".234" stop-color="#f1b160"/><stop offset=".2441" stop-color="#fef908"/><stop offset=".2447" stop-color="#fffd03"/><stop offset=".2452" stop-color="#ffff02"/><stop offset=".2723" stop-color="#fffffc"/><stop offset=".2745" stop-color="#fff"/><stop offset=".3564" stop-color="#fffffe"/><stop offset=".3851" stop-color="#ffff01"/><stop offset=".3979" stop-color="#efaa68"/><stop offset=".4069" stop-color="#e77aa3"/><stop offset=".4149" stop-color="#e15cc8"/><stop offset=".4229" stop-color="#de4ade"/><stop offset=".4303" stop-color="#dd45e4"/><stop offset=".4378" stop-color="#de4bdc"/><stop offset=".4457" stop-color="#e25fc4"/><stop offset=".4537" stop-color="#e87f9c"/><stop offset=".4622" stop-color="#f0ae63"/><stop offset=".4718" stop-color="#fcf012"/><stop offset=".4734" stop-color="#fefc03"/><stop offset=".4739" stop-color="#ffff01"/><stop offset=".4867" stop-color="#ffff7a"/><stop offset=".4995" stop-color="#fffffd"/><stop offset=".5027" stop-color="#fff"/><stop offset=".7005" stop-color="#fffffd"/><stop offset=".7202" stop-color="#ffff8d"/><stop offset=".7388" stop-color="#ffff32"/><stop offset=".7505" stop-color="#ffff01"/><stop offset=".7723" stop-color="#f3be50"/><stop offset=".7915" stop-color="#eb9285"/><stop offset=".8128" stop-color="#e56fb0"/><stop offset=".8378" stop-color="#e054d2"/><stop offset=".8691" stop-color="#dc40ea"/><stop offset=".8957" stop-color="#db37f5"/><stop offset=".8963" stop-color="#d92fff"/><stop offset="1" stop-color="#d92fff"/></linearGradient>
<linearGradient id="h68" gradientUnits="userSpaceOnUse" x1="0" y1="0" x2="0" y2="4.7" spreadMethod="reflect"><stop offset="0" stop-color="#de4cdb"/><stop offset=".0069" stop-color="#df53d3"/><stop offset=".0138" stop-color="#e365bd"/><stop offset=".0213" stop-color="#e98596"/><stop offset=".0293" stop-color="#f1b45c"/><stop offset=".0394" stop-color="#fffd02"/><stop offset=".0399" stop-color="#ffff03"/><stop offset=".0644" stop-color="#ffffe3"/><stop offset=".0676" stop-color="#fffffd"/><stop offset=".1351" stop-color="#fff"/><stop offset=".1479" stop-color="#ffff90"/><stop offset=".1633" stop-color="#ffff02"/><stop offset=".1638" stop-color="#fffd02"/><stop offset=".1739" stop-color="#f1b45b"/><stop offset=".1824" stop-color="#e88398"/><stop offset=".1899" stop-color="#e364bf"/><stop offset=".1968" stop-color="#df52d5"/><stop offset=".2037" stop-color="#de4bdc"/><stop offset=".2106" stop-color="#df51d6"/><stop offset=".2176" stop-color="#e262c0"/><stop offset=".225" stop-color="#e8819a"/><stop offset=".233" stop-color="#f0af62"/><stop offset=".2426" stop-color="#fdf30f"/><stop offset=".2441" stop-color="#ffff01"/><stop offset=".2707" stop-color="#fffffc"/><stop offset=".2723" stop-color="#fff"/><stop offset=".358" stop-color="#fffffe"/><stop offset=".3856" stop-color="#ffff04"/><stop offset=".3862" stop-color="#ff0"/><stop offset=".3963" stop-color="#f2b857"/><stop offset=".4053" stop-color="#e98595"/><stop offset=".4133" stop-color="#e364be"/><stop offset=".4213" stop-color="#df4fd8"/><stop offset=".4287" stop-color="#dd47e2"/><stop offset=".4362" stop-color="#de4bdc"/><stop offset=".4436" stop-color="#e15bc9"/><stop offset=".4516" stop-color="#e779a4"/><stop offset=".4601" stop-color="#efa66d"/><stop offset=".4691" stop-color="#fae323"/><stop offset=".4729" stop-color="#ff0"/><stop offset=".4851" stop-color="#ffff75"/><stop offset=".4984" stop-color="#fff"/><stop offset=".7027" stop-color="#fff"/><stop offset=".7218" stop-color="#ffff90"/><stop offset=".7399" stop-color="#ffff36"/><stop offset=".7527" stop-color="#ff0"/><stop offset=".7707" stop-color="#f5c745"/><stop offset=".7899" stop-color="#ec997d"/><stop offset=".8106" stop-color="#e675aa"/><stop offset=".8346" stop-color="#e158cd"/><stop offset=".8644" stop-color="#dd43e6"/><stop offset=".8973" stop-color="#db37f5"/><stop offset=".8979" stop-color="#d92fff"/><stop offset="1" stop-color="#d92fff"/></linearGradient>
<linearGradient id="h69" gradientUnits="userSpaceOnUse" x1="0" y1="0" x2="0" y2="4.7" spreadMethod="reflect"><stop offset="0" stop-color="#df4fd8"/><stop offset=".0069" stop-color="#e055d0"/><stop offset=".0138" stop-color="#e368b9"/><stop offset=".0213" stop-color="#e98991"/><stop offset=".0293" stop-color="#f2b956"/><stop offset=".0388" stop-color="#ffff01"/><stop offset=".0644" stop-color="#fffff0"/><stop offset=".066" stop-color="#fffffe"/><stop offset=".1367" stop-color="#fff"/><stop offset=".1484" stop-color="#ffff96"/><stop offset=".1644" stop-color="#ffff01"/><stop offset=".1755" stop-color="#f0af62"/><stop offset=".1835" stop-color="#e8829a"/><stop offset=".191" stop-color="#e363bf"/><stop offset=".1979" stop-color="#df53d3"/><stop offset=".2048" stop-color="#df4ed9"/><stop offset=".2117" stop-color="#e056d0"/><stop offset=".2186" stop-color="#e469b8"/><stop offset=".2261" stop-color="#ea8b8f"/><stop offset=".234" stop-color="#f3bb53"/><stop offset=".2431" stop-color="#fffe01"/><stop offset=".2489" stop-color="#ffff36"/><stop offset=".2691" stop-color="#fffffc"/><stop offset=".2702" stop-color="#fff"/><stop offset=".3596" stop-color="#fffffe"/><stop offset=".3856" stop-color="#ffff0c"/><stop offset=".3867" stop-color="#ffff03"/><stop offset=".3872" stop-color="#fffe02"/><stop offset=".3973" stop-color="#f2b759"/><stop offset=".4059" stop-color="#e98694"/><stop offset=".4138" stop-color="#e365bd"/><stop offset=".4213" stop-color="#df51d5"/><stop offset=".4287" stop-color="#de49df"/><stop offset=".4362" stop-color="#df4ed9"/><stop offset=".4436" stop-color="#e25ec5"/><stop offset=".4516" stop-color="#e77da0"/><stop offset=".4596" stop-color="#efa86b"/><stop offset=".4686" stop-color="#fae520"/><stop offset=".4718" stop-color="#fffe01"/><stop offset=".4734" stop-color="#ffff0d"/><stop offset=".4856" stop-color="#ffff86"/><stop offset=".4968" stop-color="#fffffe"/><stop offset=".7053" stop-color="#fffffd"/><stop offset=".7239" stop-color="#ffff90"/><stop offset=".7415" stop-color="#ffff38"/><stop offset=".7543" stop-color="#ffff01"/><stop offset=".7564" stop-color="#fef908"/><stop offset=".7739" stop-color="#f4c34a"/><stop offset=".7926" stop-color="#ec9780"/><stop offset=".8133" stop-color="#e573ac"/><stop offset=".8378" stop-color="#e057cf"/><stop offset=".8681" stop-color="#dc42e8"/><stop offset=".8984" stop-color="#db37f5"/><stop offset=".8989" stop-color="#d92fff"/><stop offset="1" stop-color="#d92fff"/></linearGradient>
<linearGradient id="h70" gradientUnits="userSpaceOnUse" x1="0" y1="0" x2="0" y2="4.7" spreadMethod="reflect"><stop offset="0" stop-color="#df52d4"/><stop offset=".0069" stop-color="#e159cc"/><stop offset=".0138" stop-color="#e46cb5"/><stop offset=".0213" stop-color="#ea8d8b"/><stop offset=".0293" stop-color="#f3be4f"/><stop offset=".0378" stop-color="#fffe01"/><stop offset=".05" stop-color="#ffff75"/><stop offset=".0644" stop-color="#fffffe"/><stop offset=".1383" stop-color="#fff"/><stop offset=".1511" stop-color="#ff8"/><stop offset=".1649" stop-color="#ffff04"/><stop offset=".1654" stop-color="#fffe01"/><stop offset=".175" stop-color="#f2b857"/><stop offset=".183" stop-color="#e98991"/><stop offset=".1904" stop-color="#e368b9"/><stop offset=".1973" stop-color="#e056cf"/><stop offset=".2043" stop-color="#df51d6"/><stop offset=".2112" stop-color="#e058cd"/><stop offset=".2181" stop-color="#e46bb6"/><stop offset=".2255" stop-color="#ea8c8d"/><stop offset=".2335" stop-color="#f3bd51"/><stop offset=".242" stop-color="#fffd03"/><stop offset=".2426" stop-color="#ffff02"/><stop offset=".258" stop-color="#ffff9a"/><stop offset=".2681" stop-color="#fff"/><stop offset=".3612" stop-color="#fffffe"/><stop offset=".3856" stop-color="#ffff15"/><stop offset=".3878" stop-color="#ffff02"/><stop offset=".3888" stop-color="#fef808"/><stop offset=".3984" stop-color="#f2b55a"/><stop offset=".4069" stop-color="#e98595"/><stop offset=".4149" stop-color="#e364bd"/><stop offset=".4223" stop-color="#df52d4"/><stop offset=".4298" stop-color="#de4cdc"/><stop offset=".4372" stop-color="#df52d4"/><stop offset=".4447" stop-color="#e365bd"/><stop offset=".4521" stop-color="#e88398"/><stop offset=".4601" stop-color="#f1b061"/><stop offset=".4691" stop-color="#fcf012"/><stop offset=".4707" stop-color="#fffd03"/><stop offset=".4713" stop-color="#ffff02"/><stop offset=".4824" stop-color="#ffff70"/><stop offset=".4957" stop-color="#fff"/><stop offset=".7074" stop-color="#fff"/><stop offset=".7261" stop-color="#ffff90"/><stop offset=".7436" stop-color="#ffff37"/><stop offset=".7564" stop-color="#ff0"/><stop offset=".775" stop-color="#f4c547"/><stop offset=".7936" stop-color="#ec987e"/><stop offset=".8144" stop-color="#e674ab"/><stop offset=".8383" stop-color="#e057cd"/><stop offset=".8681" stop-color="#dd43e7"/><stop offset=".9" stop-color="#db37f5"/><stop offset=".9005" stop-color="#d92fff"/><stop offset="1" stop-color="#d92fff"/></linearGradient>
<linearGradient id="h71" gradientUnits="userSpaceOnUse" x1="0" y1="0" x2="0" y2="4.7" spreadMethod="reflect"><stop offset="0" stop-color="#e055d0"/><stop offset=".0064" stop-color="#e15bc9"/><stop offset=".0133" stop-color="#e46eb2"/><stop offset=".0202" stop-color="#ea8c8d"/><stop offset=".0282" stop-color="#f3bd51"/><stop offset=".0367" stop-color="#fffd02"/><stop offset=".0372" stop-color="#ffff03"/><stop offset=".0628" stop-color="#fffffd"/><stop offset=".0771" stop-color="#fff"/><stop offset=".1399" stop-color="#fff"/><stop offset=".166" stop-color="#ffff02"/><stop offset=".1665" stop-color="#fffd03"/><stop offset=".1755" stop-color="#f2ba55"/><stop offset=".1835" stop-color="#ea8a8f"/><stop offset=".191" stop-color="#e46ab6"/><stop offset=".1979" stop-color="#e159cc"/><stop offset=".2048" stop-color="#e054d2"/><stop offset=".2117" stop-color="#e15cc8"/><stop offset=".2186" stop-color="#e570af"/><stop offset=".2261" stop-color="#eb9484"/><stop offset=".234" stop-color="#f5c646"/><stop offset=".2415" stop-color="#ffff01"/><stop offset=".2548" stop-color="#ffff85"/><stop offset=".2665" stop-color="#fffffe"/><stop offset=".3622" stop-color="#fff"/><stop offset=".3638" stop-color="#fffff2"/><stop offset=".3851" stop-color="#ff2"/><stop offset=".3888" stop-color="#ffff01"/><stop offset=".3995" stop-color="#f1b45c"/><stop offset=".4074" stop-color="#e98793"/><stop offset=".4149" stop-color="#e368b9"/><stop offset=".4223" stop-color="#e055d1"/><stop offset=".4298" stop-color="#df4ed9"/><stop offset=".4372" stop-color="#e055d1"/><stop offset=".4447" stop-color="#e368b9"/><stop offset=".4521" stop-color="#e98793"/><stop offset=".4601" stop-color="#f2b55a"/><stop offset=".4686" stop-color="#fdf30f"/><stop offset=".4702" stop-color="#ffff01"/><stop offset=".4809" stop-color="#ffff6a"/><stop offset=".4941" stop-color="#fffffe"/><stop offset=".7101" stop-color="#fffffd"/><stop offset=".7282" stop-color="#ffff90"/><stop offset=".7452" stop-color="#ffff39"/><stop offset=".7585" stop-color="#fffe01"/><stop offset=".7755" stop-color="#f5c843"/><stop offset=".7941" stop-color="#ed9a7b"/><stop offset=".8144" stop-color="#e676a8"/><stop offset=".8378" stop-color="#e159cb"/><stop offset=".867" stop-color="#dd44e5"/><stop offset=".9011" stop-color="#db37f5"/><stop offset=".9016" stop-color="#d92fff"/><stop offset="1" stop-color="#d92fff"/></linearGradient>
<linearGradient id="h72" gradientUnits="userSpaceOnUse" x1="0" y1="0" x2="0" y2="4.7" spreadMethod="reflect"><stop offset="0" stop-color="#e159cc"/><stop offset=".0064" stop-color="#e25fc5"/><stop offset=".0133" stop-color="#e572ad"/><stop offset=".0202" stop-color="#eb9187"/><stop offset=".0277" stop-color="#f3bf4f"/><stop offset=".0362" stop-color="#ffff01"/><stop offset=".0511" stop-color="#ffff95"/><stop offset=".0617" stop-color="#fff"/><stop offset=".1415" stop-color="#fffffe"/><stop offset=".166" stop-color="#ffff0b"/><stop offset=".167" stop-color="#ffff01"/><stop offset=".1777" stop-color="#f1b15f"/><stop offset=".1851" stop-color="#e98793"/><stop offset=".192" stop-color="#e46bb6"/><stop offset=".1989" stop-color="#e15bc9"/><stop offset=".2053" stop-color="#e058cd"/><stop offset=".2122" stop-color="#e261c2"/><stop offset=".2191" stop-color="#e677a7"/><stop offset=".2266" stop-color="#ed9c7a"/><stop offset=".2346" stop-color="#f6d039"/><stop offset=".2404" stop-color="#fffe01"/><stop offset=".2447" stop-color="#ffff28"/><stop offset=".2649" stop-color="#fffffc"/><stop offset=".266" stop-color="#fff"/><stop offset=".3638" stop-color="#fff"/><stop offset=".3862" stop-color="#ffff21"/><stop offset=".3899" stop-color="#fffe01"/><stop offset=".3989" stop-color="#f3bd51"/><stop offset=".4069" stop-color="#ea8e8b"/><stop offset=".4144" stop-color="#e46db3"/><stop offset=".4218" stop-color="#e159cc"/><stop offset=".4287" stop-color="#df51d5"/><stop offset=".4356" stop-color="#e055d0"/><stop offset=".4431" stop-color="#e366bb"/><stop offset=".4505" stop-color="#e88497"/><stop offset=".4585" stop-color="#f1b060"/><stop offset=".467" stop-color="#fced16"/><stop offset=".4691" stop-color="#fffe01"/><stop offset=".4766" stop-color="#ffff48"/><stop offset=".4894" stop-color="#ffffd5"/><stop offset=".4931" stop-color="#fff"/><stop offset=".7122" stop-color="#fff"/><stop offset=".7298" stop-color="#ffff93"/><stop offset=".7468" stop-color="#ffff3b"/><stop offset=".7601" stop-color="#ff0"/><stop offset=".7787" stop-color="#f4c448"/><stop offset=".7973" stop-color="#ec977f"/><stop offset=".8181" stop-color="#e573ac"/><stop offset=".842" stop-color="#e057ce"/><stop offset=".8718" stop-color="#dd42e7"/><stop offset=".9027" stop-color="#db37f5"/><stop offset=".9032" stop-color="#d92fff"/><stop offset="1" stop-color="#d92fff"/></linearGradient>
<linearGradient id="h73" gradientUnits="userSpaceOnUse" x1="0" y1="0" x2="0" y2="4.7" spreadMethod="reflect"><stop offset="0" stop-color="#e15dc7"/><stop offset=".0064" stop-color="#e263c0"/><stop offset=".0128" stop-color="#e674aa"/><stop offset=".0197" stop-color="#eb9384"/><stop offset=".0271" stop-color="#f4c14c"/><stop offset=".0351" stop-color="#ffff01"/><stop offset=".0447" stop-color="#ffff5e"/><stop offset=".0601" stop-color="#fff"/><stop offset=".1426" stop-color="#fff"/><stop offset=".1441" stop-color="#fffff2"/><stop offset=".166" stop-color="#ffff13"/><stop offset=".1681" stop-color="#ffff01"/><stop offset=".1766" stop-color="#f3be4f"/><stop offset=".184" stop-color="#eb9187"/><stop offset=".191" stop-color="#e572ac"/><stop offset=".1979" stop-color="#e260c3"/><stop offset=".2043" stop-color="#e15bc9"/><stop offset=".2106" stop-color="#e261c1"/><stop offset=".2176" stop-color="#e675a9"/><stop offset=".2245" stop-color="#ec9582"/><stop offset=".2319" stop-color="#f4c349"/><stop offset=".2394" stop-color="#fffd03"/><stop offset=".2399" stop-color="#ffff02"/><stop offset=".2516" stop-color="#ffff7a"/><stop offset=".2638" stop-color="#fff"/><stop offset=".3654" stop-color="#fff"/><stop offset=".3851" stop-color="#ffff35"/><stop offset=".3904" stop-color="#ffff03"/><stop offset=".391" stop-color="#fffd02"/><stop offset=".4" stop-color="#f3bb53"/><stop offset=".408" stop-color="#ea8d8c"/><stop offset=".4154" stop-color="#e46db3"/><stop offset=".4229" stop-color="#e15aca"/><stop offset=".4298" stop-color="#e054d1"/><stop offset=".4367" stop-color="#e15aca"/><stop offset=".4436" stop-color="#e46cb5"/><stop offset=".4511" stop-color="#ea8b8e"/><stop offset=".459" stop-color="#f2ba55"/><stop offset=".4676" stop-color="#fef907"/><stop offset=".4681" stop-color="#fffd02"/><stop offset=".4686" stop-color="#ffff03"/><stop offset=".4787" stop-color="#ffff6a"/><stop offset=".4915" stop-color="#fffffd"/><stop offset=".5074" stop-color="#fff"/><stop offset=".7144" stop-color="#fff"/><stop offset=".733" stop-color="#ffff8d"/><stop offset=".7495" stop-color="#ffff37"/><stop offset=".7622" stop-color="#fffe01"/><stop offset=".7793" stop-color="#f5c844"/><stop offset=".7973" stop-color="#ed9b7b"/><stop offset=".8176" stop-color="#e676a8"/><stop offset=".841" stop-color="#e159cb"/><stop offset=".8697" stop-color="#dd44e5"/><stop offset=".9037" stop-color="#db37f5"/><stop offset=".9043" stop-color="#d92fff"/><stop offset="1" stop-color="#d92fff"/></linearGradient>
<linearGradient id="h74" gradientUnits="userSpaceOnUse" x1="0" y1="0" x2="0" y2="4.7" spreadMethod="reflect"><stop offset="0" stop-color="#e261c2"/><stop offset=".0064" stop-color="#e367bb"/><stop offset=".0128" stop-color="#e679a5"/><stop offset=".0197" stop-color="#ec987e"/><stop offset=".0271" stop-color="#f5c844"/><stop offset=".034" stop-color="#fffd02"/><stop offset=".0346" stop-color="#ffff03"/><stop offset=".0468" stop-color="#ffff80"/><stop offset=".0585" stop-color="#fffffd"/><stop offset=".0612" stop-color="#fff"/><stop offset=".1441" stop-color="#fff"/><stop offset=".166" stop-color="#ffff1c"/><stop offset=".1686" stop-color="#ffff03"/><stop offset=".1691" stop-color="#fffd02"/><stop offset=".1777" stop-color="#f3bd51"/><stop offset=".1851" stop-color="#eb9187"/><stop offset=".192" stop-color="#e573ab"/><stop offset=".1984" stop-color="#e363bf"/><stop offset=".2048" stop-color="#e25fc4"/><stop offset=".2112" stop-color="#e367bb"/><stop offset=".2181" stop-color="#e77ba1"/><stop offset=".225" stop-color="#ed9d78"/><stop offset=".2324" stop-color="#f6ce3d"/><stop offset=".2388" stop-color="#ffff01"/><stop offset=".25" stop-color="#ffff74"/><stop offset=".2622" stop-color="#fffffb"/><stop offset=".2633" stop-color="#fff"/><stop offset=".3665" stop-color="#fff"/><stop offset=".3676" stop-color="#fffff7"/><stop offset=".3856" stop-color="#ffff39"/><stop offset=".3915" stop-color="#ffff02"/><stop offset=".3926" stop-color="#fef808"/><stop offset=".4011" stop-color="#f2ba54"/><stop offset=".409" stop-color="#ea8c8c"/><stop offset=".4165" stop-color="#e46eb2"/><stop offset=".4234" stop-color="#e15dc7"/><stop offset=".4303" stop-color="#e058cd"/><stop offset=".4372" stop-color="#e25fc4"/><stop offset=".4441" stop-color="#e572ad"/><stop offset=".4516" stop-color="#eb9385"/><stop offset=".459" stop-color="#f3c04e"/><stop offset=".467" stop-color="#fefc03"/><stop offset=".4676" stop-color="#ffff02"/><stop offset=".4771" stop-color="#ffff64"/><stop offset=".4894" stop-color="#fffff2"/><stop offset=".4904" stop-color="#fff"/><stop offset=".717" stop-color="#fffffd"/><stop offset=".734" stop-color="#ffff93"/><stop offset=".7505" stop-color="#ffff3c"/><stop offset=".7638" stop-color="#ff0"/><stop offset=".7824" stop-color="#f4c449"/><stop offset=".8005" stop-color="#ec987f"/><stop offset=".8207" stop-color="#e674ab"/><stop offset=".8441" stop-color="#e058cd"/><stop offset=".8734" stop-color="#dd43e7"/><stop offset=".9053" stop-color="#db37f5"/><stop offset=".9059" stop-color="#d92fff"/><stop offset="1" stop-color="#d92fff"/></linearGradient>
<linearGradient id="h75" gradientUnits="userSpaceOnUse" x1="0" y1="0" x2="0" y2="4.7" spreadMethod="reflect"><stop offset="0" stop-color="#e365bc"/><stop offset=".0064" stop-color="#e46bb5"/><stop offset=".0128" stop-color="#e77e9f"/><stop offset=".0197" stop-color="#ed9e77"/><stop offset=".0271" stop-color="#f6ce3c"/><stop offset=".033" stop-color="#fefc04"/><stop offset=".0335" stop-color="#ffff02"/><stop offset=".0452" stop-color="#ffff7a"/><stop offset=".0574" stop-color="#fff"/><stop offset=".1457" stop-color="#fffffd"/><stop offset=".1654" stop-color="#ffff2b"/><stop offset=".1697" stop-color="#ffff02"/><stop offset=".1707" stop-color="#fef809"/><stop offset=".1787" stop-color="#f3bc52"/><stop offset=".1862" stop-color="#eb9187"/><stop offset=".1931" stop-color="#e675aa"/><stop offset=".1995" stop-color="#e366bb"/><stop offset=".2059" stop-color="#e364be"/><stop offset=".2122" stop-color="#e46eb2"/><stop offset=".2186" stop-color="#e88398"/><stop offset=".2255" stop-color="#efa66d"/><stop offset=".233" stop-color="#f8d82f"/><stop offset=".2378" stop-color="#ff0"/><stop offset=".2479" stop-color="#ffff68"/><stop offset=".2612" stop-color="#fffffe"/><stop offset=".3681" stop-color="#fff"/><stop offset=".3862" stop-color="#ffff3e"/><stop offset=".3926" stop-color="#ffff01"/><stop offset=".4027" stop-color="#f2b659"/><stop offset=".4101" stop-color="#ea8c8d"/><stop offset=".4176" stop-color="#e56fb1"/><stop offset=".4245" stop-color="#e25fc4"/><stop offset=".4314" stop-color="#e15cc8"/><stop offset=".4383" stop-color="#e365bd"/><stop offset=".4452" stop-color="#e77aa3"/><stop offset=".4527" stop-color="#ed9e77"/><stop offset=".4601" stop-color="#f6ce3c"/><stop offset=".4665" stop-color="#ffff01"/><stop offset=".4761" stop-color="#ffff64"/><stop offset=".4878" stop-color="#ffe"/><stop offset=".4894" stop-color="#fff"/><stop offset=".7191" stop-color="#fffffe"/><stop offset=".7356" stop-color="#ffff96"/><stop offset=".7521" stop-color="#ffff3d"/><stop offset=".7654" stop-color="#ffff02"/><stop offset=".7665" stop-color="#fffc03"/><stop offset=".783" stop-color="#f5c744"/><stop offset=".8011" stop-color="#ed9a7c"/><stop offset=".8213" stop-color="#e675a9"/><stop offset=".8447" stop-color="#e158cc"/><stop offset=".8734" stop-color="#dd44e6"/><stop offset=".9064" stop-color="#db37f5"/><stop offset=".9069" stop-color="#d92fff"/><stop offset="1" stop-color="#d92fff"/></linearGradient>
<linearGradient id="h76" gradientUnits="userSpaceOnUse" x1="0" y1="0" x2="0" y2="4.7" spreadMethod="reflect"><stop offset="0" stop-color="#e46ab6"/><stop offset=".0064" stop-color="#e571af"/><stop offset=".0128" stop-color="#e88398"/><stop offset=".0197" stop-color="#eea46f"/><stop offset=".0271" stop-color="#f7d533"/><stop offset=".0324" stop-color="#ffff01"/><stop offset=".0431" stop-color="#ffff6e"/><stop offset=".0559" stop-color="#fffffc"/><stop offset=".0574" stop-color="#fff"/><stop offset=".1468" stop-color="#fff"/><stop offset=".166" stop-color="#ffff30"/><stop offset=".1707" stop-color="#ffff01"/><stop offset=".1798" stop-color="#f3bc53"/><stop offset=".1867" stop-color="#eb9484"/><stop offset=".1936" stop-color="#e678a6"/><stop offset=".2" stop-color="#e46ab6"/><stop offset=".2064" stop-color="#e469b8"/><stop offset=".2128" stop-color="#e674ab"/><stop offset=".2191" stop-color="#ea8a8f"/><stop offset=".2261" stop-color="#f0af62"/><stop offset=".2335" stop-color="#fae421"/><stop offset=".2367" stop-color="#fffe01"/><stop offset=".2388" stop-color="#ffff13"/><stop offset=".2495" stop-color="#ffff85"/><stop offset=".2601" stop-color="#fff"/><stop offset=".3691" stop-color="#fff"/><stop offset=".3702" stop-color="#fffff6"/><stop offset=".3862" stop-color="#ffff48"/><stop offset=".3936" stop-color="#ff0"/><stop offset=".4021" stop-color="#f3c04d"/><stop offset=".4096" stop-color="#eb9483"/><stop offset=".4165" stop-color="#e677a7"/><stop offset=".4234" stop-color="#e365bd"/><stop offset=".4303" stop-color="#e260c3"/><stop offset=".4372" stop-color="#e367ba"/><stop offset=".4441" stop-color="#e77ba2"/><stop offset=".4511" stop-color="#ed9b7b"/><stop offset=".4585" stop-color="#f5c942"/><stop offset=".4654" stop-color="#ff0"/><stop offset=".4739" stop-color="#ffff58"/><stop offset=".4846" stop-color="#ffffd5"/><stop offset=".4878" stop-color="#fffffd"/><stop offset=".7213" stop-color="#fff"/><stop offset=".7378" stop-color="#ffff96"/><stop offset=".7537" stop-color="#ffff3f"/><stop offset=".7676" stop-color="#ff0"/><stop offset=".7856" stop-color="#f4c548"/><stop offset=".8037" stop-color="#ec987e"/><stop offset=".8239" stop-color="#e674ab"/><stop offset=".8473" stop-color="#e057ce"/><stop offset=".8766" stop-color="#dd43e7"/><stop offset=".908" stop-color="#db37f5"/><stop offset=".9085" stop-color="#d92fff"/><stop offset="1" stop-color="#d92fff"/></linearGradient>
<linearGradient id="h77" gradientUnits="userSpaceOnUse" x1="0" y1="0" x2="0" y2="4.7" spreadMethod="reflect"><stop offset="0" stop-color="#e570b0"/><stop offset=".0064" stop-color="#e676a8"/><stop offset=".0128" stop-color="#e98991"/><stop offset=".0191" stop-color="#efa86b"/><stop offset=".0261" stop-color="#f7d534"/><stop offset=".0314" stop-color="#ff0"/><stop offset=".041" stop-color="#ffff62"/><stop offset=".0548" stop-color="#fffffe"/><stop offset=".1479" stop-color="#fff"/><stop offset=".1489" stop-color="#fffff6"/><stop offset=".1654" stop-color="#ffff3f"/><stop offset=".1718" stop-color="#ff0"/><stop offset=".1798" stop-color="#f4c34a"/><stop offset=".1867" stop-color="#ec9a7c"/><stop offset=".1931" stop-color="#e87f9d"/><stop offset=".1995" stop-color="#e570af"/><stop offset=".2059" stop-color="#e46eb2"/><stop offset=".2122" stop-color="#e678a6"/><stop offset=".2186" stop-color="#ea8e8b"/><stop offset=".2255" stop-color="#f1b35d"/><stop offset=".233" stop-color="#fbe71d"/><stop offset=".2356" stop-color="#fffd02"/><stop offset=".2362" stop-color="#ffff03"/><stop offset=".2457" stop-color="#ffff67"/><stop offset=".2585" stop-color="#fffffc"/><stop offset=".2601" stop-color="#fff"/><stop offset=".3707" stop-color="#fff"/><stop offset=".3862" stop-color="#ffff53"/><stop offset=".3941" stop-color="#ffff04"/><stop offset=".3947" stop-color="#fffe01"/><stop offset=".4027" stop-color="#f4c34a"/><stop offset=".4101" stop-color="#ec977f"/><stop offset=".417" stop-color="#e77aa3"/><stop offset=".4239" stop-color="#e469b8"/><stop offset=".4309" stop-color="#e364bd"/><stop offset=".4378" stop-color="#e46db3"/><stop offset=".4447" stop-color="#e88299"/><stop offset=".4516" stop-color="#eea470"/><stop offset=".459" stop-color="#f7d434"/><stop offset=".4644" stop-color="#fffe01"/><stop offset=".4702" stop-color="#ffff3a"/><stop offset=".4798" stop-color="#ffffa8"/><stop offset=".4867" stop-color="#fff"/><stop offset=".7234" stop-color="#fff"/><stop offset=".741" stop-color="#ffff8f"/><stop offset=".7569" stop-color="#ffff39"/><stop offset=".7697" stop-color="#fffe01"/><stop offset=".7862" stop-color="#f5c843"/><stop offset=".8037" stop-color="#ed9b7a"/><stop offset=".8234" stop-color="#e677a7"/><stop offset=".8463" stop-color="#e15aca"/><stop offset=".8745" stop-color="#dd45e5"/><stop offset=".9096" stop-color="#db37f5"/><stop offset=".9101" stop-color="#d92fff"/><stop offset="1" stop-color="#d92fff"/></linearGradient>
<linearGradient id="h78" gradientUnits="userSpaceOnUse" x1="0" y1="0" x2="0" y2="4.7" spreadMethod="reflect"><stop offset="0" stop-color="#e675a9"/><stop offset=".0064" stop-color="#e77ca1"/><stop offset=".0128" stop-color="#eb8f89"/><stop offset=".0191" stop-color="#f0af63"/><stop offset=".0261" stop-color="#f9dd2a"/><stop offset=".0303" stop-color="#fffe01"/><stop offset=".0372" stop-color="#ffff45"/><stop offset=".0537" stop-color="#fff"/><stop offset=".1495" stop-color="#fffffe"/><stop offset=".1654" stop-color="#ffff4a"/><stop offset=".1729" stop-color="#fffe01"/><stop offset=".1803" stop-color="#f5c646"/><stop offset=".1872" stop-color="#ed9d78"/><stop offset=".1936" stop-color="#e88398"/><stop offset=".2" stop-color="#e675a9"/><stop offset=".2064" stop-color="#e674ab"/><stop offset=".2128" stop-color="#e87f9d"/><stop offset=".2191" stop-color="#ec9780"/><stop offset=".2261" stop-color="#f3bd51"/><stop offset=".2335" stop-color="#fdf40e"/><stop offset=".2346" stop-color="#fffd03"/><stop offset=".2351" stop-color="#ffff03"/><stop offset=".2441" stop-color="#ffff61"/><stop offset=".2574" stop-color="#fffffe"/><stop offset=".3718" stop-color="#fff"/><stop offset=".3739" stop-color="#ffffe9"/><stop offset=".3872" stop-color="#ffff53"/><stop offset=".3952" stop-color="#ffff04"/><stop offset=".3957" stop-color="#fffe01"/><stop offset=".4037" stop-color="#f4c34a"/><stop offset=".4112" stop-color="#ec987f"/><stop offset=".4181" stop-color="#e77ca1"/><stop offset=".425" stop-color="#e46cb4"/><stop offset=".4314" stop-color="#e46ab7"/><stop offset=".4378" stop-color="#e572ad"/><stop offset=".4447" stop-color="#e98892"/><stop offset=".4516" stop-color="#efaa68"/><stop offset=".459" stop-color="#f9dc2b"/><stop offset=".4633" stop-color="#fffe01"/><stop offset=".4649" stop-color="#ffff0e"/><stop offset=".4739" stop-color="#ffff6f"/><stop offset=".4856" stop-color="#fff"/><stop offset=".7255" stop-color="#fff"/><stop offset=".7436" stop-color="#ffff8c"/><stop offset=".759" stop-color="#ffff38"/><stop offset=".7713" stop-color="#ff0"/><stop offset=".7894" stop-color="#f4c448"/><stop offset=".8069" stop-color="#ec987e"/><stop offset=".8266" stop-color="#e674aa"/><stop offset=".85" stop-color="#e058cd"/><stop offset=".8787" stop-color="#dd43e6"/><stop offset=".9106" stop-color="#db37f5"/><stop offset=".9112" stop-color="#d92fff"/><stop offset="1" stop-color="#d92fff"/></linearGradient>
<linearGradient id="h79" gradientUnits="userSpaceOnUse" x1="0" y1="0" x2="0" y2="4.7" spreadMethod="reflect"><stop offset="0" stop-color="#e77ca1"/><stop offset=".0059" stop-color="#e8819a"/><stop offset=".0122" stop-color="#eb9483"/><stop offset=".0186" stop-color="#f1b35d"/><stop offset=".0255" stop-color="#f9e125"/><stop offset=".0293" stop-color="#fffe01"/><stop offset=".0346" stop-color="#ffff34"/><stop offset=".0463" stop-color="#ffffb7"/><stop offset=".0521" stop-color="#fffffc"/><stop offset=".0537" stop-color="#fff"/><stop offset=".1505" stop-color="#fff"/><stop offset=".167" stop-color="#ff4"/><stop offset=".1734" stop-color="#ffff04"/><stop offset=".1739" stop-color="#fffe01"/><stop offset=".1814" stop-color="#f5c745"/><stop offset=".1883" stop-color="#ed9f76"/><stop offset=".1947" stop-color="#e98794"/><stop offset=".2011" stop-color="#e77aa3"/><stop offset=".2074" stop-color="#e77ba2"/><stop offset=".2138" stop-color="#e98991"/><stop offset=".2202" stop-color="#eea371"/><stop offset=".2271" stop-color="#f6cc3f"/><stop offset=".2335" stop-color="#fffd03"/><stop offset=".234" stop-color="#ffff02"/><stop offset=".2431" stop-color="#ffff61"/><stop offset=".2564" stop-color="#fff"/><stop offset=".3734" stop-color="#fffffe"/><stop offset=".3872" stop-color="#ffff5f"/><stop offset=".3963" stop-color="#ffff03"/><stop offset=".3968" stop-color="#fffe02"/><stop offset=".4048" stop-color="#f4c34a"/><stop offset=".4117" stop-color="#ed9b7a"/><stop offset=".4186" stop-color="#e8809c"/><stop offset=".425" stop-color="#e572ad"/><stop offset=".4314" stop-color="#e56fb1"/><stop offset=".4378" stop-color="#e678a6"/><stop offset=".4447" stop-color="#ea8e8b"/><stop offset=".4516" stop-color="#f1b160"/><stop offset=".4585" stop-color="#f9e026"/><stop offset=".4622" stop-color="#fffe02"/><stop offset=".4633" stop-color="#ffff09"/><stop offset=".4718" stop-color="#ffff63"/><stop offset=".4819" stop-color="#ffffe0"/><stop offset=".484" stop-color="#fffffc"/><stop offset=".4856" stop-color="#fff"/><stop offset=".7282" stop-color="#fffffd"/><stop offset=".7436" stop-color="#ffff98"/><stop offset=".759" stop-color="#ffff42"/><stop offset=".7729" stop-color="#ffff02"/><stop offset=".7739" stop-color="#fffc03"/><stop offset=".7899" stop-color="#f5c844"/><stop offset=".8074" stop-color="#ed9b7b"/><stop offset=".8271" stop-color="#e676a8"/><stop offset=".85" stop-color="#e159cb"/><stop offset=".8782" stop-color="#dd44e5"/><stop offset=".9122" stop-color="#db37f5"/><stop offset=".9128" stop-color="#d92fff"/><stop offset="1" stop-color="#d92fff"/></linearGradient>
<linearGradient id="h80" gradientUnits="userSpaceOnUse" x1="0" y1="0" x2="0" y2="4.7" spreadMethod="reflect"><stop offset="0" stop-color="#e88299"/><stop offset=".0059" stop-color="#e98892"/><stop offset=".0122" stop-color="#ed9b7a"/><stop offset=".0186" stop-color="#f2bb54"/><stop offset=".0255" stop-color="#fbe91b"/><stop offset=".0282" stop-color="#fffe01"/><stop offset=".0351" stop-color="#ffff45"/><stop offset=".0468" stop-color="#ffffcb"/><stop offset=".0511" stop-color="#fffffe"/><stop offset=".1516" stop-color="#fff"/><stop offset=".1527" stop-color="#fffff6"/><stop offset=".1665" stop-color="#ffff56"/><stop offset=".1745" stop-color="#ffff04"/><stop offset=".175" stop-color="#fffe01"/><stop offset=".1824" stop-color="#f5c844"/><stop offset=".1888" stop-color="#eea470"/><stop offset=".1952" stop-color="#ea8c8d"/><stop offset=".2016" stop-color="#e8819b"/><stop offset=".2074" stop-color="#e8829a"/><stop offset=".2138" stop-color="#eb9089"/><stop offset=".2202" stop-color="#efaa68"/><stop offset=".2271" stop-color="#f7d434"/><stop offset=".2324" stop-color="#fffd03"/><stop offset=".233" stop-color="#ffff03"/><stop offset=".2415" stop-color="#ffff5b"/><stop offset=".2532" stop-color="#ffffe7"/><stop offset=".2548" stop-color="#fffffb"/><stop offset=".2559" stop-color="#fff"/><stop offset=".3745" stop-color="#fff"/><stop offset=".3888" stop-color="#ffff59"/><stop offset=".3973" stop-color="#ffff04"/><stop offset=".3979" stop-color="#fffe01"/><stop offset=".4053" stop-color="#f5c745"/><stop offset=".4122" stop-color="#eea075"/><stop offset=".4191" stop-color="#e98496"/><stop offset=".4255" stop-color="#e677a7"/><stop offset=".4319" stop-color="#e675a9"/><stop offset=".4383" stop-color="#e87f9d"/><stop offset=".4447" stop-color="#ec9583"/><stop offset=".4516" stop-color="#f2b857"/><stop offset=".4585" stop-color="#fbe81c"/><stop offset=".4612" stop-color="#fffe01"/><stop offset=".4633" stop-color="#ffff13"/><stop offset=".4718" stop-color="#ffff70"/><stop offset=".4814" stop-color="#ffffe9"/><stop offset=".483" stop-color="#fffffe"/><stop offset=".7303" stop-color="#fffffe"/><stop offset=".7457" stop-color="#ffff97"/><stop offset=".7612" stop-color="#ffff41"/><stop offset=".775" stop-color="#ff0"/><stop offset=".7931" stop-color="#f4c449"/><stop offset=".8106" stop-color="#ec987f"/><stop offset=".8303" stop-color="#e674ab"/><stop offset=".8532" stop-color="#e058cd"/><stop offset=".8819" stop-color="#dd43e7"/><stop offset=".9138" stop-color="#db37f5"/><stop offset=".9144" stop-color="#d92fff"/><stop offset="1" stop-color="#d92fff"/></linearGradient>
<linearGradient id="h81" gradientUnits="userSpaceOnUse" x1="0" y1="0" x2="0" y2="4.7" spreadMethod="reflect"><stop offset="0" stop-color="#ea8a90"/><stop offset=".0059" stop-color="#eb9089"/><stop offset=".0117" stop-color="#eea174"/><stop offset=".0181" stop-color="#f3c04e"/><stop offset=".025" stop-color="#fcee14"/><stop offset=".0271" stop-color="#ff0"/><stop offset=".0356" stop-color="#ffff56"/><stop offset=".0479" stop-color="#ffffe6"/><stop offset=".05" stop-color="#fff"/><stop offset=".1532" stop-color="#fffffe"/><stop offset=".1665" stop-color="#ffff62"/><stop offset=".175" stop-color="#ffff0a"/><stop offset=".1761" stop-color="#ff0"/><stop offset=".1835" stop-color="#f5c942"/><stop offset=".1899" stop-color="#efa76c"/><stop offset=".1963" stop-color="#eb9088"/><stop offset=".2021" stop-color="#e98793"/><stop offset=".208" stop-color="#ea8a90"/><stop offset=".2138" stop-color="#ec977f"/><stop offset=".2202" stop-color="#f1b25e"/><stop offset=".2266" stop-color="#f8d92e"/><stop offset=".2314" stop-color="#fffe02"/><stop offset=".2324" stop-color="#ffff08"/><stop offset=".241" stop-color="#ffff61"/><stop offset=".2521" stop-color="#ffffe9"/><stop offset=".2537" stop-color="#fffffd"/><stop offset=".3755" stop-color="#fff"/><stop offset=".3766" stop-color="#fffff5"/><stop offset=".3888" stop-color="#ffff65"/><stop offset=".3979" stop-color="#ffff09"/><stop offset=".3989" stop-color="#fffe01"/><stop offset=".4064" stop-color="#f5c843"/><stop offset=".4133" stop-color="#eea272"/><stop offset=".4197" stop-color="#ea8990"/><stop offset=".4261" stop-color="#e77da0"/><stop offset=".4324" stop-color="#e77ca1"/><stop offset=".4388" stop-color="#e98793"/><stop offset=".4452" stop-color="#ed9e77"/><stop offset=".4521" stop-color="#f4c449"/><stop offset=".459" stop-color="#fdf60b"/><stop offset=".4601" stop-color="#fffe01"/><stop offset=".4665" stop-color="#ffff40"/><stop offset=".475" stop-color="#ffffa5"/><stop offset=".4819" stop-color="#fff"/><stop offset=".7324" stop-color="#fffffe"/><stop offset=".7473" stop-color="#ffff9a"/><stop offset=".7622" stop-color="#ffff46"/><stop offset=".7766" stop-color="#ffff02"/><stop offset=".7777" stop-color="#fffc03"/><stop offset=".7936" stop-color="#f5c744"/><stop offset=".8112" stop-color="#ed9a7c"/><stop offset=".8309" stop-color="#e675a9"/><stop offset=".8537" stop-color="#e159cc"/><stop offset=".8819" stop-color="#dd44e6"/><stop offset=".9149" stop-color="#db37f5"/><stop offset=".9154" stop-color="#d92fff"/><stop offset="1" stop-color="#d92fff"/></linearGradient>
<linearGradient id="h82" gradientUnits="userSpaceOnUse" x1="0" y1="0" x2="0" y2="4.7" spreadMethod="reflect"><stop offset="0" stop-color="#eb9286"/><stop offset=".0059" stop-color="#ec987f"/><stop offset=".0117" stop-color="#efa969"/><stop offset=".0181" stop-color="#f5c943"/><stop offset=".025" stop-color="#fef809"/><stop offset=".0261" stop-color="#ffff02"/><stop offset=".034" stop-color="#ffff51"/><stop offset=".0447" stop-color="#ffffcd"/><stop offset=".0484" stop-color="#fffffb"/><stop offset=".0495" stop-color="#fff"/><stop offset=".1543" stop-color="#fff"/><stop offset=".1681" stop-color="#ffff5c"/><stop offset=".1766" stop-color="#ffff06"/><stop offset=".1771" stop-color="#ffff01"/><stop offset=".1793" stop-color="#fcf013"/><stop offset=".1862" stop-color="#f4c24b"/><stop offset=".1926" stop-color="#eea470"/><stop offset=".1984" stop-color="#eb9484"/><stop offset=".2043" stop-color="#ea8f8a"/><stop offset=".2101" stop-color="#ec9582"/><stop offset=".216" stop-color="#efa76c"/><stop offset=".2223" stop-color="#f5c745"/><stop offset=".2293" stop-color="#fdf60b"/><stop offset=".2303" stop-color="#ff0"/><stop offset=".2372" stop-color="#ffff45"/><stop offset=".2468" stop-color="#ffffb5"/><stop offset=".2527" stop-color="#fff"/><stop offset=".3771" stop-color="#fffffe"/><stop offset=".3888" stop-color="#ffff72"/><stop offset=".3979" stop-color="#ffff14"/><stop offset=".4" stop-color="#ff0"/><stop offset=".4074" stop-color="#f5ca41"/><stop offset=".4144" stop-color="#eea46f"/><stop offset=".4207" stop-color="#ea8e8b"/><stop offset=".4271" stop-color="#e88399"/><stop offset=".4335" stop-color="#e88497"/><stop offset=".4399" stop-color="#eb9187"/><stop offset=".4463" stop-color="#f0ab67"/><stop offset=".4532" stop-color="#f7d336"/><stop offset=".459" stop-color="#ffff01"/><stop offset=".467" stop-color="#ffff53"/><stop offset=".4755" stop-color="#ffb"/><stop offset=".4803" stop-color="#fffffb"/><stop offset=".4814" stop-color="#fff"/><stop offset=".7346" stop-color="#fff"/><stop offset=".7495" stop-color="#ffff9a"/><stop offset=".7644" stop-color="#ffff45"/><stop offset=".7787" stop-color="#ffff01"/><stop offset=".7968" stop-color="#f4c349"/><stop offset=".8144" stop-color="#ec9780"/><stop offset=".834" stop-color="#e573ac"/><stop offset=".8569" stop-color="#e057ce"/><stop offset=".8856" stop-color="#dd43e7"/><stop offset=".9165" stop-color="#db37f5"/><stop offset=".917" stop-color="#d92fff"/><stop offset="1" stop-color="#d92fff"/></linearGradient>
<linearGradient id="h83" gradientUnits="userSpaceOnUse" x1="0" y1="0" x2="0" y2="4.7" spreadMethod="reflect"><stop offset="0" stop-color="#ed9a7b"/><stop offset=".0059" stop-color="#eea074"/><stop offset=".0117" stop-color="#f1b25e"/><stop offset=".0181" stop-color="#f7d237"/><stop offset=".0245" stop-color="#fffe01"/><stop offset=".0266" stop-color="#ffff12"/><stop offset=".0346" stop-color="#ffff64"/><stop offset=".0457" stop-color="#ffffe9"/><stop offset=".0473" stop-color="#fffffd"/><stop offset=".1553" stop-color="#fff"/><stop offset=".1564" stop-color="#fffff5"/><stop offset=".1681" stop-color="#ffff69"/><stop offset=".1766" stop-color="#ffff12"/><stop offset=".1782" stop-color="#ffff03"/><stop offset=".1787" stop-color="#fffe02"/><stop offset=".1856" stop-color="#f6ce3c"/><stop offset=".192" stop-color="#f0af62"/><stop offset=".1979" stop-color="#ed9d78"/><stop offset=".2037" stop-color="#ec977f"/><stop offset=".2096" stop-color="#ed9d79"/><stop offset=".2154" stop-color="#f0ae64"/><stop offset=".2218" stop-color="#f6cd3d"/><stop offset=".2282" stop-color="#fef808"/><stop offset=".2293" stop-color="#ffff02"/><stop offset=".2367" stop-color="#ffff4c"/><stop offset=".2457" stop-color="#ffffb6"/><stop offset=".2516" stop-color="#fff"/><stop offset=".3782" stop-color="#fff"/><stop offset=".391" stop-color="#ffff67"/><stop offset=".3995" stop-color="#ffff10"/><stop offset=".4011" stop-color="#ffff02"/><stop offset=".4021" stop-color="#fef809"/><stop offset=".409" stop-color="#f5c943"/><stop offset=".416" stop-color="#efa66e"/><stop offset=".4223" stop-color="#eb9187"/><stop offset=".4287" stop-color="#e98990"/><stop offset=".4351" stop-color="#ea8e8b"/><stop offset=".4415" stop-color="#ed9e76"/><stop offset=".4479" stop-color="#f3bc53"/><stop offset=".4548" stop-color="#fbe81c"/><stop offset=".4574" stop-color="#fffd03"/><stop offset=".458" stop-color="#ffff02"/><stop offset=".4654" stop-color="#ffff4e"/><stop offset=".4739" stop-color="#ffffb6"/><stop offset=".4793" stop-color="#fffffe"/><stop offset=".7367" stop-color="#fff"/><stop offset=".7511" stop-color="#ffff9d"/><stop offset=".766" stop-color="#ffff47"/><stop offset=".7803" stop-color="#ffff02"/><stop offset=".7814" stop-color="#fffd03"/><stop offset=".7973" stop-color="#f5c745"/><stop offset=".8144" stop-color="#ed9b7b"/><stop offset=".8335" stop-color="#e676a7"/><stop offset=".8559" stop-color="#e15acb"/><stop offset=".8835" stop-color="#dd45e5"/><stop offset=".9181" stop-color="#db37f5"/><stop offset=".9186" stop-color="#d92fff"/><stop offset="1" stop-color="#d92fff"/></linearGradient>
<linearGradient id="h84" gradientUnits="userSpaceOnUse" x1="0" y1="0" x2="0" y2="4.7" spreadMethod="reflect"><stop offset="0" stop-color="#eea470"/><stop offset=".0059" stop-color="#efaa68"/><stop offset=".0117" stop-color="#f3bc52"/><stop offset=".0181" stop-color="#f9dc2b"/><stop offset=".0229" stop-color="#fffd03"/><stop offset=".0234" stop-color="#ffff02"/><stop offset=".0309" stop-color="#ffff49"/><stop offset=".0399" stop-color="#ffffb0"/><stop offset=".0463" stop-color="#fff"/><stop offset=".1569" stop-color="#fffffe"/><stop offset=".1681" stop-color="#ff7"/><stop offset=".1761" stop-color="#ffff23"/><stop offset=".1798" stop-color="#ffff01"/><stop offset=".1878" stop-color="#f6cc3e"/><stop offset=".1941" stop-color="#f1b060"/><stop offset=".2" stop-color="#eea371"/><stop offset=".2059" stop-color="#eea173"/><stop offset=".2117" stop-color="#f0ab67"/><stop offset=".2176" stop-color="#f4c04d"/><stop offset=".2239" stop-color="#fae421"/><stop offset=".2277" stop-color="#ff0"/><stop offset=".2346" stop-color="#ffff42"/><stop offset=".2431" stop-color="#ffffa4"/><stop offset=".25" stop-color="#fffffc"/><stop offset=".2516" stop-color="#fff"/><stop offset=".3793" stop-color="#fff"/><stop offset=".3798" stop-color="#fffffc"/><stop offset=".3904" stop-color="#ffff7b"/><stop offset=".3989" stop-color="#ffff21"/><stop offset=".4021" stop-color="#ffff04"/><stop offset=".4027" stop-color="#fffe01"/><stop offset=".4096" stop-color="#f6cf3b"/><stop offset=".416" stop-color="#f0ae63"/><stop offset=".4223" stop-color="#ec997c"/><stop offset=".4287" stop-color="#eb9187"/><stop offset=".4351" stop-color="#ec9681"/><stop offset=".4415" stop-color="#efa76c"/><stop offset=".4479" stop-color="#f4c547"/><stop offset=".4543" stop-color="#fcee14"/><stop offset=".4564" stop-color="#ff0"/><stop offset=".4628" stop-color="#ffff3f"/><stop offset=".4707" stop-color="#ffff9c"/><stop offset=".4782" stop-color="#fff"/><stop offset=".7388" stop-color="#fff"/><stop offset=".7537" stop-color="#ff9"/><stop offset=".7686" stop-color="#ffff43"/><stop offset=".7824" stop-color="#ffff01"/><stop offset=".8011" stop-color="#f4c14c"/><stop offset=".8186" stop-color="#ec9582"/><stop offset=".8383" stop-color="#e572ad"/><stop offset=".8612" stop-color="#e056cf"/><stop offset=".8899" stop-color="#dc42e8"/><stop offset=".9197" stop-color="#db37f5"/><stop offset=".9202" stop-color="#d92fff"/><stop offset="1" stop-color="#d92fff"/></linearGradient>
<linearGradient id="h85" gradientUnits="userSpaceOnUse" x1="0" y1="0" x2="0" y2="4.7" spreadMethod="reflect"><stop offset="0" stop-color="#f0ae63"/><stop offset=".0059" stop-color="#f1b45c"/><stop offset=".0117" stop-color="#f5c646"/><stop offset=".0176" stop-color="#fae421"/><stop offset=".0218" stop-color="#ffff01"/><stop offset=".0293" stop-color="#ffff46"/><stop offset=".0378" stop-color="#ffffa5"/><stop offset=".0447" stop-color="#fffffb"/><stop offset=".0452" stop-color="#fff"/><stop offset=".158" stop-color="#fff"/><stop offset=".1697" stop-color="#ffff73"/><stop offset=".1777" stop-color="#ffff21"/><stop offset=".1814" stop-color="#ff0"/><stop offset=".1883" stop-color="#f7d435"/><stop offset=".1941" stop-color="#f2ba54"/><stop offset=".2" stop-color="#f0ad65"/><stop offset=".2059" stop-color="#f0ab67"/><stop offset=".2117" stop-color="#f1b55b"/><stop offset=".2176" stop-color="#f5cb40"/><stop offset=".2239" stop-color="#fcef13"/><stop offset=".2261" stop-color="#fffe01"/><stop offset=".2293" stop-color="#ffff1b"/><stop offset=".2367" stop-color="#ffff67"/><stop offset=".2457" stop-color="#ffffd5"/><stop offset=".2489" stop-color="#fff"/><stop offset=".3809" stop-color="#fff"/><stop offset=".3915" stop-color="#ffff7d"/><stop offset=".3995" stop-color="#ffff28"/><stop offset=".4037" stop-color="#ffff02"/><stop offset=".4048" stop-color="#fef908"/><stop offset=".4117" stop-color="#f6cc3e"/><stop offset=".4181" stop-color="#f0af62"/><stop offset=".4245" stop-color="#ed9e77"/><stop offset=".4309" stop-color="#ed9a7c"/><stop offset=".4372" stop-color="#eea371"/><stop offset=".4436" stop-color="#f2b956"/><stop offset=".45" stop-color="#f9dc2b"/><stop offset=".4548" stop-color="#fffd02"/><stop offset=".4553" stop-color="#ffff03"/><stop offset=".4628" stop-color="#ffff4d"/><stop offset=".4707" stop-color="#ffffac"/><stop offset=".4766" stop-color="#fffffc"/><stop offset=".4777" stop-color="#fff"/><stop offset=".741" stop-color="#fff"/><stop offset=".7564" stop-color="#ffff95"/><stop offset=".7707" stop-color="#ffff42"/><stop offset=".7846" stop-color="#ff0"/><stop offset=".8" stop-color="#f5ca41"/><stop offset=".817" stop-color="#ed9d79"/><stop offset=".8362" stop-color="#e678a6"/><stop offset=".8585" stop-color="#e15aca"/><stop offset=".8862" stop-color="#dd45e4"/><stop offset=".9213" stop-color="#db37f5"/><stop offset=".9218" stop-color="#d92fff"/><stop offset="1" stop-color="#d92fff"/></linearGradient>
<linearGradient id="h86" gradientUnits="userSpaceOnUse" x1="0" y1="0" x2="0" y2="4.7" spreadMethod="reflect"><stop offset="0" stop-color="#f2b956"/><stop offset=".0059" stop-color="#f3bf4f"/><stop offset=".0117" stop-color="#f7d138"/><stop offset=".0176" stop-color="#fcef13"/><stop offset=".0197" stop-color="#fffd03"/><stop offset=".0202" stop-color="#ffff02"/><stop offset=".0271" stop-color="#ffff3f"/><stop offset=".0351" stop-color="#ffff95"/><stop offset=".0436" stop-color="#fffffe"/><stop offset=".159" stop-color="#fff"/><stop offset=".1601" stop-color="#fffff5"/><stop offset=".1702" stop-color="#ffff7b"/><stop offset=".1782" stop-color="#ffff29"/><stop offset=".183" stop-color="#ffff01"/><stop offset=".1899" stop-color="#f8d731"/><stop offset=".1957" stop-color="#f4c04d"/><stop offset=".2016" stop-color="#f2b65a"/><stop offset=".2074" stop-color="#f2b758"/><stop offset=".2133" stop-color="#f4c548"/><stop offset=".2191" stop-color="#f9de29"/><stop offset=".2245" stop-color="#ffff01"/><stop offset=".2303" stop-color="#ff3"/><stop offset=".2378" stop-color="#ffff82"/><stop offset=".2468" stop-color="#fffff3"/><stop offset=".2479" stop-color="#fff"/><stop offset=".3819" stop-color="#fff"/><stop offset=".383" stop-color="#fffff4"/><stop offset=".3926" stop-color="#ffff7f"/><stop offset=".4005" stop-color="#ffff2b"/><stop offset=".4053" stop-color="#ffff01"/><stop offset=".4133" stop-color="#f6ce3c"/><stop offset=".4197" stop-color="#f1b35d"/><stop offset=".4261" stop-color="#efa66e"/><stop offset=".4319" stop-color="#eea46f"/><stop offset=".4378" stop-color="#f0ae63"/><stop offset=".4441" stop-color="#f5c646"/><stop offset=".4505" stop-color="#fbea1a"/><stop offset=".4532" stop-color="#fffd03"/><stop offset=".4537" stop-color="#ffff02"/><stop offset=".4606" stop-color="#ff4"/><stop offset=".4681" stop-color="#ffff9b"/><stop offset=".4755" stop-color="#fff"/><stop offset=".7431" stop-color="#fff"/><stop offset=".7585" stop-color="#ffff95"/><stop offset=".7729" stop-color="#ffff41"/><stop offset=".7862" stop-color="#ffff01"/><stop offset=".7888" stop-color="#fdf60b"/><stop offset=".8043" stop-color="#f4c34a"/><stop offset=".8213" stop-color="#ec977f"/><stop offset=".8404" stop-color="#e674ab"/><stop offset=".8633" stop-color="#e057ce"/><stop offset=".8915" stop-color="#dd43e7"/><stop offset=".9229" stop-color="#db37f5"/><stop offset=".9234" stop-color="#d92fff"/><stop offset="1" stop-color="#d92fff"/></linearGradient>
<linearGradient id="h87" gradientUnits="userSpaceOnUse" x1="0" y1="0" x2="0" y2="4.7" spreadMethod="reflect"><stop offset="0" stop-color="#f4c548"/><stop offset=".0059" stop-color="#f5cb40"/><stop offset=".0117" stop-color="#f9dd29"/><stop offset=".0176" stop-color="#fefc04"/><stop offset=".0181" stop-color="#ff0"/><stop offset=".0245" stop-color="#ffff34"/><stop offset=".0319" stop-color="#ffff80"/><stop offset=".0426" stop-color="#fff"/><stop offset=".1606" stop-color="#fff"/><stop offset=".1707" stop-color="#ffff85"/><stop offset=".1782" stop-color="#ffff38"/><stop offset=".1846" stop-color="#ffff02"/><stop offset=".1851" stop-color="#fffe02"/><stop offset=".1915" stop-color="#f8db2c"/><stop offset=".1973" stop-color="#f5c844"/><stop offset=".2032" stop-color="#f4c04d"/><stop offset=".209" stop-color="#f4c547"/><stop offset=".2149" stop-color="#f8d632"/><stop offset=".2207" stop-color="#fdf30f"/><stop offset=".2229" stop-color="#ffff01"/><stop offset=".2298" stop-color="#ffff3c"/><stop offset=".2372" stop-color="#ffff8c"/><stop offset=".2463" stop-color="#fffffe"/><stop offset=".3835" stop-color="#fffffe"/><stop offset=".3931" stop-color="#ff8"/><stop offset=".4011" stop-color="#ffff34"/><stop offset=".4069" stop-color="#ffff01"/><stop offset=".4149" stop-color="#f7d138"/><stop offset=".4213" stop-color="#f2b956"/><stop offset=".4271" stop-color="#f0af62"/><stop offset=".433" stop-color="#f1b061"/><stop offset=".4388" stop-color="#f3bc52"/><stop offset=".4447" stop-color="#f7d435"/><stop offset=".4511" stop-color="#fefa07"/><stop offset=".4516" stop-color="#fffd02"/><stop offset=".4521" stop-color="#ffff02"/><stop offset=".459" stop-color="#ffff43"/><stop offset=".4665" stop-color="#ffff98"/><stop offset=".4739" stop-color="#fffffb"/><stop offset=".475" stop-color="#fff"/><stop offset=".7452" stop-color="#fff"/><stop offset=".7612" stop-color="#ffff91"/><stop offset=".7755" stop-color="#ffff3e"/><stop offset=".7883" stop-color="#ff0"/><stop offset=".8048" stop-color="#f5c745"/><stop offset=".8218" stop-color="#ed9a7c"/><stop offset=".841" stop-color="#e676a8"/><stop offset=".8633" stop-color="#e159cb"/><stop offset=".891" stop-color="#dd44e5"/><stop offset=".9245" stop-color="#db37f5"/><stop offset=".925" stop-color="#d92fff"/><stop offset="1" stop-color="#d92fff"/></linearGradient>
<linearGradient id="h88" gradientUnits="userSpaceOnUse" x1="0" y1="0" x2="0" y2="4.7" spreadMethod="reflect"><stop offset="0" stop-color="#f7d138"/><stop offset=".0059" stop-color="#f8d730"/><stop offset=".0117" stop-color="#fbea19"/><stop offset=".016" stop-color="#ff0"/><stop offset=".0223" stop-color="#ffff30"/><stop offset=".0298" stop-color="#ffff78"/><stop offset=".0383" stop-color="#ffffdc"/><stop offset=".041" stop-color="#fffffd"/><stop offset=".1617" stop-color="#fff"/><stop offset=".1628" stop-color="#fffff5"/><stop offset=".1718" stop-color="#ffff89"/><stop offset=".1793" stop-color="#ffff3d"/><stop offset=".1862" stop-color="#ffff05"/><stop offset=".1872" stop-color="#fffe02"/><stop offset=".1931" stop-color="#fae124"/><stop offset=".1989" stop-color="#f7d139"/><stop offset=".2048" stop-color="#f6cd3e"/><stop offset=".2106" stop-color="#f7d533"/><stop offset=".2165" stop-color="#fbea1a"/><stop offset=".2207" stop-color="#ffff01"/><stop offset=".2271" stop-color="#ff3"/><stop offset=".234" stop-color="#ffff78"/><stop offset=".242" stop-color="#ffffd8"/><stop offset=".2452" stop-color="#fff"/><stop offset=".3846" stop-color="#fff"/><stop offset=".3856" stop-color="#fffff4"/><stop offset=".3947" stop-color="#ffff86"/><stop offset=".4021" stop-color="#ffff39"/><stop offset=".4085" stop-color="#ffff03"/><stop offset=".409" stop-color="#fffe02"/><stop offset=".4154" stop-color="#f8da2d"/><stop offset=".4218" stop-color="#f4c349"/><stop offset=".4277" stop-color="#f2ba55"/><stop offset=".4335" stop-color="#f3bc52"/><stop offset=".4394" stop-color="#f5c942"/><stop offset=".4452" stop-color="#fae223"/><stop offset=".45" stop-color="#ff0"/><stop offset=".4569" stop-color="#ffff3d"/><stop offset=".4638" stop-color="#ff8"/><stop offset=".4713" stop-color="#ffffe9"/><stop offset=".4729" stop-color="#fff"/><stop offset=".7473" stop-color="#fff"/><stop offset=".7638" stop-color="#ffff8d"/><stop offset=".7782" stop-color="#ffff3a"/><stop offset=".7904" stop-color="#ffff01"/><stop offset=".8059" stop-color="#f5c942"/><stop offset=".8223" stop-color="#ed9d78"/><stop offset=".841" stop-color="#e678a5"/><stop offset=".8628" stop-color="#e15bc9"/><stop offset=".8899" stop-color="#dd46e3"/><stop offset=".9261" stop-color="#db37f5"/><stop offset=".9266" stop-color="#d92fff"/><stop offset="1" stop-color="#d92fff"/></linearGradient>
<linearGradient id="h89" gradientUnits="userSpaceOnUse" x1="0" y1="0" x2="0" y2="4.7" spreadMethod="reflect"><stop offset="0" stop-color="#f9df28"/><stop offset=".0059" stop-color="#fae520"/><stop offset=".0117" stop-color="#fef809"/><stop offset=".0133" stop-color="#ff0"/><stop offset=".0197" stop-color="#ffff2b"/><stop offset=".0266" stop-color="#ffff68"/><stop offset=".0346" stop-color="#ffffc0"/><stop offset=".0399" stop-color="#fff"/><stop offset=".1633" stop-color="#fff"/><stop offset=".1729" stop-color="#ffff8e"/><stop offset=".1803" stop-color="#ffff43"/><stop offset=".1867" stop-color="#ff1"/><stop offset=".1894" stop-color="#ffff01"/><stop offset=".1963" stop-color="#fae421"/><stop offset=".2021" stop-color="#f8da2d"/><stop offset=".208" stop-color="#f9dd2a"/><stop offset=".2138" stop-color="#fcec17"/><stop offset=".2181" stop-color="#ff0"/><stop offset=".2245" stop-color="#ffff2d"/><stop offset=".2314" stop-color="#ffff6d"/><stop offset=".2388" stop-color="#ffffc2"/><stop offset=".2436" stop-color="#fff"/><stop offset=".3862" stop-color="#fff"/><stop offset=".3952" stop-color="#ffff91"/><stop offset=".4027" stop-color="#ffff43"/><stop offset=".4096" stop-color="#ffff09"/><stop offset=".4106" stop-color="#ffff02"/><stop offset=".4117" stop-color="#fefa06"/><stop offset=".4181" stop-color="#f8db2c"/><stop offset=".4239" stop-color="#f5cb40"/><stop offset=".4298" stop-color="#f4c547"/><stop offset=".4356" stop-color="#f6cc3f"/><stop offset=".4415" stop-color="#f9de29"/><stop offset=".4473" stop-color="#fefc04"/><stop offset=".4479" stop-color="#ff0"/><stop offset=".4537" stop-color="#ffff2f"/><stop offset=".4606" stop-color="#ffff75"/><stop offset=".4681" stop-color="#ffffd1"/><stop offset=".4713" stop-color="#fffffd"/><stop offset=".4755" stop-color="#fff"/><stop offset=".7495" stop-color="#fff"/><stop offset=".766" stop-color="#ffff8d"/><stop offset=".7803" stop-color="#ffff3a"/><stop offset=".792" stop-color="#ffff01"/><stop offset=".8106" stop-color="#f4c04d"/><stop offset=".8277" stop-color="#ec9582"/><stop offset=".8468" stop-color="#e572ad"/><stop offset=".8697" stop-color="#e056cf"/><stop offset=".8984" stop-color="#dc42e8"/><stop offset=".9277" stop-color="#db37f5"/><stop offset=".9282" stop-color="#d92fff"/><stop offset="1" stop-color="#d92fff"/></linearGradient>
<linearGradient id="h90" gradientUnits="userSpaceOnUse" x1="0" y1="0" x2="0" y2="4.7" spreadMethod="reflect"><stop offset="0" stop-color="#fced16"/><stop offset=".0059" stop-color="#fdf40e"/><stop offset=".0096" stop-color="#fffe01"/><stop offset=".0144" stop-color="#ffff17"/><stop offset=".0207" stop-color="#ff4"/><stop offset=".0277" stop-color="#ffff84"/><stop offset=".0356" stop-color="#ffffdf"/><stop offset=".0383" stop-color="#fff"/><stop offset=".1649" stop-color="#fffffe"/><stop offset=".1734" stop-color="#ff9"/><stop offset=".1809" stop-color="#ffff50"/><stop offset=".1872" stop-color="#ffff1e"/><stop offset=".1926" stop-color="#ff0"/><stop offset=".1989" stop-color="#fced17"/><stop offset=".2048" stop-color="#fbe81c"/><stop offset=".2106" stop-color="#fcf111"/><stop offset=".2149" stop-color="#ff0"/><stop offset=".2213" stop-color="#ffff26"/><stop offset=".2277" stop-color="#ffff5a"/><stop offset=".2346" stop-color="#ffffa2"/><stop offset=".242" stop-color="#fffffd"/><stop offset=".2649" stop-color="#fff"/><stop offset=".3878" stop-color="#fffffd"/><stop offset=".3963" stop-color="#ffff96"/><stop offset=".4037" stop-color="#ffff4a"/><stop offset=".4106" stop-color="#ff1"/><stop offset=".4133" stop-color="#ff0"/><stop offset=".4191" stop-color="#fae520"/><stop offset=".425" stop-color="#f7d632"/><stop offset=".4309" stop-color="#f7d336"/><stop offset=".4367" stop-color="#f9dc2b"/><stop offset=".4426" stop-color="#fcf012"/><stop offset=".4452" stop-color="#fffe02"/><stop offset=".4463" stop-color="#ffff05"/><stop offset=".4527" stop-color="#ffff36"/><stop offset=".4596" stop-color="#ffff7b"/><stop offset=".4665" stop-color="#ffffd0"/><stop offset=".4697" stop-color="#fffffb"/><stop offset=".4702" stop-color="#fff"/><stop offset=".7521" stop-color="#fffffd"/><stop offset=".7654" stop-color="#ffff9e"/><stop offset=".7793" stop-color="#ffff4a"/><stop offset=".7941" stop-color="#ff0"/><stop offset=".8106" stop-color="#f5c646"/><stop offset=".8271" stop-color="#ed9a7b"/><stop offset=".8457" stop-color="#e677a7"/><stop offset=".8676" stop-color="#e15aca"/><stop offset=".8952" stop-color="#dd45e5"/><stop offset=".9293" stop-color="#db37f5"/><stop offset=".9298" stop-color="#d92fff"/><stop offset="1" stop-color="#d92fff"/></linearGradient>
<linearGradient id="h91" gradientUnits="userSpaceOnUse" x1="0" y1="0" x2="0" y2="4.7" spreadMethod="reflect"><stop offset="0" stop-color="#fffd02"/><stop offset=".0043" stop-color="#ffff02"/><stop offset=".0101" stop-color="#ffff13"/><stop offset=".0165" stop-color="#ffff36"/><stop offset=".0229" stop-color="#ffff69"/><stop offset=".0303" stop-color="#ffffb3"/><stop offset=".0367" stop-color="#fff"/><stop offset=".166" stop-color="#fff"/><stop offset=".1665" stop-color="#fffffd"/><stop offset=".1745" stop-color="#ffffa0"/><stop offset=".1814" stop-color="#ffff5d"/><stop offset=".1878" stop-color="#ffff2d"/><stop offset=".1941" stop-color="#ffff0b"/><stop offset=".1979" stop-color="#fffe01"/><stop offset=".2037" stop-color="#fef809"/><stop offset=".2101" stop-color="#ff0"/><stop offset=".216" stop-color="#ffff17"/><stop offset=".2223" stop-color="#ffff3f"/><stop offset=".2287" stop-color="#ff7"/><stop offset=".2356" stop-color="#ffffc1"/><stop offset=".2404" stop-color="#fffffc"/><stop offset=".242" stop-color="#fff"/><stop offset=".3888" stop-color="#fff"/><stop offset=".3899" stop-color="#fffff5"/><stop offset=".3979" stop-color="#ffff96"/><stop offset=".4053" stop-color="#ffff4c"/><stop offset=".4122" stop-color="#ffff17"/><stop offset=".416" stop-color="#ffff01"/><stop offset=".4234" stop-color="#fbe71d"/><stop offset=".4293" stop-color="#f9e125"/><stop offset=".4351" stop-color="#fae61e"/><stop offset=".441" stop-color="#fef808"/><stop offset=".4426" stop-color="#ff0"/><stop offset=".4489" stop-color="#ffff29"/><stop offset=".4553" stop-color="#ffff61"/><stop offset=".4622" stop-color="#ffffae"/><stop offset=".4686" stop-color="#fff"/><stop offset=".7543" stop-color="#fffffe"/><stop offset=".7676" stop-color="#ffff9e"/><stop offset=".7814" stop-color="#ffff4a"/><stop offset=".7957" stop-color="#ffff02"/><stop offset=".7963" stop-color="#ff0"/><stop offset=".8112" stop-color="#f5ca41"/><stop offset=".8277" stop-color="#ed9e77"/><stop offset=".8463" stop-color="#e679a5"/><stop offset=".8681" stop-color="#e15bc9"/><stop offset=".8952" stop-color="#dd46e3"/><stop offset=".9314" stop-color="#db37f5"/><stop offset=".9319" stop-color="#d92fff"/><stop offset="1" stop-color="#d92fff"/></linearGradient>
<linearGradient id="h92" gradientUnits="userSpaceOnUse" x1="0" y1="0" x2="0" y2="4.7" spreadMethod="reflect"><stop offset="0" stop-color="#ff1"/><stop offset=".0059" stop-color="#ffff18"/><stop offset=".0117" stop-color="#ffff2e"/><stop offset=".0181" stop-color="#ff5"/><stop offset=".025" stop-color="#ffff90"/><stop offset=".0324" stop-color="#ffffdf"/><stop offset=".0351" stop-color="#fff"/><stop offset=".1681" stop-color="#fffffd"/><stop offset=".1761" stop-color="#ffffa3"/><stop offset=".183" stop-color="#ffff63"/><stop offset=".1894" stop-color="#ffff36"/><stop offset=".1952" stop-color="#ffff1a"/><stop offset=".2011" stop-color="#ffff0c"/><stop offset=".2069" stop-color="#ffff0d"/><stop offset=".2128" stop-color="#ffff1c"/><stop offset=".2186" stop-color="#ffff39"/><stop offset=".225" stop-color="#ffff68"/><stop offset=".2319" stop-color="#ffffab"/><stop offset=".2388" stop-color="#fffffd"/><stop offset=".2415" stop-color="#fff"/><stop offset=".3904" stop-color="#fff"/><stop offset=".3915" stop-color="#fffff5"/><stop offset=".3995" stop-color="#ffff98"/><stop offset=".4064" stop-color="#ff5"/><stop offset=".4128" stop-color="#ffff25"/><stop offset=".4191" stop-color="#ffff04"/><stop offset=".4202" stop-color="#ff0"/><stop offset=".4261" stop-color="#fdf210"/><stop offset=".4319" stop-color="#fcf111"/><stop offset=".4378" stop-color="#fffd03"/><stop offset=".4388" stop-color="#ffff01"/><stop offset=".4447" stop-color="#ffff1e"/><stop offset=".4511" stop-color="#ffff4d"/><stop offset=".4574" stop-color="#ffff8b"/><stop offset=".4644" stop-color="#ffffde"/><stop offset=".4665" stop-color="#fffffa"/><stop offset=".467" stop-color="#fff"/><stop offset=".7564" stop-color="#fffffe"/><stop offset=".7697" stop-color="#ffff9e"/><stop offset=".7835" stop-color="#ffff4a"/><stop offset=".7979" stop-color="#ffff02"/><stop offset=".7989" stop-color="#fefc03"/><stop offset=".8138" stop-color="#f5c843"/><stop offset=".8303" stop-color="#ed9c79"/><stop offset=".8489" stop-color="#e677a6"/><stop offset=".8707" stop-color="#e15bca"/><stop offset=".8979" stop-color="#dd45e4"/><stop offset=".933" stop-color="#db37f5"/><stop offset=".9335" stop-color="#d92fff"/><stop offset="1" stop-color="#d92fff"/></linearGradient>
<linearGradient id="h93" gradientUnits="userSpaceOnUse" x1="0" y1="0" x2="0" y2="4.7" spreadMethod="reflect"><stop offset="0" stop-color="#ffff25"/><stop offset=".0059" stop-color="#ffff2d"/><stop offset=".0117" stop-color="#ffff42"/><stop offset=".0181" stop-color="#ffff69"/><stop offset=".025" stop-color="#ffffa4"/><stop offset=".0335" stop-color="#fff"/><stop offset=".1697" stop-color="#fffffe"/><stop offset=".1771" stop-color="#ffffac"/><stop offset=".184" stop-color="#ffff6e"/><stop offset=".1904" stop-color="#ff4"/><stop offset=".1963" stop-color="#ffff2a"/><stop offset=".2021" stop-color="#ffff1f"/><stop offset=".208" stop-color="#ffff23"/><stop offset=".2138" stop-color="#ffff35"/><stop offset=".2197" stop-color="#ff5"/><stop offset=".2261" stop-color="#ffff86"/><stop offset=".233" stop-color="#ffc"/><stop offset=".2372" stop-color="#fffffe"/><stop offset=".392" stop-color="#fff"/><stop offset=".3931" stop-color="#fffff6"/><stop offset=".4005" stop-color="#ffffa1"/><stop offset=".4074" stop-color="#ffff60"/><stop offset=".4138" stop-color="#ffff32"/><stop offset=".4202" stop-color="#ffff12"/><stop offset=".4261" stop-color="#ffff04"/><stop offset=".4319" stop-color="#ffff03"/><stop offset=".4378" stop-color="#ffff10"/><stop offset=".4436" stop-color="#ffff2c"/><stop offset=".45" stop-color="#ffff59"/><stop offset=".4564" stop-color="#ffff95"/><stop offset=".4633" stop-color="#ffffe7"/><stop offset=".4649" stop-color="#fffffc"/><stop offset=".4665" stop-color="#fff"/><stop offset=".7585" stop-color="#fff"/><stop offset=".7718" stop-color="#ffff9e"/><stop offset=".7856" stop-color="#ffff49"/><stop offset=".8" stop-color="#ffff01"/><stop offset=".8027" stop-color="#fdf60b"/><stop offset=".8176" stop-color="#f4c34a"/><stop offset=".834" stop-color="#ec987e"/><stop offset=".8527" stop-color="#e675aa"/><stop offset=".875" stop-color="#e158cd"/><stop offset=".9027" stop-color="#dd43e6"/><stop offset=".9346" stop-color="#db37f5"/><stop offset=".9351" stop-color="#d92fff"/><stop offset="1" stop-color="#d92fff"/></linearGradient>
<linearGradient id="h94" gradientUnits="userSpaceOnUse" x1="0" y1="0" x2="0" y2="4.7" spreadMethod="reflect"><stop offset="0" stop-color="#ffff3b"/><stop offset=".0059" stop-color="#ffff42"/><stop offset=".0117" stop-color="#ffff58"/><stop offset=".0181" stop-color="#ffff7f"/><stop offset=".025" stop-color="#ffffba"/><stop offset=".0314" stop-color="#fffffe"/><stop offset=".1713" stop-color="#fff"/><stop offset=".1803" stop-color="#ffffa3"/><stop offset=".1867" stop-color="#ffff70"/><stop offset=".1931" stop-color="#ffff4c"/><stop offset=".1989" stop-color="#ffff39"/><stop offset=".2048" stop-color="#ffff35"/><stop offset=".2106" stop-color="#ffff3f"/><stop offset=".2165" stop-color="#ffff57"/><stop offset=".2229" stop-color="#ffff82"/><stop offset=".2293" stop-color="#ffb"/><stop offset=".2351" stop-color="#fffffb"/><stop offset=".2362" stop-color="#fff"/><stop offset=".3941" stop-color="#fffffe"/><stop offset=".4016" stop-color="#ffffab"/><stop offset=".4085" stop-color="#ffff6c"/><stop offset=".4149" stop-color="#ffff40"/><stop offset=".4213" stop-color="#ffff23"/><stop offset=".4271" stop-color="#ffff17"/><stop offset=".433" stop-color="#ffff19"/><stop offset=".4388" stop-color="#ffff29"/><stop offset=".4447" stop-color="#ffff47"/><stop offset=".4511" stop-color="#ffff78"/><stop offset=".4574" stop-color="#ffffb8"/><stop offset=".4633" stop-color="#fff"/><stop offset=".7606" stop-color="#fff"/><stop offset=".775" stop-color="#ffff97"/><stop offset=".7888" stop-color="#ffff43"/><stop offset=".8021" stop-color="#ffff01"/><stop offset=".8202" stop-color="#f4c14c"/><stop offset=".8367" stop-color="#ec9680"/><stop offset=".8559" stop-color="#e573ac"/><stop offset=".8782" stop-color="#e057ce"/><stop offset=".9064" stop-color="#dd42e7"/><stop offset=".9367" stop-color="#db37f5"/><stop offset=".9372" stop-color="#d92fff"/><stop offset="1" stop-color="#d92fff"/></linearGradient>
<linearGradient id="h95" gradientUnits="userSpaceOnUse" x1="0" y1="0" x2="0" y2="4.7" spreadMethod="reflect"><stop offset="0" stop-color="#ffff52"/><stop offset=".0059" stop-color="#ffff5a"/><stop offset=".0117" stop-color="#ffff6f"/><stop offset=".0181" stop-color="#ffff96"/><stop offset=".025" stop-color="#ffffd1"/><stop offset=".0293" stop-color="#fffffd"/><stop offset=".1734" stop-color="#fff"/><stop offset=".1814" stop-color="#ffffb1"/><stop offset=".1878" stop-color="#ffff80"/><stop offset=".1941" stop-color="#ffff5e"/><stop offset=".2" stop-color="#ffff4e"/><stop offset=".2059" stop-color="#ffff4c"/><stop offset=".2117" stop-color="#ffff59"/><stop offset=".2176" stop-color="#ffff75"/><stop offset=".2239" stop-color="#ffffa2"/><stop offset=".2303" stop-color="#ffffde"/><stop offset=".2335" stop-color="#fff"/><stop offset=".3957" stop-color="#fff"/><stop offset=".3973" stop-color="#ffffef"/><stop offset=".4043" stop-color="#ffffa7"/><stop offset=".4106" stop-color="#ffff71"/><stop offset=".417" stop-color="#ffff4a"/><stop offset=".4229" stop-color="#ffff34"/><stop offset=".4287" stop-color="#ffff2c"/><stop offset=".4346" stop-color="#ffff32"/><stop offset=".4404" stop-color="#ffff46"/><stop offset=".4463" stop-color="#ffff69"/><stop offset=".4527" stop-color="#ffff9e"/><stop offset=".459" stop-color="#ffffe3"/><stop offset=".4612" stop-color="#fffffd"/><stop offset=".7628" stop-color="#fff"/><stop offset=".7782" stop-color="#ffff91"/><stop offset=".792" stop-color="#ffff3e"/><stop offset=".8043" stop-color="#ffff01"/><stop offset=".8218" stop-color="#f4c24a"/><stop offset=".8383" stop-color="#ec977f"/><stop offset=".8569" stop-color="#e674aa"/><stop offset=".8793" stop-color="#e058cd"/><stop offset=".9069" stop-color="#dd43e6"/><stop offset=".9388" stop-color="#db37f5"/><stop offset=".9394" stop-color="#d92fff"/><stop offset="1" stop-color="#d92fff"/></linearGradient>
</defs>
<rect width="1528" height="1794" fill="#fff"/>
<g id="panelA">
<rect x="199" y="36" width="1284" height="459" fill="#d92fff"/>
<g clip-path="url(#cA)" shape-rendering="crispEdges">
<rect x="199" y="-4.7" width="2" height="9.4" transform="matrix(1 0 0 52.127 0 265.5)" fill="url(#h8)"/>
<rect x="201" y="-4.7" width="2" height="9.4" transform="matrix(1 0 0 53.045 0 265.5)" fill="url(#h8)"/>
<rect x="203" y="-4.7" width="2" height="9.4" transform="matrix(1 0 0 53.936 0 265.5)" fill="url(#h7)"/>
<rect x="205" y="-4.7" width="2" height="9.4" transform="matrix(1 0 0 54.8 0 265.5)" fill="url(#h7)"/>
<rect x="207" y="-4.7" width="2" height="9.4" transform="matrix(1 0 0 55.636 0 265.5)" fill="url(#h6)"/>
<rect x="209" y="-4.7" width="2" height="9.4" transform="matrix(1 0 0 56.445 0 265.5)" fill="url(#h6)"/>
<rect x="211" y="-4.7" width="2" height="9.4" transform="matrix(1 0 0 57.225 0 265.5)" fill="url(#h5)"/>
<rect x="213" y="-4.7" width="2" height="9.4" transform="matrix(1 0 0 57.976 0 265.5)" fill="url(#h5)"/>
<rect x="215" y="-4.7" width="2" height="9.4" transform="matrix(1 0 0 58.699 0 265.5)" fill="url(#h4)"/>
<rect x="217" y="-4.7" width="2" height="9.4" transform="matrix(1 0 0 59.392 0 265.5)" fill="url(#h4)"/>
<rect x="219" y="-4.7" width="2" height="9.4" transform="matrix(1 0 0 60.056 0 265.5)" fill="url(#h4)"/>
<rect x="221" y="-4.7" width="2" height="9.4" transform="matrix(1 0 0 60.689 0 265.5)" fill="url(#h3)"/>
<rect x="223" y="-4.7" width="2" height="9.4" transform="matrix(1 0 0 61.293 0 265.5)" fill="url(#h3)"/>
<rect x="225" y="-4.7" width="2" height="9.4" transform="matrix(1 0 0 61.867 0 265.5)" fill="url(#h3)"/>
<rect x="227" y="-4.7" width="2" height="9.4" transform="matrix(1 0 0 62.41 0 265.5)" fill="url(#h2)"/>
<rect x="229" y="-4.7" width="2" height="9.4" transform="matrix(1 0 0 62.922 0 265.5)" fill="url(#h2)"/>
<rect x="231" y="-4.7" width="2" height="9.4" transform="matrix(1 0 0 63.404 0 265.5)" fill="url(#h2)"/>
<rect x="233" y="-4.7" width="2" height="9.4" transform="matrix(1 0 0 63.854 0 265.5)" fill="url(#h2)"/>
<rect x="235" y="-4.7" width="2" height="9.4" transform="matrix(1 0 0 64.274 0 265.5)" fill="url(#h1)"/>
<rect x="237" y="-4.7" width="2" height="9.4" transform="matrix(1 0 0 64.663 0 265.5)" fill="url(#h1)"/>
<rect x="239" y="-4.7" width="2" height="9.4" transform="matrix(1 0 0 65.02 0 265.5)" fill="url(#h1)"/>
<rect x="241" y="-4.7" width="2" height="9.4" transform="matrix(1 0 0 65.346 0 265.5)" fill="url(#h1)"/>
<rect x="243" y="-4.7" width="2" height="9.4" transform="matrix(1 0 0 65.641 0 265.5)" fill="url(#h1)"/>
<rect x="245" y="-4.7" width="2" height="9.4" transform="matrix(1 0 0 65.904 0 265.5)" fill="url(#h0)"/>
<rect x="247" y="-4.7" width="2" height="9.4" transform="matrix(1 0 0 66.136 0 265.5)" fill="url(#h0)"/>
<rect x="249" y="-4.7" width="2" height="9.4" transform="matrix(1 0 0 66.337 0 265.5)" fill="url(#h0)"/>
<rect x="251" y="-4.7" width="2" height="9.4" transform="matrix(1 0 0 66.506 0 265.5)" fill="url(#h0)"/>
<rect x="253" y="-4.7" width="2" height="9.4" transform="matrix(1 0 0 66.644 0 265.5)" fill="url(#h0)"/>
<rect x="255" y="-4.7" width="2" height="9.4" transform="matrix(1 0 0 66.751 0 265.5)" fill="url(#h0)"/>
<rect x="257" y="-4.7" width="2" height="9.4" transform="matrix(1 0 0 66.827 0 265.5)" fill="url(#h0)"/>
<rect x="259" y="-4.7" width="2" height="9.4" transform="matrix(1 0 0 66.871 0 265.5)" fill="url(#h0)"/>
<rect x="261" y="-4.7" width="2" height="9.4" transform="matrix(1 0 0 66.885 0 265.5)" fill="url(#h0)"/>
<rect x="263" y="-4.7" width="2" height="9.4" transform="matrix(1 0 0 66.868 0 265.5)" fill="url(#h0)"/>
<rect x="265" y="-4.7" width="2" height="9.4" transform="matrix(1 0 0 66.82 0 265.5)" fill="url(#h0)"/>
<rect x="267" y="-4.7" width="2" height="9.4" transform="matrix(1 0 0 66.741 0 265.5)" fill="url(#h0)"/>
<rect x="269" y="-4.7" width="2" height="9.4" transform="matrix(1 0 0 66.632 0 265.5)" fill="url(#h0)"/>
<rect x="271" y="-4.7" width="2" height="9.4" transform="matrix(1 0 0 66.493 0 265.5)" fill="url(#h0)"/>
<rect x="273" y="-4.7" width="2" height="9.4" transform="matrix(1 0 0 66.324 0 265.5)" fill="url(#h0)"/>
<rect x="275" y="-4.7" width="2" height="9.4" transform="matrix(1 0 0 66.125 0 265.5)" fill="url(#h0)"/>
<rect x="277" y="-4.7" width="2" height="9.4" transform="matrix(1 0 0 65.896 0 265.5)" fill="url(#h0)"/>
<rect x="279" y="-4.7" width="2" height="9.4" transform="matrix(1 0 0 65.639 0 265.5)" fill="url(#h1)"/>
<rect x="281" y="-4.7" width="2" height="9.4" transform="matrix(1 0 0 65.352 0 265.5)" fill="url(#h1)"/>
<rect x="283" y="-4.7" width="2" height="9.4" transform="matrix(1 0 0 65.036 0 265.5)" fill="url(#h1)"/>
<rect x="285" y="-4.7" width="2" height="9.4" transform="matrix(1 0 0 64.691 0 265.5)" fill="url(#h1)"/>
<rect x="287" y="-4.7" width="2" height="9.4" transform="matrix(1 0 0 64.319 0 265.5)" fill="url(#h1)"/>
<rect x="289" y="-4.7" width="2" height="9.4" transform="matrix(1 0 0 63.918 0 265.5)" fill="url(#h2)"/>
<rect x="291" y="-4.7" width="2" height="9.4" transform="matrix(1 0 0 63.49 0 265.5)" fill="url(#h2)"/>
<rect x="293" y="-4.7" width="2" height="9.4" transform="matrix(1 0 0 63.034 0 265.5)" fill="url(#h2)"/>
<rect x="295" y="-4.7" width="2" height="9.4" transform="matrix(1 0 0 62.552 0 265.5)" fill="url(#h2)"/>
<rect x="297" y="-4.7" width="2" height="9.4" transform="matrix(1 0 0 62.043 0 265.5)" fill="url(#h2)"/>
<rect x="299" y="-4.7" width="2" height="9.4" transform="matrix(1 0 0 61.507 0 265.5)" fill="url(#h3)"/>
<rect x="301" y="-4.7" width="2" height="9.4" transform="matrix(1 0 0 60.946 0 265.5)" fill="url(#h3)"/>
<rect x="303" y="-4.7" width="2" height="9.4" transform="matrix(1 0 0 60.36 0 265.5)" fill="url(#h3)"/>
<rect x="305" y="-4.7" width="2" height="9.4" transform="matrix(1 0 0 59.748 0 265.5)" fill="url(#h4)"/>
<rect x="307" y="-4.7" width="2" height="9.4" transform="matrix(1 0 0 59.112 0 265.5)" fill="url(#h4)"/>
<rect x="309" y="-4.7" width="2" height="9.4" transform="matrix(1 0 0 58.452 0 265.5)" fill="url(#h4)"/>
<rect x="311" y="-4.7" width="2" height="9.4" transform="matrix(1 0 0 57.768 0 265.5)" fill="url(#h5)"/>
<rect x="313" y="-4.7" width="2" height="9.4" transform="matrix(1 0 0 57.06 0 265.5)" fill="url(#h5)"/>
<rect x="315" y="-4.7" width="2" height="9.4" transform="matrix(1 0 0 56.33 0 265.5)" fill="url(#h6)"/>
<rect x="317" y="-4.7" width="2" height="9.4" transform="matrix(1 0 0 55.578 0 265.5)" fill="url(#h6)"/>
<rect x="319" y="-4.7" width="2" height="9.4" transform="matrix(1 0 0 54.804 0 265.5)" fill="url(#h7)"/>
<rect x="321" y="-4.7" width="2" height="9.4" transform="matrix(1 0 0 54.008 0 265.5)" fill="url(#h7)"/>
<rect x="323" y="-4.7" width="2" height="9.4" transform="matrix(1 0 0 53.192 0 265.5)" fill="url(#h8)"/>
<rect x="325" y="-4.7" width="2" height="9.4" transform="matrix(1 0 0 52.356 0 265.5)" fill="url(#h8)"/>
<rect x="327" y="-4.7" width="2" height="9.4" transform="matrix(1 0 0 51.499 0 265.5)" fill="url(#h9)"/>
<rect x="329" y="-4.7" width="2" height="9.4" transform="matrix(1 0 0 50.624 0 265.5)" fill="url(#h9)"/>
<rect x="331" y="-4.7" width="2" height="9.4" transform="matrix(1 0 0 49.73 0 265.5)" fill="url(#h10)"/>
<rect x="333" y="-4.7" width="2" height="9.4" transform="matrix(1 0 0 48.818 0 265.5)" fill="url(#h10)"/>
<rect x="335" y="-4.7" width="2" height="9.4" transform="matrix(1 0 0 47.889 0 265.5)" fill="url(#h11)"/>
<rect x="337" y="-4.7" width="2" height="9.4" transform="matrix(1 0 0 46.942 0 265.5)" fill="url(#h12)"/>
<rect x="339" y="-4.7" width="2" height="9.4" transform="matrix(1 0 0 45.98 0 265.5)" fill="url(#h12)"/>
<rect x="341" y="-4.7" width="2" height="9.4" transform="matrix(1 0 0 45.002 0 265.5)" fill="url(#h13)"/>
<rect x="343" y="-4.7" width="2" height="9.4" transform="matrix(1 0 0 44.009 0 265.5)" fill="url(#h14)"/>
<rect x="345" y="-4.7" width="2" height="9.4" transform="matrix(1 0 0 43.002 0 265.5)" fill="url(#h15)"/>
<rect x="347" y="-4.7" width="2" height="9.4" transform="matrix(1 0 0 41.981 0 265.5)" fill="url(#h15)"/>
<rect x="349" y="-4.7" width="2" height="9.4" transform="matrix(1 0 0 40.948 0 265.5)" fill="url(#h16)"/>
<rect x="351" y="-4.7" width="2" height="9.4" transform="matrix(1 0 0 39.902 0 265.5)" fill="url(#h17)"/>
<rect x="353" y="-4.7" width="2" height="9.4" transform="matrix(1 0 0 38.845 0 265.5)" fill="url(#h18)"/>
<rect x="355" y="-4.7" width="2" height="9.4" transform="matrix(1 0 0 37.777 0 265.5)" fill="url(#h19)"/>
<rect x="357" y="-4.7" width="2" height="9.4" transform="matrix(1 0 0 36.7 0 265.5)" fill="url(#h20)"/>
<rect x="359" y="-4.7" width="2" height="9.4" transform="matrix(1 0 0 35.614 0 265.5)" fill="url(#h21)"/>
<rect x="361" y="-4.7" width="2" height="9.4" transform="matrix(1 0 0 34.519 0 265.5)" fill="url(#h22)"/>
<rect x="363" y="-4.7" width="2" height="9.4" transform="matrix(1 0 0 33.417 0 265.5)" fill="url(#h23)"/>
<rect x="365" y="-4.7" width="2" height="9.4" transform="matrix(1 0 0 32.31 0 265.5)" fill="url(#h24)"/>
<rect x="367" y="-4.7" width="2" height="9.4" transform="matrix(1 0 0 31.196 0 265.5)" fill="url(#h25)"/>
<rect x="369" y="-4.7" width="2" height="9.4" transform="matrix(1 0 0 30.079 0 265.5)" fill="url(#h26)"/>
<rect x="371" y="-4.7" width="2" height="9.4" transform="matrix(1 0 0 28.959 0 265.5)" fill="url(#h28)"/>
<rect x="373" y="-4.7" width="2" height="9.4" transform="matrix(1 0 0 27.837 0 265.5)" fill="url(#h29)"/>
<rect x="375" y="-4.7" width="2" height="9.4" transform="matrix(1 0 0 26.715 0 265.5)" fill="url(#h30)"/>
<rect x="377" y="-4.7" width="2" height="9.4" transform="matrix(1 0 0 25.595 0 265.5)" fill="url(#h32)"/>
<rect x="379" y="-4.7" width="2" height="9.4" transform="matrix(1 0 0 24.477 0 265.5)" fill="url(#h33)"/>
<rect x="381" y="-4.7" width="2" height="9.4" transform="matrix(1 0 0 23.364 0 265.5)" fill="url(#h35)"/>
<rect x="383" y="-4.7" width="2" height="9.4" transform="matrix(1 0 0 22.257 0 265.5)" fill="url(#h36)"/>
<rect x="385" y="-4.7" width="2" height="9.4" transform="matrix(1 0 0 21.161 0 265.5)" fill="url(#h38)"/>
<rect x="387" y="-4.7" width="2" height="9.4" transform="matrix(1 0 0 20.076 0 265.5)" fill="url(#h40)"/>
<rect x="389" y="-4.7" width="2" height="9.4" transform="matrix(1 0 0 19.006 0 265.5)" fill="url(#h42)"/>
<rect x="391" y="-4.7" width="2" height="9.4" transform="matrix(1 0 0 17.956 0 265.5)" fill="url(#h43)"/>
<rect x="393" y="-4.7" width="2" height="9.4" transform="matrix(1 0 0 16.93 0 265.5)" fill="url(#h45)"/>
<rect x="395" y="-4.7" width="2" height="9.4" transform="matrix(1 0 0 15.933 0 265.5)" fill="url(#h47)"/>
<rect x="397" y="-4.7" width="2" height="9.4" transform="matrix(1 0 0 14.972 0 265.5)" fill="url(#h50)"/>
<rect x="399" y="-4.7" width="2" height="9.4" transform="matrix(1 0 0 14.054 0 265.5)" fill="url(#h52)"/>
<rect x="401" y="-4.7" width="2" height="9.4" transform="matrix(1 0 0 13.19 0 265.5)" fill="url(#h54)"/>
<rect x="403" y="-4.7" width="2" height="9.4" transform="matrix(1 0 0 12.39 0 265.5)" fill="url(#h56)"/>
<rect x="405" y="-4.7" width="2" height="9.4" transform="matrix(1 0 0 11.668 0 265.5)" fill="url(#h58)"/>
<rect x="407" y="-4.7" width="2" height="9.4" transform="matrix(1 0 0 11.038 0 265.5)" fill="url(#h60)"/>
<rect x="409" y="-4.7" width="2" height="9.4" transform="matrix(1 0 0 10.517 0 265.5)" fill="url(#h61)"/>
<rect x="411" y="-4.7" width="2" height="9.4" transform="matrix(1 0 0 10.121 0 265.5)" fill="url(#h62)"/>
<rect x="413" y="-4.7" width="2" height="9.4" transform="matrix(1 0 0 9.862 0 265.5)" fill="url(#h63)"/>
<rect x="415" y="-4.7" width="2" height="9.4" transform="matrix(1 0 0 9.752 0 265.5)" fill="url(#h64)"/>
<rect x="417" y="-4.7" width="2" height="9.4" transform="matrix(1 0 0 9.792 0 265.5)" fill="url(#h64)"/>
<rect x="419" y="-4.7" width="2" height="9.4" transform="matrix(1 0 0 9.979 0 265.5)" fill="url(#h63)"/>
<rect x="421" y="-4.7" width="2" height="9.4" transform="matrix(1 0 0 10.302 0 265.5)" fill="url(#h62)"/>
<rect x="423" y="-4.7" width="2" height="9.4" transform="matrix(1 0 0 10.748 0 265.5)" fill="url(#h60)"/>
<rect x="425" y="-4.7" width="2" height="9.4" transform="matrix(1 0 0 11.299 0 265.5)" fill="url(#h59)"/>
<rect x="427" y="-4.7" width="2" height="9.4" transform="matrix(1 0 0 11.938 0 265.5)" fill="url(#h57)"/>
<rect x="429" y="-4.7" width="2" height="9.4" transform="matrix(1 0 0 12.649 0 265.5)" fill="url(#h55)"/>
<rect x="431" y="-4.7" width="2" height="9.4" transform="matrix(1 0 0 13.419 0 265.5)" fill="url(#h53)"/>
<rect x="433" y="-4.7" width="2" height="9.4" transform="matrix(1 0 0 14.234 0 265.5)" fill="url(#h51)"/>
<rect x="435" y="-4.7" width="2" height="9.4" transform="matrix(1 0 0 15.086 0 265.5)" fill="url(#h49)"/>
<rect x="437" y="-4.7" width="2" height="9.4" transform="matrix(1 0 0 15.965 0 265.5)" fill="url(#h47)"/>
<rect x="439" y="-4.7" width="2" height="9.4" transform="matrix(1 0 0 16.865 0 265.5)" fill="url(#h46)"/>
<rect x="441" y="-4.7" width="2" height="9.4" transform="matrix(1 0 0 17.781 0 265.5)" fill="url(#h44)"/>
<rect x="443" y="-4.7" width="2" height="9.4" transform="matrix(1 0 0 18.707 0 265.5)" fill="url(#h42)"/>
<rect x="445" y="-4.7" width="2" height="9.4" transform="matrix(1 0 0 19.639 0 265.5)" fill="url(#h41)"/>
<rect x="447" y="-4.7" width="2" height="9.4" transform="matrix(1 0 0 20.575 0 265.5)" fill="url(#h39)"/>
<rect x="449" y="-4.7" width="2" height="9.4" transform="matrix(1 0 0 21.512 0 265.5)" fill="url(#h38)"/>
<rect x="451" y="-4.7" width="2" height="9.4" transform="matrix(1 0 0 22.447 0 265.5)" fill="url(#h36)"/>
<rect x="453" y="-4.7" width="2" height="9.4" transform="matrix(1 0 0 23.378 0 265.5)" fill="url(#h35)"/>
<rect x="455" y="-4.7" width="2" height="9.4" transform="matrix(1 0 0 24.303 0 265.5)" fill="url(#h33)"/>
<rect x="457" y="-4.7" width="2" height="9.4" transform="matrix(1 0 0 25.222 0 265.5)" fill="url(#h32)"/>
<rect x="459" y="-4.7" width="2" height="9.4" transform="matrix(1 0 0 26.131 0 265.5)" fill="url(#h31)"/>
<rect x="461" y="-4.7" width="2" height="9.4" transform="matrix(1 0 0 27.032 0 265.5)" fill="url(#h30)"/>
<rect x="463" y="-4.7" width="2" height="9.4" transform="matrix(1 0 0 27.921 0 265.5)" fill="url(#h29)"/>
<rect x="465" y="-4.7" width="2" height="9.4" transform="matrix(1 0 0 28.799 0 265.5)" fill="url(#h28)"/>
<rect x="467" y="-4.7" width="2" height="9.4" transform="matrix(1 0 0 29.664 0 265.5)" fill="url(#h27)"/>
<rect x="469" y="-4.7" width="2" height="9.4" transform="matrix(1 0 0 30.516 0 265.5)" fill="url(#h26)"/>
<rect x="471" y="-4.7" width="2" height="9.4" transform="matrix(1 0 0 31.353 0 265.5)" fill="url(#h25)"/>
<rect x="473" y="-4.7" width="2" height="9.4" transform="matrix(1 0 0 32.176 0 265.5)" fill="url(#h24)"/>
<rect x="475" y="-4.7" width="2" height="9.4" transform="matrix(1 0 0 32.983 0 265.5)" fill="url(#h23)"/>
<rect x="477" y="-4.7" width="2" height="9.4" transform="matrix(1 0 0 33.774 0 265.5)" fill="url(#h23)"/>
<rect x="479" y="-4.7" width="2" height="9.4" transform="matrix(1 0 0 34.549 0 265.5)" fill="url(#h22)"/>
<rect x="481" y="-4.7" width="2" height="9.4" transform="matrix(1 0 0 35.306 0 265.5)" fill="url(#h21)"/>
<rect x="483" y="-4.7" width="2" height="9.4" transform="matrix(1 0 0 36.046 0 265.5)" fill="url(#h20)"/>
<rect x="485" y="-4.7" width="2" height="9.4" transform="matrix(1 0 0 36.768 0 265.5)" fill="url(#h20)"/>
<rect x="487" y="-4.7" width="2" height="9.4" transform="matrix(1 0 0 37.471 0 265.5)" fill="url(#h19)"/>
<rect x="489" y="-4.7" width="2" height="9.4" transform="matrix(1 0 0 38.155 0 265.5)" fill="url(#h19)"/>
<rect x="491" y="-4.7" width="2" height="9.4" transform="matrix(1 0 0 38.821 0 265.5)" fill="url(#h18)"/>
<rect x="493" y="-4.7" width="2" height="9.4" transform="matrix(1 0 0 39.466 0 265.5)" fill="url(#h17)"/>
<rect x="495" y="-4.7" width="2" height="9.4" transform="matrix(1 0 0 40.092 0 265.5)" fill="url(#h17)"/>
<rect x="497" y="-4.7" width="2" height="9.4" transform="matrix(1 0 0 40.698 0 265.5)" fill="url(#h16)"/>
<rect x="499" y="-4.7" width="2" height="9.4" transform="matrix(1 0 0 41.283 0 265.5)" fill="url(#h16)"/>
<rect x="501" y="-4.7" width="2" height="9.4" transform="matrix(1 0 0 41.848 0 265.5)" fill="url(#h16)"/>
<rect x="503" y="-4.7" width="2" height="9.4" transform="matrix(1 0 0 42.391 0 265.5)" fill="url(#h15)"/>
<rect x="505" y="-4.7" width="2" height="9.4" transform="matrix(1 0 0 42.914 0 265.5)" fill="url(#h15)"/>
<rect x="507" y="-4.7" width="2" height="9.4" transform="matrix(1 0 0 43.415 0 265.5)" fill="url(#h14)"/>
<rect x="509" y="-4.7" width="2" height="9.4" transform="matrix(1 0 0 43.894 0 265.5)" fill="url(#h14)"/>
<rect x="511" y="-4.7" width="2" height="9.4" transform="matrix(1 0 0 44.352 0 265.5)" fill="url(#h14)"/>
<rect x="513" y="-4.7" width="2" height="9.4" transform="matrix(1 0 0 44.788 0 265.5)" fill="url(#h13)"/>
<rect x="515" y="-4.7" width="2" height="9.4" transform="matrix(1 0 0 45.201 0 265.5)" fill="url(#h13)"/>
<rect x="517" y="-4.7" width="2" height="9.4" transform="matrix(1 0 0 45.592 0 265.5)" fill="url(#h13)"/>
<rect x="519" y="-4.7" width="2" height="9.4" transform="matrix(1 0 0 45.961 0 265.5)" fill="url(#h12)"/>
<rect x="521" y="-4.7" width="2" height="9.4" transform="matrix(1 0 0 46.308 0 265.5)" fill="url(#h12)"/>
<rect x="523" y="-4.7" width="2" height="9.4" transform="matrix(1 0 0 46.632 0 265.5)" fill="url(#h12)"/>
<rect x="525" y="-4.7" width="2" height="9.4" transform="matrix(1 0 0 46.933 0 265.5)" fill="url(#h12)"/>
<rect x="527" y="-4.7" width="2" height="9.4" transform="matrix(1 0 0 47.212 0 265.5)" fill="url(#h12)"/>
<rect x="529" y="-4.7" width="2" height="9.4" transform="matrix(1 0 0 47.467 0 265.5)" fill="url(#h11)"/>
<rect x="531" y="-4.7" width="2" height="9.4" transform="matrix(1 0 0 47.7 0 265.5)" fill="url(#h11)"/>
<rect x="533" y="-4.7" width="2" height="9.4" transform="matrix(1 0 0 47.911 0 265.5)" fill="url(#h11)"/>
<rect x="535" y="-4.7" width="2" height="9.4" transform="matrix(1 0 0 48.098 0 265.5)" fill="url(#h11)"/>
<rect x="537" y="-4.7" width="2" height="9.4" transform="matrix(1 0 0 48.262 0 265.5)" fill="url(#h11)"/>
<rect x="539" y="-4.7" width="2" height="9.4" transform="matrix(1 0 0 48.404 0 265.5)" fill="url(#h11)"/>
<rect x="541" y="-4.7" width="2" height="9.4" transform="matrix(1 0 0 48.523 0 265.5)" fill="url(#h11)"/>
<rect x="543" y="-4.7" width="2" height="9.4" transform="matrix(1 0 0 48.618 0 265.5)" fill="url(#h11)"/>
<rect x="545" y="-4.7" width="2" height="9.4" transform="matrix(1 0 0 48.692 0 265.5)" fill="url(#h11)"/>
<rect x="547" y="-4.7" width="2" height="9.4" transform="matrix(1 0 0 48.742 0 265.5)" fill="url(#h10)"/>
<rect x="549" y="-4.7" width="2" height="9.4" transform="matrix(1 0 0 48.77 0 265.5)" fill="url(#h10)"/>
<rect x="551" y="-4.7" width="2" height="9.4" transform="matrix(1 0 0 48.775 0 265.5)" fill="url(#h10)"/>
<rect x="553" y="-4.7" width="2" height="9.4" transform="matrix(1 0 0 48.758 0 265.5)" fill="url(#h10)"/>
<rect x="555" y="-4.7" width="2" height="9.4" transform="matrix(1 0 0 48.718 0 265.5)" fill="url(#h10)"/>
<rect x="557" y="-4.7" width="2" height="9.4" transform="matrix(1 0 0 48.656 0 265.5)" fill="url(#h11)"/>
<rect x="559" y="-4.7" width="2" height="9.4" transform="matrix(1 0 0 48.572 0 265.5)" fill="url(#h11)"/>
<rect x="561" y="-4.7" width="2" height="9.4" transform="matrix(1 0 0 48.466 0 265.5)" fill="url(#h11)"/>
<rect x="563" y="-4.7" width="2" height="9.4" transform="matrix(1 0 0 48.338 0 265.5)" fill="url(#h11)"/>
<rect x="565" y="-4.7" width="2" height="9.4" transform="matrix(1 0 0 48.188 0 265.5)" fill="url(#h11)"/>
<rect x="567" y="-4.7" width="2" height="9.4" transform="matrix(1 0 0 48.017 0 265.5)" fill="url(#h11)"/>
<rect x="569" y="-4.7" width="2" height="9.4" transform="matrix(1 0 0 47.825 0 265.5)" fill="url(#h11)"/>
<rect x="571" y="-4.7" width="2" height="9.4" transform="matrix(1 0 0 47.611 0 265.5)" fill="url(#h11)"/>
<rect x="573" y="-4.7" width="2" height="9.4" transform="matrix(1 0 0 47.376 0 265.5)" fill="url(#h11)"/>
<rect x="575" y="-4.7" width="2" height="9.4" transform="matrix(1 0 0 47.121 0 265.5)" fill="url(#h12)"/>
<rect x="577" y="-4.7" width="2" height="9.4" transform="matrix(1 0 0 46.845 0 265.5)" fill="url(#h12)"/>
<rect x="579" y="-4.7" width="2" height="9.4" transform="matrix(1 0 0 46.548 0 265.5)" fill="url(#h12)"/>
<rect x="581" y="-4.7" width="2" height="9.4" transform="matrix(1 0 0 46.232 0 265.5)" fill="url(#h12)"/>
<rect x="583" y="-4.7" width="2" height="9.4" transform="matrix(1 0 0 45.895 0 265.5)" fill="url(#h12)"/>
<rect x="585" y="-4.7" width="2" height="9.4" transform="matrix(1 0 0 45.539 0 265.5)" fill="url(#h13)"/>
<rect x="587" y="-4.7" width="2" height="9.4" transform="matrix(1 0 0 45.164 0 265.5)" fill="url(#h13)"/>
<rect x="589" y="-4.7" width="2" height="9.4" transform="matrix(1 0 0 44.77 0 265.5)" fill="url(#h13)"/>
<rect x="591" y="-4.7" width="2" height="9.4" transform="matrix(1 0 0 44.357 0 265.5)" fill="url(#h14)"/>
<rect x="593" y="-4.7" width="2" height="9.4" transform="matrix(1 0 0 43.925 0 265.5)" fill="url(#h14)"/>
<rect x="595" y="-4.7" width="2" height="9.4" transform="matrix(1 0 0 43.475 0 265.5)" fill="url(#h14)"/>
<rect x="597" y="-4.7" width="2" height="9.4" transform="matrix(1 0 0 43.008 0 265.5)" fill="url(#h15)"/>
<rect x="599" y="-4.7" width="2" height="9.4" transform="matrix(1 0 0 42.523 0 265.5)" fill="url(#h15)"/>
<rect x="601" y="-4.7" width="2" height="9.4" transform="matrix(1 0 0 42.02 0 265.5)" fill="url(#h15)"/>
<rect x="603" y="-4.7" width="2" height="9.4" transform="matrix(1 0 0 41.501 0 265.5)" fill="url(#h16)"/>
<rect x="605" y="-4.7" width="2" height="9.4" transform="matrix(1 0 0 40.965 0 265.5)" fill="url(#h16)"/>
<rect x="607" y="-4.7" width="2" height="9.4" transform="matrix(1 0 0 40.413 0 265.5)" fill="url(#h17)"/>
<rect x="609" y="-4.7" width="2" height="9.4" transform="matrix(1 0 0 39.845 0 265.5)" fill="url(#h17)"/>
<rect x="611" y="-4.7" width="2" height="9.4" transform="matrix(1 0 0 39.262 0 265.5)" fill="url(#h18)"/>
<rect x="613" y="-4.7" width="2" height="9.4" transform="matrix(1 0 0 38.663 0 265.5)" fill="url(#h18)"/>
<rect x="615" y="-4.7" width="2" height="9.4" transform="matrix(1 0 0 38.05 0 265.5)" fill="url(#h19)"/>
<rect x="617" y="-4.7" width="2" height="9.4" transform="matrix(1 0 0 37.423 0 265.5)" fill="url(#h19)"/>
<rect x="619" y="-4.7" width="2" height="9.4" transform="matrix(1 0 0 36.782 0 265.5)" fill="url(#h20)"/>
<rect x="621" y="-4.7" width="2" height="9.4" transform="matrix(1 0 0 36.127 0 265.5)" fill="url(#h20)"/>
<rect x="623" y="-4.7" width="2" height="9.4" transform="matrix(1 0 0 35.459 0 265.5)" fill="url(#h21)"/>
<rect x="625" y="-4.7" width="2" height="9.4" transform="matrix(1 0 0 34.779 0 265.5)" fill="url(#h22)"/>
<rect x="627" y="-4.7" width="2" height="9.4" transform="matrix(1 0 0 34.086 0 265.5)" fill="url(#h22)"/>
<rect x="629" y="-4.7" width="2" height="9.4" transform="matrix(1 0 0 33.382 0 265.5)" fill="url(#h23)"/>
<rect x="631" y="-4.7" width="2" height="9.4" transform="matrix(1 0 0 32.667 0 265.5)" fill="url(#h24)"/>
<rect x="633" y="-4.7" width="2" height="9.4" transform="matrix(1 0 0 31.94 0 265.5)" fill="url(#h24)"/>
<rect x="635" y="-4.7" width="2" height="9.4" transform="matrix(1 0 0 31.204 0 265.5)" fill="url(#h25)"/>
<rect x="637" y="-4.7" width="2" height="9.4" transform="matrix(1 0 0 30.457 0 265.5)" fill="url(#h26)"/>
<rect x="639" y="-4.7" width="2" height="9.4" transform="matrix(1 0 0 29.702 0 265.5)" fill="url(#h27)"/>
<rect x="641" y="-4.7" width="2" height="9.4" transform="matrix(1 0 0 28.938 0 265.5)" fill="url(#h28)"/>
<rect x="643" y="-4.7" width="2" height="9.4" transform="matrix(1 0 0 28.165 0 265.5)" fill="url(#h29)"/>
<rect x="645" y="-4.7" width="2" height="9.4" transform="matrix(1 0 0 27.385 0 265.5)" fill="url(#h30)"/>
<rect x="647" y="-4.7" width="2" height="9.4" transform="matrix(1 0 0 26.598 0 265.5)" fill="url(#h31)"/>
<rect x="649" y="-4.7" width="2" height="9.4" transform="matrix(1 0 0 25.804 0 265.5)" fill="url(#h32)"/>
<rect x="651" y="-4.7" width="2" height="9.4" transform="matrix(1 0 0 25.005 0 265.5)" fill="url(#h33)"/>
<rect x="653" y="-4.7" width="2" height="9.4" transform="matrix(1 0 0 24.2 0 265.5)" fill="url(#h34)"/>
<rect x="655" y="-4.7" width="2" height="9.4" transform="matrix(1 0 0 23.392 0 265.5)" fill="url(#h35)"/>
<rect x="657" y="-4.7" width="2" height="9.4" transform="matrix(1 0 0 22.579 0 265.5)" fill="url(#h36)"/>
<rect x="659" y="-4.7" width="2" height="9.4" transform="matrix(1 0 0 21.764 0 265.5)" fill="url(#h37)"/>
<rect x="661" y="-4.7" width="2" height="9.4" transform="matrix(1 0 0 20.947 0 265.5)" fill="url(#h38)"/>
<rect x="663" y="-4.7" width="2" height="9.4" transform="matrix(1 0 0 20.129 0 265.5)" fill="url(#h40)"/>
<rect x="665" y="-4.7" width="2" height="9.4" transform="matrix(1 0 0 19.311 0 265.5)" fill="url(#h41)"/>
<rect x="667" y="-4.7" width="2" height="9.4" transform="matrix(1 0 0 18.494 0 265.5)" fill="url(#h43)"/>
<rect x="669" y="-4.7" width="2" height="9.4" transform="matrix(1 0 0 17.679 0 265.5)" fill="url(#h44)"/>
<rect x="671" y="-4.7" width="2" height="9.4" transform="matrix(1 0 0 16.868 0 265.5)" fill="url(#h46)"/>
<rect x="673" y="-4.7" width="2" height="9.4" transform="matrix(1 0 0 16.063 0 265.5)" fill="url(#h47)"/>
<rect x="675" y="-4.7" width="2" height="9.4" transform="matrix(1 0 0 15.265 0 265.5)" fill="url(#h49)"/>
<rect x="677" y="-4.7" width="2" height="9.4" transform="matrix(1 0 0 14.476 0 265.5)" fill="url(#h51)"/>
<rect x="679" y="-4.7" width="2" height="9.4" transform="matrix(1 0 0 13.699 0 265.5)" fill="url(#h52)"/>
<rect x="681" y="-4.7" width="2" height="9.4" transform="matrix(1 0 0 12.936 0 265.5)" fill="url(#h54)"/>
<rect x="683" y="-4.7" width="2" height="9.4" transform="matrix(1 0 0 12.192 0 265.5)" fill="url(#h56)"/>
<rect x="685" y="-4.7" width="2" height="9.4" transform="matrix(1 0 0 11.47 0 265.5)" fill="url(#h58)"/>
<rect x="687" y="-4.7" width="2" height="9.4" transform="matrix(1 0 0 10.775 0 265.5)" fill="url(#h60)"/>
<rect x="689" y="-4.7" width="2" height="9.4" transform="matrix(1 0 0 10.113 0 265.5)" fill="url(#h62)"/>
<rect x="691" y="-4.7" width="2" height="9.4" transform="matrix(1 0 0 9.492 0 265.5)" fill="url(#h65)"/>
<rect x="693" y="-4.7" width="2" height="9.4" transform="matrix(1 0 0 8.92 0 265.5)" fill="url(#h67)"/>
<rect x="695" y="-4.7" width="2" height="9.4" transform="matrix(1 0 0 8.406 0 265.5)" fill="url(#h69)"/>
<rect x="697" y="-4.7" width="2" height="9.4" transform="matrix(1 0 0 7.963 0 265.5)" fill="url(#h70)"/>
<rect x="699" y="-4.7" width="2" height="9.4" transform="matrix(1 0 0 7.601 0 265.5)" fill="url(#h72)"/>
<rect x="701" y="-4.7" width="2" height="9.4" transform="matrix(1 0 0 7.332 0 265.5)" fill="url(#h73)"/>
<rect x="703" y="-4.7" width="2" height="9.4" transform="matrix(1 0 0 7.166 0 265.5)" fill="url(#h74)"/>
<rect x="705" y="-4.7" width="2" height="9.4" transform="matrix(1 0 0 7.108 0 265.5)" fill="url(#h74)"/>
<rect x="707" y="-4.7" width="2" height="9.4" transform="matrix(1 0 0 7.16 0 265.5)" fill="url(#h74)"/>
<rect x="709" y="-4.7" width="2" height="9.4" transform="matrix(1 0 0 7.319 0 265.5)" fill="url(#h73)"/>
<rect x="711" y="-4.7" width="2" height="9.4" transform="matrix(1 0 0 7.574 0 265.5)" fill="url(#h72)"/>
<rect x="713" y="-4.7" width="2" height="9.4" transform="matrix(1 0 0 7.917 0 265.5)" fill="url(#h71)"/>
<rect x="715" y="-4.7" width="2" height="9.4" transform="matrix(1 0 0 8.333 0 265.5)" fill="url(#h69)"/>
<rect x="717" y="-4.7" width="2" height="9.4" transform="matrix(1 0 0 8.811 0 265.5)" fill="url(#h67)"/>
<rect x="719" y="-4.7" width="2" height="9.4" transform="matrix(1 0 0 9.339 0 265.5)" fill="url(#h65)"/>
<rect x="721" y="-4.7" width="2" height="9.4" transform="matrix(1 0 0 9.908 0 265.5)" fill="url(#h63)"/>
<rect x="723" y="-4.7" width="2" height="9.4" transform="matrix(1 0 0 10.509 0 265.5)" fill="url(#h61)"/>
<rect x="725" y="-4.7" width="2" height="9.4" transform="matrix(1 0 0 11.134 0 265.5)" fill="url(#h59)"/>
<rect x="727" y="-4.7" width="2" height="9.4" transform="matrix(1 0 0 11.779 0 265.5)" fill="url(#h57)"/>
<rect x="729" y="-4.7" width="2" height="9.4" transform="matrix(1 0 0 12.438 0 265.5)" fill="url(#h56)"/>
<rect x="731" y="-4.7" width="2" height="9.4" transform="matrix(1 0 0 13.108 0 265.5)" fill="url(#h54)"/>
<rect x="733" y="-4.7" width="2" height="9.4" transform="matrix(1 0 0 13.784 0 265.5)" fill="url(#h52)"/>
<rect x="735" y="-4.7" width="2" height="9.4" transform="matrix(1 0 0 14.465 0 265.5)" fill="url(#h51)"/>
<rect x="737" y="-4.7" width="2" height="9.4" transform="matrix(1 0 0 15.148 0 265.5)" fill="url(#h49)"/>
<rect x="739" y="-4.7" width="2" height="9.4" transform="matrix(1 0 0 15.831 0 265.5)" fill="url(#h48)"/>
<rect x="741" y="-4.7" width="2" height="9.4" transform="matrix(1 0 0 16.512 0 265.5)" fill="url(#h46)"/>
<rect x="743" y="-4.7" width="2" height="9.4" transform="matrix(1 0 0 17.19 0 265.5)" fill="url(#h45)"/>
<rect x="745" y="-4.7" width="2" height="9.4" transform="matrix(1 0 0 17.864 0 265.5)" fill="url(#h44)"/>
<rect x="747" y="-4.7" width="2" height="9.4" transform="matrix(1 0 0 18.532 0 265.5)" fill="url(#h42)"/>
<rect x="749" y="-4.7" width="2" height="9.4" transform="matrix(1 0 0 19.195 0 265.5)" fill="url(#h41)"/>
<rect x="751" y="-4.7" width="2" height="9.4" transform="matrix(1 0 0 19.85 0 265.5)" fill="url(#h40)"/>
<rect x="753" y="-4.7" width="2" height="9.4" transform="matrix(1 0 0 20.496 0 265.5)" fill="url(#h39)"/>
<rect x="755" y="-4.7" width="2" height="9.4" transform="matrix(1 0 0 21.135 0 265.5)" fill="url(#h38)"/>
<rect x="757" y="-4.7" width="2" height="9.4" transform="matrix(1 0 0 21.764 0 265.5)" fill="url(#h37)"/>
<rect x="759" y="-4.7" width="2" height="9.4" transform="matrix(1 0 0 22.382 0 265.5)" fill="url(#h36)"/>
<rect x="761" y="-4.7" width="2" height="9.4" transform="matrix(1 0 0 22.991 0 265.5)" fill="url(#h35)"/>
<rect x="763" y="-4.7" width="2" height="9.4" transform="matrix(1 0 0 23.589 0 265.5)" fill="url(#h34)"/>
<rect x="765" y="-4.7" width="2" height="9.4" transform="matrix(1 0 0 24.175 0 265.5)" fill="url(#h34)"/>
<rect x="767" y="-4.7" width="2" height="9.4" transform="matrix(1 0 0 24.749 0 265.5)" fill="url(#h33)"/>
<rect x="769" y="-4.7" width="2" height="9.4" transform="matrix(1 0 0 25.311 0 265.5)" fill="url(#h32)"/>
<rect x="771" y="-4.7" width="2" height="9.4" transform="matrix(1 0 0 25.861 0 265.5)" fill="url(#h31)"/>
<rect x="773" y="-4.7" width="2" height="9.4" transform="matrix(1 0 0 26.398 0 265.5)" fill="url(#h31)"/>
<rect x="775" y="-4.7" width="2" height="9.4" transform="matrix(1 0 0 26.921 0 265.5)" fill="url(#h30)"/>
<rect x="777" y="-4.7" width="2" height="9.4" transform="matrix(1 0 0 27.431 0 265.5)" fill="url(#h29)"/>
<rect x="779" y="-4.7" width="2" height="9.4" transform="matrix(1 0 0 27.928 0 265.5)" fill="url(#h29)"/>
<rect x="781" y="-4.7" width="2" height="9.4" transform="matrix(1 0 0 28.41 0 265.5)" fill="url(#h28)"/>
<rect x="783" y="-4.7" width="2" height="9.4" transform="matrix(1 0 0 28.878 0 265.5)" fill="url(#h28)"/>
<rect x="785" y="-4.7" width="2" height="9.4" transform="matrix(1 0 0 29.331 0 265.5)" fill="url(#h27)"/>
<rect x="787" y="-4.7" width="2" height="9.4" transform="matrix(1 0 0 29.77 0 265.5)" fill="url(#h27)"/>
<rect x="789" y="-4.7" width="2" height="9.4" transform="matrix(1 0 0 30.193 0 265.5)" fill="url(#h26)"/>
<rect x="791" y="-4.7" width="2" height="9.4" transform="matrix(1 0 0 30.602 0 265.5)" fill="url(#h26)"/>
<rect x="793" y="-4.7" width="2" height="9.4" transform="matrix(1 0 0 30.995 0 265.5)" fill="url(#h25)"/>
<rect x="795" y="-4.7" width="2" height="9.4" transform="matrix(1 0 0 31.373 0 265.5)" fill="url(#h25)"/>
<rect x="797" y="-4.7" width="2" height="9.4" transform="matrix(1 0 0 31.735 0 265.5)" fill="url(#h25)"/>
<rect x="799" y="-4.7" width="2" height="9.4" transform="matrix(1 0 0 32.081 0 265.5)" fill="url(#h24)"/>
<rect x="801" y="-4.7" width="2" height="9.4" transform="matrix(1 0 0 32.411 0 265.5)" fill="url(#h24)"/>
<rect x="803" y="-4.7" width="2" height="9.4" transform="matrix(1 0 0 32.726 0 265.5)" fill="url(#h24)"/>
<rect x="805" y="-4.7" width="2" height="9.4" transform="matrix(1 0 0 33.024 0 265.5)" fill="url(#h23)"/>
<rect x="807" y="-4.7" width="2" height="9.4" transform="matrix(1 0 0 33.306 0 265.5)" fill="url(#h23)"/>
<rect x="809" y="-4.7" width="2" height="9.4" transform="matrix(1 0 0 33.572 0 265.5)" fill="url(#h23)"/>
<rect x="811" y="-4.7" width="2" height="9.4" transform="matrix(1 0 0 33.821 0 265.5)" fill="url(#h23)"/>
<rect x="813" y="-4.7" width="2" height="9.4" transform="matrix(1 0 0 34.054 0 265.5)" fill="url(#h22)"/>
<rect x="815" y="-4.7" width="2" height="9.4" transform="matrix(1 0 0 34.27 0 265.5)" fill="url(#h22)"/>
<rect x="817" y="-4.7" width="2" height="9.4" transform="matrix(1 0 0 34.47 0 265.5)" fill="url(#h22)"/>
<rect x="819" y="-4.7" width="2" height="9.4" transform="matrix(1 0 0 34.653 0 265.5)" fill="url(#h22)"/>
<rect x="821" y="-4.7" width="2" height="9.4" transform="matrix(1 0 0 34.819 0 265.5)" fill="url(#h22)"/>
<rect x="823" y="-4.7" width="2" height="9.4" transform="matrix(1 0 0 34.969 0 265.5)" fill="url(#h21)"/>
<rect x="825" y="-4.7" width="2" height="9.4" transform="matrix(1 0 0 35.102 0 265.5)" fill="url(#h21)"/>
<rect x="827" y="-4.7" width="2" height="9.4" transform="matrix(1 0 0 35.218 0 265.5)" fill="url(#h21)"/>
<rect x="829" y="-4.7" width="2" height="9.4" transform="matrix(1 0 0 35.318 0 265.5)" fill="url(#h21)"/>
<rect x="831" y="-4.7" width="2" height="9.4" transform="matrix(1 0 0 35.401 0 265.5)" fill="url(#h21)"/>
<rect x="833" y="-4.7" width="2" height="9.4" transform="matrix(1 0 0 35.467 0 265.5)" fill="url(#h21)"/>
<rect x="835" y="-4.7" width="2" height="9.4" transform="matrix(1 0 0 35.517 0 265.5)" fill="url(#h21)"/>
<rect x="837" y="-4.7" width="2" height="9.4" transform="matrix(1 0 0 35.551 0 265.5)" fill="url(#h21)"/>
<rect x="839" y="-4.7" width="2" height="9.4" transform="matrix(1 0 0 35.567 0 265.5)" fill="url(#h21)"/>
<rect x="841" y="-4.7" width="2" height="9.4" transform="matrix(1 0 0 35.568 0 265.5)" fill="url(#h21)"/>
<rect x="843" y="-4.7" width="2" height="9.4" transform="matrix(1 0 0 35.552 0 265.5)" fill="url(#h21)"/>
<rect x="845" y="-4.7" width="2" height="9.4" transform="matrix(1 0 0 35.519 0 265.5)" fill="url(#h21)"/>
<rect x="847" y="-4.7" width="2" height="9.4" transform="matrix(1 0 0 35.471 0 265.5)" fill="url(#h21)"/>
<rect x="849" y="-4.7" width="2" height="9.4" transform="matrix(1 0 0 35.406 0 265.5)" fill="url(#h21)"/>
<rect x="851" y="-4.7" width="2" height="9.4" transform="matrix(1 0 0 35.325 0 265.5)" fill="url(#h21)"/>
<rect x="853" y="-4.7" width="2" height="9.4" transform="matrix(1 0 0 35.229 0 265.5)" fill="url(#h21)"/>
<rect x="855" y="-4.7" width="2" height="9.4" transform="matrix(1 0 0 35.116 0 265.5)" fill="url(#h21)"/>
<rect x="857" y="-4.7" width="2" height="9.4" transform="matrix(1 0 0 34.988 0 265.5)" fill="url(#h21)"/>
<rect x="859" y="-4.7" width="2" height="9.4" transform="matrix(1 0 0 34.845 0 265.5)" fill="url(#h22)"/>
<rect x="861" y="-4.7" width="2" height="9.4" transform="matrix(1 0 0 34.685 0 265.5)" fill="url(#h22)"/>
<rect x="863" y="-4.7" width="2" height="9.4" transform="matrix(1 0 0 34.511 0 265.5)" fill="url(#h22)"/>
<rect x="865" y="-4.7" width="2" height="9.4" transform="matrix(1 0 0 34.322 0 265.5)" fill="url(#h22)"/>
<rect x="867" y="-4.7" width="2" height="9.4" transform="matrix(1 0 0 34.117 0 265.5)" fill="url(#h22)"/>
<rect x="869" y="-4.7" width="2" height="9.4" transform="matrix(1 0 0 33.898 0 265.5)" fill="url(#h22)"/>
<rect x="871" y="-4.7" width="2" height="9.4" transform="matrix(1 0 0 33.664 0 265.5)" fill="url(#h23)"/>
<rect x="873" y="-4.7" width="2" height="9.4" transform="matrix(1 0 0 33.416 0 265.5)" fill="url(#h23)"/>
<rect x="875" y="-4.7" width="2" height="9.4" transform="matrix(1 0 0 33.153 0 265.5)" fill="url(#h23)"/>
<rect x="877" y="-4.7" width="2" height="9.4" transform="matrix(1 0 0 32.877 0 265.5)" fill="url(#h23)"/>
<rect x="879" y="-4.7" width="2" height="9.4" transform="matrix(1 0 0 32.586 0 265.5)" fill="url(#h24)"/>
<rect x="881" y="-4.7" width="2" height="9.4" transform="matrix(1 0 0 32.282 0 265.5)" fill="url(#h24)"/>
<rect x="883" y="-4.7" width="2" height="9.4" transform="matrix(1 0 0 31.965 0 265.5)" fill="url(#h24)"/>
<rect x="885" y="-4.7" width="2" height="9.4" transform="matrix(1 0 0 31.634 0 265.5)" fill="url(#h25)"/>
<rect x="887" y="-4.7" width="2" height="9.4" transform="matrix(1 0 0 31.29 0 265.5)" fill="url(#h25)"/>
<rect x="889" y="-4.7" width="2" height="9.4" transform="matrix(1 0 0 30.934 0 265.5)" fill="url(#h26)"/>
<rect x="891" y="-4.7" width="2" height="9.4" transform="matrix(1 0 0 30.565 0 265.5)" fill="url(#h26)"/>
<rect x="893" y="-4.7" width="2" height="9.4" transform="matrix(1 0 0 30.183 0 265.5)" fill="url(#h26)"/>
<rect x="895" y="-4.7" width="2" height="9.4" transform="matrix(1 0 0 29.79 0 265.5)" fill="url(#h27)"/>
<rect x="897" y="-4.7" width="2" height="9.4" transform="matrix(1 0 0 29.385 0 265.5)" fill="url(#h27)"/>
<rect x="899" y="-4.7" width="2" height="9.4" transform="matrix(1 0 0 28.969 0 265.5)" fill="url(#h28)"/>
<rect x="901" y="-4.7" width="2" height="9.4" transform="matrix(1 0 0 28.541 0 265.5)" fill="url(#h28)"/>
<rect x="903" y="-4.7" width="2" height="9.4" transform="matrix(1 0 0 28.102 0 265.5)" fill="url(#h29)"/>
<rect x="905" y="-4.7" width="2" height="9.4" transform="matrix(1 0 0 27.653 0 265.5)" fill="url(#h29)"/>
<rect x="907" y="-4.7" width="2" height="9.4" transform="matrix(1 0 0 27.193 0 265.5)" fill="url(#h30)"/>
<rect x="909" y="-4.7" width="2" height="9.4" transform="matrix(1 0 0 26.724 0 265.5)" fill="url(#h30)"/>
<rect x="911" y="-4.7" width="2" height="9.4" transform="matrix(1 0 0 26.244 0 265.5)" fill="url(#h31)"/>
<rect x="913" y="-4.7" width="2" height="9.4" transform="matrix(1 0 0 25.755 0 265.5)" fill="url(#h32)"/>
<rect x="915" y="-4.7" width="2" height="9.4" transform="matrix(1 0 0 25.257 0 265.5)" fill="url(#h32)"/>
<rect x="917" y="-4.7" width="2" height="9.4" transform="matrix(1 0 0 24.75 0 265.5)" fill="url(#h33)"/>
<rect x="919" y="-4.7" width="2" height="9.4" transform="matrix(1 0 0 24.235 0 265.5)" fill="url(#h34)"/>
<rect x="921" y="-4.7" width="2" height="9.4" transform="matrix(1 0 0 23.712 0 265.5)" fill="url(#h34)"/>
<rect x="923" y="-4.7" width="2" height="9.4" transform="matrix(1 0 0 23.18 0 265.5)" fill="url(#h35)"/>
<rect x="925" y="-4.7" width="2" height="9.4" transform="matrix(1 0 0 22.642 0 265.5)" fill="url(#h36)"/>
<rect x="927" y="-4.7" width="2" height="9.4" transform="matrix(1 0 0 22.096 0 265.5)" fill="url(#h37)"/>
<rect x="929" y="-4.7" width="2" height="9.4" transform="matrix(1 0 0 21.544 0 265.5)" fill="url(#h37)"/>
<rect x="931" y="-4.7" width="2" height="9.4" transform="matrix(1 0 0 20.985 0 265.5)" fill="url(#h38)"/>
<rect x="933" y="-4.7" width="2" height="9.4" transform="matrix(1 0 0 20.42 0 265.5)" fill="url(#h39)"/>
<rect x="935" y="-4.7" width="2" height="9.4" transform="matrix(1 0 0 19.85 0 265.5)" fill="url(#h40)"/>
<rect x="937" y="-4.7" width="2" height="9.4" transform="matrix(1 0 0 19.275 0 265.5)" fill="url(#h41)"/>
<rect x="939" y="-4.7" width="2" height="9.4" transform="matrix(1 0 0 18.696 0 265.5)" fill="url(#h42)"/>
<rect x="941" y="-4.7" width="2" height="9.4" transform="matrix(1 0 0 18.112 0 265.5)" fill="url(#h43)"/>
<rect x="943" y="-4.7" width="2" height="9.4" transform="matrix(1 0 0 17.525 0 265.5)" fill="url(#h44)"/>
<rect x="945" y="-4.7" width="2" height="9.4" transform="matrix(1 0 0 16.934 0 265.5)" fill="url(#h45)"/>
<rect x="947" y="-4.7" width="2" height="9.4" transform="matrix(1 0 0 16.341 0 265.5)" fill="url(#h47)"/>
<rect x="949" y="-4.7" width="2" height="9.4" transform="matrix(1 0 0 15.746 0 265.5)" fill="url(#h48)"/>
<rect x="951" y="-4.7" width="2" height="9.4" transform="matrix(1 0 0 15.15 0 265.5)" fill="url(#h49)"/>
<rect x="953" y="-4.7" width="2" height="9.4" transform="matrix(1 0 0 14.554 0 265.5)" fill="url(#h50)"/>
<rect x="955" y="-4.7" width="2" height="9.4" transform="matrix(1 0 0 13.957 0 265.5)" fill="url(#h52)"/>
<rect x="957" y="-4.7" width="2" height="9.4" transform="matrix(1 0 0 13.362 0 265.5)" fill="url(#h53)"/>
<rect x="959" y="-4.7" width="2" height="9.4" transform="matrix(1 0 0 12.768 0 265.5)" fill="url(#h55)"/>
<rect x="961" y="-4.7" width="2" height="9.4" transform="matrix(1 0 0 12.178 0 265.5)" fill="url(#h56)"/>
<rect x="963" y="-4.7" width="2" height="9.4" transform="matrix(1 0 0 11.591 0 265.5)" fill="url(#h58)"/>
<rect x="965" y="-4.7" width="2" height="9.4" transform="matrix(1 0 0 11.01 0 265.5)" fill="url(#h60)"/>
<rect x="967" y="-4.7" width="2" height="9.4" transform="matrix(1 0 0 10.437 0 265.5)" fill="url(#h61)"/>
<rect x="969" y="-4.7" width="2" height="9.4" transform="matrix(1 0 0 9.872 0 265.5)" fill="url(#h63)"/>
<rect x="971" y="-4.7" width="2" height="9.4" transform="matrix(1 0 0 9.319 0 265.5)" fill="url(#h65)"/>
<rect x="973" y="-4.7" width="2" height="9.4" transform="matrix(1 0 0 8.779 0 265.5)" fill="url(#h67)"/>
<rect x="975" y="-4.7" width="2" height="9.4" transform="matrix(1 0 0 8.256 0 265.5)" fill="url(#h69)"/>
<rect x="977" y="-4.7" width="2" height="9.4" transform="matrix(1 0 0 7.754 0 265.5)" fill="url(#h71)"/>
<rect x="979" y="-4.7" width="2" height="9.4" transform="matrix(1 0 0 7.277 0 265.5)" fill="url(#h73)"/>
<rect x="981" y="-4.7" width="2" height="9.4" transform="matrix(1 0 0 6.831 0 265.5)" fill="url(#h75)"/>
<rect x="983" y="-4.7" width="2" height="9.4" transform="matrix(1 0 0 6.422 0 265.5)" fill="url(#h78)"/>
<rect x="985" y="-4.7" width="2" height="9.4" transform="matrix(1 0 0 6.058 0 265.5)" fill="url(#h79)"/>
<rect x="987" y="-4.7" width="2" height="9.4" transform="matrix(1 0 0 5.746 0 265.5)" fill="url(#h81)"/>
<rect x="989" y="-4.7" width="2" height="9.4" transform="matrix(1 0 0 5.496 0 265.5)" fill="url(#h83)"/>
<rect x="991" y="-4.7" width="2" height="9.4" transform="matrix(1 0 0 5.315 0 265.5)" fill="url(#h84)"/>
<rect x="993" y="-4.7" width="2" height="9.4" transform="matrix(1 0 0 5.21 0 265.5)" fill="url(#h84)"/>
<rect x="995" y="-4.7" width="2" height="9.4" transform="matrix(1 0 0 5.185 0 265.5)" fill="url(#h85)"/>
<rect x="997" y="-4.7" width="2" height="9.4" transform="matrix(1 0 0 5.24 0 265.5)" fill="url(#h84)"/>
<rect x="999" y="-4.7" width="2" height="9.4" transform="matrix(1 0 0 5.37 0 265.5)" fill="url(#h83)"/>
<rect x="1001" y="-4.7" width="2" height="9.4" transform="matrix(1 0 0 5.571 0 265.5)" fill="url(#h82)"/>
<rect x="1003" y="-4.7" width="2" height="9.4" transform="matrix(1 0 0 5.833 0 265.5)" fill="url(#h81)"/>
<rect x="1005" y="-4.7" width="2" height="9.4" transform="matrix(1 0 0 6.146 0 265.5)" fill="url(#h79)"/>
<rect x="1007" y="-4.7" width="2" height="9.4" transform="matrix(1 0 0 6.503 0 265.5)" fill="url(#h77)"/>
<rect x="1009" y="-4.7" width="2" height="9.4" transform="matrix(1 0 0 6.895 0 265.5)" fill="url(#h75)"/>
<rect x="1011" y="-4.7" width="2" height="9.4" transform="matrix(1 0 0 7.315 0 265.5)" fill="url(#h73)"/>
<rect x="1013" y="-4.7" width="2" height="9.4" transform="matrix(1 0 0 7.758 0 265.5)" fill="url(#h71)"/>
<rect x="1015" y="-4.7" width="2" height="9.4" transform="matrix(1 0 0 8.217 0 265.5)" fill="url(#h69)"/>
<rect x="1017" y="-4.7" width="2" height="9.4" transform="matrix(1 0 0 8.69 0 265.5)" fill="url(#h68)"/>
<rect x="1019" y="-4.7" width="2" height="9.4" transform="matrix(1 0 0 9.172 0 265.5)" fill="url(#h66)"/>
<rect x="1021" y="-4.7" width="2" height="9.4" transform="matrix(1 0 0 9.662 0 265.5)" fill="url(#h64)"/>
<rect x="1023" y="-4.7" width="2" height="9.4" transform="matrix(1 0 0 10.156 0 265.5)" fill="url(#h62)"/>
<rect x="1025" y="-4.7" width="2" height="9.4" transform="matrix(1 0 0 10.653 0 265.5)" fill="url(#h61)"/>
<rect x="1027" y="-4.7" width="2" height="9.4" transform="matrix(1 0 0 11.151 0 265.5)" fill="url(#h59)"/>
<rect x="1029" y="-4.7" width="2" height="9.4" transform="matrix(1 0 0 11.649 0 265.5)" fill="url(#h58)"/>
<rect x="1031" y="-4.7" width="2" height="9.4" transform="matrix(1 0 0 12.145 0 265.5)" fill="url(#h56)"/>
<rect x="1033" y="-4.7" width="2" height="9.4" transform="matrix(1 0 0 12.639 0 265.5)" fill="url(#h55)"/>
<rect x="1035" y="-4.7" width="2" height="9.4" transform="matrix(1 0 0 13.13 0 265.5)" fill="url(#h54)"/>
<rect x="1037" y="-4.7" width="2" height="9.4" transform="matrix(1 0 0 13.616 0 265.5)" fill="url(#h53)"/>
<rect x="1039" y="-4.7" width="2" height="9.4" transform="matrix(1 0 0 14.098 0 265.5)" fill="url(#h52)"/>
<rect x="1041" y="-4.7" width="2" height="9.4" transform="matrix(1 0 0 14.575 0 265.5)" fill="url(#h50)"/>
<rect x="1043" y="-4.7" width="2" height="9.4" transform="matrix(1 0 0 15.045 0 265.5)" fill="url(#h49)"/>
<rect x="1045" y="-4.7" width="2" height="9.4" transform="matrix(1 0 0 15.509 0 265.5)" fill="url(#h48)"/>
<rect x="1047" y="-4.7" width="2" height="9.4" transform="matrix(1 0 0 15.966 0 265.5)" fill="url(#h47)"/>
<rect x="1049" y="-4.7" width="2" height="9.4" transform="matrix(1 0 0 16.416 0 265.5)" fill="url(#h46)"/>
<rect x="1051" y="-4.7" width="2" height="9.4" transform="matrix(1 0 0 16.858 0 265.5)" fill="url(#h46)"/>
<rect x="1053" y="-4.7" width="2" height="9.4" transform="matrix(1 0 0 17.292 0 265.5)" fill="url(#h45)"/>
<rect x="1055" y="-4.7" width="2" height="9.4" transform="matrix(1 0 0 17.718 0 265.5)" fill="url(#h44)"/>
<rect x="1057" y="-4.7" width="2" height="9.4" transform="matrix(1 0 0 18.135 0 265.5)" fill="url(#h43)"/>
<rect x="1059" y="-4.7" width="2" height="9.4" transform="matrix(1 0 0 18.543 0 265.5)" fill="url(#h42)"/>
<rect x="1061" y="-4.7" width="2" height="9.4" transform="matrix(1 0 0 18.942 0 265.5)" fill="url(#h42)"/>
<rect x="1063" y="-4.7" width="2" height="9.4" transform="matrix(1 0 0 19.331 0 265.5)" fill="url(#h41)"/>
<rect x="1065" y="-4.7" width="2" height="9.4" transform="matrix(1 0 0 19.711 0 265.5)" fill="url(#h40)"/>
<rect x="1067" y="-4.7" width="2" height="9.4" transform="matrix(1 0 0 20.081 0 265.5)" fill="url(#h40)"/>
<rect x="1069" y="-4.7" width="2" height="9.4" transform="matrix(1 0 0 20.441 0 265.5)" fill="url(#h39)"/>
<rect x="1071" y="-4.7" width="2" height="9.4" transform="matrix(1 0 0 20.79 0 265.5)" fill="url(#h39)"/>
<rect x="1073" y="-4.7" width="2" height="9.4" transform="matrix(1 0 0 21.129 0 265.5)" fill="url(#h38)"/>
<rect x="1075" y="-4.7" width="2" height="9.4" transform="matrix(1 0 0 21.458 0 265.5)" fill="url(#h38)"/>
<rect x="1077" y="-4.7" width="2" height="9.4" transform="matrix(1 0 0 21.775 0 265.5)" fill="url(#h37)"/>
<rect x="1079" y="-4.7" width="2" height="9.4" transform="matrix(1 0 0 22.082 0 265.5)" fill="url(#h37)"/>
<rect x="1081" y="-4.7" width="2" height="9.4" transform="matrix(1 0 0 22.377 0 265.5)" fill="url(#h36)"/>
<rect x="1083" y="-4.7" width="2" height="9.4" transform="matrix(1 0 0 22.662 0 265.5)" fill="url(#h36)"/>
<rect x="1085" y="-4.7" width="2" height="9.4" transform="matrix(1 0 0 22.935 0 265.5)" fill="url(#h35)"/>
<rect x="1087" y="-4.7" width="2" height="9.4" transform="matrix(1 0 0 23.196 0 265.5)" fill="url(#h35)"/>
<rect x="1089" y="-4.7" width="2" height="9.4" transform="matrix(1 0 0 23.447 0 265.5)" fill="url(#h35)"/>
<rect x="1091" y="-4.7" width="2" height="9.4" transform="matrix(1 0 0 23.685 0 265.5)" fill="url(#h34)"/>
<rect x="1093" y="-4.7" width="2" height="9.4" transform="matrix(1 0 0 23.912 0 265.5)" fill="url(#h34)"/>
<rect x="1095" y="-4.7" width="2" height="9.4" transform="matrix(1 0 0 24.127 0 265.5)" fill="url(#h34)"/>
<rect x="1097" y="-4.7" width="2" height="9.4" transform="matrix(1 0 0 24.33 0 265.5)" fill="url(#h33)"/>
<rect x="1099" y="-4.7" width="2" height="9.4" transform="matrix(1 0 0 24.521 0 265.5)" fill="url(#h33)"/>
<rect x="1101" y="-4.7" width="2" height="9.4" transform="matrix(1 0 0 24.7 0 265.5)" fill="url(#h33)"/>
<rect x="1103" y="-4.7" width="2" height="9.4" transform="matrix(1 0 0 24.868 0 265.5)" fill="url(#h33)"/>
<rect x="1105" y="-4.7" width="2" height="9.4" transform="matrix(1 0 0 25.023 0 265.5)" fill="url(#h33)"/>
<rect x="1107" y="-4.7" width="2" height="9.4" transform="matrix(1 0 0 25.166 0 265.5)" fill="url(#h32)"/>
<rect x="1109" y="-4.7" width="2" height="9.4" transform="matrix(1 0 0 25.297 0 265.5)" fill="url(#h32)"/>
<rect x="1111" y="-4.7" width="2" height="9.4" transform="matrix(1 0 0 25.416 0 265.5)" fill="url(#h32)"/>
<rect x="1113" y="-4.7" width="2" height="9.4" transform="matrix(1 0 0 25.522 0 265.5)" fill="url(#h32)"/>
<rect x="1115" y="-4.7" width="2" height="9.4" transform="matrix(1 0 0 25.617 0 265.5)" fill="url(#h32)"/>
<rect x="1117" y="-4.7" width="2" height="9.4" transform="matrix(1 0 0 25.699 0 265.5)" fill="url(#h32)"/>
<rect x="1119" y="-4.7" width="2" height="9.4" transform="matrix(1 0 0 25.769 0 265.5)" fill="url(#h32)"/>
<rect x="1121" y="-4.7" width="2" height="9.4" transform="matrix(1 0 0 25.827 0 265.5)" fill="url(#h31)"/>
<rect x="1123" y="-4.7" width="2" height="9.4" transform="matrix(1 0 0 25.873 0 265.5)" fill="url(#h31)"/>
<rect x="1125" y="-4.7" width="2" height="9.4" transform="matrix(1 0 0 25.907 0 265.5)" fill="url(#h31)"/>
<rect x="1127" y="-4.7" width="2" height="9.4" transform="matrix(1 0 0 25.929 0 265.5)" fill="url(#h31)"/>
<rect x="1129" y="-4.7" width="2" height="9.4" transform="matrix(1 0 0 25.938 0 265.5)" fill="url(#h31)"/>
<rect x="1131" y="-4.7" width="2" height="9.4" transform="matrix(1 0 0 25.936 0 265.5)" fill="url(#h31)"/>
<rect x="1133" y="-4.7" width="2" height="9.4" transform="matrix(1 0 0 25.922 0 265.5)" fill="url(#h31)"/>
<rect x="1135" y="-4.7" width="2" height="9.4" transform="matrix(1 0 0 25.896 0 265.5)" fill="url(#h31)"/>
<rect x="1137" y="-4.7" width="2" height="9.4" transform="matrix(1 0 0 25.858 0 265.5)" fill="url(#h31)"/>
<rect x="1139" y="-4.7" width="2" height="9.4" transform="matrix(1 0 0 25.808 0 265.5)" fill="url(#h31)"/>
<rect x="1141" y="-4.7" width="2" height="9.4" transform="matrix(1 0 0 25.747 0 265.5)" fill="url(#h32)"/>
<rect x="1143" y="-4.7" width="2" height="9.4" transform="matrix(1 0 0 25.674 0 265.5)" fill="url(#h32)"/>
<rect x="1145" y="-4.7" width="2" height="9.4" transform="matrix(1 0 0 25.59 0 265.5)" fill="url(#h32)"/>
<rect x="1147" y="-4.7" width="2" height="9.4" transform="matrix(1 0 0 25.494 0 265.5)" fill="url(#h32)"/>
<rect x="1149" y="-4.7" width="2" height="9.4" transform="matrix(1 0 0 25.387 0 265.5)" fill="url(#h32)"/>
<rect x="1151" y="-4.7" width="2" height="9.4" transform="matrix(1 0 0 25.269 0 265.5)" fill="url(#h32)"/>
<rect x="1153" y="-4.7" width="2" height="9.4" transform="matrix(1 0 0 25.139 0 265.5)" fill="url(#h32)"/>
<rect x="1155" y="-4.7" width="2" height="9.4" transform="matrix(1 0 0 24.999 0 265.5)" fill="url(#h33)"/>
<rect x="1157" y="-4.7" width="2" height="9.4" transform="matrix(1 0 0 24.847 0 265.5)" fill="url(#h33)"/>
<rect x="1159" y="-4.7" width="2" height="9.4" transform="matrix(1 0 0 24.685 0 265.5)" fill="url(#h33)"/>
<rect x="1161" y="-4.7" width="2" height="9.4" transform="matrix(1 0 0 24.512 0 265.5)" fill="url(#h33)"/>
<rect x="1163" y="-4.7" width="2" height="9.4" transform="matrix(1 0 0 24.329 0 265.5)" fill="url(#h33)"/>
<rect x="1165" y="-4.7" width="2" height="9.4" transform="matrix(1 0 0 24.135 0 265.5)" fill="url(#h34)"/>
<rect x="1167" y="-4.7" width="2" height="9.4" transform="matrix(1 0 0 23.932 0 265.5)" fill="url(#h34)"/>
<rect x="1169" y="-4.7" width="2" height="9.4" transform="matrix(1 0 0 23.718 0 265.5)" fill="url(#h34)"/>
<rect x="1171" y="-4.7" width="2" height="9.4" transform="matrix(1 0 0 23.494 0 265.5)" fill="url(#h35)"/>
<rect x="1173" y="-4.7" width="2" height="9.4" transform="matrix(1 0 0 23.26 0 265.5)" fill="url(#h35)"/>
<rect x="1175" y="-4.7" width="2" height="9.4" transform="matrix(1 0 0 23.017 0 265.5)" fill="url(#h35)"/>
<rect x="1177" y="-4.7" width="2" height="9.4" transform="matrix(1 0 0 22.764 0 265.5)" fill="url(#h36)"/>
<rect x="1179" y="-4.7" width="2" height="9.4" transform="matrix(1 0 0 22.503 0 265.5)" fill="url(#h36)"/>
<rect x="1181" y="-4.7" width="2" height="9.4" transform="matrix(1 0 0 22.232 0 265.5)" fill="url(#h36)"/>
<rect x="1183" y="-4.7" width="2" height="9.4" transform="matrix(1 0 0 21.952 0 265.5)" fill="url(#h37)"/>
<rect x="1185" y="-4.7" width="2" height="9.4" transform="matrix(1 0 0 21.663 0 265.5)" fill="url(#h37)"/>
<rect x="1187" y="-4.7" width="2" height="9.4" transform="matrix(1 0 0 21.366 0 265.5)" fill="url(#h38)"/>
<rect x="1189" y="-4.7" width="2" height="9.4" transform="matrix(1 0 0 21.061 0 265.5)" fill="url(#h38)"/>
<rect x="1191" y="-4.7" width="2" height="9.4" transform="matrix(1 0 0 20.747 0 265.5)" fill="url(#h39)"/>
<rect x="1193" y="-4.7" width="2" height="9.4" transform="matrix(1 0 0 20.425 0 265.5)" fill="url(#h39)"/>
<rect x="1195" y="-4.7" width="2" height="9.4" transform="matrix(1 0 0 20.096 0 265.5)" fill="url(#h40)"/>
<rect x="1197" y="-4.7" width="2" height="9.4" transform="matrix(1 0 0 19.759 0 265.5)" fill="url(#h40)"/>
<rect x="1199" y="-4.7" width="2" height="9.4" transform="matrix(1 0 0 19.415 0 265.5)" fill="url(#h41)"/>
<rect x="1201" y="-4.7" width="2" height="9.4" transform="matrix(1 0 0 19.064 0 265.5)" fill="url(#h42)"/>
<rect x="1203" y="-4.7" width="2" height="9.4" transform="matrix(1 0 0 18.706 0 265.5)" fill="url(#h42)"/>
<rect x="1205" y="-4.7" width="2" height="9.4" transform="matrix(1 0 0 18.342 0 265.5)" fill="url(#h43)"/>
<rect x="1207" y="-4.7" width="2" height="9.4" transform="matrix(1 0 0 17.971 0 265.5)" fill="url(#h43)"/>
<rect x="1209" y="-4.7" width="2" height="9.4" transform="matrix(1 0 0 17.594 0 265.5)" fill="url(#h44)"/>
<rect x="1211" y="-4.7" width="2" height="9.4" transform="matrix(1 0 0 17.211 0 265.5)" fill="url(#h45)"/>
<rect x="1213" y="-4.7" width="2" height="9.4" transform="matrix(1 0 0 16.822 0 265.5)" fill="url(#h46)"/>
<rect x="1215" y="-4.7" width="2" height="9.4" transform="matrix(1 0 0 16.428 0 265.5)" fill="url(#h46)"/>
<rect x="1217" y="-4.7" width="2" height="9.4" transform="matrix(1 0 0 16.029 0 265.5)" fill="url(#h47)"/>
<rect x="1219" y="-4.7" width="2" height="9.4" transform="matrix(1 0 0 15.626 0 265.5)" fill="url(#h48)"/>
<rect x="1221" y="-4.7" width="2" height="9.4" transform="matrix(1 0 0 15.217 0 265.5)" fill="url(#h49)"/>
<rect x="1223" y="-4.7" width="2" height="9.4" transform="matrix(1 0 0 14.805 0 265.5)" fill="url(#h50)"/>
<rect x="1225" y="-4.7" width="2" height="9.4" transform="matrix(1 0 0 14.388 0 265.5)" fill="url(#h51)"/>
<rect x="1227" y="-4.7" width="2" height="9.4" transform="matrix(1 0 0 13.968 0 265.5)" fill="url(#h52)"/>
<rect x="1229" y="-4.7" width="2" height="9.4" transform="matrix(1 0 0 13.545 0 265.5)" fill="url(#h53)"/>
<rect x="1231" y="-4.7" width="2" height="9.4" transform="matrix(1 0 0 13.118 0 265.5)" fill="url(#h54)"/>
<rect x="1233" y="-4.7" width="2" height="9.4" transform="matrix(1 0 0 12.69 0 265.5)" fill="url(#h55)"/>
<rect x="1235" y="-4.7" width="2" height="9.4" transform="matrix(1 0 0 12.259 0 265.5)" fill="url(#h56)"/>
<rect x="1237" y="-4.7" width="2" height="9.4" transform="matrix(1 0 0 11.826 0 265.5)" fill="url(#h57)"/>
<rect x="1239" y="-4.7" width="2" height="9.4" transform="matrix(1 0 0 11.392 0 265.5)" fill="url(#h59)"/>
<rect x="1241" y="-4.7" width="2" height="9.4" transform="matrix(1 0 0 10.957 0 265.5)" fill="url(#h60)"/>
<rect x="1243" y="-4.7" width="2" height="9.4" transform="matrix(1 0 0 10.522 0 265.5)" fill="url(#h61)"/>
<rect x="1245" y="-4.7" width="2" height="9.4" transform="matrix(1 0 0 10.087 0 265.5)" fill="url(#h63)"/>
<rect x="1247" y="-4.7" width="2" height="9.4" transform="matrix(1 0 0 9.653 0 265.5)" fill="url(#h64)"/>
<rect x="1249" y="-4.7" width="2" height="9.4" transform="matrix(1 0 0 9.221 0 265.5)" fill="url(#h66)"/>
<rect x="1251" y="-4.7" width="2" height="9.4" transform="matrix(1 0 0 8.79 0 265.5)" fill="url(#h67)"/>
<rect x="1253" y="-4.7" width="2" height="9.4" transform="matrix(1 0 0 8.364 0 265.5)" fill="url(#h69)"/>
<rect x="1255" y="-4.7" width="2" height="9.4" transform="matrix(1 0 0 7.941 0 265.5)" fill="url(#h70)"/>
<rect x="1257" y="-4.7" width="2" height="9.4" transform="matrix(1 0 0 7.524 0 265.5)" fill="url(#h72)"/>
<rect x="1259" y="-4.7" width="2" height="9.4" transform="matrix(1 0 0 7.114 0 265.5)" fill="url(#h74)"/>
<rect x="1261" y="-4.7" width="2" height="9.4" transform="matrix(1 0 0 6.712 0 265.5)" fill="url(#h76)"/>
<rect x="1263" y="-4.7" width="2" height="9.4" transform="matrix(1 0 0 6.321 0 265.5)" fill="url(#h78)"/>
<rect x="1265" y="-4.7" width="2" height="9.4" transform="matrix(1 0 0 5.943 0 265.5)" fill="url(#h80)"/>
<rect x="1267" y="-4.7" width="2" height="9.4" transform="matrix(1 0 0 5.58 0 265.5)" fill="url(#h82)"/>
<rect x="1269" y="-4.7" width="2" height="9.4" transform="matrix(1 0 0 5.237 0 265.5)" fill="url(#h84)"/>
<rect x="1271" y="-4.7" width="2" height="9.4" transform="matrix(1 0 0 4.917 0 265.5)" fill="url(#h86)"/>
<rect x="1273" y="-4.7" width="2" height="9.4" transform="matrix(1 0 0 4.625 0 265.5)" fill="url(#h88)"/>
<rect x="1275" y="-4.7" width="2" height="9.4" transform="matrix(1 0 0 4.367 0 265.5)" fill="url(#h90)"/>
<rect x="1277" y="-4.7" width="2" height="9.4" transform="matrix(1 0 0 4.148 0 265.5)" fill="url(#h92)"/>
<rect x="1279" y="-4.7" width="2" height="9.4" transform="matrix(1 0 0 3.976 0 265.5)" fill="url(#h93)"/>
<rect x="1281" y="-4.7" width="2" height="9.4" transform="matrix(1 0 0 3.855 0 265.5)" fill="url(#h94)"/>
<rect x="1283" y="-4.7" width="2" height="9.4" transform="matrix(1 0 0 3.791 0 265.5)" fill="url(#h95)"/>
<rect x="1285" y="-4.7" width="2" height="9.4" transform="matrix(1 0 0 3.785 0 265.5)" fill="url(#h95)"/>
<rect x="1287" y="-4.7" width="2" height="9.4" transform="matrix(1 0 0 3.837 0 265.5)" fill="url(#h95)"/>
<rect x="1289" y="-4.7" width="2" height="9.4" transform="matrix(1 0 0 3.943 0 265.5)" fill="url(#h94)"/>
<rect x="1291" y="-4.7" width="2" height="9.4" transform="matrix(1 0 0 4.099 0 265.5)" fill="url(#h92)"/>
<rect x="1293" y="-4.7" width="2" height="9.4" transform="matrix(1 0 0 4.298 0 265.5)" fill="url(#h91)"/>
<rect x="1295" y="-4.7" width="2" height="9.4" transform="matrix(1 0 0 4.534 0 265.5)" fill="url(#h89)"/>
<rect x="1297" y="-4.7" width="2" height="9.4" transform="matrix(1 0 0 4.801 0 265.5)" fill="url(#h87)"/>
<rect x="1299" y="-4.7" width="2" height="9.4" transform="matrix(1 0 0 5.091 0 265.5)" fill="url(#h85)"/>
<rect x="1301" y="-4.7" width="2" height="9.4" transform="matrix(1 0 0 5.401 0 265.5)" fill="url(#h83)"/>
<rect x="1303" y="-4.7" width="2" height="9.4" transform="matrix(1 0 0 5.727 0 265.5)" fill="url(#h81)"/>
<rect x="1305" y="-4.7" width="2" height="9.4" transform="matrix(1 0 0 6.064 0 265.5)" fill="url(#h79)"/>
<rect x="1307" y="-4.7" width="2" height="9.4" transform="matrix(1 0 0 6.41 0 265.5)" fill="url(#h78)"/>
<rect x="1309" y="-4.7" width="2" height="9.4" transform="matrix(1 0 0 6.763 0 265.5)" fill="url(#h76)"/>
<rect x="1311" y="-4.7" width="2" height="9.4" transform="matrix(1 0 0 7.121 0 265.5)" fill="url(#h74)"/>
<rect x="1313" y="-4.7" width="2" height="9.4" transform="matrix(1 0 0 7.482 0 265.5)" fill="url(#h72)"/>
<rect x="1315" y="-4.7" width="2" height="9.4" transform="matrix(1 0 0 7.845 0 265.5)" fill="url(#h71)"/>
<rect x="1317" y="-4.7" width="2" height="9.4" transform="matrix(1 0 0 8.208 0 265.5)" fill="url(#h69)"/>
<rect x="1319" y="-4.7" width="2" height="9.4" transform="matrix(1 0 0 8.571 0 265.5)" fill="url(#h68)"/>
<rect x="1321" y="-4.7" width="2" height="9.4" transform="matrix(1 0 0 8.933 0 265.5)" fill="url(#h67)"/>
<rect x="1323" y="-4.7" width="2" height="9.4" transform="matrix(1 0 0 9.292 0 265.5)" fill="url(#h65)"/>
<rect x="1325" y="-4.7" width="2" height="9.4" transform="matrix(1 0 0 9.65 0 265.5)" fill="url(#h64)"/>
<rect x="1327" y="-4.7" width="2" height="9.4" transform="matrix(1 0 0 10.004 0 265.5)" fill="url(#h63)"/>
<rect x="1329" y="-4.7" width="2" height="9.4" transform="matrix(1 0 0 10.354 0 265.5)" fill="url(#h62)"/>
<rect x="1331" y="-4.7" width="2" height="9.4" transform="matrix(1 0 0 10.701 0 265.5)" fill="url(#h61)"/>
<rect x="1333" y="-4.7" width="2" height="9.4" transform="matrix(1 0 0 11.043 0 265.5)" fill="url(#h60)"/>
<rect x="1335" y="-4.7" width="2" height="9.4" transform="matrix(1 0 0 11.38 0 265.5)" fill="url(#h59)"/>
<rect x="1337" y="-4.7" width="2" height="9.4" transform="matrix(1 0 0 11.713 0 265.5)" fill="url(#h58)"/>
<rect x="1339" y="-4.7" width="2" height="9.4" transform="matrix(1 0 0 12.04 0 265.5)" fill="url(#h57)"/>
<rect x="1341" y="-4.7" width="2" height="9.4" transform="matrix(1 0 0 12.361 0 265.5)" fill="url(#h56)"/>
<rect x="1343" y="-4.7" width="2" height="9.4" transform="matrix(1 0 0 12.676 0 265.5)" fill="url(#h55)"/>
<rect x="1345" y="-4.7" width="2" height="9.4" transform="matrix(1 0 0 12.985 0 265.5)" fill="url(#h54)"/>
<rect x="1347" y="-4.7" width="2" height="9.4" transform="matrix(1 0 0 13.288 0 265.5)" fill="url(#h53)"/>
<rect x="1349" y="-4.7" width="2" height="9.4" transform="matrix(1 0 0 13.584 0 265.5)" fill="url(#h53)"/>
<rect x="1351" y="-4.7" width="2" height="9.4" transform="matrix(1 0 0 13.874 0 265.5)" fill="url(#h52)"/>
<rect x="1353" y="-4.7" width="2" height="9.4" transform="matrix(1 0 0 14.156 0 265.5)" fill="url(#h51)"/>
<rect x="1355" y="-4.7" width="2" height="9.4" transform="matrix(1 0 0 14.432 0 265.5)" fill="url(#h51)"/>
<rect x="1357" y="-4.7" width="2" height="9.4" transform="matrix(1 0 0 14.7 0 265.5)" fill="url(#h50)"/>
<rect x="1359" y="-4.7" width="2" height="9.4" transform="matrix(1 0 0 14.961 0 265.5)" fill="url(#h50)"/>
<rect x="1361" y="-4.7" width="2" height="9.4" transform="matrix(1 0 0 15.214 0 265.5)" fill="url(#h49)"/>
<rect x="1363" y="-4.7" width="2" height="9.4" transform="matrix(1 0 0 15.459 0 265.5)" fill="url(#h48)"/>
<rect x="1365" y="-4.7" width="2" height="9.4" transform="matrix(1 0 0 15.697 0 265.5)" fill="url(#h48)"/>
<rect x="1367" y="-4.7" width="2" height="9.4" transform="matrix(1 0 0 15.927 0 265.5)" fill="url(#h47)"/>
<rect x="1369" y="-4.7" width="2" height="9.4" transform="matrix(1 0 0 16.149 0 265.5)" fill="url(#h47)"/>
<rect x="1371" y="-4.7" width="2" height="9.4" transform="matrix(1 0 0 16.363 0 265.5)" fill="url(#h47)"/>
<rect x="1373" y="-4.7" width="2" height="9.4" transform="matrix(1 0 0 16.569 0 265.5)" fill="url(#h46)"/>
<rect x="1375" y="-4.7" width="2" height="9.4" transform="matrix(1 0 0 16.766 0 265.5)" fill="url(#h46)"/>
<rect x="1377" y="-4.7" width="2" height="9.4" transform="matrix(1 0 0 16.955 0 265.5)" fill="url(#h45)"/>
<rect x="1379" y="-4.7" width="2" height="9.4" transform="matrix(1 0 0 17.136 0 265.5)" fill="url(#h45)"/>
<rect x="1381" y="-4.7" width="2" height="9.4" transform="matrix(1 0 0 17.308 0 265.5)" fill="url(#h45)"/>
<rect x="1383" y="-4.7" width="2" height="9.4" transform="matrix(1 0 0 17.471 0 265.5)" fill="url(#h44)"/>
<rect x="1385" y="-4.7" width="2" height="9.4" transform="matrix(1 0 0 17.626 0 265.5)" fill="url(#h44)"/>
<rect x="1387" y="-4.7" width="2" height="9.4" transform="matrix(1 0 0 17.773 0 265.5)" fill="url(#h44)"/>
<rect x="1389" y="-4.7" width="2" height="9.4" transform="matrix(1 0 0 17.91 0 265.5)" fill="url(#h44)"/>
<rect x="1391" y="-4.7" width="2" height="9.4" transform="matrix(1 0 0 18.039 0 265.5)" fill="url(#h43)"/>
<rect x="1393" y="-4.7" width="2" height="9.4" transform="matrix(1 0 0 18.159 0 265.5)" fill="url(#h43)"/>
<rect x="1395" y="-4.7" width="2" height="9.4" transform="matrix(1 0 0 18.27 0 265.5)" fill="url(#h43)"/>
<rect x="1397" y="-4.7" width="2" height="9.4" transform="matrix(1 0 0 18.373 0 265.5)" fill="url(#h43)"/>
<rect x="1399" y="-4.7" width="2" height="9.4" transform="matrix(1 0 0 18.467 0 265.5)" fill="url(#h43)"/>
<rect x="1401" y="-4.7" width="2" height="9.4" transform="matrix(1 0 0 18.551 0 265.5)" fill="url(#h42)"/>
<rect x="1403" y="-4.7" width="2" height="9.4" transform="matrix(1 0 0 18.627 0 265.5)" fill="url(#h42)"/>
<rect x="1405" y="-4.7" width="2" height="9.4" transform="matrix(1 0 0 18.694 0 265.5)" fill="url(#h42)"/>
<rect x="1407" y="-4.7" width="2" height="9.4" transform="matrix(1 0 0 18.752 0 265.5)" fill="url(#h42)"/>
<rect x="1409" y="-4.7" width="2" height="9.4" transform="matrix(1 0 0 18.802 0 265.5)" fill="url(#h42)"/>
<rect x="1411" y="-4.7" width="2" height="9.4" transform="matrix(1 0 0 18.842 0 265.5)" fill="url(#h42)"/>
<rect x="1413" y="-4.7" width="2" height="9.4" transform="matrix(1 0 0 18.874 0 265.5)" fill="url(#h42)"/>
<rect x="1415" y="-4.7" width="2" height="9.4" transform="matrix(1 0 0 18.897 0 265.5)" fill="url(#h42)"/>
<rect x="1417" y="-4.7" width="2" height="9.4" transform="matrix(1 0 0 18.911 0 265.5)" fill="url(#h42)"/>
<rect x="1419" y="-4.7" width="2" height="9.4" transform="matrix(1 0 0 18.916 0 265.5)" fill="url(#h42)"/>
<rect x="1421" y="-4.7" width="2" height="9.4" transform="matrix(1 0 0 18.912 0 265.5)" fill="url(#h42)"/>
<rect x="1423" y="-4.7" width="2" height="9.4" transform="matrix(1 0 0 18.9 0 265.5)" fill="url(#h42)"/>
<rect x="1425" y="-4.7" width="2" height="9.4" transform="matrix(1 0 0 18.879 0 265.5)" fill="url(#h42)"/>
<rect x="1427" y="-4.7" width="2" height="9.4" transform="matrix(1 0 0 18.85 0 265.5)" fill="url(#h42)"/>
<rect x="1429" y="-4.7" width="2" height="9.4" transform="matrix(1 0 0 18.812 0 265.5)" fill="url(#h42)"/>
<rect x="1431" y="-4.7" width="2" height="9.4" transform="matrix(1 0 0 18.766 0 265.5)" fill="url(#h42)"/>
<rect x="1433" y="-4.7" width="2" height="9.4" transform="matrix(1 0 0 18.711 0 265.5)" fill="url(#h42)"/>
<rect x="1435" y="-4.7" width="2" height="9.4" transform="matrix(1 0 0 18.647 0 265.5)" fill="url(#h42)"/>
<rect x="1437" y="-4.7" width="2" height="9.4" transform="matrix(1 0 0 18.576 0 265.5)" fill="url(#h42)"/>
<rect x="1439" y="-4.7" width="2" height="9.4" transform="matrix(1 0 0 18.496 0 265.5)" fill="url(#h43)"/>
<rect x="1441" y="-4.7" width="2" height="9.4" transform="matrix(1 0 0 18.408 0 265.5)" fill="url(#h43)"/>
<rect x="1443" y="-4.7" width="2" height="9.4" transform="matrix(1 0 0 18.312 0 265.5)" fill="url(#h43)"/>
<rect x="1445" y="-4.7" width="2" height="9.4" transform="matrix(1 0 0 18.208 0 265.5)" fill="url(#h43)"/>
<rect x="1447" y="-4.7" width="2" height="9.4" transform="matrix(1 0 0 18.096 0 265.5)" fill="url(#h43)"/>
<rect x="1449" y="-4.7" width="2" height="9.4" transform="matrix(1 0 0 17.976 0 265.5)" fill="url(#h43)"/>
<rect x="1451" y="-4.7" width="2" height="9.4" transform="matrix(1 0 0 17.848 0 265.5)" fill="url(#h44)"/>
<rect x="1453" y="-4.7" width="2" height="9.4" transform="matrix(1 0 0 17.713 0 265.5)" fill="url(#h44)"/>
<rect x="1455" y="-4.7" width="2" height="9.4" transform="matrix(1 0 0 17.57 0 265.5)" fill="url(#h44)"/>
<rect x="1457" y="-4.7" width="2" height="9.4" transform="matrix(1 0 0 17.42 0 265.5)" fill="url(#h45)"/>
<rect x="1459" y="-4.7" width="2" height="9.4" transform="matrix(1 0 0 17.262 0 265.5)" fill="url(#h45)"/>
<rect x="1461" y="-4.7" width="2" height="9.4" transform="matrix(1 0 0 17.098 0 265.5)" fill="url(#h45)"/>
<rect x="1463" y="-4.7" width="2" height="9.4" transform="matrix(1 0 0 16.926 0 265.5)" fill="url(#h45)"/>
<rect x="1465" y="-4.7" width="2" height="9.4" transform="matrix(1 0 0 16.747 0 265.5)" fill="url(#h46)"/>
<rect x="1467" y="-4.7" width="2" height="9.4" transform="matrix(1 0 0 16.561 0 265.5)" fill="url(#h46)"/>
<rect x="1469" y="-4.7" width="2" height="9.4" transform="matrix(1 0 0 16.369 0 265.5)" fill="url(#h47)"/>
<rect x="1471" y="-4.7" width="2" height="9.4" transform="matrix(1 0 0 16.17 0 265.5)" fill="url(#h47)"/>
<rect x="1473" y="-4.7" width="2" height="9.4" transform="matrix(1 0 0 15.965 0 265.5)" fill="url(#h47)"/>
<rect x="1475" y="-4.7" width="2" height="9.4" transform="matrix(1 0 0 15.753 0 265.5)" fill="url(#h48)"/>
<rect x="1477" y="-4.7" width="2" height="9.4" transform="matrix(1 0 0 15.535 0 265.5)" fill="url(#h48)"/>
<rect x="1479" y="-4.7" width="2" height="9.4" transform="matrix(1 0 0 15.311 0 265.5)" fill="url(#h49)"/>
<rect x="1481" y="-4.7" width="2" height="9.4" transform="matrix(1 0 0 15.081 0 265.5)" fill="url(#h49)"/>
</g></g>
<g id="axes" fill="none" stroke="#000" stroke-width="4" stroke-linecap="butt">
<rect x="199" y="36" width="1284" height="1583"/>
<path d="M199 495H1483M199 1057H1483"/>
<path d="M290.7 495v-9.6M382.4 495v-20.5M474.1 495v-9.6M565.9 495v-20.5M657.6 495v-9.6M749.3 495v-20.5M841 495v-9.6M932.7 495v-20.5M1024.4 495v-9.6M1116.1 495v-20.5M1207.9 495v-9.6M1299.6 495v-20.5M1391.3 495v-9.6M290.7 1057v-9.6M382.4 1057v-20.5M474.1 1057v-9.6M565.9 1057v-20.5M657.6 1057v-9.6M749.3 1057v-20.5M841 1057v-9.6M932.7 1057v-20.5M1024.4 1057v-9.6M1116.1 1057v-20.5M1207.9 1057v-9.6M1299.6 1057v-20.5M1391.3 1057v-9.6M290.7 1619v-9.6M382.4 1619v-20.5M474.1 1619v-9.6M565.9 1619v-20.5M657.6 1619v-9.6M749.3 1619v-20.5M841 1619v-9.6M932.7 1619v-20.5M1024.4 1619v-9.6M1116.1 1619v-20.5M1207.9 1619v-9.6M1299.6 1619v-20.5M1391.3 1619v-9.6M199 444h20.5M199 354.8h20.5M199 265.5h20.5M199 176.2h20.5M199 87h20.5M199 488.6h9.6M199 399.4h9.6M199 310.1h9.6M199 220.9h9.6M199 131.6h9.6M199 42.4h9.6M199 1012h20.5M199 860h20.5M199 708h20.5M199 556h20.5M199 936h9.6M199 784h9.6M199 632h9.6M199 1464.7h20.5M199 1310.4h20.5M199 1156.1h20.5M199 1541.8h9.6M199 1387.5h9.6M199 1233.2h9.6M199 1079h9.6" stroke-width="3.4"/>
</g>
<g id="vlines" fill="none" stroke="#00f" stroke-dasharray="12.9 12.03">
<path d="M416.5 33.2V495" stroke-width="3.4"/>
<path d="M416.5 496.7V1057" stroke-width="3.4"/>
<path d="M416.5 1058.7V1619" stroke-width="3.4"/>
<path d="M553.35 33.2V495" stroke-width="2.9"/>
<path d="M553.35 496.7V1057" stroke-width="2.9"/>
<path d="M553.35 1058.7V1619" stroke-width="2.9"/>
<path d="M706 33.2V495" stroke-width="2.3"/>
<path d="M706 496.7V1057" stroke-width="2.3"/>
<path d="M706 1058.7V1619" stroke-width="2.3"/>
</g>
<g id="annB">
<path d="M436.4 590H533.4" stroke="#00f" stroke-width="2.1" fill="none"/><path d="M410.6 590l32.3 -7.7v15.4z" fill="#00f"/><path d="M559.2 590l-32.3 -7.7v15.4z" fill="#00f"/>
<path d="M573.2 590H686.3" stroke="#00f" stroke-width="2.1" fill="none"/><path d="M547.4 590l32.3 -7.7v15.4z" fill="#00f"/><path d="M712.1 590l-32.3 -7.7v15.4z" fill="#00f"/>
<text class="an m" transform="translate(485.2 573.2) scale(1 1.03)" style="fill:#00f">a</text>
<text class="an m" transform="translate(633.5 575) scale(1 1.03)" style="fill:#00f">b</text>
<path d="M966 864.6V1026.8" stroke="#00dc00" stroke-width="2.2" stroke-dasharray="12.9 11.95" fill="none"/>
<path d="M1057 864.6V1026.8" stroke="#00dc00" stroke-width="2.2" stroke-dasharray="12.9 11.95" fill="none"/>
<path d="M1400.7 864.6V1026.8" stroke="#00dc00" stroke-width="2.2" stroke-dasharray="12.9 11.95" fill="none"/>
<path d="M985.9 1011.4H1038.4" stroke="#00dc00" stroke-width="2.1" fill="none"/><path d="M960.1 1011.4l32.3 -7.7v15.4z" fill="#00dc00"/><path d="M1064.2 1011.4l-32.3 -7.7v15.4z" fill="#00dc00"/>
<path d="M1077.2 1011.4H1379.4" stroke="#00dc00" stroke-width="2.1" fill="none"/><path d="M1051.4 1011.4l32.3 -7.7v15.4z" fill="#00dc00"/><path d="M1405.2 1011.4l-32.3 -7.7v15.4z" fill="#00dc00"/>
<text class="an m" transform="translate(1015.6 993.8) scale(1 1.03)" style="fill:#00dc00">a'</text>
<text class="an m" transform="translate(1229.6 999.5) scale(1 1.03)" style="fill:#00dc00">b'</text>
</g>
<g id="panelB" fill="none" stroke-linejoin="round">
<path d="M199 860H1483" stroke="#000" stroke-width="2" shape-rendering="crispEdges"/>
<g clip-path="url(#cB)">
<path d="M199 893.3L200.8 891.6L202.7 889.7L204.5 887.7L206.3 885.6L208.2 883.5L210 881.2L211.8 878.9L213.7 876.5L215.5 874L217.3 871.4L219.2 868.7L221 866L222.8 863.1L224.7 860.3L226.5 857.3L228.3 854.3L230.2 851.3L232 848.2L233.9 845L235.7 841.8L237.5 838.6L239.4 835.3L241.2 832L243 828.6L244.9 825.2L246.7 821.8L248.5 818.4L250.4 815L252.2 811.6L254 808.1L255.9 804.7L257.7 801.3L259.5 797.8L261.4 794.4L263.2 791L265 787.6L266.9 784.3L268.7 780.9L270.5 777.6L272.4 774.4L274.2 771.2L276 768L277.9 764.8L279.7 761.8L281.5 758.7L283.4 755.8L285.2 752.9L287 750L288.9 747.2L290.7 744.5L292.5 741.9L294.4 739.4L296.2 736.9L298.1 734.5L299.9 732.2L301.7 730L303.6 727.9L305.4 725.9L307.2 724L309.1 722.2L310.9 720.4L312.7 718.8L314.6 717.3L316.4 715.9L318.2 714.6L320.1 713.5L321.9 712.4L323.7 711.5L325.6 710.6L327.4 709.9L329.2 709.3L331.1 708.8L332.9 708.5L334.7 708.2L336.6 708.1L338.4 708.1L340.2 708.2L342.1 708.4L343.9 708.8L345.7 709.2L347.6 709.8L349.4 710.5L351.2 711.3L353.1 712.3L354.9 713.3L356.7 714.5L358.6 715.7L360.4 717.1L362.3 718.6L364.1 720.2L365.9 721.9L367.8 723.7L369.6 725.6L371.4 727.6L373.3 729.7L375.1 731.9L376.9 734.2L378.8 736.5L380.6 739L382.4 741.5L384.3 744.1L386.1 746.8L387.9 749.6L389.8 752.4L391.6 755.3L393.4 758.3L395.3 761.3L397.1 764.4L398.9 767.5L400.8 770.7L402.6 773.9L404.4 777.2L406.3 780.4L408.1 783.8L409.9 787.1L411.8 790.5L413.6 793.9L415.4 797.3L417.3 800.7L419.1 804.2L420.9 807.6L422.8 811.1L424.6 814.5L426.5 817.9L428.3 821.3L430.1 824.7L432 828.1L433.8 831.5L435.6 834.8L437.5 838.1L439.3 841.3L441.1 844.5L443 847.7L444.8 850.8L446.6 853.9L448.5 856.9L450.3 859.8L452.1 862.7L454 865.5L455.8 868.3L457.6 871L459.5 873.6L461.3 876.1L463.1 878.5L465 880.9L466.8 883.2L468.6 885.3L470.5 887.4L472.3 889.4L474.1 891.3L476 893.1L477.8 894.8L479.6 896.3L481.5 897.8L483.3 899.2L485.1 900.4L487 901.6L488.8 902.6L490.7 903.5L492.5 904.3L494.3 905L496.2 905.6L498 906L499.8 906.3L501.7 906.5L503.5 906.6L505.3 906.6L507.2 906.5L509 906.2L510.8 905.8L512.7 905.3L514.5 904.7L516.3 903.9L518.2 903.1L520 902.1L521.8 901L523.7 899.8L525.5 898.5L527.3 897.1L529.2 895.6L531 894L532.8 892.2L534.7 890.4L536.5 888.5L538.3 886.4L540.2 884.3L542 882.1L543.8 879.8L545.7 877.4L547.5 874.9L549.3 872.4L551.2 869.7L553 867L554.9 864.2L556.7 861.4L558.5 858.5L560.4 855.5L562.2 852.4L564 849.3L565.9 846.2L567.7 843L569.5 839.8L571.4 836.5L573.2 833.2L575 829.9L576.9 826.5L578.7 823.1L580.5 819.7L582.4 816.3L584.2 812.9L586 809.4L587.9 806L589.7 802.6L591.5 799.1L593.4 795.7L595.2 792.3L597 788.9L598.9 785.5L600.7 782.2L602.5 778.9L604.4 775.6L606.2 772.4L608 769.2L609.9 766L611.7 762.9L613.5 759.9L615.4 756.9L617.2 754L619.1 751.1L620.9 748.3L622.7 745.6L624.6 742.9L626.4 740.3L628.2 737.8L630.1 735.4L631.9 733.1L633.7 730.9L635.6 728.7L637.4 726.7L639.2 724.7L641.1 722.8L642.9 721.1L644.7 719.4L646.6 717.9L648.4 716.5L650.2 715.1L652.1 713.9L653.9 712.8L655.7 711.8L657.6 710.9L659.4 710.2L661.2 709.5L663.1 709L664.9 708.6L666.7 708.3L668.6 708.1L670.4 708.1L672.2 708.1L674.1 708.3L675.9 708.6L677.7 709L679.6 709.6L681.4 710.2L683.3 711L685.1 711.9L686.9 712.9L688.8 714L690.6 715.2L692.4 716.6L694.3 718L696.1 719.6L697.9 721.2L699.8 723L701.6 724.9L703.4 726.8L705.3 728.9L707.1 731L708.9 733.3L710.8 735.6L712.6 738.1L714.4 740.6L716.3 743.1L718.1 745.8L719.9 748.5L721.8 751.3L723.6 754.2L725.4 757.2L727.3 760.1L729.1 763.2L730.9 766.3L732.8 769.5L734.6 772.7L736.4 775.9L738.3 779.2L740.1 782.5L741.9 785.8L743.8 789.2L745.6 792.6L747.5 796L749.3 799.4L751.1 802.9L753 806.3L754.8 809.8L756.6 813.2L758.5 816.6L760.3 820L762.1 823.4L764 826.8L765.8 830.2L767.6 833.5L769.5 836.8L771.3 840.1L773.1 843.3L775 846.5L776.8 849.6L778.6 852.7L780.5 855.7L782.3 858.7L784.1 861.6L786 864.5L787.8 867.3L789.6 870L791.5 872.6L793.3 875.1L795.1 877.6L797 880L798.8 882.3L800.6 884.5L802.5 886.6L804.3 888.7L806.1 890.6L808 892.4L809.8 894.1L811.7 895.7L813.5 897.3L815.3 898.7L817.2 900L819 901.1L820.8 902.2L822.7 903.2L824.5 904L826.3 904.7L828.2 905.3L830 905.8L831.8 906.2L833.7 906.5L835.5 906.6L837.3 906.6L839.2 906.5L841 906.3L842.8 906L844.7 905.5L846.5 904.9L848.3 904.2L850.2 903.4L852 902.5L853.8 901.5L855.7 900.3L857.5 899L859.3 897.7L861.2 896.2L863 894.6L864.8 892.9L866.7 891.1L868.5 889.2L870.3 887.2L872.2 885.1L874 883L875.9 880.7L877.7 878.3L879.5 875.9L881.4 873.3L883.2 870.7L885 868L886.9 865.3L888.7 862.5L890.5 859.6L892.4 856.6L894.2 853.6L896 850.5L897.9 847.4L899.7 844.2L901.5 841L903.4 837.8L905.2 834.5L907 831.2L908.9 827.8L910.7 824.4L912.5 821L914.4 817.6L916.2 814.2L918 810.7L919.9 807.3L921.7 803.9L923.5 800.4L925.4 797L927.2 793.6L929 790.2L930.9 786.8L932.7 783.5L934.5 780.1L936.4 776.9L938.2 773.6L940.1 770.4L941.9 767.2L943.7 764.1L945.6 761L947.4 758L949.2 755.1L951.1 752.2L952.9 749.3L954.7 746.6L956.6 743.9L958.4 741.3L960.2 738.8L962.1 736.3L963.9 734L965.7 731.7L967.6 729.5L969.4 727.4L971.2 725.4L973.1 723.5L974.9 721.7L976.7 720.1L978.6 718.5L980.4 717L982.2 715.6L984.1 714.4L985.9 713.2L987.7 712.2L989.6 711.2L991.4 710.4L993.2 709.8L995.1 709.2L996.9 708.7L998.7 708.4L1000.6 708.2L1002.4 708.1L1004.3 708.1L1006.1 708.2L1007.9 708.5L1009.8 708.9L1011.6 709.4L1013.4 710L1015.3 710.7L1017.1 711.5L1018.9 712.5L1020.8 713.6L1022.6 714.8L1024.4 716.1L1026.3 717.5L1028.1 719L1029.9 720.6L1031.8 722.3L1033.6 724.1L1035.4 726.1L1037.3 728.1L1039.1 730.2L1040.9 732.4L1042.8 734.7L1044.6 737.1L1046.4 739.6L1048.3 742.1L1050.1 744.8L1051.9 747.5L1053.8 750.3L1055.6 753.1L1057.4 756L1059.3 759L1061.1 762L1062.9 765.1L1064.8 768.3L1066.6 771.4L1068.5 774.7L1070.3 777.9L1072.1 781.2L1074 784.6L1075.8 787.9L1077.6 791.3L1079.5 794.7L1081.3 798.1L1083.1 801.6L1085 805L1086.8 808.4L1088.6 811.9L1090.5 815.3L1092.3 818.7L1094.1 822.1L1096 825.5L1097.8 828.9L1099.6 832.3L1101.5 835.6L1103.3 838.8L1105.1 842.1L1107 845.3L1108.8 848.4L1110.6 851.6L1112.5 854.6L1114.3 857.6L1116.1 860.5L1118 863.4L1119.8 866.2L1121.6 868.9L1123.5 871.6L1125.3 874.2L1127.1 876.7L1129 879.1L1130.8 881.4L1132.7 883.7L1134.5 885.8L1136.3 887.9L1138.2 889.9L1140 891.7L1141.8 893.5L1143.7 895.1L1145.5 896.7L1147.3 898.1L1149.2 899.5L1151 900.7L1152.8 901.8L1154.7 902.8L1156.5 903.7L1158.3 904.5L1160.2 905.1L1162 905.7L1163.8 906.1L1165.7 906.4L1167.5 906.6L1169.3 906.6L1171.2 906.6L1173 906.4L1174.8 906.1L1176.7 905.7L1178.5 905.2L1180.3 904.5L1182.2 903.7L1184 902.9L1185.8 901.9L1187.7 900.8L1189.5 899.5L1191.3 898.2L1193.2 896.8L1195 895.2L1196.9 893.6L1198.7 891.8L1200.5 890L1202.4 888L1204.2 885.9L1206 883.8L1207.9 881.6L1209.7 879.2L1211.5 876.8L1213.4 874.3L1215.2 871.7L1217 869.1L1218.9 866.3L1220.7 863.5L1222.5 860.7L1224.4 857.7L1226.2 854.8L1228 851.7L1229.9 848.6L1231.7 845.4L1233.5 842.2L1235.4 839L1237.2 835.7L1239 832.4L1240.9 829.1L1242.7 825.7L1244.5 822.3L1246.4 818.9L1248.2 815.5L1250 812.1L1251.9 808.6L1253.7 805.2L1255.5 801.7L1257.4 798.3L1259.2 794.9L1261.1 791.5L1262.9 788.1L1264.7 784.7L1266.6 781.4L1268.4 778.1L1270.2 774.8L1272.1 771.6L1273.9 768.4L1275.7 765.3L1277.6 762.2L1279.4 759.2L1281.2 756.2L1283.1 753.3L1284.9 750.4L1286.7 747.6L1288.6 744.9L1290.4 742.3L1292.2 739.7L1294.1 737.2L1295.9 734.8L1297.7 732.5L1299.6 730.3L1301.4 728.2L1303.2 726.2L1305.1 724.2L1306.9 722.4L1308.7 720.7L1310.6 719.1L1312.4 717.5L1314.2 716.1L1316.1 714.8L1317.9 713.6L1319.7 712.5L1321.6 711.6L1323.4 710.7L1325.3 710L1327.1 709.4L1328.9 708.9L1330.8 708.5L1332.6 708.2L1334.4 708.1L1336.3 708.1L1338.1 708.2L1339.9 708.4L1341.8 708.7L1343.6 709.2L1345.4 709.7L1347.3 710.4L1349.1 711.2L1350.9 712.1L1352.8 713.2L1354.6 714.3L1356.4 715.6L1358.3 716.9L1360.1 718.4L1361.9 720L1363.8 721.7L1365.6 723.4L1367.4 725.3L1369.3 727.3L1371.1 729.4L1372.9 731.6L1374.8 733.8L1376.6 736.2L1378.4 738.6L1380.3 741.2L1382.1 743.8L1383.9 746.5L1385.8 749.2L1387.6 752L1389.5 754.9L1391.3 757.9L1393.1 760.9L1395 763.9L1396.8 767.1L1398.6 770.2L1400.5 773.4L1402.3 776.7L1404.1 780L1406 783.3L1407.8 786.7L1409.6 790L1411.5 793.4L1413.3 796.8L1415.1 800.3L1417 803.7L1418.8 807.1L1420.6 810.6L1422.5 814L1424.3 817.4L1426.1 820.9L1428 824.3L1429.8 827.6L1431.6 831L1433.5 834.3L1435.3 837.6L1437.1 840.9L1439 844.1L1440.8 847.3L1442.6 850.4L1444.5 853.4L1446.3 856.5L1448.1 859.4L1450 862.3L1451.8 865.2L1453.7 867.9L1455.5 870.6L1457.3 873.2L1459.2 875.7L1461 878.2L1462.8 880.6L1464.7 882.8L1466.5 885L1468.3 887.1L1470.2 889.1L1472 891L1473.8 892.8L1475.7 894.5L1477.5 896.1L1479.3 897.6L1481.2 899L1483 900.3" stroke="#f0f" stroke-width="3.5"/>
<path d="M199 842.6L200.8 840L202.7 837.3L204.5 834.6L206.3 831.8L208.2 829L210 826.1L211.8 823.1L213.7 820.2L215.5 817.1L217.3 814.1L219.2 811L221 807.8L222.8 804.7L224.7 801.4L226.5 798.2L228.3 794.9L230.2 791.6L232 788.3L233.9 785L235.7 781.6L237.5 778.2L239.4 774.8L241.2 771.4L243 768L244.9 764.6L246.7 761.1L248.5 757.7L250.4 754.2L252.2 750.8L254 747.4L255.9 743.9L257.7 740.5L259.5 737.1L261.4 733.7L263.2 730.3L265 727L266.9 723.6L268.7 720.3L270.5 717L272.4 713.8L274.2 710.5L276 707.3L277.9 704.2L279.7 701.1L281.5 698L283.4 694.9L285.2 691.9L287 688.9L288.9 686L290.7 683.2L292.5 680.4L294.4 677.6L296.2 674.9L298.1 672.3L299.9 669.7L301.7 667.1L303.6 664.7L305.4 662.3L307.2 659.9L309.1 657.7L310.9 655.5L312.7 653.4L314.6 651.3L316.4 649.3L318.2 647.4L320.1 645.6L321.9 643.8L323.7 642.2L325.6 640.6L327.4 639.1L329.2 637.6L331.1 636.3L332.9 635L334.7 633.8L336.6 632.8L338.4 631.8L340.2 630.8L342.1 630L343.9 629.3L345.7 628.6L347.6 628.1L349.4 627.6L351.2 627.2L353.1 626.9L354.9 626.7L356.7 626.6L358.6 626.6L360.4 626.7L362.3 626.8L364.1 627.1L365.9 627.4L367.8 627.9L369.6 628.4L371.4 629L373.3 629.7L375.1 630.5L376.9 631.4L378.8 632.4L380.6 633.4L382.4 634.6L384.3 635.8L386.1 637.1L387.9 638.5L389.8 640L391.6 641.6L393.4 643.2L395.3 644.9L397.1 646.7L398.9 648.6L400.8 650.5L402.6 652.6L404.4 654.7L406.3 656.8L408.1 659.1L409.9 661.4L411.8 663.8L413.6 666.2L415.4 668.7L417.3 671.3L419.1 673.9L420.9 676.6L422.8 679.3L424.6 682.1L426.5 685L428.3 687.9L430.1 690.8L432 693.8L433.8 696.8L435.6 699.9L437.5 703L439.3 706.2L441.1 709.3L443 712.6L444.8 715.8L446.6 719.1L448.5 722.4L450.3 725.7L452.1 729.1L454 732.5L455.8 735.8L457.6 739.2L459.5 742.7L461.3 746.1L463.1 749.5L465 753L466.8 756.4L468.6 759.8L470.5 763.3L472.3 766.7L474.1 770.1L476 773.5L477.8 776.9L479.6 780.3L481.5 783.7L483.3 787.1L485.1 790.4L487 793.7L488.8 797L490.7 800.2L492.5 803.5L494.3 806.7L496.2 809.8L498 812.9L499.8 816L501.7 819L503.5 822L505.3 825L507.2 827.9L509 830.7L510.8 833.5L512.7 836.3L514.5 839L516.3 841.6L518.2 844.2L520 846.7L521.8 849.1L523.7 851.5L525.5 853.8L527.3 856.1L529.2 858.3L531 860.4L532.8 862.4L534.7 864.4L536.5 866.2L538.3 868.1L540.2 869.8L542 871.4L543.8 873L545.7 874.5L547.5 875.9L549.3 877.2L551.2 878.5L553 879.6L554.9 880.7L556.7 881.7L558.5 882.6L560.4 883.4L562.2 884.1L564 884.7L565.9 885.2L567.7 885.7L569.5 886.1L571.4 886.3L573.2 886.5L575 886.6L576.9 886.6L578.7 886.5L580.5 886.3L582.4 886L584.2 885.6L586 885.2L587.9 884.6L589.7 884L591.5 883.3L593.4 882.4L595.2 881.5L597 880.5L598.9 879.5L600.7 878.3L602.5 877L604.4 875.7L606.2 874.3L608 872.8L609.9 871.2L611.7 869.5L613.5 867.8L615.4 866L617.2 864.1L619.1 862.1L620.9 860.1L622.7 858L624.6 855.8L626.4 853.5L628.2 851.2L630.1 848.8L631.9 846.3L633.7 843.8L635.6 841.2L637.4 838.6L639.2 835.9L641.1 833.1L642.9 830.3L644.7 827.5L646.6 824.6L648.4 821.6L650.2 818.6L652.1 815.6L653.9 812.5L655.7 809.4L657.6 806.2L659.4 803L661.2 799.8L663.1 796.5L664.9 793.2L666.7 789.9L668.6 786.6L670.4 783.2L672.2 779.8L674.1 776.5L675.9 773L677.7 769.6L679.6 766.2L681.4 762.8L683.3 759.3L685.1 755.9L686.9 752.5L688.8 749L690.6 745.6L692.4 742.2L694.3 738.8L696.1 735.4L697.9 732L699.8 728.6L701.6 725.3L703.4 721.9L705.3 718.6L707.1 715.3L708.9 712.1L710.8 708.9L712.6 705.7L714.4 702.6L716.3 699.4L718.1 696.4L719.9 693.4L721.8 690.4L723.6 687.4L725.4 684.5L727.3 681.7L729.1 678.9L730.9 676.2L732.8 673.5L734.6 670.9L736.4 668.3L738.3 665.9L740.1 663.4L741.9 661.1L743.8 658.8L745.6 656.5L747.5 654.4L749.3 652.3L751.1 650.3L753 648.3L754.8 646.5L756.6 644.7L758.5 643L760.3 641.3L762.1 639.8L764 638.3L765.8 636.9L767.6 635.6L769.5 634.4L771.3 633.3L773.1 632.2L775 631.3L776.8 630.4L778.6 629.6L780.5 628.9L782.3 628.3L784.1 627.8L786 627.4L787.8 627L789.6 626.8L791.5 626.7L793.3 626.6L795.1 626.6L797 626.7L798.8 627L800.6 627.3L802.5 627.7L804.3 628.1L806.1 628.7L808 629.4L809.8 630.1L811.7 631L813.5 631.9L815.3 632.9L817.2 634L819 635.2L820.8 636.5L822.7 637.8L824.5 639.3L826.3 640.8L828.2 642.4L830 644.1L831.8 645.8L833.7 647.7L835.5 649.6L837.3 651.6L839.2 653.7L841 655.8L842.8 658L844.7 660.3L846.5 662.6L848.3 665L850.2 667.5L852 670L853.8 672.6L855.7 675.3L857.5 678L859.3 680.8L861.2 683.6L863 686.5L864.8 689.4L866.7 692.3L868.5 695.3L870.3 698.4L872.2 701.5L874 704.6L875.9 707.8L877.7 711L879.5 714.2L881.4 717.5L883.2 720.8L885 724.1L886.9 727.5L888.7 730.8L890.5 734.2L892.4 737.6L894.2 741L896 744.4L897.9 747.9L899.7 751.3L901.5 754.7L903.4 758.2L905.2 761.6L907 765L908.9 768.5L910.7 771.9L912.5 775.3L914.4 778.7L916.2 782.1L918 785.4L919.9 788.8L921.7 792.1L923.5 795.4L925.4 798.7L927.2 801.9L929 805.1L930.9 808.3L932.7 811.4L934.5 814.5L936.4 817.6L938.2 820.6L940.1 823.6L941.9 826.5L943.7 829.4L945.6 832.2L947.4 835L949.2 837.7L951.1 840.3L952.9 842.9L954.7 845.5L956.6 848L958.4 850.4L960.2 852.7L962.1 855L963.9 857.2L965.7 859.4L967.6 861.4L969.4 863.4L971.2 865.3L973.1 867.2L974.9 869L976.7 870.7L978.6 872.3L980.4 873.8L982.2 875.2L984.1 876.6L985.9 877.9L987.7 879.1L989.6 880.2L991.4 881.2L993.2 882.1L995.1 883L996.9 883.7L998.7 884.4L1000.6 885L1002.4 885.5L1004.3 885.9L1006.1 886.2L1007.9 886.4L1009.8 886.5L1011.6 886.6L1013.4 886.5L1015.3 886.4L1017.1 886.2L1018.9 885.8L1020.8 885.4L1022.6 884.9L1024.4 884.3L1026.3 883.6L1028.1 882.8L1029.9 882L1031.8 881L1033.6 880L1035.4 878.9L1037.3 877.7L1039.1 876.4L1040.9 875L1042.8 873.5L1044.6 872L1046.4 870.4L1048.3 868.7L1050.1 866.9L1051.9 865L1053.8 863.1L1055.6 861.1L1057.4 859L1059.3 856.8L1061.1 854.6L1062.9 852.3L1064.8 849.9L1066.6 847.5L1068.5 845L1070.3 842.5L1072.1 839.9L1074 837.2L1075.8 834.5L1077.6 831.7L1079.5 828.9L1081.3 826L1083.1 823L1085 820.1L1086.8 817L1088.6 814L1090.5 810.9L1092.3 807.7L1094.1 804.5L1096 801.3L1097.8 798.1L1099.6 794.8L1101.5 791.5L1103.3 788.2L1105.1 784.8L1107 781.5L1108.8 778.1L1110.6 774.7L1112.5 771.3L1114.3 767.9L1116.1 764.4L1118 761L1119.8 757.6L1121.6 754.1L1123.5 750.7L1125.3 747.2L1127.1 743.8L1129 740.4L1130.8 737L1132.7 733.6L1134.5 730.2L1136.3 726.9L1138.2 723.5L1140 720.2L1141.8 716.9L1143.7 713.7L1145.5 710.4L1147.3 707.2L1149.2 704.1L1151 700.9L1152.8 697.9L1154.7 694.8L1156.5 691.8L1158.3 688.8L1160.2 685.9L1162 683.1L1163.8 680.3L1165.7 677.5L1167.5 674.8L1169.3 672.2L1171.2 669.6L1173 667L1174.8 664.6L1176.7 662.2L1178.5 659.9L1180.3 657.6L1182.2 655.4L1184 653.3L1185.8 651.2L1187.7 649.2L1189.5 647.3L1191.3 645.5L1193.2 643.8L1195 642.1L1196.9 640.5L1198.7 639L1200.5 637.6L1202.4 636.2L1204.2 635L1206 633.8L1207.9 632.7L1209.7 631.7L1211.5 630.8L1213.4 630L1215.2 629.2L1217 628.6L1218.9 628L1220.7 627.6L1222.5 627.2L1224.4 626.9L1226.2 626.7L1228 626.6L1229.9 626.6L1231.7 626.7L1233.5 626.8L1235.4 627.1L1237.2 627.5L1239 627.9L1240.9 628.4L1242.7 629L1244.5 629.8L1246.4 630.5L1248.2 631.4L1250 632.4L1251.9 633.5L1253.7 634.6L1255.5 635.8L1257.4 637.2L1259.2 638.6L1261.1 640L1262.9 641.6L1264.7 643.3L1266.6 645L1268.4 646.8L1270.2 648.7L1272.1 650.6L1273.9 652.6L1275.7 654.7L1277.6 656.9L1279.4 659.2L1281.2 661.5L1283.1 663.9L1284.9 666.3L1286.7 668.8L1288.6 671.4L1290.4 674L1292.2 676.7L1294.1 679.4L1295.9 682.2L1297.7 685.1L1299.6 688L1301.4 690.9L1303.2 693.9L1305.1 696.9L1306.9 700L1308.7 703.1L1310.6 706.3L1312.4 709.5L1314.2 712.7L1316.1 715.9L1317.9 719.2L1319.7 722.5L1321.6 725.9L1323.4 729.2L1325.3 732.6L1327.1 736L1328.9 739.4L1330.8 742.8L1332.6 746.2L1334.4 749.6L1336.3 753.1L1338.1 756.5L1339.9 760L1341.8 763.4L1343.6 766.8L1345.4 770.2L1347.3 773.7L1349.1 777.1L1350.9 780.5L1352.8 783.8L1354.6 787.2L1356.4 790.5L1358.3 793.8L1360.1 797.1L1361.9 800.4L1363.8 803.6L1365.6 806.8L1367.4 809.9L1369.3 813L1371.1 816.1L1372.9 819.2L1374.8 822.1L1376.6 825.1L1378.4 828L1380.3 830.8L1382.1 833.6L1383.9 836.4L1385.8 839.1L1387.6 841.7L1389.5 844.3L1391.3 846.8L1393.1 849.2L1395 851.6L1396.8 853.9L1398.6 856.2L1400.5 858.3L1402.3 860.4L1404.1 862.5L1406 864.4L1407.8 866.3L1409.6 868.1L1411.5 869.8L1413.3 871.5L1415.1 873.1L1417 874.5L1418.8 876L1420.6 877.3L1422.5 878.5L1424.3 879.7L1426.1 880.7L1428 881.7L1429.8 882.6L1431.6 883.4L1433.5 884.1L1435.3 884.7L1437.1 885.3L1439 885.7L1440.8 886.1L1442.6 886.3L1444.5 886.5L1446.3 886.6L1448.1 886.6L1450 886.5L1451.8 886.3L1453.7 886L1455.5 885.6L1457.3 885.2L1459.2 884.6L1461 884L1462.8 883.2L1464.7 882.4L1466.5 881.5L1468.3 880.5L1470.2 879.4L1472 878.3L1473.8 877L1475.7 875.7L1477.5 874.2L1479.3 872.7L1481.2 871.1L1483 869.5" stroke="#00dc00" stroke-width="3.2"/>
<path d="M199 936.8L200.8 936.4L202.7 935.9L204.5 935.2L206.3 934.4L208.2 933.4L210 932.3L211.8 931.1L213.7 929.8L215.5 928.3L217.3 926.7L219.2 925L221 923.2L222.8 921.3L224.7 919.2L226.5 917.1L228.3 914.8L230.2 912.5L232 910L233.9 907.5L235.7 904.8L237.5 902.1L239.4 899.3L241.2 896.4L243 893.4L244.9 890.4L246.7 887.3L248.5 884.2L250.4 881L252.2 877.7L254 874.4L255.9 871.1L257.7 867.8L259.5 864.4L261.4 861L263.2 857.5L265 854.1L266.9 850.7L268.7 847.2L270.5 843.8L272.4 840.4L274.2 837L276 833.6L277.9 830.2L279.7 826.9L281.5 823.6L283.4 820.4L285.2 817.2L287 814L288.9 811L290.7 807.9L292.5 805L294.4 802.1L296.2 799.3L298.1 796.6L299.9 794L301.7 791.4L303.6 789L305.4 786.6L307.2 784.4L309.1 782.2L310.9 780.2L312.7 778.3L314.6 776.5L316.4 774.8L318.2 773.2L320.1 771.7L321.9 770.4L323.7 769.2L325.6 768.2L327.4 767.2L329.2 766.4L331.1 765.7L332.9 765.2L334.7 764.8L336.6 764.6L338.4 764.4L340.2 764.4L342.1 764.6L343.9 764.9L345.7 765.3L347.6 765.8L349.4 766.5L351.2 767.4L353.1 768.3L354.9 769.4L356.7 770.6L358.6 772L360.4 773.4L362.3 775L364.1 776.7L365.9 778.6L367.8 780.5L369.6 782.6L371.4 784.7L373.3 787L375.1 789.4L376.9 791.8L378.8 794.4L380.6 797L382.4 799.8L384.3 802.6L386.1 805.5L387.9 808.4L389.8 811.5L391.6 814.6L393.4 817.7L395.3 820.9L397.1 824.2L398.9 827.4L400.8 830.8L402.6 834.1L404.4 837.5L406.3 840.9L408.1 844.4L409.9 847.8L411.8 851.2L413.6 854.7L415.4 858.1L417.3 861.5L419.1 864.9L420.9 868.3L422.8 871.7L424.6 875L426.5 878.3L428.3 881.5L430.1 884.7L432 887.8L433.8 890.9L435.6 893.9L437.5 896.9L439.3 899.7L441.1 902.5L443 905.2L444.8 907.9L446.6 910.4L448.5 912.9L450.3 915.2L452.1 917.4L454 919.6L455.8 921.6L457.6 923.5L459.5 925.3L461.3 927L463.1 928.6L465 930L466.8 931.3L468.6 932.5L470.5 933.6L472.3 934.5L474.1 935.3L476 936L477.8 936.5L479.6 936.9L481.5 937.1L483.3 937.2L485.1 937.2L487 937.1L488.8 936.8L490.7 936.3L492.5 935.8L494.3 935.1L496.2 934.2L498 933.3L499.8 932.2L501.7 931L503.5 929.6L505.3 928.1L507.2 926.5L509 924.8L510.8 923L512.7 921L514.5 919L516.3 916.8L518.2 914.5L520 912.2L521.8 909.7L523.7 907.1L525.5 904.5L527.3 901.7L529.2 898.9L531 896L532.8 893L534.7 890L536.5 886.9L538.3 883.8L540.2 880.6L542 877.3L543.8 874L545.7 870.7L547.5 867.3L549.3 863.9L551.2 860.5L553 857.1L554.9 853.7L556.7 850.2L558.5 846.8L560.4 843.4L562.2 839.9L564 836.5L565.9 833.2L567.7 829.8L569.5 826.5L571.4 823.2L573.2 820L575 816.8L576.9 813.6L578.7 810.6L580.5 807.6L582.4 804.6L584.2 801.7L586 799L587.9 796.2L589.7 793.6L591.5 791.1L593.4 788.7L595.2 786.3L597 784.1L598.9 782L600.7 779.9L602.5 778L604.4 776.2L606.2 774.5L608 773L609.9 771.6L611.7 770.3L613.5 769.1L615.4 768L617.2 767.1L619.1 766.3L620.9 765.7L622.7 765.2L624.6 764.8L626.4 764.5L628.2 764.4L630.1 764.5L631.9 764.6L633.7 764.9L635.6 765.4L637.4 765.9L639.2 766.6L641.1 767.5L642.9 768.5L644.7 769.6L646.6 770.8L648.4 772.1L650.2 773.6L652.1 775.2L653.9 777L655.7 778.8L657.6 780.8L659.4 782.8L661.2 785L663.1 787.3L664.9 789.7L666.7 792.1L668.6 794.7L670.4 797.4L672.2 800.1L674.1 802.9L675.9 805.8L677.7 808.8L679.6 811.9L681.4 815L683.3 818.1L685.1 821.3L686.9 824.6L688.8 827.9L690.6 831.2L692.4 834.6L694.3 838L696.1 841.4L697.9 844.8L699.8 848.2L701.6 851.7L703.4 855.1L705.3 858.5L707.1 862L708.9 865.4L710.8 868.7L712.6 872.1L714.4 875.4L716.3 878.7L718.1 881.9L719.9 885.1L721.8 888.2L723.6 891.3L725.4 894.3L727.3 897.2L729.1 900.1L730.9 902.9L732.8 905.6L734.6 908.2L736.4 910.7L738.3 913.2L740.1 915.5L741.9 917.7L743.8 919.9L745.6 921.9L747.5 923.8L749.3 925.6L751.1 927.2L753 928.8L754.8 930.2L756.6 931.5L758.5 932.7L760.3 933.7L762.1 934.6L764 935.4L765.8 936L767.6 936.5L769.5 936.9L771.3 937.1L773.1 937.2L775 937.2L776.8 937L778.6 936.7L780.5 936.3L782.3 935.7L784.1 935L786 934.1L787.8 933.1L789.6 932L791.5 930.8L793.3 929.4L795.1 927.9L797 926.3L798.8 924.6L800.6 922.7L802.5 920.8L804.3 918.7L806.1 916.5L808 914.2L809.8 911.8L811.7 909.4L813.5 906.8L815.3 904.1L817.2 901.4L819 898.5L820.8 895.6L822.7 892.7L824.5 889.6L826.3 886.5L828.2 883.4L830 880.1L831.8 876.9L833.7 873.6L835.5 870.2L837.3 866.9L839.2 863.5L841 860.1L842.8 856.7L844.7 853.2L846.5 849.8L848.3 846.3L850.2 842.9L852 839.5L853.8 836.1L855.7 832.7L857.5 829.4L859.3 826.1L861.2 822.8L863 819.6L864.8 816.4L866.7 813.2L868.5 810.2L870.3 807.2L872.2 804.2L874 801.4L875.9 798.6L877.7 795.9L879.5 793.3L881.4 790.8L883.2 788.3L885 786L886.9 783.8L888.7 781.7L890.5 779.7L892.4 777.8L894.2 776L896 774.3L897.9 772.8L899.7 771.4L901.5 770.1L903.4 768.9L905.2 767.9L907 767L908.9 766.2L910.7 765.6L912.5 765.1L914.4 764.7L916.2 764.5L918 764.4L919.9 764.5L921.7 764.6L923.5 765L925.4 765.4L927.2 766L929 766.7L930.9 767.6L932.7 768.6L934.5 769.7L936.4 771L938.2 772.3L940.1 773.8L941.9 775.5L943.7 777.2L945.6 779.1L947.4 781L949.2 783.1L951.1 785.3L952.9 787.6L954.7 790L956.6 792.5L958.4 795.1L960.2 797.7L962.1 800.5L963.9 803.3L965.7 806.2L967.6 809.2L969.4 812.3L971.2 815.4L973.1 818.5L974.9 821.7L976.7 825L978.6 828.3L980.4 831.6L982.2 835L984.1 838.4L985.9 841.8L987.7 845.2L989.6 848.7L991.4 852.1L993.2 855.5L995.1 859L996.9 862.4L998.7 865.8L1000.6 869.2L1002.4 872.5L1004.3 875.8L1006.1 879.1L1007.9 882.3L1009.8 885.5L1011.6 888.6L1013.4 891.7L1015.3 894.7L1017.1 897.6L1018.9 900.5L1020.8 903.2L1022.6 905.9L1024.4 908.5L1026.3 911.1L1028.1 913.5L1029.9 915.8L1031.8 918L1033.6 920.1L1035.4 922.1L1037.3 924L1039.1 925.8L1040.9 927.4L1042.8 929L1044.6 930.4L1046.4 931.7L1048.3 932.8L1050.1 933.8L1051.9 934.7L1053.8 935.5L1055.6 936.1L1057.4 936.6L1059.3 937L1061.1 937.2L1062.9 937.3L1064.8 937.2L1066.6 937L1068.5 936.7L1070.3 936.2L1072.1 935.6L1074 934.9L1075.8 934L1077.6 933L1079.5 931.9L1081.3 930.6L1083.1 929.2L1085 927.7L1086.8 926.1L1088.6 924.4L1090.5 922.5L1092.3 920.5L1094.1 918.4L1096 916.2L1097.8 913.9L1099.6 911.5L1101.5 909L1103.3 906.4L1105.1 903.8L1107 901L1108.8 898.2L1110.6 895.3L1112.5 892.3L1114.3 889.2L1116.1 886.1L1118 882.9L1119.8 879.7L1121.6 876.5L1123.5 873.2L1125.3 869.8L1127.1 866.4L1129 863.1L1130.8 859.6L1132.7 856.2L1134.5 852.8L1136.3 849.3L1138.2 845.9L1140 842.5L1141.8 839.1L1143.7 835.7L1145.5 832.3L1147.3 828.9L1149.2 825.6L1151 822.4L1152.8 819.1L1154.7 816L1156.5 812.8L1158.3 809.8L1160.2 806.8L1162 803.9L1163.8 801L1165.7 798.3L1167.5 795.6L1169.3 793L1171.2 790.5L1173 788L1174.8 785.7L1176.7 783.5L1178.5 781.4L1180.3 779.4L1182.2 777.5L1184 775.8L1185.8 774.1L1187.7 772.6L1189.5 771.2L1191.3 769.9L1193.2 768.8L1195 767.8L1196.9 766.9L1198.7 766.1L1200.5 765.5L1202.4 765L1204.2 764.7L1206 764.5L1207.9 764.4L1209.7 764.5L1211.5 764.7L1213.4 765L1215.2 765.5L1217 766.1L1218.9 766.8L1220.7 767.7L1222.5 768.7L1224.4 769.9L1226.2 771.1L1228 772.5L1229.9 774L1231.7 775.7L1233.5 777.4L1235.4 779.3L1237.2 781.3L1239 783.4L1240.9 785.6L1242.7 787.9L1244.5 790.3L1246.4 792.8L1248.2 795.4L1250 798.1L1251.9 800.8L1253.7 803.7L1255.5 806.6L1257.4 809.6L1259.2 812.6L1261.1 815.8L1262.9 818.9L1264.7 822.2L1266.6 825.4L1268.4 828.7L1270.2 832.1L1272.1 835.4L1273.9 838.8L1275.7 842.3L1277.6 845.7L1279.4 849.1L1281.2 852.6L1283.1 856L1284.9 859.4L1286.7 862.8L1288.6 866.2L1290.4 869.6L1292.2 872.9L1294.1 876.3L1295.9 879.5L1297.7 882.7L1299.6 885.9L1301.4 889L1303.2 892.1L1305.1 895.1L1306.9 898L1308.7 900.8L1310.6 903.6L1312.4 906.3L1314.2 908.9L1316.1 911.4L1317.9 913.8L1319.7 916.1L1321.6 918.3L1323.4 920.4L1325.3 922.4L1327.1 924.2L1328.9 926L1330.8 927.6L1332.6 929.1L1334.4 930.5L1336.3 931.8L1338.1 932.9L1339.9 934L1341.8 934.8L1343.6 935.6L1345.4 936.2L1347.3 936.6L1349.1 937L1350.9 937.2L1352.8 937.3L1354.6 937.2L1356.4 937L1358.3 936.6L1360.1 936.1L1361.9 935.5L1363.8 934.8L1365.6 933.9L1367.4 932.9L1369.3 931.7L1371.1 930.5L1372.9 929.1L1374.8 927.5L1376.6 925.9L1378.4 924.1L1380.3 922.2L1382.1 920.2L1383.9 918.1L1385.8 915.9L1387.6 913.6L1389.5 911.2L1391.3 908.7L1393.1 906.1L1395 903.4L1396.8 900.6L1398.6 897.8L1400.5 894.9L1402.3 891.9L1404.1 888.8L1406 885.7L1407.8 882.5L1409.6 879.3L1411.5 876L1413.3 872.7L1415.1 869.4L1417 866L1418.8 862.6L1420.6 859.2L1422.5 855.8L1424.3 852.3L1426.1 848.9L1428 845.5L1429.8 842L1431.6 838.6L1433.5 835.2L1435.3 831.8L1437.1 828.5L1439 825.2L1440.8 821.9L1442.6 818.7L1444.5 815.6L1446.3 812.4L1448.1 809.4L1450 806.4L1451.8 803.5L1453.7 800.7L1455.5 797.9L1457.3 795.2L1459.2 792.6L1461 790.1L1462.8 787.7L1464.7 785.4L1466.5 783.2L1468.3 781.2L1470.2 779.2L1472 777.3L1473.8 775.6L1475.7 773.9L1477.5 772.4L1479.3 771L1481.2 769.8L1483 768.7" stroke="#00f" stroke-width="7.3"/>
</g>
<g fill="#ff0" stroke="#f00" stroke-width="1.9">
<circle cx="199" cy="936.8" r="11.5"/>
<circle cx="217.3" cy="926.7" r="11.5"/>
<circle cx="235.7" cy="904.8" r="11.5"/>
<circle cx="254" cy="874.4" r="11.5"/>
<circle cx="272.4" cy="840.4" r="11.5"/>
<circle cx="290.7" cy="807.9" r="11.5"/>
<circle cx="309.1" cy="782.2" r="11.5"/>
<circle cx="327.4" cy="767.2" r="11.5"/>
<circle cx="345.7" cy="765.3" r="11.5"/>
<circle cx="364.1" cy="776.7" r="11.5"/>
<circle cx="382.4" cy="799.8" r="11.5"/>
<circle cx="400.8" cy="830.8" r="11.5"/>
<circle cx="419.1" cy="864.9" r="11.5"/>
<circle cx="437.5" cy="896.9" r="11.5"/>
<circle cx="455.8" cy="921.6" r="11.5"/>
<circle cx="474.1" cy="935.3" r="11.5"/>
<circle cx="492.5" cy="935.8" r="11.5"/>
<circle cx="510.8" cy="923" r="11.5"/>
<circle cx="529.2" cy="898.9" r="11.5"/>
<circle cx="547.5" cy="867.3" r="11.5"/>
<circle cx="565.9" cy="833.2" r="11.5"/>
<circle cx="584.2" cy="801.7" r="11.5"/>
<circle cx="602.5" cy="778" r="11.5"/>
<circle cx="620.9" cy="765.7" r="11.5"/>
<circle cx="639.2" cy="766.6" r="11.5"/>
<circle cx="657.6" cy="780.8" r="11.5"/>
<circle cx="675.9" cy="805.8" r="11.5"/>
<circle cx="694.3" cy="838" r="11.5"/>
<circle cx="712.6" cy="872.1" r="11.5"/>
<circle cx="730.9" cy="902.9" r="11.5"/>
<circle cx="749.3" cy="925.6" r="11.5"/>
<circle cx="767.6" cy="936.5" r="11.5"/>
<circle cx="786" cy="934.1" r="11.5"/>
<circle cx="804.3" cy="918.7" r="11.5"/>
<circle cx="822.7" cy="892.7" r="11.5"/>
<circle cx="841" cy="860.1" r="11.5"/>
<circle cx="859.3" cy="826.1" r="11.5"/>
<circle cx="877.7" cy="795.9" r="11.5"/>
<circle cx="896" cy="774.3" r="11.5"/>
<circle cx="914.4" cy="764.7" r="11.5"/>
<circle cx="932.7" cy="768.6" r="11.5"/>
<circle cx="951.1" cy="785.3" r="11.5"/>
<circle cx="969.4" cy="812.3" r="11.5"/>
<circle cx="987.7" cy="845.2" r="11.5"/>
<circle cx="1006.1" cy="879.1" r="11.5"/>
<circle cx="1024.4" cy="908.5" r="11.5"/>
<circle cx="1042.8" cy="929" r="11.5"/>
<circle cx="1061.1" cy="937.2" r="11.5"/>
<circle cx="1079.5" cy="931.9" r="11.5"/>
<circle cx="1097.8" cy="913.9" r="11.5"/>
<circle cx="1116.1" cy="886.1" r="11.5"/>
<circle cx="1134.5" cy="852.8" r="11.5"/>
<circle cx="1152.8" cy="819.1" r="11.5"/>
<circle cx="1171.2" cy="790.5" r="11.5"/>
<circle cx="1189.5" cy="771.2" r="11.5"/>
<circle cx="1207.9" cy="764.4" r="11.5"/>
<circle cx="1226.2" cy="771.1" r="11.5"/>
<circle cx="1244.5" cy="790.3" r="11.5"/>
<circle cx="1262.9" cy="818.9" r="11.5"/>
<circle cx="1281.2" cy="852.6" r="11.5"/>
<circle cx="1299.6" cy="885.9" r="11.5"/>
<circle cx="1317.9" cy="913.8" r="11.5"/>
<circle cx="1336.3" cy="931.8" r="11.5"/>
<circle cx="1354.6" cy="937.2" r="11.5"/>
<circle cx="1372.9" cy="929.1" r="11.5"/>
<circle cx="1391.3" cy="908.7" r="11.5"/>
<circle cx="1409.6" cy="879.3" r="11.5"/>
<circle cx="1428" cy="845.5" r="11.5"/>
<circle cx="1446.3" cy="812.4" r="11.5"/>
<circle cx="1464.7" cy="785.4" r="11.5"/>
<circle cx="1483" cy="768.7" r="11.5"/>
</g></g>
<g id="panelC" fill="none" stroke-linejoin="round">
<g clip-path="url(#cC)">
<path d="M199 1363.1L200.8 1354.6L202.7 1346.1L204.5 1337.8L206.3 1329.5L208.2 1321.4L210 1313.5L211.8 1305.7L213.7 1298L215.5 1290.6L217.3 1283.3L219.2 1276.3L221 1269.4L222.8 1262.8L224.7 1256.4L226.5 1250.3L228.3 1244.4L230.2 1238.8L232 1233.5L233.9 1228.4L235.7 1223.7L237.5 1219.2L239.4 1215L241.2 1211.2L243 1207.6L244.9 1204.4L246.7 1201.5L248.5 1198.9L250.4 1196.6L252.2 1194.7L254 1193.1L255.9 1191.8L257.7 1190.9L259.5 1190.3L261.4 1190.1L263.2 1190.1L265 1190.5L266.9 1191.3L268.7 1192.3L270.5 1193.7L272.4 1195.4L274.2 1197.5L276 1199.8L277.9 1202.4L279.7 1205.4L281.5 1208.6L283.4 1212.2L285.2 1216L287 1220.1L288.9 1224.5L290.7 1229.1L292.5 1234L294.4 1239.1L296.2 1244.5L298.1 1250.1L299.9 1255.9L301.7 1261.9L303.6 1268.1L305.4 1274.5L307.2 1281.1L309.1 1287.9L310.9 1294.8L312.7 1301.8L314.6 1309L316.4 1316.3L318.2 1323.7L320.1 1331.3L321.9 1338.9L323.7 1346.6L325.6 1354.3L327.4 1362.1L329.2 1370L331.1 1377.9L332.9 1385.8L334.7 1393.7L336.6 1401.6L338.4 1409.4L340.2 1417.3L342.1 1425.1L343.9 1432.9L345.7 1440.6L347.6 1448.3L349.4 1455.8L351.2 1463.3L353.1 1470.7L354.9 1477.9L356.7 1485.1L358.6 1492.1L360.4 1498.9L362.3 1505.7L364.1 1512.2L365.9 1518.6L367.8 1524.9L369.6 1530.9L371.4 1536.8L373.3 1542.5L375.1 1547.9L376.9 1553.2L378.8 1558.3L380.6 1563.1L382.4 1567.7L384.3 1572.1L386.1 1576.3L387.9 1580.2L389.8 1583.9L391.6 1587.4L393.4 1590.6L395.3 1593.5L397.1 1596.3L398.9 1598.7L400.8 1601L402.6 1602.9L404.4 1604.7L406.3 1606.2L408.1 1607.4L409.9 1608.4L411.8 1609.1L413.6 1609.6L415.4 1609.9L417.3 1609.9L419.1 1609.6L420.9 1609.2L422.8 1608.5L424.6 1607.6L426.5 1606.5L428.3 1605.1L430.1 1603.5L432 1601.8L433.8 1599.8L435.6 1597.6L437.5 1595.3L439.3 1592.8L441.1 1590L443 1587.2L444.8 1584.1L446.6 1580.9L448.5 1577.5L450.3 1574.1L452.1 1570.4L454 1566.7L455.8 1562.8L457.6 1558.8L459.5 1554.7L461.3 1550.5L463.1 1546.3L465 1541.9L466.8 1537.5L468.6 1533.1L470.5 1528.5L472.3 1524L474.1 1519.4L476 1514.7L477.8 1510.1L479.6 1505.4L481.5 1500.8L483.3 1496.1L485.1 1491.5L487 1486.9L488.8 1482.3L490.7 1477.8L492.5 1473.3L494.3 1468.9L496.2 1464.5L498 1460.2L499.8 1456L501.7 1451.8L503.5 1447.8L505.3 1443.8L507.2 1440L509 1436.3L510.8 1432.6L512.7 1429.1L514.5 1425.8L516.3 1422.5L518.2 1419.4L520 1416.4L521.8 1413.6L523.7 1411L525.5 1408.4L527.3 1406.1L529.2 1403.9L531 1401.9L532.8 1400L534.7 1398.3L536.5 1396.8L538.3 1395.4L540.2 1394.2L542 1393.2L543.8 1392.4L545.7 1391.8L547.5 1391.3L549.3 1391L551.2 1390.9L553 1390.9L554.9 1391.2L556.7 1391.6L558.5 1392.2L560.4 1392.9L562.2 1393.9L564 1395L565.9 1396.2L567.7 1397.7L569.5 1399.3L571.4 1401L573.2 1402.9L575 1405L576.9 1407.2L578.7 1409.5L580.5 1412L582.4 1414.6L584.2 1417.3L586 1420.2L587.9 1423.2L589.7 1426.3L591.5 1429.5L593.4 1432.8L595.2 1436.3L597 1439.8L598.9 1443.4L600.7 1447.1L602.5 1450.8L604.4 1454.6L606.2 1458.5L608 1462.5L609.9 1466.5L611.7 1470.6L613.5 1474.7L615.4 1478.8L617.2 1482.9L619.1 1487.1L620.9 1491.3L622.7 1495.5L624.6 1499.7L626.4 1503.9L628.2 1508.1L630.1 1512.3L631.9 1516.4L633.7 1520.6L635.6 1524.7L637.4 1528.7L639.2 1532.7L641.1 1536.7L642.9 1540.6L644.7 1544.5L646.6 1548.3L648.4 1552L650.2 1555.6L652.1 1559.2L653.9 1562.7L655.7 1566.1L657.6 1569.4L659.4 1572.6L661.2 1575.7L663.1 1578.7L664.9 1581.6L666.7 1584.4L668.6 1587L670.4 1589.6L672.2 1592L674.1 1594.4L675.9 1596.6L677.7 1598.6L679.6 1600.6L681.4 1602.4L683.3 1604.1L685.1 1605.7L686.9 1607.1L688.8 1608.4L690.6 1609.6L692.4 1610.6L694.3 1611.5L696.1 1612.3L697.9 1612.9L699.8 1613.4L701.6 1613.8L703.4 1614L705.3 1614.1L707.1 1614.1L708.9 1614L710.8 1613.7L712.6 1613.4L714.4 1612.9L716.3 1612.2L718.1 1611.5L719.9 1610.7L721.8 1609.7L723.6 1608.7L725.4 1607.5L727.3 1606.2L729.1 1604.9L730.9 1603.4L732.8 1601.9L734.6 1600.2L736.4 1598.5L738.3 1596.7L740.1 1594.9L741.9 1592.9L743.8 1590.9L745.6 1588.8L747.5 1586.7L749.3 1584.5L751.1 1582.3L753 1580L754.8 1577.7L756.6 1575.4L758.5 1573L760.3 1570.6L762.1 1568.1L764 1565.7L765.8 1563.2L767.6 1560.8L769.5 1558.3L771.3 1555.8L773.1 1553.3L775 1550.9L776.8 1548.4L778.6 1546L780.5 1543.6L782.3 1541.2L784.1 1538.9L786 1536.5L787.8 1534.3L789.6 1532L791.5 1529.8L793.3 1527.7L795.1 1525.6L797 1523.5L798.8 1521.6L800.6 1519.6L802.5 1517.8L804.3 1516L806.1 1514.3L808 1512.7L809.8 1511.1L811.7 1509.6L813.5 1508.2L815.3 1506.9L817.2 1505.6L819 1504.5L820.8 1503.4L822.7 1502.4L824.5 1501.5L826.3 1500.7L828.2 1500L830 1499.4L831.8 1498.9L833.7 1498.4L835.5 1498.1L837.3 1497.9L839.2 1497.7L841 1497.7L842.8 1497.7L844.7 1497.9L846.5 1498.1L848.3 1498.4L850.2 1498.8L852 1499.3L853.8 1499.9L855.7 1500.6L857.5 1501.4L859.3 1502.3L861.2 1503.2L863 1504.2L864.8 1505.3L866.7 1506.5L868.5 1507.7L870.3 1509.1L872.2 1510.5L874 1511.9L875.9 1513.5L877.7 1515.1L879.5 1516.7L881.4 1518.5L883.2 1520.2L885 1522.1L886.9 1523.9L888.7 1525.9L890.5 1527.8L892.4 1529.8L894.2 1531.9L896 1533.9L897.9 1536L899.7 1538.2L901.5 1540.3L903.4 1542.5L905.2 1544.7L907 1546.9L908.9 1549.1L910.7 1551.4L912.5 1553.6L914.4 1555.8L916.2 1558.1L918 1560.3L919.9 1562.5L921.7 1564.7L923.5 1566.9L925.4 1569.1L927.2 1571.3L929 1573.4L930.9 1575.5L932.7 1577.6L934.5 1579.6L936.4 1581.6L938.2 1583.6L940.1 1585.5L941.9 1587.4L943.7 1589.3L945.6 1591.1L947.4 1592.8L949.2 1594.5L951.1 1596.2L952.9 1597.8L954.7 1599.3L956.6 1600.8L958.4 1602.2L960.2 1603.5L962.1 1604.8L963.9 1606.1L965.7 1607.2L967.6 1608.3L969.4 1609.3L971.2 1610.3L973.1 1611.2L974.9 1612L976.7 1612.8L978.6 1613.4L980.4 1614.1L982.2 1614.6L984.1 1615.1L985.9 1615.5L987.7 1615.8L989.6 1616.1L991.4 1616.2L993.2 1616.4L995.1 1616.4L996.9 1616.4L998.7 1616.3L1000.6 1616.2L1002.4 1616L1004.3 1615.7L1006.1 1615.4L1007.9 1615L1009.8 1614.5L1011.6 1614L1013.4 1613.4L1015.3 1612.8L1017.1 1612.1L1018.9 1611.4L1020.8 1610.6L1022.6 1609.8L1024.4 1608.9L1026.3 1608L1028.1 1607L1029.9 1606L1031.8 1605L1033.6 1603.9L1035.4 1602.8L1037.3 1601.7L1039.1 1600.5L1040.9 1599.3L1042.8 1598.1L1044.6 1596.9L1046.4 1595.6L1048.3 1594.4L1050.1 1593.1L1051.9 1591.8L1053.8 1590.5L1055.6 1589.2L1057.4 1587.9L1059.3 1586.5L1061.1 1585.2L1062.9 1583.9L1064.8 1582.6L1066.6 1581.3L1068.5 1580L1070.3 1578.7L1072.1 1577.5L1074 1576.2L1075.8 1575L1077.6 1573.8L1079.5 1572.6L1081.3 1571.4L1083.1 1570.3L1085 1569.2L1086.8 1568.1L1088.6 1567.1L1090.5 1566L1092.3 1565.1L1094.1 1564.1L1096 1563.2L1097.8 1562.3L1099.6 1561.5L1101.5 1560.7L1103.3 1560L1105.1 1559.3L1107 1558.6L1108.8 1558L1110.6 1557.4L1112.5 1556.9L1114.3 1556.5L1116.1 1556L1118 1555.7L1119.8 1555.4L1121.6 1555.1L1123.5 1554.9L1125.3 1554.7L1127.1 1554.6L1129 1554.5L1130.8 1554.5L1132.7 1554.5L1134.5 1554.6L1136.3 1554.7L1138.2 1554.9L1140 1555.1L1141.8 1555.4L1143.7 1555.7L1145.5 1556.1L1147.3 1556.5L1149.2 1557L1151 1557.5L1152.8 1558L1154.7 1558.6L1156.5 1559.3L1158.3 1559.9L1160.2 1560.6L1162 1561.4L1163.8 1562.2L1165.7 1563L1167.5 1563.8L1169.3 1564.7L1171.2 1565.7L1173 1566.6L1174.8 1567.6L1176.7 1568.6L1178.5 1569.6L1180.3 1570.6L1182.2 1571.7L1184 1572.8L1185.8 1573.9L1187.7 1575L1189.5 1576.2L1191.3 1577.3L1193.2 1578.5L1195 1579.6L1196.9 1580.8L1198.7 1582L1200.5 1583.2L1202.4 1584.4L1204.2 1585.6L1206 1586.8L1207.9 1587.9L1209.7 1589.1L1211.5 1590.3L1213.4 1591.5L1215.2 1592.6L1217 1593.8L1218.9 1594.9L1220.7 1596L1222.5 1597.1L1224.4 1598.2L1226.2 1599.3L1228 1600.3L1229.9 1601.3L1231.7 1602.3L1233.5 1603.3L1235.4 1604.3L1237.2 1605.2L1239 1606.1L1240.9 1607L1242.7 1607.8L1244.5 1608.6L1246.4 1609.4L1248.2 1610.1L1250 1610.9L1251.9 1611.5L1253.7 1612.2L1255.5 1612.8L1257.4 1613.4L1259.2 1613.9L1261.1 1614.4L1262.9 1614.9L1264.7 1615.3L1266.6 1615.7L1268.4 1616.1L1270.2 1616.4L1272.1 1616.7L1273.9 1616.9L1275.7 1617.1L1277.6 1617.3L1279.4 1617.4L1281.2 1617.5L1283.1 1617.6L1284.9 1617.6L1286.7 1617.6L1288.6 1617.6L1290.4 1617.5L1292.2 1617.4L1294.1 1617.2L1295.9 1617L1297.7 1616.8L1299.6 1616.6L1301.4 1616.3L1303.2 1616L1305.1 1615.7L1306.9 1615.3L1308.7 1614.9L1310.6 1614.5L1312.4 1614L1314.2 1613.6L1316.1 1613.1L1317.9 1612.6L1319.7 1612L1321.6 1611.5L1323.4 1610.9L1325.3 1610.3L1327.1 1609.7L1328.9 1609.1L1330.8 1608.5L1332.6 1607.8L1334.4 1607.2L1336.3 1606.5L1338.1 1605.8L1339.9 1605.1L1341.8 1604.4L1343.6 1603.7L1345.4 1603L1347.3 1602.4L1349.1 1601.7L1350.9 1601L1352.8 1600.3L1354.6 1599.6L1356.4 1598.9L1358.3 1598.2L1360.1 1597.5L1361.9 1596.8L1363.8 1596.2L1365.6 1595.5L1367.4 1594.9L1369.3 1594.2L1371.1 1593.6L1372.9 1593L1374.8 1592.4L1376.6 1591.9L1378.4 1591.3L1380.3 1590.8L1382.1 1590.2L1383.9 1589.7L1385.8 1589.3L1387.6 1588.8L1389.5 1588.4L1391.3 1588L1393.1 1587.6L1395 1587.2L1396.8 1586.8L1398.6 1586.5L1400.5 1586.2L1402.3 1586L1404.1 1585.7L1406 1585.5L1407.8 1585.3L1409.6 1585.1L1411.5 1585L1413.3 1584.9L1415.1 1584.8L1417 1584.7L1418.8 1584.7L1420.6 1584.7L1422.5 1584.7L1424.3 1584.8L1426.1 1584.8L1428 1584.9L1429.8 1585.1L1431.6 1585.2L1433.5 1585.4L1435.3 1585.6L1437.1 1585.8L1439 1586L1440.8 1586.3L1442.6 1586.6L1444.5 1586.9L1446.3 1587.3L1448.1 1587.6L1450 1588L1451.8 1588.4L1453.7 1588.8L1455.5 1589.3L1457.3 1589.7L1459.2 1590.2L1461 1590.7L1462.8 1591.2L1464.7 1591.7L1466.5 1592.3L1468.3 1592.8L1470.2 1593.4L1472 1593.9L1473.8 1594.5L1475.7 1595.1L1477.5 1595.7L1479.3 1596.3L1481.2 1596.9L1483 1597.5" stroke="#00f" stroke-width="3.4" stroke-dasharray="3.8 4.1" stroke-dashoffset="0"/>
<path d="M199 1411.1L200.8 1421.3L202.7 1431.3L204.5 1441.1L206.3 1450.7L208.2 1460.1L210 1469.3L211.8 1478.3L213.7 1487L215.5 1495.5L217.3 1503.7L219.2 1511.7L221 1519.3L222.8 1526.7L224.7 1533.8L226.5 1540.6L228.3 1547.1L230.2 1553.2L232 1559.1L233.9 1564.6L235.7 1569.7L237.5 1574.6L239.4 1579.1L241.2 1583.3L243 1587.1L244.9 1590.6L246.7 1593.7L248.5 1596.5L250.4 1598.9L252.2 1601L254 1602.7L255.9 1604.1L257.7 1605.1L259.5 1605.8L261.4 1606.2L263.2 1606.2L265 1605.9L266.9 1605.3L268.7 1604.3L270.5 1603.1L272.4 1601.5L274.2 1599.6L276 1597.5L277.9 1595L279.7 1592.2L281.5 1589.2L283.4 1585.9L285.2 1582.4L287 1578.6L288.9 1574.6L290.7 1570.3L292.5 1565.8L294.4 1561.1L296.2 1556.3L298.1 1551.2L299.9 1545.9L301.7 1540.5L303.6 1535L305.4 1529.2L307.2 1523.4L309.1 1517.4L310.9 1511.4L312.7 1505.2L314.6 1498.9L316.4 1492.6L318.2 1486.2L320.1 1479.8L321.9 1473.3L323.7 1466.8L325.6 1460.3L327.4 1453.8L329.2 1447.3L331.1 1440.8L332.9 1434.4L334.7 1428L336.6 1421.6L338.4 1415.4L340.2 1409.1L342.1 1403L343.9 1397L345.7 1391.1L347.6 1385.3L349.4 1379.6L351.2 1374.1L353.1 1368.7L354.9 1363.5L356.7 1358.4L358.6 1353.5L360.4 1348.8L362.3 1344.2L364.1 1339.9L365.9 1335.7L367.8 1331.8L369.6 1328L371.4 1324.5L373.3 1321.2L375.1 1318.1L376.9 1315.3L378.8 1312.7L380.6 1310.3L382.4 1308.1L384.3 1306.2L386.1 1304.6L387.9 1303.2L389.8 1302L391.6 1301.1L393.4 1300.4L395.3 1300L397.1 1299.8L398.9 1299.9L400.8 1300.2L402.6 1300.8L404.4 1301.6L406.3 1302.7L408.1 1304L409.9 1305.5L411.8 1307.3L413.6 1309.3L415.4 1311.5L417.3 1313.9L419.1 1316.6L420.9 1319.4L422.8 1322.5L424.6 1325.8L426.5 1329.2L428.3 1332.9L430.1 1336.7L432 1340.7L433.8 1344.9L435.6 1349.2L437.5 1353.7L439.3 1358.4L441.1 1363.2L443 1368.1L444.8 1373.1L446.6 1378.3L448.5 1383.5L450.3 1388.9L452.1 1394.3L454 1399.9L455.8 1405.5L457.6 1411.1L459.5 1416.9L461.3 1422.6L463.1 1428.4L465 1434.3L466.8 1440.1L468.6 1446L470.5 1451.9L472.3 1457.8L474.1 1463.7L476 1469.5L477.8 1475.3L479.6 1481.1L481.5 1486.8L483.3 1492.5L485.1 1498.1L487 1503.7L488.8 1509.2L490.7 1514.5L492.5 1519.9L494.3 1525.1L496.2 1530.2L498 1535.1L499.8 1540L501.7 1544.8L503.5 1549.4L505.3 1553.9L507.2 1558.2L509 1562.5L510.8 1566.5L512.7 1570.4L514.5 1574.2L516.3 1577.7L518.2 1581.2L520 1584.4L521.8 1587.5L523.7 1590.4L525.5 1593.1L527.3 1595.7L529.2 1598.1L531 1600.3L532.8 1602.3L534.7 1604.1L536.5 1605.7L538.3 1607.2L540.2 1608.5L542 1609.5L543.8 1610.4L545.7 1611.2L547.5 1611.7L549.3 1612L551.2 1612.2L553 1612.2L554.9 1612L556.7 1611.7L558.5 1611.1L560.4 1610.4L562.2 1609.6L564 1608.6L565.9 1607.4L567.7 1606.1L569.5 1604.6L571.4 1602.9L573.2 1601.2L575 1599.3L576.9 1597.2L578.7 1595.1L580.5 1592.8L582.4 1590.4L584.2 1587.9L586 1585.3L587.9 1582.6L589.7 1579.8L591.5 1576.9L593.4 1573.9L595.2 1570.9L597 1567.8L598.9 1564.6L600.7 1561.3L602.5 1558.1L604.4 1554.7L606.2 1551.4L608 1548L609.9 1544.5L611.7 1541.1L613.5 1537.6L615.4 1534.2L617.2 1530.7L619.1 1527.2L620.9 1523.8L622.7 1520.4L624.6 1517L626.4 1513.6L628.2 1510.3L630.1 1507L631.9 1503.7L633.7 1500.5L635.6 1497.4L637.4 1494.3L639.2 1491.3L641.1 1488.4L642.9 1485.5L644.7 1482.8L646.6 1480.1L648.4 1477.5L650.2 1475L652.1 1472.6L653.9 1470.3L655.7 1468.1L657.6 1466L659.4 1464L661.2 1462.2L663.1 1460.4L664.9 1458.8L666.7 1457.3L668.6 1455.9L670.4 1454.7L672.2 1453.5L674.1 1452.5L675.9 1451.7L677.7 1450.9L679.6 1450.3L681.4 1449.9L683.3 1449.5L685.1 1449.3L686.9 1449.3L688.8 1449.3L690.6 1449.5L692.4 1449.8L694.3 1450.3L696.1 1450.9L697.9 1451.6L699.8 1452.4L701.6 1453.3L703.4 1454.4L705.3 1455.6L707.1 1456.9L708.9 1458.4L710.8 1459.9L712.6 1461.5L714.4 1463.3L716.3 1465.1L718.1 1467.1L719.9 1469.1L721.8 1471.3L723.6 1473.5L725.4 1475.8L727.3 1478.2L729.1 1480.7L730.9 1483.3L732.8 1485.9L734.6 1488.6L736.4 1491.3L738.3 1494.1L740.1 1497L741.9 1499.9L743.8 1502.8L745.6 1505.8L747.5 1508.8L749.3 1511.9L751.1 1515L753 1518.1L754.8 1521.2L756.6 1524.3L758.5 1527.4L760.3 1530.5L762.1 1533.7L764 1536.8L765.8 1539.9L767.6 1543L769.5 1546.1L771.3 1549.1L773.1 1552.1L775 1555.1L776.8 1558.1L778.6 1561L780.5 1563.8L782.3 1566.6L784.1 1569.4L786 1572.1L787.8 1574.7L789.6 1577.3L791.5 1579.8L793.3 1582.3L795.1 1584.7L797 1587L798.8 1589.2L800.6 1591.4L802.5 1593.4L804.3 1595.4L806.1 1597.3L808 1599.1L809.8 1600.8L811.7 1602.5L813.5 1604L815.3 1605.4L817.2 1606.8L819 1608L820.8 1609.2L822.7 1610.2L824.5 1611.2L826.3 1612.1L828.2 1612.8L830 1613.5L831.8 1614L833.7 1614.5L835.5 1614.9L837.3 1615.1L839.2 1615.3L841 1615.4L842.8 1615.4L844.7 1615.3L846.5 1615.1L848.3 1614.8L850.2 1614.4L852 1613.9L853.8 1613.4L855.7 1612.7L857.5 1612L859.3 1611.2L861.2 1610.3L863 1609.4L864.8 1608.4L866.7 1607.3L868.5 1606.1L870.3 1604.9L872.2 1603.6L874 1602.3L875.9 1600.9L877.7 1599.4L879.5 1597.9L881.4 1596.4L883.2 1594.8L885 1593.2L886.9 1591.5L888.7 1589.8L890.5 1588.1L892.4 1586.4L894.2 1584.6L896 1582.8L897.9 1581L899.7 1579.2L901.5 1577.3L903.4 1575.5L905.2 1573.6L907 1571.8L908.9 1570L910.7 1568.1L912.5 1566.3L914.4 1564.5L916.2 1562.7L918 1561L919.9 1559.2L921.7 1557.5L923.5 1555.8L925.4 1554.1L927.2 1552.5L929 1550.9L930.9 1549.3L932.7 1547.8L934.5 1546.4L936.4 1544.9L938.2 1543.6L940.1 1542.2L941.9 1541L943.7 1539.8L945.6 1538.6L947.4 1537.5L949.2 1536.4L951.1 1535.5L952.9 1534.5L954.7 1533.7L956.6 1532.9L958.4 1532.2L960.2 1531.5L962.1 1530.9L963.9 1530.4L965.7 1530L967.6 1529.6L969.4 1529.3L971.2 1529L973.1 1528.9L974.9 1528.8L976.7 1528.7L978.6 1528.8L980.4 1528.9L982.2 1529.1L984.1 1529.3L985.9 1529.6L987.7 1530L989.6 1530.5L991.4 1531L993.2 1531.6L995.1 1532.2L996.9 1532.9L998.7 1533.7L1000.6 1534.5L1002.4 1535.4L1004.3 1536.3L1006.1 1537.3L1007.9 1538.4L1009.8 1539.5L1011.6 1540.6L1013.4 1541.8L1015.3 1543L1017.1 1544.3L1018.9 1545.6L1020.8 1547L1022.6 1548.4L1024.4 1549.8L1026.3 1551.3L1028.1 1552.8L1029.9 1554.3L1031.8 1555.9L1033.6 1557.4L1035.4 1559L1037.3 1560.6L1039.1 1562.3L1040.9 1563.9L1042.8 1565.5L1044.6 1567.2L1046.4 1568.8L1048.3 1570.5L1050.1 1572.2L1051.9 1573.8L1053.8 1575.5L1055.6 1577.1L1057.4 1578.8L1059.3 1580.4L1061.1 1582L1062.9 1583.6L1064.8 1585.2L1066.6 1586.8L1068.5 1588.3L1070.3 1589.8L1072.1 1591.3L1074 1592.8L1075.8 1594.2L1077.6 1595.6L1079.5 1597L1081.3 1598.3L1083.1 1599.6L1085 1600.9L1086.8 1602.1L1088.6 1603.3L1090.5 1604.4L1092.3 1605.5L1094.1 1606.6L1096 1607.6L1097.8 1608.5L1099.6 1609.5L1101.5 1610.3L1103.3 1611.1L1105.1 1611.9L1107 1612.6L1108.8 1613.2L1110.6 1613.9L1112.5 1614.4L1114.3 1614.9L1116.1 1615.4L1118 1615.8L1119.8 1616.1L1121.6 1616.4L1123.5 1616.6L1125.3 1616.8L1127.1 1617L1129 1617L1130.8 1617.1L1132.7 1617.1L1134.5 1617L1136.3 1616.9L1138.2 1616.7L1140 1616.5L1141.8 1616.3L1143.7 1616L1145.5 1615.6L1147.3 1615.2L1149.2 1614.8L1151 1614.3L1152.8 1613.8L1154.7 1613.3L1156.5 1612.7L1158.3 1612.1L1160.2 1611.4L1162 1610.7L1163.8 1610L1165.7 1609.3L1167.5 1608.5L1169.3 1607.7L1171.2 1606.9L1173 1606L1174.8 1605.2L1176.7 1604.3L1178.5 1603.4L1180.3 1602.5L1182.2 1601.5L1184 1600.6L1185.8 1599.6L1187.7 1598.7L1189.5 1597.7L1191.3 1596.7L1193.2 1595.7L1195 1594.8L1196.9 1593.8L1198.7 1592.8L1200.5 1591.8L1202.4 1590.9L1204.2 1589.9L1206 1588.9L1207.9 1588L1209.7 1587.1L1211.5 1586.2L1213.4 1585.3L1215.2 1584.4L1217 1583.5L1218.9 1582.7L1220.7 1581.8L1222.5 1581L1224.4 1580.3L1226.2 1579.5L1228 1578.8L1229.9 1578.1L1231.7 1577.4L1233.5 1576.8L1235.4 1576.2L1237.2 1575.6L1239 1575L1240.9 1574.5L1242.7 1574L1244.5 1573.6L1246.4 1573.2L1248.2 1572.8L1250 1572.4L1251.9 1572.1L1253.7 1571.9L1255.5 1571.6L1257.4 1571.4L1259.2 1571.3L1261.1 1571.1L1262.9 1571.1L1264.7 1571L1266.6 1571L1268.4 1571L1270.2 1571.1L1272.1 1571.2L1273.9 1571.3L1275.7 1571.5L1277.6 1571.7L1279.4 1571.9L1281.2 1572.2L1283.1 1572.5L1284.9 1572.9L1286.7 1573.3L1288.6 1573.7L1290.4 1574.1L1292.2 1574.6L1294.1 1575.1L1295.9 1575.6L1297.7 1576.2L1299.6 1576.8L1301.4 1577.4L1303.2 1578L1305.1 1578.7L1306.9 1579.4L1308.7 1580.1L1310.6 1580.8L1312.4 1581.6L1314.2 1582.3L1316.1 1583.1L1317.9 1583.9L1319.7 1584.7L1321.6 1585.5L1323.4 1586.4L1325.3 1587.2L1327.1 1588.1L1328.9 1588.9L1330.8 1589.8L1332.6 1590.7L1334.4 1591.6L1336.3 1592.4L1338.1 1593.3L1339.9 1594.2L1341.8 1595.1L1343.6 1596L1345.4 1596.9L1347.3 1597.7L1349.1 1598.6L1350.9 1599.5L1352.8 1600.3L1354.6 1601.1L1356.4 1602L1358.3 1602.8L1360.1 1603.6L1361.9 1604.4L1363.8 1605.2L1365.6 1605.9L1367.4 1606.7L1369.3 1607.4L1371.1 1608.1L1372.9 1608.8L1374.8 1609.5L1376.6 1610.1L1378.4 1610.7L1380.3 1611.3L1382.1 1611.9L1383.9 1612.5L1385.8 1613L1387.6 1613.5L1389.5 1614L1391.3 1614.4L1393.1 1614.9L1395 1615.3L1396.8 1615.6L1398.6 1616L1400.5 1616.3L1402.3 1616.6L1404.1 1616.9L1406 1617.1L1407.8 1617.3L1409.6 1617.5L1411.5 1617.6L1413.3 1617.8L1415.1 1617.9L1417 1617.9L1418.8 1618L1420.6 1618L1422.5 1618L1424.3 1617.9L1426.1 1617.9L1428 1617.8L1429.8 1617.7L1431.6 1617.5L1433.5 1617.4L1435.3 1617.2L1437.1 1617L1439 1616.7L1440.8 1616.5L1442.6 1616.2L1444.5 1615.9L1446.3 1615.6L1448.1 1615.3L1450 1614.9L1451.8 1614.6L1453.7 1614.2L1455.5 1613.8L1457.3 1613.4L1459.2 1612.9L1461 1612.5L1462.8 1612L1464.7 1611.6L1466.5 1611.1L1468.3 1610.6L1470.2 1610.1L1472 1609.6L1473.8 1609.1L1475.7 1608.6L1477.5 1608.1L1479.3 1607.6L1481.2 1607.1L1483 1606.6" stroke="#00f" stroke-width="3.3" stroke-dasharray="22 11 4 11.5" stroke-dashoffset="-2.5"/>
<path d="M199 1133.2L200.8 1134.1L202.7 1134.9L204.5 1135.8L206.3 1136.6L208.2 1137.3L210 1138L211.8 1138.7L213.7 1139.3L215.5 1139.9L217.3 1140.5L219.2 1141L221 1141.5L222.8 1142L224.7 1142.4L226.5 1142.8L228.3 1143.2L230.2 1143.5L232 1143.9L233.9 1144.2L235.7 1144.4L237.5 1144.7L239.4 1144.9L241.2 1145.1L243 1145.3L244.9 1145.4L246.7 1145.6L248.5 1145.7L250.4 1145.8L252.2 1145.9L254 1146L255.9 1146.1L257.7 1146.2L259.5 1146.3L261.4 1146.3L263.2 1146.4L265 1146.4L266.9 1146.5L268.7 1146.5L270.5 1146.6L272.4 1146.7L274.2 1146.7L276 1146.8L277.9 1146.9L279.7 1147L281.5 1147L283.4 1147.2L285.2 1147.3L287 1147.4L288.9 1147.5L290.7 1147.7L292.5 1147.9L294.4 1148.1L296.2 1148.3L298.1 1148.5L299.9 1148.8L301.7 1149.1L303.6 1149.4L305.4 1149.7L307.2 1150.1L309.1 1150.4L310.9 1150.9L312.7 1151.3L314.6 1151.7L316.4 1152.2L318.2 1152.8L320.1 1153.3L321.9 1153.9L323.7 1154.5L325.6 1155.1L327.4 1155.8L329.2 1156.5L331.1 1157.2L332.9 1158L334.7 1158.8L336.6 1159.6L338.4 1160.5L340.2 1161.3L342.1 1162.3L343.9 1163.2L345.7 1164.2L347.6 1165.2L349.4 1166.2L351.2 1167.3L353.1 1168.4L354.9 1169.5L356.7 1170.7L358.6 1171.9L360.4 1173.1L362.3 1174.3L364.1 1175.6L365.9 1176.9L367.8 1178.2L369.6 1179.5L371.4 1180.9L373.3 1182.2L375.1 1183.6L376.9 1185.1L378.8 1186.5L380.6 1187.9L382.4 1189.4L384.3 1190.9L386.1 1192.4L387.9 1193.9L389.8 1195.4L391.6 1197L393.4 1198.5L395.3 1200.1L397.1 1201.6L398.9 1203.2L400.8 1204.7L402.6 1206.3L404.4 1207.9L406.3 1209.5L408.1 1211.1L409.9 1212.6L411.8 1214.2L413.6 1215.8L415.4 1217.3L417.3 1218.9L419.1 1220.4L420.9 1222L422.8 1223.5L424.6 1225L426.5 1226.5L428.3 1228L430.1 1229.5L432 1231L433.8 1232.4L435.6 1233.9L437.5 1235.3L439.3 1236.7L441.1 1238.1L443 1239.4L444.8 1240.7L446.6 1242.1L448.5 1243.3L450.3 1244.6L452.1 1245.8L454 1247.1L455.8 1248.2L457.6 1249.4L459.5 1250.5L461.3 1251.7L463.1 1252.7L465 1253.8L466.8 1254.8L468.6 1255.8L470.5 1256.8L472.3 1257.7L474.1 1258.6L476 1259.5L477.8 1260.3L479.6 1261.1L481.5 1261.9L483.3 1262.7L485.1 1263.4L487 1264.1L488.8 1264.8L490.7 1265.4L492.5 1266L494.3 1266.6L496.2 1267.2L498 1267.7L499.8 1268.2L501.7 1268.7L503.5 1269.1L505.3 1269.5L507.2 1269.9L509 1270.3L510.8 1270.6L512.7 1271L514.5 1271.3L516.3 1271.5L518.2 1271.8L520 1272L521.8 1272.2L523.7 1272.4L525.5 1272.6L527.3 1272.8L529.2 1273L531 1273.1L532.8 1273.2L534.7 1273.3L536.5 1273.4L538.3 1273.5L540.2 1273.6L542 1273.7L543.8 1273.7L545.7 1273.8L547.5 1273.8L549.3 1273.9L551.2 1273.9L553 1274L554.9 1274L556.7 1274L558.5 1274.1L560.4 1274.1L562.2 1274.2L564 1274.2L565.9 1274.3L567.7 1274.3L569.5 1274.4L571.4 1274.5L573.2 1274.6L575 1274.7L576.9 1274.8L578.7 1274.9L580.5 1275L582.4 1275.1L584.2 1275.3L586 1275.5L587.9 1275.6L589.7 1275.8L591.5 1276.1L593.4 1276.3L595.2 1276.6L597 1276.8L598.9 1277.1L600.7 1277.4L602.5 1277.8L604.4 1278.1L606.2 1278.5L608 1278.9L609.9 1279.3L611.7 1279.7L613.5 1280.2L615.4 1280.7L617.2 1281.2L619.1 1281.7L620.9 1282.2L622.7 1282.8L624.6 1283.4L626.4 1284L628.2 1284.7L630.1 1285.3L631.9 1286L633.7 1286.7L635.6 1287.5L637.4 1288.2L639.2 1289L641.1 1289.8L642.9 1290.6L644.7 1291.4L646.6 1292.3L648.4 1293.2L650.2 1294.1L652.1 1295L653.9 1295.9L655.7 1296.9L657.6 1297.8L659.4 1298.8L661.2 1299.8L663.1 1300.9L664.9 1301.9L666.7 1302.9L668.6 1304L670.4 1305.1L672.2 1306.1L674.1 1307.2L675.9 1308.3L677.7 1309.4L679.6 1310.6L681.4 1311.7L683.3 1312.8L685.1 1313.9L686.9 1315.1L688.8 1316.2L690.6 1317.4L692.4 1318.5L694.3 1319.7L696.1 1320.8L697.9 1322L699.8 1323.1L701.6 1324.3L703.4 1325.4L705.3 1326.6L707.1 1327.7L708.9 1328.8L710.8 1329.9L712.6 1331.1L714.4 1332.2L716.3 1333.2L718.1 1334.3L719.9 1335.4L721.8 1336.5L723.6 1337.5L725.4 1338.6L727.3 1339.6L729.1 1340.6L730.9 1341.6L732.8 1342.6L734.6 1343.5L736.4 1344.5L738.3 1345.4L740.1 1346.3L741.9 1347.2L743.8 1348.1L745.6 1348.9L747.5 1349.8L749.3 1350.6L751.1 1351.4L753 1352.1L754.8 1352.9L756.6 1353.6L758.5 1354.3L760.3 1355L762.1 1355.7L764 1356.3L765.8 1357L767.6 1357.6L769.5 1358.1L771.3 1358.7L773.1 1359.2L775 1359.7L776.8 1360.2L778.6 1360.7L780.5 1361.2L782.3 1361.6L784.1 1362L786 1362.4L787.8 1362.8L789.6 1363.1L791.5 1363.4L793.3 1363.8L795.1 1364L797 1364.3L798.8 1364.6L800.6 1364.8L802.5 1365L804.3 1365.3L806.1 1365.4L808 1365.6L809.8 1365.8L811.7 1365.9L813.5 1366.1L815.3 1366.2L817.2 1366.3L819 1366.4L820.8 1366.5L822.7 1366.6L824.5 1366.7L826.3 1366.7L828.2 1366.8L830 1366.8L831.8 1366.9L833.7 1366.9L835.5 1367L837.3 1367L839.2 1367L841 1367.1L842.8 1367.1L844.7 1367.1L846.5 1367.2L848.3 1367.2L850.2 1367.2L852 1367.3L853.8 1367.3L855.7 1367.3L857.5 1367.4L859.3 1367.4L861.2 1367.5L863 1367.6L864.8 1367.6L866.7 1367.7L868.5 1367.8L870.3 1367.9L872.2 1368L874 1368.1L875.9 1368.3L877.7 1368.4L879.5 1368.6L881.4 1368.7L883.2 1368.9L885 1369.1L886.9 1369.3L888.7 1369.5L890.5 1369.8L892.4 1370L894.2 1370.3L896 1370.6L897.9 1370.9L899.7 1371.2L901.5 1371.5L903.4 1371.9L905.2 1372.2L907 1372.6L908.9 1373L910.7 1373.4L912.5 1373.9L914.4 1374.3L916.2 1374.8L918 1375.3L919.9 1375.7L921.7 1376.3L923.5 1376.8L925.4 1377.3L927.2 1377.9L929 1378.5L930.9 1379.1L932.7 1379.7L934.5 1380.3L936.4 1380.9L938.2 1381.6L940.1 1382.3L941.9 1382.9L943.7 1383.6L945.6 1384.3L947.4 1385L949.2 1385.8L951.1 1386.5L952.9 1387.3L954.7 1388L956.6 1388.8L958.4 1389.6L960.2 1390.4L962.1 1391.1L963.9 1391.9L965.7 1392.8L967.6 1393.6L969.4 1394.4L971.2 1395.2L973.1 1396L974.9 1396.9L976.7 1397.7L978.6 1398.6L980.4 1399.4L982.2 1400.2L984.1 1401.1L985.9 1401.9L987.7 1402.7L989.6 1403.6L991.4 1404.4L993.2 1405.3L995.1 1406.1L996.9 1406.9L998.7 1407.7L1000.6 1408.5L1002.4 1409.3L1004.3 1410.1L1006.1 1410.9L1007.9 1411.7L1009.8 1412.5L1011.6 1413.3L1013.4 1414L1015.3 1414.8L1017.1 1415.5L1018.9 1416.3L1020.8 1417L1022.6 1417.7L1024.4 1418.4L1026.3 1419.1L1028.1 1419.7L1029.9 1420.4L1031.8 1421L1033.6 1421.6L1035.4 1422.3L1037.3 1422.9L1039.1 1423.4L1040.9 1424L1042.8 1424.6L1044.6 1425.1L1046.4 1425.6L1048.3 1426.1L1050.1 1426.6L1051.9 1427.1L1053.8 1427.6L1055.6 1428L1057.4 1428.4L1059.3 1428.8L1061.1 1429.2L1062.9 1429.6L1064.8 1430L1066.6 1430.3L1068.5 1430.7L1070.3 1431L1072.1 1431.3L1074 1431.6L1075.8 1431.8L1077.6 1432.1L1079.5 1432.3L1081.3 1432.6L1083.1 1432.8L1085 1433L1086.8 1433.2L1088.6 1433.4L1090.5 1433.5L1092.3 1433.7L1094.1 1433.8L1096 1434L1097.8 1434.1L1099.6 1434.2L1101.5 1434.3L1103.3 1434.4L1105.1 1434.5L1107 1434.6L1108.8 1434.6L1110.6 1434.7L1112.5 1434.8L1114.3 1434.8L1116.1 1434.8L1118 1434.9L1119.8 1434.9L1121.6 1435L1123.5 1435L1125.3 1435L1127.1 1435L1129 1435.1L1130.8 1435.1L1132.7 1435.1L1134.5 1435.1L1136.3 1435.1L1138.2 1435.2L1140 1435.2L1141.8 1435.2L1143.7 1435.3L1145.5 1435.3L1147.3 1435.3L1149.2 1435.4L1151 1435.4L1152.8 1435.5L1154.7 1435.5L1156.5 1435.6L1158.3 1435.7L1160.2 1435.7L1162 1435.8L1163.8 1435.9L1165.7 1436L1167.5 1436.1L1169.3 1436.2L1171.2 1436.4L1173 1436.5L1174.8 1436.7L1176.7 1436.8L1178.5 1437L1180.3 1437.2L1182.2 1437.4L1184 1437.6L1185.8 1437.8L1187.7 1438L1189.5 1438.2L1191.3 1438.5L1193.2 1438.8L1195 1439L1196.9 1439.3L1198.7 1439.6L1200.5 1439.9L1202.4 1440.3L1204.2 1440.6L1206 1440.9L1207.9 1441.3L1209.7 1441.7L1211.5 1442.1L1213.4 1442.4L1215.2 1442.9L1217 1443.3L1218.9 1443.7L1220.7 1444.1L1222.5 1444.6L1224.4 1445.1L1226.2 1445.5L1228 1446L1229.9 1446.5L1231.7 1447L1233.5 1447.5L1235.4 1448L1237.2 1448.6L1239 1449.1L1240.9 1449.6L1242.7 1450.2L1244.5 1450.8L1246.4 1451.3L1248.2 1451.9L1250 1452.5L1251.9 1453.1L1253.7 1453.7L1255.5 1454.2L1257.4 1454.8L1259.2 1455.4L1261.1 1456L1262.9 1456.7L1264.7 1457.3L1266.6 1457.9L1268.4 1458.5L1270.2 1459.1L1272.1 1459.7L1273.9 1460.3L1275.7 1460.9L1277.6 1461.6L1279.4 1462.2L1281.2 1462.8L1283.1 1463.4L1284.9 1464L1286.7 1464.6L1288.6 1465.2L1290.4 1465.8L1292.2 1466.4L1294.1 1466.9L1295.9 1467.5L1297.7 1468.1L1299.6 1468.6L1301.4 1469.2L1303.2 1469.8L1305.1 1470.3L1306.9 1470.8L1308.7 1471.4L1310.6 1471.9L1312.4 1472.4L1314.2 1472.9L1316.1 1473.4L1317.9 1473.8L1319.7 1474.3L1321.6 1474.8L1323.4 1475.2L1325.3 1475.7L1327.1 1476.1L1328.9 1476.5L1330.8 1476.9L1332.6 1477.3L1334.4 1477.7L1336.3 1478.1L1338.1 1478.4L1339.9 1478.8L1341.8 1479.1L1343.6 1479.5L1345.4 1479.8L1347.3 1480.1L1349.1 1480.4L1350.9 1480.7L1352.8 1480.9L1354.6 1481.2L1356.4 1481.4L1358.3 1481.7L1360.1 1481.9L1361.9 1482.1L1363.8 1482.3L1365.6 1482.5L1367.4 1482.7L1369.3 1482.8L1371.1 1483L1372.9 1483.2L1374.8 1483.3L1376.6 1483.4L1378.4 1483.6L1380.3 1483.7L1382.1 1483.8L1383.9 1483.9L1385.8 1484L1387.6 1484.1L1389.5 1484.1L1391.3 1484.2L1393.1 1484.3L1395 1484.3L1396.8 1484.4L1398.6 1484.4L1400.5 1484.5L1402.3 1484.5L1404.1 1484.5L1406 1484.6L1407.8 1484.6L1409.6 1484.6L1411.5 1484.6L1413.3 1484.7L1415.1 1484.7L1417 1484.7L1418.8 1484.7L1420.6 1484.7L1422.5 1484.7L1424.3 1484.8L1426.1 1484.8L1428 1484.8L1429.8 1484.8L1431.6 1484.8L1433.5 1484.9L1435.3 1484.9L1437.1 1484.9L1439 1484.9L1440.8 1485L1442.6 1485L1444.5 1485.1L1446.3 1485.1L1448.1 1485.2L1450 1485.2L1451.8 1485.3L1453.7 1485.4L1455.5 1485.5L1457.3 1485.5L1459.2 1485.6L1461 1485.7L1462.8 1485.8L1464.7 1486L1466.5 1486.1L1468.3 1486.2L1470.2 1486.3L1472 1486.5L1473.8 1486.6L1475.7 1486.8L1477.5 1487L1479.3 1487.2L1481.2 1487.4L1483 1487.5" stroke="#f0f" stroke-width="3.5"/>
<path d="M199 1176L200.8 1178.2L202.7 1180.2L204.5 1182.1L206.3 1183.9L208.2 1185.6L210 1187.2L211.8 1188.7L213.7 1190.1L215.5 1191.4L217.3 1192.6L219.2 1193.7L221 1194.7L222.8 1195.7L224.7 1196.5L226.5 1197.3L228.3 1198L230.2 1198.7L232 1199.2L233.9 1199.8L235.7 1200.2L237.5 1200.7L239.4 1201L241.2 1201.4L243 1201.7L244.9 1201.9L246.7 1202.2L248.5 1202.4L250.4 1202.6L252.2 1202.8L254 1202.9L255.9 1203.1L257.7 1203.2L259.5 1203.4L261.4 1203.5L263.2 1203.7L265 1203.8L266.9 1204L268.7 1204.2L270.5 1204.4L272.4 1204.7L274.2 1204.9L276 1205.2L277.9 1205.5L279.7 1205.9L281.5 1206.3L283.4 1206.7L285.2 1207.2L287 1207.7L288.9 1208.3L290.7 1208.9L292.5 1209.6L294.4 1210.3L296.2 1211.1L298.1 1212L299.9 1212.9L301.7 1213.8L303.6 1214.8L305.4 1215.9L307.2 1217.1L309.1 1218.3L310.9 1219.5L312.7 1220.9L314.6 1222.3L316.4 1223.8L318.2 1225.3L320.1 1226.9L321.9 1228.5L323.7 1230.3L325.6 1232.1L327.4 1233.9L329.2 1235.9L331.1 1237.8L332.9 1239.9L334.7 1242L336.6 1244.2L338.4 1246.4L340.2 1248.7L342.1 1251.1L343.9 1253.5L345.7 1255.9L347.6 1258.4L349.4 1261L351.2 1263.6L353.1 1266.3L354.9 1269L356.7 1271.7L358.6 1274.5L360.4 1277.3L362.3 1280.2L364.1 1283.1L365.9 1286L367.8 1289L369.6 1292L371.4 1295L373.3 1298.1L375.1 1301.1L376.9 1304.2L378.8 1307.3L380.6 1310.4L382.4 1313.5L384.3 1316.7L386.1 1319.8L387.9 1323L389.8 1326.1L391.6 1329.3L393.4 1332.4L395.3 1335.5L397.1 1338.7L398.9 1341.8L400.8 1344.9L402.6 1348L404.4 1351.1L406.3 1354.1L408.1 1357.2L409.9 1360.2L411.8 1363.2L413.6 1366.1L415.4 1369L417.3 1371.9L419.1 1374.8L420.9 1377.6L422.8 1380.4L424.6 1383.2L426.5 1385.9L428.3 1388.5L430.1 1391.2L432 1393.7L433.8 1396.3L435.6 1398.8L437.5 1401.2L439.3 1403.6L441.1 1405.9L443 1408.2L444.8 1410.4L446.6 1412.6L448.5 1414.7L450.3 1416.8L452.1 1418.8L454 1420.8L455.8 1422.7L457.6 1424.5L459.5 1426.3L461.3 1428.1L463.1 1429.7L465 1431.4L466.8 1432.9L468.6 1434.4L470.5 1435.9L472.3 1437.3L474.1 1438.6L476 1439.9L477.8 1441.2L479.6 1442.3L481.5 1443.5L483.3 1444.5L485.1 1445.6L487 1446.5L488.8 1447.5L490.7 1448.3L492.5 1449.2L494.3 1449.9L496.2 1450.7L498 1451.4L499.8 1452L501.7 1452.6L503.5 1453.2L505.3 1453.7L507.2 1454.2L509 1454.7L510.8 1455.1L512.7 1455.5L514.5 1455.9L516.3 1456.2L518.2 1456.5L520 1456.7L521.8 1457L523.7 1457.2L525.5 1457.4L527.3 1457.6L529.2 1457.8L531 1457.9L532.8 1458L534.7 1458.1L536.5 1458.2L538.3 1458.3L540.2 1458.4L542 1458.5L543.8 1458.6L545.7 1458.6L547.5 1458.7L549.3 1458.7L551.2 1458.8L553 1458.8L554.9 1458.9L556.7 1459L558.5 1459L560.4 1459.1L562.2 1459.2L564 1459.3L565.9 1459.4L567.7 1459.5L569.5 1459.6L571.4 1459.8L573.2 1459.9L575 1460.1L576.9 1460.3L578.7 1460.5L580.5 1460.7L582.4 1461L584.2 1461.2L586 1461.5L587.9 1461.8L589.7 1462.1L591.5 1462.5L593.4 1462.9L595.2 1463.3L597 1463.7L598.9 1464.1L600.7 1464.6L602.5 1465.1L604.4 1465.6L606.2 1466.1L608 1466.7L609.9 1467.3L611.7 1467.9L613.5 1468.6L615.4 1469.2L617.2 1469.9L619.1 1470.7L620.9 1471.4L622.7 1472.2L624.6 1473L626.4 1473.8L628.2 1474.6L630.1 1475.5L631.9 1476.4L633.7 1477.3L635.6 1478.2L637.4 1479.2L639.2 1480.1L641.1 1481.1L642.9 1482.1L644.7 1483.2L646.6 1484.2L648.4 1485.3L650.2 1486.3L652.1 1487.4L653.9 1488.5L655.7 1489.7L657.6 1490.8L659.4 1491.9L661.2 1493.1L663.1 1494.3L664.9 1495.4L666.7 1496.6L668.6 1497.8L670.4 1499L672.2 1500.2L674.1 1501.4L675.9 1502.6L677.7 1503.8L679.6 1505L681.4 1506.2L683.3 1507.5L685.1 1508.7L686.9 1509.9L688.8 1511.1L690.6 1512.3L692.4 1513.5L694.3 1514.7L696.1 1515.9L697.9 1517L699.8 1518.2L701.6 1519.4L703.4 1520.5L705.3 1521.7L707.1 1522.8L708.9 1523.9L710.8 1525L712.6 1526.1L714.4 1527.2L716.3 1528.2L718.1 1529.3L719.9 1530.3L721.8 1531.3L723.6 1532.3L725.4 1533.3L727.3 1534.2L729.1 1535.2L730.9 1536.1L732.8 1537L734.6 1537.8L736.4 1538.7L738.3 1539.5L740.1 1540.4L741.9 1541.2L743.8 1541.9L745.6 1542.7L747.5 1543.4L749.3 1544.1L751.1 1544.8L753 1545.5L754.8 1546.1L756.6 1546.7L758.5 1547.3L760.3 1547.9L762.1 1548.5L764 1549L765.8 1549.5L767.6 1550L769.5 1550.5L771.3 1551L773.1 1551.4L775 1551.8L776.8 1552.2L778.6 1552.6L780.5 1552.9L782.3 1553.3L784.1 1553.6L786 1553.9L787.8 1554.2L789.6 1554.4L791.5 1554.7L793.3 1554.9L795.1 1555.1L797 1555.3L798.8 1555.5L800.6 1555.7L802.5 1555.8L804.3 1556L806.1 1556.1L808 1556.2L809.8 1556.4L811.7 1556.5L813.5 1556.6L815.3 1556.6L817.2 1556.7L819 1556.8L820.8 1556.9L822.7 1556.9L824.5 1557L826.3 1557L828.2 1557L830 1557.1L831.8 1557.1L833.7 1557.1L835.5 1557.2L837.3 1557.2L839.2 1557.2L841 1557.2L842.8 1557.2L844.7 1557.3L846.5 1557.3L848.3 1557.3L850.2 1557.3L852 1557.4L853.8 1557.4L855.7 1557.4L857.5 1557.5L859.3 1557.5L861.2 1557.6L863 1557.6L864.8 1557.7L866.7 1557.8L868.5 1557.8L870.3 1557.9L872.2 1558L874 1558.1L875.9 1558.2L877.7 1558.3L879.5 1558.4L881.4 1558.5L883.2 1558.7L885 1558.8L886.9 1559L888.7 1559.1L890.5 1559.3L892.4 1559.5L894.2 1559.7L896 1559.9L897.9 1560.1L899.7 1560.3L901.5 1560.6L903.4 1560.8L905.2 1561L907 1561.3L908.9 1561.6L910.7 1561.9L912.5 1562.1L914.4 1562.4L916.2 1562.7L918 1563.1L919.9 1563.4L921.7 1563.7L923.5 1564.1L925.4 1564.4L927.2 1564.8L929 1565.1L930.9 1565.5L932.7 1565.9L934.5 1566.3L936.4 1566.7L938.2 1567.1L940.1 1567.5L941.9 1567.9L943.7 1568.3L945.6 1568.8L947.4 1569.2L949.2 1569.6L951.1 1570.1L952.9 1570.5L954.7 1571L956.6 1571.4L958.4 1571.9L960.2 1572.3L962.1 1572.8L963.9 1573.3L965.7 1573.7L967.6 1574.2L969.4 1574.7L971.2 1575.1L973.1 1575.6L974.9 1576.1L976.7 1576.5L978.6 1577L980.4 1577.5L982.2 1577.9L984.1 1578.4L985.9 1578.8L987.7 1579.3L989.6 1579.8L991.4 1580.2L993.2 1580.6L995.1 1581.1L996.9 1581.5L998.7 1582L1000.6 1582.4L1002.4 1582.8L1004.3 1583.2L1006.1 1583.6L1007.9 1584.1L1009.8 1584.5L1011.6 1584.9L1013.4 1585.2L1015.3 1585.6L1017.1 1586L1018.9 1586.4L1020.8 1586.7L1022.6 1587.1L1024.4 1587.4L1026.3 1587.8L1028.1 1588.1L1029.9 1588.4L1031.8 1588.7L1033.6 1589L1035.4 1589.3L1037.3 1589.6L1039.1 1589.9L1040.9 1590.2L1042.8 1590.4L1044.6 1590.7L1046.4 1590.9L1048.3 1591.2L1050.1 1591.4L1051.9 1591.6L1053.8 1591.8L1055.6 1592L1057.4 1592.2L1059.3 1592.4L1061.1 1592.6L1062.9 1592.8L1064.8 1593L1066.6 1593.1L1068.5 1593.3L1070.3 1593.4L1072.1 1593.5L1074 1593.7L1075.8 1593.8L1077.6 1593.9L1079.5 1594L1081.3 1594.1L1083.1 1594.2L1085 1594.3L1086.8 1594.4L1088.6 1594.5L1090.5 1594.5L1092.3 1594.6L1094.1 1594.7L1096 1594.7L1097.8 1594.8L1099.6 1594.8L1101.5 1594.9L1103.3 1594.9L1105.1 1594.9L1107 1595L1108.8 1595L1110.6 1595L1112.5 1595L1114.3 1595.1L1116.1 1595.1L1118 1595.1L1119.8 1595.1L1121.6 1595.1L1123.5 1595.1L1125.3 1595.2L1127.1 1595.2L1129 1595.2L1130.8 1595.2L1132.7 1595.2L1134.5 1595.2L1136.3 1595.2L1138.2 1595.2L1140 1595.2L1141.8 1595.2L1143.7 1595.2L1145.5 1595.3L1147.3 1595.3L1149.2 1595.3L1151 1595.3L1152.8 1595.3L1154.7 1595.3L1156.5 1595.4L1158.3 1595.4L1160.2 1595.4L1162 1595.5L1163.8 1595.5L1165.7 1595.5L1167.5 1595.6L1169.3 1595.6L1171.2 1595.7L1173 1595.7L1174.8 1595.8L1176.7 1595.8L1178.5 1595.9L1180.3 1595.9L1182.2 1596L1184 1596.1L1185.8 1596.1L1187.7 1596.2L1189.5 1596.3L1191.3 1596.4L1193.2 1596.5L1195 1596.6L1196.9 1596.7L1198.7 1596.8L1200.5 1596.9L1202.4 1597L1204.2 1597.1L1206 1597.2L1207.9 1597.3L1209.7 1597.5L1211.5 1597.6L1213.4 1597.7L1215.2 1597.8L1217 1598L1218.9 1598.1L1220.7 1598.3L1222.5 1598.4L1224.4 1598.5L1226.2 1598.7L1228 1598.9L1229.9 1599L1231.7 1599.2L1233.5 1599.3L1235.4 1599.5L1237.2 1599.7L1239 1599.8L1240.9 1600L1242.7 1600.2L1244.5 1600.3L1246.4 1600.5L1248.2 1600.7L1250 1600.9L1251.9 1601L1253.7 1601.2L1255.5 1601.4L1257.4 1601.6L1259.2 1601.7L1261.1 1601.9L1262.9 1602.1L1264.7 1602.3L1266.6 1602.5L1268.4 1602.7L1270.2 1602.8L1272.1 1603L1273.9 1603.2L1275.7 1603.4L1277.6 1603.5L1279.4 1603.7L1281.2 1603.9L1283.1 1604.1L1284.9 1604.2L1286.7 1604.4L1288.6 1604.6L1290.4 1604.7L1292.2 1604.9L1294.1 1605.1L1295.9 1605.2L1297.7 1605.4L1299.6 1605.5L1301.4 1605.7L1303.2 1605.9L1305.1 1606L1306.9 1606.2L1308.7 1606.3L1310.6 1606.4L1312.4 1606.6L1314.2 1606.7L1316.1 1606.8L1317.9 1607L1319.7 1607.1L1321.6 1607.2L1323.4 1607.3L1325.3 1607.5L1327.1 1607.6L1328.9 1607.7L1330.8 1607.8L1332.6 1607.9L1334.4 1608L1336.3 1608.1L1338.1 1608.2L1339.9 1608.3L1341.8 1608.4L1343.6 1608.5L1345.4 1608.5L1347.3 1608.6L1349.1 1608.7L1350.9 1608.8L1352.8 1608.8L1354.6 1608.9L1356.4 1609L1358.3 1609L1360.1 1609.1L1361.9 1609.1L1363.8 1609.2L1365.6 1609.2L1367.4 1609.3L1369.3 1609.3L1371.1 1609.4L1372.9 1609.4L1374.8 1609.4L1376.6 1609.5L1378.4 1609.5L1380.3 1609.5L1382.1 1609.6L1383.9 1609.6L1385.8 1609.6L1387.6 1609.6L1389.5 1609.7L1391.3 1609.7L1393.1 1609.7L1395 1609.7L1396.8 1609.7L1398.6 1609.7L1400.5 1609.7L1402.3 1609.8L1404.1 1609.8L1406 1609.8L1407.8 1609.8L1409.6 1609.8L1411.5 1609.8L1413.3 1609.8L1415.1 1609.8L1417 1609.8L1418.8 1609.8L1420.6 1609.8L1422.5 1609.8L1424.3 1609.8L1426.1 1609.8L1428 1609.8L1429.8 1609.8L1431.6 1609.8L1433.5 1609.8L1435.3 1609.8L1437.1 1609.8L1439 1609.9L1440.8 1609.9L1442.6 1609.9L1444.5 1609.9L1446.3 1609.9L1448.1 1609.9L1450 1609.9L1451.8 1609.9L1453.7 1609.9L1455.5 1609.9L1457.3 1610L1459.2 1610L1461 1610L1462.8 1610L1464.7 1610L1466.5 1610L1468.3 1610.1L1470.2 1610.1L1472 1610.1L1473.8 1610.1L1475.7 1610.2L1477.5 1610.2L1479.3 1610.2L1481.2 1610.3L1483 1610.3" stroke="#00dc00" stroke-width="3.2"/>
<path d="M199 1155.3L200.8 1156.9L202.7 1158.4L204.5 1159.9L206.3 1161.3L208.2 1162.6L210 1163.8L211.8 1165L213.7 1166.1L215.5 1167.1L217.3 1168L219.2 1168.9L221 1169.8L222.8 1170.5L224.7 1171.2L226.5 1171.9L228.3 1172.5L230.2 1173L232 1173.5L233.9 1174L235.7 1174.4L237.5 1174.8L239.4 1175.1L241.2 1175.4L243 1175.7L244.9 1175.9L246.7 1176.2L248.5 1176.3L250.4 1176.5L252.2 1176.7L254 1176.8L255.9 1176.9L257.7 1177L259.5 1177.1L261.4 1177.3L263.2 1177.4L265 1177.5L266.9 1177.6L268.7 1177.7L270.5 1177.8L272.4 1177.9L274.2 1178.1L276 1178.2L277.9 1178.4L279.7 1178.6L281.5 1178.9L283.4 1179.1L285.2 1179.4L287 1179.7L288.9 1180L290.7 1180.4L292.5 1180.8L294.4 1181.3L296.2 1181.7L298.1 1182.3L299.9 1182.8L301.7 1183.4L303.6 1184.1L305.4 1184.8L307.2 1185.5L309.1 1186.3L310.9 1187.1L312.7 1188L314.6 1189L316.4 1189.9L318.2 1191L320.1 1192.1L321.9 1193.2L323.7 1194.4L325.6 1195.6L327.4 1196.9L329.2 1198.3L331.1 1199.7L332.9 1201.1L334.7 1202.6L336.6 1204.2L338.4 1205.8L340.2 1207.5L342.1 1209.2L343.9 1210.9L345.7 1212.7L347.6 1214.6L349.4 1216.4L351.2 1218.4L353.1 1220.4L354.9 1222.4L356.7 1224.5L358.6 1226.6L360.4 1228.7L362.3 1230.9L364.1 1233.1L365.9 1235.3L367.8 1237.6L369.6 1239.9L371.4 1242.3L373.3 1244.7L375.1 1247L376.9 1249.5L378.8 1251.9L380.6 1254.4L382.4 1256.8L384.3 1259.3L386.1 1261.9L387.9 1264.4L389.8 1266.9L391.6 1269.4L393.4 1272L395.3 1274.5L397.1 1277.1L398.9 1279.6L400.8 1282.2L402.6 1284.7L404.4 1287.3L406.3 1289.8L408.1 1292.3L409.9 1294.9L411.8 1297.4L413.6 1299.9L415.4 1302.3L417.3 1304.8L419.1 1307.2L420.9 1309.6L422.8 1312L424.6 1314.4L426.5 1316.7L428.3 1319L430.1 1321.3L432 1323.5L433.8 1325.7L435.6 1327.9L437.5 1330L439.3 1332.1L441.1 1334.2L443 1336.2L444.8 1338.2L446.6 1340.2L448.5 1342.1L450.3 1343.9L452.1 1345.7L454 1347.5L455.8 1349.3L457.6 1350.9L459.5 1352.6L461.3 1354.2L463.1 1355.7L465 1357.2L466.8 1358.7L468.6 1360.1L470.5 1361.4L472.3 1362.8L474.1 1364L476 1365.2L477.8 1366.4L479.6 1367.5L481.5 1368.6L483.3 1369.7L485.1 1370.6L487 1371.6L488.8 1372.5L490.7 1373.3L492.5 1374.2L494.3 1374.9L496.2 1375.7L498 1376.4L499.8 1377L501.7 1377.6L503.5 1378.2L505.3 1378.7L507.2 1379.2L509 1379.7L510.8 1380.1L512.7 1380.5L514.5 1380.9L516.3 1381.3L518.2 1381.6L520 1381.9L521.8 1382.1L523.7 1382.4L525.5 1382.6L527.3 1382.8L529.2 1383L531 1383.1L532.8 1383.3L534.7 1383.4L536.5 1383.5L538.3 1383.6L540.2 1383.7L542 1383.8L543.8 1383.8L545.7 1383.9L547.5 1384L549.3 1384L551.2 1384.1L553 1384.1L554.9 1384.2L556.7 1384.3L558.5 1384.3L560.4 1384.4L562.2 1384.4L564 1384.5L565.9 1384.6L567.7 1384.7L569.5 1384.8L571.4 1384.9L573.2 1385.1L575 1385.2L576.9 1385.4L578.7 1385.6L580.5 1385.8L582.4 1386L584.2 1386.2L586 1386.5L587.9 1386.8L589.7 1387.1L591.5 1387.4L593.4 1387.8L595.2 1388.1L597 1388.5L598.9 1388.9L600.7 1389.4L602.5 1389.9L604.4 1390.4L606.2 1390.9L608 1391.5L609.9 1392L611.7 1392.6L613.5 1393.3L615.4 1393.9L617.2 1394.6L619.1 1395.4L620.9 1396.1L622.7 1396.9L624.6 1397.7L626.4 1398.5L628.2 1399.4L630.1 1400.3L631.9 1401.2L633.7 1402.1L635.6 1403.1L637.4 1404L639.2 1405.1L641.1 1406.1L642.9 1407.1L644.7 1408.2L646.6 1409.3L648.4 1410.4L650.2 1411.6L652.1 1412.7L653.9 1413.9L655.7 1415.1L657.6 1416.3L659.4 1417.6L661.2 1418.8L663.1 1420.1L664.9 1421.4L666.7 1422.6L668.6 1423.9L670.4 1425.3L672.2 1426.6L674.1 1427.9L675.9 1429.2L677.7 1430.6L679.6 1431.9L681.4 1433.3L683.3 1434.6L685.1 1436L686.9 1437.3L688.8 1438.7L690.6 1440.1L692.4 1441.4L694.3 1442.8L696.1 1444.1L697.9 1445.5L699.8 1446.8L701.6 1448.1L703.4 1449.4L705.3 1450.8L707.1 1452.1L708.9 1453.4L710.8 1454.6L712.6 1455.9L714.4 1457.1L716.3 1458.4L718.1 1459.6L719.9 1460.8L721.8 1462L723.6 1463.2L725.4 1464.3L727.3 1465.5L729.1 1466.6L730.9 1467.7L732.8 1468.8L734.6 1469.8L736.4 1470.8L738.3 1471.9L740.1 1472.8L741.9 1473.8L743.8 1474.7L745.6 1475.7L747.5 1476.6L749.3 1477.4L751.1 1478.3L753 1479.1L754.8 1479.9L756.6 1480.7L758.5 1481.4L760.3 1482.1L762.1 1482.8L764 1483.5L765.8 1484.1L767.6 1484.8L769.5 1485.3L771.3 1485.9L773.1 1486.5L775 1487L776.8 1487.5L778.6 1488L780.5 1488.4L782.3 1488.8L784.1 1489.3L786 1489.6L787.8 1490L789.6 1490.4L791.5 1490.7L793.3 1491L795.1 1491.3L797 1491.5L798.8 1491.8L800.6 1492L802.5 1492.2L804.3 1492.4L806.1 1492.6L808 1492.8L809.8 1492.9L811.7 1493.1L813.5 1493.2L815.3 1493.3L817.2 1493.4L819 1493.5L820.8 1493.6L822.7 1493.6L824.5 1493.7L826.3 1493.8L828.2 1493.8L830 1493.9L831.8 1493.9L833.7 1493.9L835.5 1494L837.3 1494L839.2 1494L841 1494.1L842.8 1494.1L844.7 1494.1L846.5 1494.2L848.3 1494.2L850.2 1494.2L852 1494.3L853.8 1494.3L855.7 1494.4L857.5 1494.4L859.3 1494.5L861.2 1494.5L863 1494.6L864.8 1494.7L866.7 1494.8L868.5 1494.9L870.3 1495L872.2 1495.1L874 1495.2L875.9 1495.4L877.7 1495.5L879.5 1495.7L881.4 1495.9L883.2 1496L885 1496.2L886.9 1496.5L888.7 1496.7L890.5 1496.9L892.4 1497.2L894.2 1497.5L896 1497.7L897.9 1498L899.7 1498.3L901.5 1498.7L903.4 1499L905.2 1499.4L907 1499.7L908.9 1500.1L910.7 1500.5L912.5 1500.9L914.4 1501.4L916.2 1501.8L918 1502.3L919.9 1502.7L921.7 1503.2L923.5 1503.7L925.4 1504.2L927.2 1504.8L929 1505.3L930.9 1505.8L932.7 1506.4L934.5 1507L936.4 1507.6L938.2 1508.2L940.1 1508.8L941.9 1509.4L943.7 1510L945.6 1510.7L947.4 1511.3L949.2 1512L951.1 1512.6L952.9 1513.3L954.7 1514L956.6 1514.7L958.4 1515.4L960.2 1516.1L962.1 1516.8L963.9 1517.5L965.7 1518.2L967.6 1518.9L969.4 1519.6L971.2 1520.3L973.1 1521L974.9 1521.8L976.7 1522.5L978.6 1523.2L980.4 1523.9L982.2 1524.7L984.1 1525.4L985.9 1526.1L987.7 1526.8L989.6 1527.5L991.4 1528.2L993.2 1528.9L995.1 1529.6L996.9 1530.3L998.7 1531L1000.6 1531.7L1002.4 1532.3L1004.3 1533L1006.1 1533.7L1007.9 1534.3L1009.8 1535L1011.6 1535.6L1013.4 1536.2L1015.3 1536.8L1017.1 1537.4L1018.9 1538L1020.8 1538.6L1022.6 1539.2L1024.4 1539.7L1026.3 1540.3L1028.1 1540.8L1029.9 1541.3L1031.8 1541.9L1033.6 1542.4L1035.4 1542.8L1037.3 1543.3L1039.1 1543.8L1040.9 1544.2L1042.8 1544.7L1044.6 1545.1L1046.4 1545.5L1048.3 1545.9L1050.1 1546.3L1051.9 1546.6L1053.8 1547L1055.6 1547.3L1057.4 1547.6L1059.3 1548L1061.1 1548.3L1062.9 1548.6L1064.8 1548.8L1066.6 1549.1L1068.5 1549.3L1070.3 1549.6L1072.1 1549.8L1074 1550L1075.8 1550.2L1077.6 1550.4L1079.5 1550.6L1081.3 1550.8L1083.1 1550.9L1085 1551.1L1086.8 1551.2L1088.6 1551.4L1090.5 1551.5L1092.3 1551.6L1094.1 1551.7L1096 1551.8L1097.8 1551.9L1099.6 1552L1101.5 1552L1103.3 1552.1L1105.1 1552.2L1107 1552.2L1108.8 1552.3L1110.6 1552.3L1112.5 1552.3L1114.3 1552.4L1116.1 1552.4L1118 1552.4L1119.8 1552.5L1121.6 1552.5L1123.5 1552.5L1125.3 1552.5L1127.1 1552.5L1129 1552.6L1130.8 1552.6L1132.7 1552.6L1134.5 1552.6L1136.3 1552.6L1138.2 1552.6L1140 1552.7L1141.8 1552.7L1143.7 1552.7L1145.5 1552.7L1147.3 1552.7L1149.2 1552.8L1151 1552.8L1152.8 1552.9L1154.7 1552.9L1156.5 1552.9L1158.3 1553L1160.2 1553.1L1162 1553.1L1163.8 1553.2L1165.7 1553.3L1167.5 1553.3L1169.3 1553.4L1171.2 1553.5L1173 1553.6L1174.8 1553.7L1176.7 1553.8L1178.5 1554L1180.3 1554.1L1182.2 1554.2L1184 1554.4L1185.8 1554.5L1187.7 1554.7L1189.5 1554.9L1191.3 1555L1193.2 1555.2L1195 1555.4L1196.9 1555.6L1198.7 1555.8L1200.5 1556L1202.4 1556.2L1204.2 1556.5L1206 1556.7L1207.9 1556.9L1209.7 1557.2L1211.5 1557.5L1213.4 1557.7L1215.2 1558L1217 1558.3L1218.9 1558.6L1220.7 1558.9L1222.5 1559.2L1224.4 1559.5L1226.2 1559.8L1228 1560.1L1229.9 1560.4L1231.7 1560.8L1233.5 1561.1L1235.4 1561.4L1237.2 1561.8L1239 1562.1L1240.9 1562.5L1242.7 1562.8L1244.5 1563.2L1246.4 1563.6L1248.2 1563.9L1250 1564.3L1251.9 1564.7L1253.7 1565.1L1255.5 1565.4L1257.4 1565.8L1259.2 1566.2L1261.1 1566.6L1262.9 1567L1264.7 1567.3L1266.6 1567.7L1268.4 1568.1L1270.2 1568.5L1272.1 1568.9L1273.9 1569.3L1275.7 1569.6L1277.6 1570L1279.4 1570.4L1281.2 1570.8L1283.1 1571.1L1284.9 1571.5L1286.7 1571.9L1288.6 1572.2L1290.4 1572.6L1292.2 1573L1294.1 1573.3L1295.9 1573.7L1297.7 1574L1299.6 1574.4L1301.4 1574.7L1303.2 1575L1305.1 1575.3L1306.9 1575.7L1308.7 1576L1310.6 1576.3L1312.4 1576.6L1314.2 1576.9L1316.1 1577.2L1317.9 1577.5L1319.7 1577.7L1321.6 1578L1323.4 1578.3L1325.3 1578.5L1327.1 1578.8L1328.9 1579L1330.8 1579.3L1332.6 1579.5L1334.4 1579.7L1336.3 1579.9L1338.1 1580.1L1339.9 1580.3L1341.8 1580.5L1343.6 1580.7L1345.4 1580.9L1347.3 1581.1L1349.1 1581.2L1350.9 1581.4L1352.8 1581.6L1354.6 1581.7L1356.4 1581.8L1358.3 1582L1360.1 1582.1L1361.9 1582.2L1363.8 1582.3L1365.6 1582.4L1367.4 1582.5L1369.3 1582.6L1371.1 1582.7L1372.9 1582.8L1374.8 1582.9L1376.6 1583L1378.4 1583L1380.3 1583.1L1382.1 1583.2L1383.9 1583.2L1385.8 1583.3L1387.6 1583.3L1389.5 1583.4L1391.3 1583.4L1393.1 1583.4L1395 1583.5L1396.8 1583.5L1398.6 1583.5L1400.5 1583.5L1402.3 1583.6L1404.1 1583.6L1406 1583.6L1407.8 1583.6L1409.6 1583.6L1411.5 1583.6L1413.3 1583.6L1415.1 1583.6L1417 1583.7L1418.8 1583.7L1420.6 1583.7L1422.5 1583.7L1424.3 1583.7L1426.1 1583.7L1428 1583.7L1429.8 1583.7L1431.6 1583.7L1433.5 1583.7L1435.3 1583.8L1437.1 1583.8L1439 1583.8L1440.8 1583.8L1442.6 1583.8L1444.5 1583.9L1446.3 1583.9L1448.1 1583.9L1450 1583.9L1451.8 1584L1453.7 1584L1455.5 1584L1457.3 1584.1L1459.2 1584.1L1461 1584.2L1462.8 1584.2L1464.7 1584.3L1466.5 1584.4L1468.3 1584.4L1470.2 1584.5L1472 1584.6L1473.8 1584.6L1475.7 1584.7L1477.5 1584.8L1479.3 1584.9L1481.2 1585L1483 1585.1" stroke="#00f" stroke-width="7.3"/>
</g>
</g>
<g id="diamonds" fill="#ff0" stroke="#f00" stroke-width="1.9" stroke-linejoin="miter">
<path d="M184.5 1155.3l14.5 -14.5l14.5 14.5l-14.5 14.5z"/>
<path d="M221.2 1174.4l14.5 -14.5l14.5 14.5l-14.5 14.5z"/>
<path d="M257.9 1177.9l14.5 -14.5l14.5 14.5l-14.5 14.5z"/>
<path d="M294.6 1186.3l14.5 -14.5l14.5 14.5l-14.5 14.5z"/>
<path d="M331.2 1212.7l14.5 -14.5l14.5 14.5l-14.5 14.5z"/>
<path d="M367.9 1256.8l14.5 -14.5l14.5 14.5l-14.5 14.5z"/>
<path d="M404.6 1307.2l14.5 -14.5l14.5 14.5l-14.5 14.5z"/>
<path d="M441.3 1349.3l14.5 -14.5l14.5 14.5l-14.5 14.5z"/>
<path d="M478 1374.2l14.5 -14.5l14.5 14.5l-14.5 14.5z"/>
<path d="M514.7 1383l14.5 -14.5l14.5 14.5l-14.5 14.5z"/>
<path d="M551.4 1384.6l14.5 -14.5l14.5 14.5l-14.5 14.5z"/>
<path d="M588 1389.9l14.5 -14.5l14.5 14.5l-14.5 14.5z"/>
<path d="M624.7 1405.1l14.5 -14.5l14.5 14.5l-14.5 14.5z"/>
<path d="M661.4 1429.2l14.5 -14.5l14.5 14.5l-14.5 14.5z"/>
<path d="M698.1 1455.9l14.5 -14.5l14.5 14.5l-14.5 14.5z"/>
<path d="M734.8 1477.4l14.5 -14.5l14.5 14.5l-14.5 14.5z"/>
<path d="M771.5 1489.6l14.5 -14.5l14.5 14.5l-14.5 14.5z"/>
<path d="M808.2 1493.6l14.5 -14.5l14.5 14.5l-14.5 14.5z"/>
<path d="M844.8 1494.5l14.5 -14.5l14.5 14.5l-14.5 14.5z"/>
<path d="M881.5 1497.7l14.5 -14.5l14.5 14.5l-14.5 14.5z"/>
<path d="M918.2 1506.4l14.5 -14.5l14.5 14.5l-14.5 14.5z"/>
<path d="M954.9 1519.6l14.5 -14.5l14.5 14.5l-14.5 14.5z"/>
<path d="M991.6 1533.7l14.5 -14.5l14.5 14.5l-14.5 14.5z"/>
<path d="M1028.3 1544.7l14.5 -14.5l14.5 14.5l-14.5 14.5z"/>
<path d="M1065 1550.6l14.5 -14.5l14.5 14.5l-14.5 14.5z"/>
<path d="M1101.6 1552.4l14.5 -14.5l14.5 14.5l-14.5 14.5z"/>
<path d="M1138.3 1552.9l14.5 -14.5l14.5 14.5l-14.5 14.5z"/>
<path d="M1175 1554.9l14.5 -14.5l14.5 14.5l-14.5 14.5z"/>
<path d="M1211.7 1559.8l14.5 -14.5l14.5 14.5l-14.5 14.5z"/>
<path d="M1248.4 1567l14.5 -14.5l14.5 14.5l-14.5 14.5z"/>
<path d="M1285.1 1574.4l14.5 -14.5l14.5 14.5l-14.5 14.5z"/>
<path d="M1321.8 1579.9l14.5 -14.5l14.5 14.5l-14.5 14.5z"/>
<path d="M1358.4 1582.8l14.5 -14.5l14.5 14.5l-14.5 14.5z"/>
<path d="M1395.1 1583.6l14.5 -14.5l14.5 14.5l-14.5 14.5z"/>
<path d="M1431.8 1583.9l14.5 -14.5l14.5 14.5l-14.5 14.5z"/>
<path d="M1468.5 1585.1l14.5 -14.5l14.5 14.5l-14.5 14.5z"/>
</g>
<g class="legend">
<rect x="1214" y="506" width="258" height="203" fill="#fff" stroke="#000" stroke-width="4"/>
<path d="M1220.7 544.4H1329.3" stroke="#00f" stroke-width="7.3" stroke-linecap="round"/>
<circle cx="1275" cy="544.4" r="11.5" fill="#ff0" stroke="#f00" stroke-width="1.9"/>
<text class="lg" transform="translate(1342.5 561) scale(0.985 1.03)"><tspan>β</tspan><tspan class="eq" dx="0">=</tspan><tspan dx="0">0.2</tspan></text>
<path d="M1219 609.5H1331" stroke="#f0f" stroke-width="3.2"/>
<text class="lg" transform="translate(1342.5 626.3) scale(0.985 1.03)"><tspan>β</tspan><tspan class="eq" dx="0">=</tspan><tspan dx="0">1.0</tspan></text>
<path d="M1219 674.8H1331" stroke="#00dc00" stroke-width="4"/>
<text class="lg" transform="translate(1342.5 691.9) scale(0.985 1.03)"><tspan>β</tspan><tspan class="eq" dx="0">=</tspan><tspan dx="0">1.5</tspan></text>
</g>
<g class="legend">
<rect x="1213" y="1069" width="258" height="215" fill="#fff" stroke="#000" stroke-width="4"/>
<path d="M1219 1108H1331" stroke="#f0f" stroke-width="3.2"/>
<text class="lg" transform="translate(1342.5 1124.7) scale(0.985 1.03)"><tspan>β</tspan><tspan class="eq" dx="0">=</tspan><tspan dx="0">0.1</tspan></text>
<path d="M1220.7 1173H1329.3" stroke="#00f" stroke-width="7.3" stroke-linecap="round"/>
<path d="M1260.5 1173l14.5 -14.5l14.5 14.5l-14.5 14.5z" fill="#ff0" stroke="#f00" stroke-width="1.9"/>
<text class="lg" transform="translate(1342.5 1190) scale(0.985 1.03)"><tspan>β</tspan><tspan class="eq" dx="0">=</tspan><tspan dx="0">0.2</tspan></text>
<path d="M1219 1237.3H1331" stroke="#00dc00" stroke-width="4"/>
<text class="lg" transform="translate(1342.5 1255.5) scale(0.985 1.03)"><tspan>β</tspan><tspan class="eq" dx="0">=</tspan><tspan dx="0">0.3</tspan></text>
</g>
<g id="ticklabels">
<text class="tk e" transform="translate(177.5 105) scale(1 1.05)">6</text>
<text class="tk e" transform="translate(177.5 194.25) scale(1 1.05)">3</text>
<text class="tk e" transform="translate(177.5 283.5) scale(1 1.05)">0</text>
<text class="tk e" transform="translate(177.5 372.75) scale(1 1.05)">-3</text>
<text class="tk e" transform="translate(177.5 462) scale(1 1.05)">-6</text>
<text class="tk e" transform="translate(177.5 574) scale(1 1.05)">10</text>
<text class="tk e" transform="translate(177.5 726) scale(1 1.05)">5</text>
<text class="tk e" transform="translate(177.5 878) scale(1 1.05)">0</text>
<text class="tk e" transform="translate(177.5 1030) scale(1 1.05)">-5</text>
<text class="tk e" transform="translate(177.5 1174.1) scale(1 1.05)">15</text>
<text class="tk e" transform="translate(177.5 1328.4) scale(1 1.05)">10</text>
<text class="tk e" transform="translate(177.5 1482.7) scale(1 1.05)">5</text>
<text class="tk e" transform="translate(177.5 1637) scale(1 1.05)">0</text>
<text class="tk m" transform="translate(200 1687.7) scale(1 1.05)">0</text>
<text class="tk m" transform="translate(383.43 1687.7) scale(1 1.05)">2</text>
<text class="tk m" transform="translate(566.86 1687.7) scale(1 1.05)">4</text>
<text class="tk m" transform="translate(750.29 1687.7) scale(1 1.05)">6</text>
<text class="tk m" transform="translate(933.71 1687.7) scale(1 1.05)">8</text>
<text class="tk m" transform="translate(1117.14 1687.7) scale(1 1.05)">10</text>
<text class="tk m" transform="translate(1300.57 1687.7) scale(1 1.05)">12</text>
<text class="tk m" transform="translate(1484 1687.7) scale(1 1.05)">14</text>
</g>
<g id="titles">
<text class="ti m" transform="translate(842.8 1768) scale(1.05 1.14)">t</text>
<text class="ti m" transform="translate(85.3 265.8) rotate(-90)">q</text>
<text class="ti sd" transform="translate(70.5 837.6) rotate(-90) scale(1.14 1)">D</text>
<text class="ti" transform="translate(69.7 778.7) rotate(-90) scale(1.04 1.04)">(t)</text>
<text class="ti" transform="translate(72.3 1408.5) rotate(-90) scale(1 1.05)">E<tspan dy="18" style="font-size:49px">n</tspan></text>
<text class="ti" transform="translate(72.2 1334.1) rotate(-90) scale(1.04 1.04)">(t)</text>
</g>
<g id="panellabels">
<text class="pl" transform="translate(233 120) scale(1.08 1.05)">A</text>
<text class="pl" transform="translate(235.3 577) scale(1 1.06)">B</text>
<text class="pl" transform="translate(235 1135) scale(0.98 1.06)">C</text>
</g>
</svg></body></html>
